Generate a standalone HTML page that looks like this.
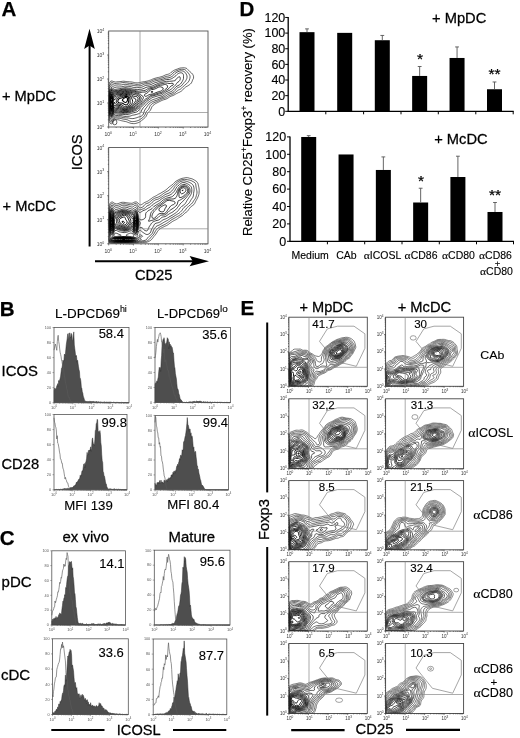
<!DOCTYPE html>
<html><head><meta charset="utf-8"><style>
html,body{margin:0;padding:0;background:#fff;}
svg{display:block;font-family:"Liberation Sans", sans-serif;filter:blur(0.3px);}
</style></head><body>
<svg width="520" height="738" viewBox="0 0 520 738">
<rect width="520" height="738" fill="#fff"/>
<clipPath id="c0"><rect x="108.70" y="31.00" width="99.30" height="96.00"/></clipPath>
<g clip-path="url(#c0)" fill="none" stroke="#000" stroke-linejoin="round"><path d="M185.9 68.1 184.4 67.8 182.9 67.8 181.4 67.9 179.9 68.1 179.0 68.4 178.0 68.8 177.0 69.2 175.6 69.6 174.5 70.1 173.5 70.6 172.8 71.1 172.0 71.7 171.0 72.5 170.5 73.0 169.5 73.7 168.5 74.1 167.5 74.4 166.0 74.8 165.1 75.1 164.1 75.6 163.1 76.1 162.1 76.5 161.0 76.8 159.6 77.2 158.6 77.4 157.1 77.7 156.1 78.0 154.9 78.3 153.6 78.7 152.6 79.1 151.6 79.6 150.7 80.0 149.7 80.3 148.6 80.7 147.2 81.1 146.2 81.3 144.7 81.6 143.7 81.7 142.2 82.0 141.2 82.2 139.7 82.5 138.7 82.7 137.2 82.9 135.8 82.8 134.5 82.6 133.3 82.3 132.3 82.1 130.8 81.9 129.3 81.8 127.8 81.7 126.8 81.6 125.3 81.4 123.8 81.2 122.4 81.3 120.9 81.5 119.4 81.6 118.4 81.7 116.9 81.9 115.4 82.0 113.9 81.7 112.9 81.3 111.9 80.9 110.8 81.2 109.9 81.9 109.4 82.6 108.9 83.6 108.7 85.0 108.6 86.4 108.6 87.9 108.5 89.3 108.5 90.8 108.5 92.2 108.5 93.6 108.5 95.1 108.5 96.5 108.5 98.0 108.5 99.4 108.5 100.8 108.5 102.3 108.5 103.7 108.5 105.2 108.5 106.6 108.5 108.0 108.5 109.5 108.5 110.9 108.5 112.4 108.5 113.8 108.5 115.2 108.6 116.7 108.7 118.1 108.8 119.6 108.9 121.0 109.3 122.0 109.9 122.9 110.4 123.5 111.4 123.9 112.3 123.4 112.9 122.5 113.4 121.6 113.9 120.8 114.5 120.0 115.4 119.5 116.7 119.6 117.9 119.8 119.2 120.0 120.4 120.4 121.4 120.7 122.8 121.0 123.8 121.2 125.3 121.5 126.3 121.7 127.3 122.1 128.3 122.5 129.5 122.9 130.8 123.3 131.8 123.5 133.3 123.6 134.8 123.6 135.8 123.4 137.2 123.0 138.2 122.7 139.2 122.3 140.2 121.7 141.2 121.0 141.7 120.5 142.7 119.6 143.4 119.1 144.2 118.4 145.1 117.6 145.7 117.0 146.2 116.2 146.7 115.2 147.2 113.8 147.7 113.0 148.3 112.4 149.2 111.6 149.9 110.9 150.5 110.0 151.0 109.0 151.4 108.0 151.8 107.1 152.4 106.1 153.1 105.4 154.0 104.7 154.7 104.2 155.6 103.6 156.6 103.1 157.6 102.6 158.6 102.1 159.6 101.6 160.6 101.1 161.6 100.6 162.6 100.2 163.6 99.8 165.1 99.4 166.0 99.1 167.0 98.6 168.0 98.0 168.8 97.5 169.5 97.0 170.5 96.5 171.6 96.0 172.8 95.6 173.9 95.1 174.8 94.6 175.6 94.1 176.5 93.6 177.5 93.1 178.5 92.6 179.5 92.2 180.4 91.7 181.4 91.1 182.4 90.3 182.9 89.7 183.6 88.8 184.4 88.0 185.2 87.4 185.9 86.9 186.9 86.3 187.9 85.8 188.9 85.1 189.8 84.5 190.4 84.0 191.3 83.1 191.8 82.1 192.2 81.2 192.5 80.2 193.0 79.2 193.5 78.3 193.6 76.8 193.4 75.8 192.9 74.7 192.4 73.9 191.5 73.0 190.9 72.5 189.9 71.7 189.3 71.1 188.4 70.1 187.9 69.6 187.0 68.7 186.2 68.2 185.9 68.1" stroke-width="0.6"/><path d="M184.4 69.5 182.9 69.3 181.4 69.3 179.9 69.5 179.0 69.8 178.0 70.2 176.8 70.6 175.7 71.1 174.8 71.6 174.0 72.1 173.0 73.0 172.5 73.6 171.6 74.4 171.0 74.9 170.0 75.5 169.0 75.9 167.5 76.2 166.4 76.4 165.1 76.8 164.1 77.2 163.1 77.6 162.1 77.9 160.7 78.3 159.6 78.5 158.6 78.8 157.1 79.1 156.1 79.3 154.6 79.6 153.6 80.0 152.6 80.4 151.6 80.9 150.7 81.4 149.7 81.8 148.4 82.1 147.2 82.3 145.7 82.6 144.7 82.7 143.2 83.1 142.2 83.4 141.2 83.7 140.2 84.0 138.7 84.3 137.2 84.4 135.8 84.3 134.5 84.0 133.3 83.8 132.1 83.6 130.8 83.4 129.3 83.4 127.8 83.1 126.8 82.9 125.3 82.7 124.3 82.5 122.9 82.6 121.9 82.7 120.4 83.0 119.4 83.1 117.9 83.2 116.4 83.4 114.9 83.5 113.5 83.1 112.6 82.6 111.4 82.4 110.4 83.0 109.9 83.6 109.1 84.5 108.9 85.5 108.7 86.9 108.6 88.4 108.6 89.8 108.6 91.2 108.5 92.7 108.5 94.1 108.5 95.6 108.5 97.0 108.5 98.4 108.5 99.9 108.5 101.3 108.5 102.8 108.5 104.2 108.5 105.6 108.5 107.1 108.5 108.5 108.5 110.0 108.5 111.4 108.5 112.8 108.6 114.3 108.6 115.7 108.7 117.2 108.8 118.6 109.0 119.6 109.5 120.5 110.1 121.5 110.9 122.1 111.9 121.9 112.7 121.0 113.3 120.0 113.9 119.1 114.4 118.5 115.4 118.1 116.7 118.1 117.9 118.2 119.4 118.3 120.9 118.5 121.9 118.8 123.2 119.1 124.3 119.3 125.8 119.5 126.8 119.7 127.9 120.0 128.8 120.5 129.8 121.0 131.2 121.5 132.3 121.6 133.8 121.5 134.8 121.4 136.3 121.1 137.2 120.8 138.2 120.5 139.2 120.0 140.2 119.4 141.2 118.7 142.0 118.1 142.7 117.5 143.7 116.7 144.2 116.2 144.8 115.2 145.2 114.3 145.7 112.8 146.2 111.9 146.7 111.3 147.5 110.4 148.2 109.7 148.7 109.0 149.2 108.0 149.7 106.7 150.2 105.7 150.7 105.1 151.6 104.2 152.3 103.7 153.1 103.2 154.1 102.7 155.1 102.3 156.3 101.8 157.4 101.3 158.5 100.8 159.4 100.4 160.3 99.9 161.2 99.4 162.3 98.9 163.6 98.5 164.6 98.2 165.5 97.8 166.5 97.2 167.5 96.6 168.4 96.0 169.4 95.6 170.5 95.1 171.5 94.7 172.5 94.3 173.5 93.8 174.5 93.2 175.2 92.7 176.0 92.0 176.8 91.2 177.5 90.7 178.5 90.0 179.5 89.6 180.4 89.2 181.4 88.4 181.9 87.8 182.8 86.9 183.4 86.3 184.4 85.5 185.0 85.0 185.9 84.2 186.7 83.6 187.4 82.9 188.1 82.1 188.8 81.2 189.3 80.2 189.6 79.2 189.9 78.3 190.1 76.8 189.9 75.6 189.4 74.6 188.9 73.8 188.2 73.0 187.4 72.0 186.9 71.5 186.1 70.6 185.4 70.0 184.4 69.5" stroke-width="0.63"/><path d="M182.9 71.0 181.4 70.8 179.9 71.0 179.0 71.3 178.0 71.7 177.0 72.1 176.0 72.7 175.1 73.5 174.5 74.1 173.8 74.9 173.0 75.6 172.1 76.4 171.3 76.8 170.3 77.3 169.0 77.7 168.0 77.9 166.5 78.0 165.1 78.3 164.1 78.7 163.1 79.1 162.1 79.4 160.6 79.7 159.6 79.9 158.4 80.2 157.1 80.5 156.1 80.7 154.6 81.1 153.6 81.5 152.6 81.9 151.6 82.4 150.7 82.9 149.7 83.3 148.4 83.6 147.2 83.7 145.7 83.8 144.7 84.0 143.4 84.5 142.4 85.0 141.3 85.5 140.2 85.7 138.7 85.9 137.2 85.9 135.8 85.8 134.3 85.6 133.3 85.4 131.8 85.1 130.3 85.0 129.3 85.0 127.8 84.7 126.7 84.5 125.3 84.3 123.8 84.3 122.9 84.6 121.4 84.9 119.9 85.0 118.4 84.9 116.9 85.0 115.9 85.1 114.4 85.2 113.4 84.8 112.4 84.2 111.4 84.0 110.5 84.5 109.9 85.1 109.3 86.0 108.9 86.9 108.8 88.4 108.7 89.8 108.6 91.2 108.6 92.7 108.5 94.1 108.5 95.6 108.5 97.0 108.5 98.4 108.5 99.9 108.5 101.3 108.5 102.8 108.5 104.2 108.5 105.6 108.5 107.1 108.5 108.5 108.5 110.0 108.5 111.4 108.6 112.8 108.6 114.3 108.7 115.7 108.9 117.2 109.1 118.1 109.6 119.1 110.3 120.0 110.9 120.5 111.9 120.3 112.5 119.6 113.2 118.6 113.9 117.6 114.4 117.2 115.9 116.8 117.4 116.9 118.9 116.9 120.4 117.0 121.5 117.2 122.9 117.5 123.8 117.7 125.3 117.9 126.8 117.9 128.3 118.0 129.3 118.2 130.8 118.5 131.8 118.6 132.8 118.6 134.3 118.4 135.3 118.1 136.8 117.7 137.7 117.3 138.7 117.0 140.0 116.7 141.2 116.2 142.0 115.7 142.7 115.1 143.2 114.3 143.7 113.0 144.0 111.9 144.4 110.9 144.8 110.0 145.4 109.0 146.1 108.0 146.7 107.3 147.2 106.6 147.8 105.6 148.5 104.7 149.2 103.9 150.0 103.2 150.7 102.8 151.6 102.2 152.6 101.7 153.6 101.3 154.9 100.8 156.1 100.4 157.1 100.0 158.1 99.6 159.1 99.1 160.1 98.6 161.1 98.2 162.1 97.8 163.1 97.4 164.1 97.0 165.1 96.4 166.0 95.7 166.9 95.1 167.7 94.6 168.9 94.1 170.0 93.7 171.0 93.4 172.0 93.0 173.0 92.5 174.0 91.7 174.5 91.2 175.3 90.3 176.0 89.3 176.5 88.7 177.4 87.9 178.4 87.4 179.5 87.0 180.4 86.5 181.2 86.0 181.9 85.2 182.6 84.5 183.3 83.6 183.9 82.8 184.6 82.1 185.4 81.2 185.9 80.4 186.4 79.4 186.9 78.3 187.0 77.3 187.0 75.9 186.6 74.9 186.2 74.0 185.6 73.0 184.9 72.2 184.2 71.6 183.2 71.1 182.9 71.0" stroke-width="0.66"/><path d="M181.9 72.9 180.4 72.8 179.5 73.0 178.4 73.5 177.5 74.1 176.6 74.9 176.0 75.6 175.1 76.4 174.5 76.8 173.5 77.5 172.5 78.2 171.5 78.7 170.5 79.1 169.5 79.4 168.0 79.5 166.5 79.5 165.4 79.7 164.1 80.2 163.1 80.5 162.1 80.8 160.6 81.1 159.6 81.3 158.4 81.6 157.2 82.1 156.1 82.5 155.1 82.7 154.1 83.1 152.9 83.6 152.1 84.0 151.1 84.5 149.7 84.9 148.7 85.1 147.2 85.2 145.7 85.4 144.7 85.8 143.7 86.3 142.7 86.8 141.7 87.2 140.7 87.4 139.2 87.6 137.7 87.6 136.3 87.7 134.8 87.6 133.4 87.4 132.3 87.1 131.3 86.8 129.8 86.6 128.5 86.4 127.3 86.3 125.8 86.1 124.3 86.2 123.3 86.5 121.9 86.8 120.9 86.9 119.4 87.0 117.9 87.0 116.4 87.1 114.9 87.4 113.5 86.9 112.9 86.4 111.9 85.8 110.8 86.0 109.9 86.7 109.4 87.5 108.9 88.5 108.8 89.8 108.7 91.2 108.7 92.7 108.6 94.1 108.6 95.6 108.5 97.0 108.5 98.4 108.5 99.9 108.5 101.3 108.5 102.8 108.5 104.2 108.5 105.6 108.5 107.1 108.5 108.5 108.6 110.0 108.6 111.4 108.7 112.8 108.8 114.3 108.9 115.7 109.3 116.7 109.7 117.6 110.4 118.6 111.4 119.0 112.4 118.2 112.9 117.5 113.6 116.7 114.4 115.8 115.4 115.4 116.9 115.5 118.4 115.6 119.9 115.6 121.0 115.7 122.4 115.9 123.6 116.2 124.8 116.4 126.3 116.4 127.8 116.3 129.3 116.2 130.3 116.0 131.3 115.7 132.6 115.2 133.8 115.0 135.0 114.8 136.3 114.5 137.2 114.2 138.4 113.8 139.5 113.3 140.2 112.8 141.0 111.9 141.4 110.9 141.8 110.0 142.4 109.0 143.1 108.0 143.7 107.3 144.4 106.6 145.2 105.8 145.7 105.2 146.5 104.2 147.2 103.4 147.9 102.8 148.7 102.1 149.7 101.5 150.6 100.8 151.4 100.4 152.4 99.9 153.6 99.4 154.6 99.1 155.6 98.8 156.6 98.4 157.7 98.0 159.0 97.5 160.1 97.2 161.1 96.9 162.1 96.5 163.1 96.0 164.1 95.3 164.9 94.6 165.5 94.1 166.5 93.4 167.5 93.0 168.5 92.6 169.6 92.2 170.9 91.7 171.8 91.2 172.5 90.7 173.5 89.8 174.0 89.2 174.7 88.4 175.5 87.4 176.0 86.9 177.0 86.1 178.0 85.6 179.0 85.1 179.9 84.5 180.5 84.0 181.2 83.1 181.8 82.1 182.4 81.2 182.9 80.2 183.3 79.2 183.5 78.3 183.5 76.8 183.5 75.4 183.3 74.4 182.8 73.5 181.9 72.9" stroke-width="0.69"/><path d="M179.5 76.7 178.5 77.1 177.5 77.8 176.9 78.3 176.1 79.2 175.6 80.2 175.0 80.7 173.5 80.9 172.0 81.1 171.0 81.2 169.5 81.3 168.0 81.3 166.5 81.3 165.1 81.5 164.1 81.8 163.0 82.1 161.6 82.4 160.4 82.6 159.1 83.0 158.1 83.4 157.1 83.9 156.1 84.3 155.1 84.7 154.1 85.1 153.1 85.6 152.1 86.0 150.7 86.4 149.7 86.6 148.2 86.8 147.2 87.1 146.1 87.4 145.0 87.9 144.1 88.4 142.9 88.8 141.7 89.2 140.7 89.4 139.2 89.5 137.7 89.6 136.3 89.5 134.8 89.3 133.8 89.2 132.3 88.9 131.3 88.6 130.3 88.3 128.8 88.1 127.5 87.9 126.3 87.7 124.8 87.7 123.8 87.9 122.4 88.2 121.4 88.4 119.9 88.7 118.7 88.8 117.4 89.0 115.9 89.3 114.9 89.4 113.9 89.2 112.9 88.5 112.3 87.9 110.9 87.6 110.1 88.4 109.6 89.3 109.2 90.3 108.9 91.2 108.8 92.7 108.7 94.1 108.6 95.6 108.6 97.0 108.6 98.4 108.6 99.9 108.6 101.3 108.6 102.8 108.6 104.2 108.6 105.6 108.6 107.1 108.6 108.5 108.7 110.0 108.7 111.4 108.8 112.8 108.9 114.2 109.4 115.2 109.8 116.2 110.4 117.1 111.4 117.5 112.4 116.8 112.9 116.1 113.5 115.2 114.3 114.3 115.4 113.9 116.9 114.0 118.4 114.2 119.9 114.3 120.9 114.3 122.4 114.4 123.8 114.5 125.3 114.6 126.8 114.5 128.3 114.3 129.3 114.1 130.3 113.8 131.6 113.3 132.8 112.9 133.8 112.7 135.1 112.4 136.3 112.1 137.2 111.7 138.2 111.0 138.7 110.4 139.3 109.5 140.0 108.5 140.7 107.7 141.4 107.1 142.2 106.3 142.9 105.6 143.7 104.8 144.2 104.2 145.0 103.2 145.7 102.5 146.4 101.8 147.2 101.1 148.2 100.4 149.0 99.9 149.7 99.4 150.7 98.7 151.6 98.0 152.6 97.5 153.6 97.2 154.6 96.9 155.8 96.5 157.1 96.1 158.1 95.8 159.4 95.6 160.6 95.4 161.6 95.1 162.6 94.5 163.6 93.7 164.2 93.2 165.1 92.5 166.0 91.9 167.0 91.4 168.0 91.0 169.0 90.5 170.0 90.0 170.9 89.3 171.6 88.8 172.5 88.0 173.2 87.4 174.0 86.6 174.6 86.0 175.5 85.0 176.0 84.3 176.5 83.6 177.2 82.6 178.0 82.1 179.0 81.4 179.6 80.7 180.1 79.7 180.3 78.3 179.9 76.9 179.5 76.7" stroke-width="0.72"/><path d="M167.0 83.1 165.5 83.0 164.6 83.1 163.1 83.5 162.1 83.7 160.6 83.9 159.6 84.2 158.6 84.6 157.6 85.0 156.6 85.5 155.6 86.0 154.6 86.4 153.6 86.9 152.1 87.4 151.2 87.5 149.7 87.9 148.7 88.2 147.7 88.8 146.9 89.3 146.2 89.8 145.2 90.3 143.7 90.6 142.2 90.7 141.2 90.9 139.7 91.2 138.2 91.2 136.8 90.9 135.8 90.7 134.3 90.4 133.3 90.2 131.8 89.9 130.8 89.7 129.3 89.3 128.3 89.1 126.8 88.9 125.8 88.8 124.4 88.8 123.3 89.0 122.0 89.3 120.9 89.6 119.7 89.8 118.4 90.0 117.0 90.3 115.9 90.5 114.4 90.6 113.4 90.1 112.5 89.3 111.8 88.8 110.9 88.8 110.1 89.8 109.6 90.8 109.2 91.7 108.9 92.7 108.8 94.1 108.7 95.6 108.7 97.0 108.6 98.4 108.6 99.9 108.6 101.3 108.6 102.8 108.6 104.2 108.6 105.6 108.6 107.1 108.7 108.5 108.7 110.0 108.8 111.4 108.9 112.8 109.2 113.8 109.6 114.8 110.2 115.7 110.9 116.5 112.0 116.2 112.8 115.2 113.4 114.3 113.9 113.5 114.5 112.8 115.9 112.6 117.4 112.8 118.4 113.0 119.9 113.1 121.4 113.2 122.9 113.3 124.3 113.3 125.8 113.2 127.3 113.1 128.8 112.9 129.8 112.6 130.8 112.3 131.8 111.9 133.0 111.4 134.3 111.0 135.3 110.7 136.3 110.3 137.2 109.6 137.8 109.0 138.6 108.0 139.2 107.4 140.0 106.6 140.7 105.9 141.5 105.2 142.2 104.4 142.8 103.7 143.6 102.8 144.2 102.0 144.8 101.3 145.7 100.5 146.5 99.9 147.3 99.4 148.2 98.8 149.2 98.0 149.8 97.5 150.7 96.8 151.6 96.3 152.6 96.0 154.1 95.6 155.1 95.3 156.1 94.9 157.1 94.6 158.6 94.2 159.6 94.0 161.1 93.7 162.1 93.2 162.9 92.7 163.6 92.1 164.6 91.3 165.4 90.8 166.2 90.3 167.1 89.8 168.0 89.2 169.0 88.4 169.5 87.7 170.1 86.9 171.0 86.0 172.0 85.6 173.0 85.1 173.5 84.2 173.2 83.6 172.0 83.2 170.5 83.5 169.0 83.5 167.5 83.2 167.0 83.1" stroke-width="0.75"/><path d="M165.5 84.5 164.5 84.5 163.1 84.9 162.1 85.1 160.6 85.2 159.1 85.5 158.1 85.9 157.1 86.4 156.1 86.9 155.1 87.4 154.1 87.8 153.1 88.2 152.0 88.4 150.7 88.6 149.7 89.0 148.7 89.7 148.0 90.3 147.2 91.1 146.2 91.7 145.2 92.0 143.7 92.1 142.4 92.2 141.2 92.4 139.7 92.5 138.2 92.3 137.2 92.0 136.3 91.7 134.8 91.3 133.8 91.1 132.3 90.8 131.3 90.6 129.9 90.3 128.8 90.0 127.3 89.8 126.3 89.7 124.8 89.6 123.3 89.7 122.4 89.9 120.9 90.3 119.9 90.5 118.5 90.8 117.4 91.0 115.9 91.2 114.9 91.4 113.9 91.2 112.9 90.5 112.1 89.8 110.9 89.6 110.3 90.3 109.8 91.2 109.4 92.2 108.9 93.5 108.8 94.6 108.8 96.0 108.7 97.5 108.6 98.9 108.6 100.4 108.6 101.8 108.6 103.2 108.7 104.7 108.7 106.1 108.7 107.6 108.8 109.0 108.8 110.4 108.9 111.9 109.2 112.8 109.5 113.8 110.0 114.8 110.8 115.7 111.8 115.7 112.4 115.2 113.0 114.3 113.5 113.3 114.1 112.4 114.9 111.7 116.4 111.7 117.6 111.9 118.9 112.1 120.4 112.3 121.4 112.4 122.9 112.5 124.3 112.5 125.8 112.4 127.3 112.4 128.3 112.2 129.6 111.9 130.7 111.4 131.7 110.9 132.8 110.4 133.8 110.0 134.8 109.7 135.8 109.2 136.8 108.6 137.3 108.0 138.2 107.1 138.7 106.6 139.7 105.6 140.2 105.1 141.0 104.2 141.7 103.3 142.2 102.6 142.8 101.8 143.6 100.8 144.2 100.2 145.0 99.4 145.7 98.9 146.7 98.3 147.7 97.7 148.5 97.0 149.2 96.5 150.2 95.8 151.2 95.4 152.4 95.1 153.6 94.8 154.6 94.5 155.6 94.1 156.7 93.6 158.1 93.2 159.1 92.9 160.1 92.7 161.6 92.3 162.5 91.7 163.1 91.2 164.1 90.4 164.7 89.8 165.5 89.2 166.5 88.5 167.1 87.9 167.6 86.9 167.5 85.8 166.8 85.0 165.8 84.5 165.5 84.5" stroke-width="0.78"/><path d="M127.8 90.7 126.3 90.5 124.8 90.4 123.3 90.6 122.2 90.8 120.9 91.0 119.8 91.2 118.4 91.5 117.4 91.7 115.9 92.0 114.9 92.2 113.9 92.1 112.9 91.3 112.3 90.8 110.9 90.5 110.3 91.2 109.8 92.2 109.4 93.2 108.9 94.6 108.9 95.6 108.8 97.0 108.7 98.4 108.7 99.9 108.7 101.3 108.7 102.8 108.7 104.2 108.7 105.6 108.7 107.1 108.8 108.5 108.9 110.0 109.0 110.9 109.3 112.4 109.7 113.3 110.1 114.3 110.9 115.2 111.5 115.2 112.4 114.5 112.9 113.6 113.4 112.6 113.9 111.7 114.6 110.9 115.9 110.6 117.4 110.8 118.5 110.9 119.9 111.3 120.9 111.5 122.4 111.8 123.8 111.8 125.3 111.7 126.8 111.7 128.3 111.5 129.3 111.2 130.3 110.7 131.3 110.1 132.3 109.7 133.3 109.2 134.3 108.8 135.3 108.3 136.3 107.7 136.9 107.1 137.7 106.1 138.2 105.5 139.0 104.7 139.7 103.9 140.3 103.2 140.9 102.3 141.5 101.3 142.1 100.4 142.7 99.4 143.2 98.4 143.4 97.5 143.1 96.5 142.2 95.9 141.2 95.1 140.5 94.6 139.7 94.1 138.7 93.6 137.5 93.2 136.3 92.7 135.3 92.3 134.3 92.1 132.8 91.8 131.8 91.6 130.3 91.3 129.3 91.0 128.0 90.8 127.8 90.7 M160.6 86.8 159.1 86.9 158.1 87.3 157.1 87.9 156.2 88.4 155.2 88.8 154.1 89.2 153.1 89.4 151.6 89.6 150.7 89.9 149.7 90.6 149.0 91.2 148.2 92.2 147.7 92.7 146.7 93.3 145.7 93.7 144.7 94.4 144.4 95.6 145.2 96.3 146.7 96.1 147.6 95.6 148.3 95.1 149.2 94.6 150.7 94.3 152.1 94.1 153.1 93.9 154.1 93.5 155.1 93.0 156.1 92.6 157.2 92.2 158.6 91.7 159.6 91.4 160.6 91.2 161.7 90.8 162.6 89.9 163.1 89.0 163.1 87.9 162.4 87.4 161.1 87.0 160.6 86.8" stroke-width="0.81"/><path d="M111.4 91.1 110.5 91.7 110.0 92.7 109.6 93.6 109.2 94.6 108.9 95.7 108.8 97.0 108.8 98.4 108.7 99.9 108.7 101.3 108.8 102.8 108.8 104.2 108.8 105.6 108.8 107.1 108.9 108.5 109.0 109.5 109.2 110.9 109.5 111.9 109.9 113.2 110.4 114.1 111.4 114.6 112.4 113.8 112.9 112.8 113.3 111.9 113.8 110.9 114.4 110.0 115.4 109.6 116.9 109.6 118.4 109.8 119.4 110.0 120.5 110.4 121.9 110.9 122.9 111.0 124.3 111.1 125.8 111.1 127.3 111.0 128.3 110.7 129.3 110.3 130.3 109.7 131.3 109.2 132.3 108.7 133.3 108.2 134.3 107.8 135.3 107.2 135.9 106.6 136.7 105.6 137.2 104.9 137.8 104.2 138.7 103.2 139.2 102.6 139.8 101.8 140.2 100.8 140.7 99.8 141.2 98.4 140.9 97.0 140.2 96.1 139.7 95.6 138.7 94.9 137.7 94.3 136.8 93.9 135.8 93.6 134.3 93.2 133.3 93.0 132.0 92.7 130.8 92.3 129.8 92.0 128.8 91.7 127.3 91.5 125.8 91.4 124.3 91.4 122.9 91.5 121.5 91.7 120.4 91.9 118.9 92.2 117.9 92.4 116.7 92.7 115.4 93.1 114.4 93.2 113.4 92.7 112.9 92.2 111.9 91.3 111.4 91.1 M152.6 91.4 151.2 91.7 151.2 92.2 152.6 92.3 152.6 91.4" stroke-width="0.84"/><path d="M111.9 92.0 110.8 92.2 110.1 93.2 109.7 94.1 109.4 95.1 109.0 96.5 108.9 97.5 108.8 98.9 108.8 100.4 108.8 101.8 108.8 103.2 108.9 104.7 108.9 106.1 108.9 107.6 109.0 108.5 109.3 110.0 109.5 110.9 109.9 112.4 110.4 113.3 110.9 113.9 111.9 113.7 112.5 112.8 112.9 111.9 113.4 110.7 113.9 109.6 114.4 108.9 115.4 108.4 116.9 108.4 117.9 108.5 119.4 108.9 120.4 109.4 121.4 109.8 122.4 110.2 123.8 110.4 125.3 110.4 126.8 110.3 128.2 110.0 129.1 109.5 129.9 109.0 130.8 108.5 131.8 108.0 132.8 107.5 133.8 107.0 134.8 106.2 135.3 105.6 136.0 104.7 136.7 103.7 137.2 103.1 138.0 102.3 138.6 101.3 139.1 100.4 139.5 99.4 139.7 98.0 139.2 96.9 138.5 96.0 137.7 95.6 136.5 95.1 135.3 94.8 133.8 94.6 132.8 94.2 131.8 93.7 130.8 93.2 129.8 92.8 128.8 92.5 127.3 92.3 125.8 92.2 124.3 92.3 122.9 92.5 121.4 92.6 120.4 92.8 118.9 93.0 117.9 93.2 116.5 93.6 115.4 94.1 114.4 94.2 113.4 93.6 112.9 93.0 112.1 92.2 111.9 92.0" stroke-width="0.86"/><path d="M111.4 92.7 110.7 93.2 110.1 94.1 109.7 95.1 109.4 96.1 109.1 97.5 108.9 98.4 108.9 99.9 108.9 101.3 108.9 102.8 108.9 104.0 109.0 105.2 109.0 106.6 109.2 108.0 109.4 109.3 109.7 110.4 109.9 111.4 110.4 112.6 111.4 113.3 112.3 112.4 112.8 111.4 113.1 110.4 113.5 109.5 113.9 108.3 114.4 107.4 115.4 107.0 116.5 107.1 117.9 107.3 118.9 107.6 119.9 108.0 120.9 108.5 121.9 109.1 123.0 109.5 124.3 109.7 125.8 109.7 127.2 109.5 128.3 109.0 129.1 108.5 130.0 108.0 130.9 107.6 131.8 107.1 132.8 106.5 133.8 105.6 134.3 105.0 134.9 104.2 135.6 103.2 136.3 102.5 136.8 101.8 137.5 100.8 137.9 99.9 138.1 98.4 137.7 97.4 136.8 96.7 135.3 96.5 134.3 96.4 133.3 96.0 132.3 95.3 131.3 94.6 130.5 94.1 129.6 93.6 128.3 93.2 127.3 93.0 125.8 93.0 124.6 93.2 123.3 93.4 121.9 93.6 120.9 93.6 119.4 93.8 117.9 94.1 116.9 94.4 115.9 95.0 114.9 95.5 113.8 95.1 113.0 94.1 112.4 93.3 111.4 92.7 111.4 92.7" stroke-width="0.89"/><path d="M111.4 93.4 110.6 94.1 110.1 95.1 109.8 96.0 109.4 97.2 109.1 98.4 109.0 99.9 109.0 101.3 109.1 102.8 109.2 104.2 109.2 105.6 109.3 107.1 109.5 108.0 109.7 109.5 110.0 110.4 110.4 111.8 110.9 112.4 111.9 112.1 112.4 111.3 112.9 110.0 113.2 109.0 113.5 108.0 113.8 106.6 114.3 105.6 115.4 105.5 116.4 105.8 117.7 106.1 118.9 106.5 119.9 106.9 120.9 107.4 121.9 108.0 122.9 108.5 123.8 108.8 125.3 109.0 126.8 108.7 127.8 108.3 128.8 107.7 129.8 107.2 130.8 106.7 131.7 106.1 132.3 105.6 133.0 104.7 133.7 103.7 134.3 102.9 134.8 102.2 135.4 101.3 135.9 100.4 135.8 99.2 134.8 98.4 133.8 98.0 133.1 97.5 132.3 96.8 131.5 96.0 130.8 95.4 129.8 94.7 128.8 94.1 127.8 93.8 126.3 93.7 124.8 93.9 123.8 94.2 122.4 94.5 121.0 94.6 119.9 94.6 118.4 94.9 117.4 95.3 116.4 96.0 115.9 96.6 114.9 97.2 113.9 96.7 113.4 95.9 112.9 95.0 112.4 94.1 111.4 93.4" stroke-width="0.92"/><path d="M127.3 94.5 125.8 94.5 124.8 94.8 123.8 95.1 122.4 95.5 121.4 95.6 119.9 95.7 118.4 96.0 117.7 96.5 116.9 97.4 116.4 98.0 115.6 98.9 114.9 99.7 114.3 99.9 113.9 98.9 113.4 97.5 113.1 96.5 112.7 95.6 112.0 94.6 110.9 94.5 110.4 95.2 109.9 96.5 109.6 97.5 109.4 98.5 109.3 99.9 109.3 101.3 109.4 102.8 109.4 104.2 109.5 105.2 109.5 106.6 109.7 108.0 109.9 109.1 110.3 110.4 110.8 111.4 111.8 111.4 112.4 110.4 112.7 109.5 113.0 108.5 113.3 107.1 113.4 105.7 113.6 104.7 113.9 103.3 114.4 102.3 114.9 103.3 115.7 104.2 116.6 104.7 117.9 105.1 118.9 105.3 120.0 105.6 121.1 106.1 121.9 106.6 122.9 107.3 123.8 107.8 124.8 108.1 125.8 108.0 127.2 107.6 128.0 107.1 129.0 106.6 129.9 106.1 130.8 105.5 131.5 104.7 132.0 103.7 132.3 102.6 132.7 101.3 132.4 99.9 131.9 98.9 131.5 98.0 130.9 97.0 130.3 96.3 129.5 95.6 128.8 95.1 127.6 94.6 127.3 94.5" stroke-width="0.95"/><path d="M111.9 95.4 110.8 95.6 110.3 96.5 109.9 97.5 109.6 98.9 109.5 100.4 109.6 101.8 109.6 103.2 109.7 104.7 109.7 106.1 109.9 107.6 110.1 108.5 110.4 109.8 110.9 110.7 111.9 110.4 112.4 109.2 112.7 108.0 112.9 106.6 113.0 105.6 113.2 104.2 113.2 102.8 113.3 101.3 113.3 99.9 113.1 98.4 112.9 97.5 112.4 96.2 111.9 95.4 M127.3 95.4 125.8 95.4 124.8 95.6 123.8 96.0 122.5 96.5 121.4 96.7 119.9 96.9 118.9 97.3 118.1 98.0 117.4 98.8 116.9 99.5 116.4 100.5 116.2 101.8 116.4 102.8 117.4 103.7 118.4 104.0 119.4 104.2 120.9 104.5 121.9 104.9 122.9 105.6 123.5 106.1 124.3 106.7 125.8 106.8 126.8 106.5 127.8 106.0 128.8 105.5 129.8 104.7 130.2 103.7 130.1 102.3 130.0 100.8 130.1 99.4 129.9 98.0 129.5 97.0 128.8 96.2 127.8 95.6 127.3 95.4" stroke-width="0.98"/><path d="M111.4 96.0 110.7 96.5 110.3 97.5 109.9 98.8 109.8 99.9 109.8 101.3 109.9 102.8 109.9 104.2 110.0 105.2 110.1 106.6 110.3 108.0 110.6 109.0 111.4 109.9 112.1 109.0 112.4 107.7 112.6 106.6 112.7 105.2 112.8 103.7 112.8 102.3 112.8 100.8 112.8 99.4 112.6 98.0 112.2 97.0 111.5 96.0 111.4 96.0 M127.3 96.5 125.8 96.3 124.8 96.6 123.8 97.1 122.9 97.5 121.4 98.0 120.4 98.2 119.4 98.6 118.5 99.4 118.0 100.4 117.7 101.3 118.2 102.3 119.1 102.8 120.4 103.0 121.9 103.1 122.9 103.4 123.8 104.0 124.8 104.6 125.8 104.9 126.8 104.7 127.8 104.0 128.3 103.0 128.5 101.8 128.7 100.4 128.8 98.9 128.4 97.5 127.8 96.8 127.3 96.5" stroke-width="1.01"/><path d="M111.4 96.9 110.7 97.5 110.3 98.4 110.1 99.9 110.1 101.3 110.1 102.8 110.2 104.2 110.3 105.6 110.4 107.0 110.7 108.0 111.4 108.8 111.9 108.0 112.2 106.6 112.3 105.2 112.4 103.7 112.4 102.8 112.4 101.3 112.4 99.9 112.3 98.9 111.9 97.5 111.4 96.9 M126.3 97.5 125.3 97.5 124.3 98.0 123.3 98.8 122.7 99.4 122.3 100.4 122.9 100.9 123.8 101.7 124.8 102.2 125.8 102.4 126.8 101.8 127.3 100.8 127.5 99.9 127.4 98.4 126.8 97.7 126.3 97.5" stroke-width="1.04"/><path d="M111.4 98.1 110.7 98.9 110.4 100.1 110.4 101.3 110.4 102.4 110.5 103.7 110.6 105.2 110.8 106.6 111.4 107.3 111.8 106.1 111.9 105.2 112.0 103.7 112.1 102.3 112.1 100.8 112.0 99.4 111.7 98.4 111.4 98.1" stroke-width="1.07"/><path d="M111.4 100.3 110.9 100.8 110.9 102.1 111.3 103.2 111.5 102.8 111.5 101.3 111.4 100.3" stroke-width="1.1"/></g>
<ellipse cx="114.7" cy="122.2" rx="2.2" ry="2.6" fill="none" stroke="#000" stroke-width="0.6"/>
<clipPath id="c1"><rect x="108.70" y="147.50" width="99.30" height="96.30"/></clipPath>
<g clip-path="url(#c1)" fill="none" stroke="#000" stroke-linejoin="round"><path d="M188.9 178.0 187.4 177.7 185.9 177.7 184.4 177.9 183.4 178.1 181.9 178.4 180.9 178.8 179.9 179.1 179.0 179.6 178.0 180.1 177.0 180.6 176.0 181.3 175.1 181.9 174.5 182.6 173.7 183.4 173.0 184.1 172.2 184.8 171.5 185.3 170.5 186.0 169.5 186.7 168.9 187.2 168.0 188.0 167.4 188.7 166.5 189.4 165.6 190.1 164.9 190.6 164.1 191.1 163.1 191.7 162.1 192.3 161.1 192.9 160.1 193.5 159.1 194.0 158.3 194.4 157.5 194.9 156.6 195.5 155.6 196.0 154.6 196.5 153.6 197.0 152.6 197.6 151.7 198.3 151.0 198.8 150.2 199.4 149.2 200.1 148.4 200.7 147.6 201.2 146.5 201.7 145.4 202.2 144.4 202.6 143.7 203.1 142.7 203.9 141.7 204.5 140.7 204.9 139.4 204.6 138.7 204.0 138.0 203.1 137.2 202.4 136.3 201.9 134.8 202.0 133.8 202.5 132.8 203.0 131.8 203.3 130.3 203.2 129.0 203.1 127.8 202.9 126.3 202.7 125.3 202.5 123.8 202.3 122.4 202.3 120.9 202.5 119.9 202.9 118.9 203.3 117.9 203.7 116.4 203.9 115.0 203.6 114.2 203.1 113.4 202.5 112.4 202.0 111.4 202.2 110.4 202.8 109.9 203.6 109.4 204.6 108.9 205.5 108.8 207.0 108.7 208.4 108.6 209.9 108.6 211.3 108.5 212.7 108.5 214.2 108.5 215.6 108.5 217.1 108.5 218.5 108.5 220.0 108.5 221.4 108.5 222.9 108.5 224.3 108.5 225.7 108.5 227.2 108.5 228.6 108.5 230.1 108.6 231.5 108.6 233.0 108.6 234.4 108.6 235.9 108.6 237.3 108.5 238.7 108.5 240.2 108.6 241.6 109.0 242.6 110.1 243.1 111.1 243.6 112.4 243.6 113.9 243.6 114.9 243.5 116.4 243.4 117.9 243.4 119.4 243.5 120.9 243.4 122.4 243.4 123.8 243.3 125.3 243.3 126.8 243.3 128.3 243.4 129.8 243.3 131.3 243.2 132.8 243.1 134.3 243.2 135.8 243.3 137.2 243.3 138.4 243.1 139.7 242.9 141.2 242.7 142.7 242.7 144.2 242.7 145.5 242.6 146.7 242.3 147.7 241.9 148.7 241.5 149.7 240.9 150.7 240.3 151.4 239.7 152.1 238.9 152.6 238.2 153.3 237.3 154.0 236.3 154.6 235.7 155.3 234.9 156.0 233.9 156.6 233.0 157.1 232.1 157.6 231.4 158.2 230.6 159.1 229.6 159.7 229.1 160.6 228.5 161.6 227.9 162.6 227.3 163.6 226.9 164.6 226.4 165.5 226.0 166.5 225.6 167.5 225.0 168.5 224.3 169.1 223.8 170.0 223.2 171.0 222.5 171.9 221.9 172.6 221.4 173.5 220.9 174.5 220.4 175.5 219.9 176.5 219.4 177.5 218.7 178.4 218.0 179.1 217.6 179.9 217.0 180.9 216.4 181.9 215.8 182.8 215.2 183.4 214.6 184.3 213.7 184.9 213.1 185.9 212.4 186.8 211.8 187.4 211.3 188.2 210.3 188.8 209.4 189.4 208.5 189.9 207.9 190.7 207.0 191.4 206.3 192.4 205.7 193.3 205.0 193.9 204.6 194.6 203.6 195.1 202.6 195.5 201.7 196.0 200.7 196.6 199.7 197.1 198.8 197.6 197.8 198.0 196.9 198.4 195.9 198.8 194.6 199.0 193.5 199.1 192.0 199.2 190.6 199.1 189.1 198.9 187.7 198.7 186.7 198.4 185.3 198.2 184.3 197.8 183.2 197.3 182.4 196.5 181.4 195.8 180.9 194.8 180.3 193.8 179.7 192.9 179.2 191.9 178.8 190.9 178.5 189.4 178.2 188.9 178.0" stroke-width="0.6"/><path d="M185.9 179.5 184.4 179.3 182.9 179.5 181.9 179.7 180.9 180.0 179.9 180.5 179.0 181.0 178.0 181.6 177.0 182.3 176.3 182.9 175.5 183.6 174.8 184.3 174.0 185.2 173.4 185.8 172.5 186.7 172.0 187.2 171.1 188.2 170.5 188.8 169.8 189.6 169.0 190.3 168.0 190.9 167.0 191.4 166.0 191.9 165.1 192.5 164.2 193.0 163.5 193.5 162.6 194.2 161.7 194.9 161.0 195.4 160.1 196.0 159.1 196.6 158.1 197.1 157.1 197.5 155.9 197.8 154.6 198.3 153.7 198.8 153.0 199.3 152.1 199.9 151.2 200.7 150.7 201.2 149.7 202.1 149.0 202.6 148.0 203.1 146.7 203.5 145.7 203.9 144.8 204.6 144.2 205.3 143.7 206.1 142.8 207.0 142.0 207.4 140.7 207.8 139.2 207.6 138.6 207.0 138.1 206.0 137.6 205.0 136.9 204.1 136.3 203.6 134.8 203.6 133.9 204.1 133.1 204.6 131.8 204.9 130.3 204.8 128.9 204.6 127.8 204.3 126.6 204.1 125.3 203.8 123.8 203.7 122.4 203.7 121.0 204.1 120.0 204.6 118.9 205.0 117.9 205.3 116.4 205.5 114.9 205.1 114.0 204.6 113.3 204.1 112.2 203.6 111.4 203.7 110.5 204.6 109.9 205.4 109.4 206.3 108.9 207.3 108.8 208.4 108.7 209.9 108.6 211.3 108.6 212.7 108.6 214.2 108.6 215.6 108.5 217.1 108.5 218.5 108.5 220.0 108.5 221.4 108.5 222.9 108.5 224.3 108.5 225.7 108.5 227.2 108.6 228.6 108.6 230.1 108.6 231.5 108.7 233.0 108.7 234.4 108.8 235.9 108.7 237.3 108.6 238.7 108.6 240.2 108.8 241.6 109.4 242.2 110.4 242.6 111.9 243.0 113.4 243.0 114.9 243.0 116.4 243.0 117.9 243.0 119.4 243.0 120.9 243.0 122.4 243.0 123.8 242.9 125.3 242.9 126.8 242.9 128.3 242.9 129.8 242.9 131.3 242.8 132.8 242.6 133.8 242.6 134.8 242.6 136.3 242.6 137.2 242.5 138.7 242.3 139.7 242.1 141.2 241.9 142.7 241.7 144.2 241.7 145.2 241.5 146.6 241.2 147.6 240.7 148.3 240.2 149.2 239.4 149.8 238.7 150.5 237.8 151.2 237.0 151.8 236.3 152.6 235.5 153.2 234.9 153.9 233.9 154.5 233.0 154.9 232.0 155.5 231.0 156.1 230.1 156.6 229.5 157.4 228.6 158.1 228.0 159.1 227.4 160.1 226.9 161.1 226.3 162.1 225.7 163.0 225.3 164.1 224.8 165.1 224.3 165.9 223.8 166.7 223.3 167.5 222.8 168.5 222.1 169.5 221.4 170.1 220.9 171.0 220.2 172.0 219.5 173.0 219.0 173.9 218.5 174.8 218.0 175.5 217.6 176.5 217.0 177.5 216.4 178.5 215.9 179.5 215.3 180.4 214.7 181.1 214.2 181.9 213.5 182.7 212.7 183.4 212.1 184.3 211.3 184.9 210.6 185.5 209.9 186.1 208.9 186.8 207.9 187.4 207.4 188.4 206.5 188.9 206.0 189.9 205.2 190.6 204.6 191.4 204.0 192.2 203.1 192.9 202.2 193.4 201.3 193.8 200.6 194.5 199.7 195.1 198.8 195.7 197.8 196.0 196.9 196.3 195.7 196.7 194.4 196.9 193.5 197.0 192.0 196.8 190.6 196.6 189.6 196.3 188.4 196.1 187.2 195.9 185.8 195.8 184.8 195.4 183.4 194.8 182.7 193.8 182.0 192.9 181.5 191.9 181.0 190.9 180.5 189.9 180.2 188.9 180.0 187.4 179.7 186.1 179.5 185.9 179.5" stroke-width="0.63"/><path d="M184.9 180.9 183.4 180.8 182.3 181.0 181.0 181.4 180.1 181.9 179.4 182.4 178.5 183.2 177.7 183.9 177.0 184.4 176.0 185.3 175.5 185.8 174.8 186.7 174.2 187.7 173.6 188.7 173.0 189.5 172.5 190.1 171.7 191.1 171.0 191.7 170.0 192.5 169.0 193.0 168.0 193.5 167.0 193.8 166.0 194.2 165.1 194.6 164.1 195.3 163.3 195.9 162.6 196.4 161.6 197.1 160.6 197.7 159.6 198.3 158.8 198.8 157.6 199.3 156.6 199.5 155.6 199.8 154.6 200.3 153.6 201.0 152.9 201.7 152.1 202.3 151.4 203.1 150.7 203.9 149.9 204.6 149.0 205.0 147.9 205.5 146.9 206.0 146.2 206.7 145.5 207.4 144.7 208.1 143.7 208.7 142.7 209.0 141.7 209.4 140.2 209.8 139.6 209.9 138.7 209.4 137.9 208.4 137.4 207.4 136.9 206.5 136.3 205.6 135.3 205.2 134.3 205.7 133.4 206.5 132.5 207.0 131.4 207.0 130.3 206.6 129.3 206.3 128.1 206.0 126.8 205.7 125.8 205.4 124.3 205.2 122.9 205.2 121.7 205.5 120.8 206.0 119.8 206.5 118.6 207.0 117.4 207.2 115.9 207.3 114.9 206.9 113.9 206.2 113.1 205.5 111.9 205.2 110.9 205.7 110.2 206.5 109.7 207.4 109.2 208.4 108.9 209.4 108.8 210.8 108.7 212.3 108.7 213.7 108.6 215.2 108.6 216.6 108.6 218.0 108.5 219.5 108.5 220.9 108.5 222.4 108.5 223.8 108.5 225.3 108.6 226.7 108.6 228.2 108.7 229.6 108.7 231.0 108.8 232.5 108.9 233.9 109.0 234.9 108.9 236.3 108.8 237.3 108.6 238.7 108.6 240.2 108.9 241.6 109.9 241.9 110.9 242.2 112.4 242.5 113.9 242.5 115.4 242.5 116.9 242.6 118.4 242.6 119.4 242.6 120.9 242.6 121.9 242.6 123.3 242.6 124.8 242.5 126.3 242.5 127.8 242.5 129.3 242.5 130.8 242.4 132.3 242.3 133.8 242.1 134.8 242.1 136.3 242.0 137.7 241.8 138.7 241.6 140.2 241.2 141.2 241.0 142.7 240.7 143.7 240.6 145.2 240.3 146.2 239.8 146.8 239.2 147.4 238.3 148.1 237.3 148.7 236.7 149.7 235.9 150.3 235.4 151.2 234.7 151.8 233.9 152.5 233.0 152.9 232.0 153.2 231.0 153.6 230.0 154.1 229.1 154.8 228.2 155.5 227.2 156.1 226.5 157.1 225.9 158.1 225.5 159.1 225.1 160.1 224.5 161.1 224.0 162.1 223.4 162.9 222.9 163.7 222.4 164.6 221.9 165.5 221.4 166.5 220.9 167.5 220.4 168.5 219.7 169.5 219.0 170.2 218.5 171.0 218.0 172.0 217.5 173.0 216.9 174.0 216.3 175.0 215.6 175.7 215.2 176.6 214.7 177.5 214.1 178.5 213.5 179.5 212.8 180.1 212.3 180.9 211.5 181.6 210.8 182.3 209.9 182.9 208.9 183.4 208.2 184.0 207.4 184.9 206.7 185.8 206.0 186.4 205.5 187.4 204.7 188.1 204.1 188.9 203.2 189.4 202.6 190.0 201.7 190.5 200.7 191.1 199.7 191.7 198.8 192.4 198.0 192.9 197.2 193.3 195.9 193.5 194.9 193.6 193.5 193.8 192.0 194.0 191.1 194.1 189.6 194.0 188.2 193.8 187.2 193.4 185.8 192.9 184.9 192.4 184.3 191.4 183.5 190.4 182.9 189.4 182.4 188.4 182.0 187.4 181.6 186.4 181.3 185.1 181.0 184.9 180.9 M140.7 234.9 141.8 235.4 142.6 236.3 141.7 237.0 140.2 236.8 139.2 236.5 139.0 235.4 139.7 234.8 140.7 234.9" stroke-width="0.66"/><path d="M185.4 182.9 183.9 182.5 182.4 182.6 181.4 183.1 180.4 183.8 179.8 184.3 179.0 185.1 178.1 185.8 177.5 186.4 176.7 187.2 176.1 188.2 175.6 189.1 175.1 190.1 174.5 191.0 174.0 191.7 173.2 192.5 172.5 193.2 171.6 194.0 170.9 194.4 170.0 195.0 169.0 195.4 167.7 195.9 166.5 196.2 165.5 196.6 164.6 197.1 163.6 197.7 162.6 198.3 161.8 198.8 161.1 199.3 160.1 200.1 159.3 200.7 158.5 201.2 157.4 201.7 156.5 202.2 155.6 202.7 154.6 203.4 153.6 204.0 152.9 204.6 152.1 205.3 151.4 206.0 150.7 206.6 149.7 207.3 148.7 207.8 147.7 208.4 146.9 208.9 146.1 209.4 145.2 209.9 144.0 210.3 142.9 210.8 142.1 211.3 141.2 211.9 140.2 212.6 139.1 212.3 138.4 211.3 137.8 210.3 137.3 209.4 136.8 208.5 136.3 207.9 135.3 207.4 134.4 207.9 133.8 208.5 132.8 209.2 131.3 209.0 130.3 208.6 129.3 208.3 128.3 207.9 126.9 207.4 125.8 207.2 124.3 207.0 123.8 207.0 122.4 207.3 121.4 207.7 120.4 208.2 119.4 208.6 118.4 208.9 116.9 209.3 115.9 209.4 114.9 209.2 114.1 208.4 113.4 207.5 112.8 207.0 111.4 206.8 110.6 207.4 110.0 208.4 109.5 209.4 109.2 210.3 108.9 211.3 108.9 212.7 108.8 214.2 108.7 215.6 108.7 217.1 108.6 218.5 108.6 220.0 108.6 221.4 108.6 222.9 108.6 224.3 108.6 225.7 108.7 227.2 108.7 228.6 108.8 230.1 108.9 231.4 109.1 232.5 109.4 233.9 109.6 234.9 109.7 236.3 109.3 237.3 108.8 238.3 108.7 239.7 108.9 241.0 109.9 241.3 111.0 241.6 112.4 241.9 113.9 242.0 115.4 242.1 116.4 242.1 117.9 242.2 119.4 242.3 120.9 242.3 122.4 242.3 123.8 242.2 125.3 242.2 126.8 242.2 128.3 242.1 129.3 242.1 130.8 242.0 132.3 241.9 133.8 241.7 134.8 241.6 136.3 241.4 137.7 241.2 138.7 240.9 139.7 240.5 140.7 240.0 141.3 239.2 140.7 238.6 139.7 238.1 138.7 237.7 137.7 237.3 137.0 236.3 137.2 235.3 137.7 233.9 138.1 233.0 138.3 232.0 138.8 231.0 139.7 230.3 140.7 230.6 141.7 231.4 142.4 232.0 143.2 232.6 144.2 233.2 145.2 233.9 146.2 234.4 147.2 234.5 148.2 234.3 149.2 233.7 150.0 233.0 150.7 232.0 151.0 231.0 151.3 230.1 151.7 229.1 152.3 228.2 152.9 227.2 153.4 226.2 153.9 225.3 154.4 224.3 155.1 223.7 156.1 223.2 157.4 222.9 158.6 222.6 159.6 222.2 160.6 221.7 161.6 220.9 162.2 220.4 163.1 219.9 164.1 219.4 165.3 219.0 166.5 218.5 167.4 218.0 168.2 217.6 169.0 217.0 170.0 216.4 171.0 215.9 172.0 215.3 173.0 214.7 173.7 214.2 174.5 213.7 175.5 213.0 176.5 212.3 177.0 211.8 178.0 210.8 178.5 210.2 179.1 209.4 179.8 208.4 180.4 207.7 181.2 207.0 181.9 206.3 182.9 205.6 183.7 205.0 184.4 204.5 185.2 203.6 185.8 202.6 186.4 201.7 186.9 200.7 187.4 199.9 187.9 199.1 188.5 198.3 189.1 197.3 189.8 196.4 190.4 195.4 190.9 194.5 191.3 193.5 191.6 192.5 191.8 191.1 191.8 189.6 191.6 188.2 191.4 187.2 190.8 186.3 189.9 185.3 189.1 184.8 188.4 184.3 187.4 183.8 186.4 183.3 185.4 182.9 M115.9 233.0 117.0 233.4 118.0 233.9 119.2 234.4 120.4 234.8 121.2 235.4 120.3 235.9 118.9 236.1 117.7 236.3 116.4 236.5 114.9 236.6 113.9 236.2 113.9 235.3 114.4 234.1 114.9 233.3 115.9 233.0 115.9 233.0 M132.4 233.4 133.2 234.4 133.7 235.4 133.8 236.3 132.8 236.8 131.3 236.7 129.8 236.5 128.5 236.3 127.3 236.0 126.3 235.5 126.3 234.9 127.3 234.3 128.3 233.9 129.4 233.4 130.8 233.0 132.3 233.4 132.4 233.4" stroke-width="0.69"/><path d="M185.4 184.7 183.9 184.4 182.4 184.7 181.4 185.2 180.6 185.8 179.9 186.3 179.0 187.2 178.5 187.9 178.0 188.7 177.5 189.7 177.0 190.7 176.5 191.8 176.0 192.7 175.4 193.5 174.6 194.4 174.0 195.1 173.1 195.9 172.5 196.4 171.5 196.9 170.0 197.3 169.0 197.6 168.0 197.8 166.5 198.2 165.5 198.6 164.6 199.1 163.6 199.7 162.9 200.2 162.1 200.9 161.3 201.7 160.6 202.3 159.6 203.0 158.6 203.6 157.8 204.1 156.9 204.6 156.1 205.1 155.1 205.7 154.1 206.4 153.5 207.0 152.6 207.9 152.1 208.4 151.2 209.2 150.2 209.7 149.2 210.2 148.2 210.8 147.6 211.3 146.7 212.1 146.1 212.7 145.7 213.7 145.6 215.2 145.6 216.6 145.2 217.9 144.7 218.5 143.7 219.2 142.7 219.6 141.2 219.9 139.7 219.5 139.2 218.9 138.7 217.6 138.6 216.6 138.3 215.2 138.1 214.2 137.7 213.0 137.4 211.8 136.9 210.8 136.3 209.9 135.3 209.4 134.3 210.0 133.3 210.8 132.3 211.1 131.3 210.8 129.8 210.3 128.8 210.0 127.8 209.6 126.8 209.3 125.3 208.9 124.3 208.9 123.3 208.9 121.9 209.3 120.9 209.6 119.9 210.0 118.9 210.4 117.4 210.8 116.4 211.1 114.9 211.2 113.9 210.3 113.4 209.5 112.9 208.8 111.9 208.2 110.9 208.6 110.4 209.4 109.9 210.4 109.5 211.8 109.3 212.7 109.1 214.2 108.9 215.2 108.8 216.6 108.8 218.0 108.7 219.5 108.7 220.9 108.7 222.4 108.7 223.8 108.7 225.3 108.8 226.7 108.9 228.2 109.0 229.1 109.3 230.6 109.5 231.5 109.8 233.0 110.1 233.9 110.4 235.2 110.9 236.3 110.4 237.4 109.4 238.2 108.9 238.7 108.9 240.2 109.9 240.7 110.9 241.0 111.9 241.3 113.4 241.5 114.9 241.6 115.9 241.7 117.4 241.8 118.9 241.9 120.4 241.9 121.9 241.9 123.3 241.9 124.8 241.9 126.3 241.9 127.8 241.8 129.3 241.8 130.6 241.6 131.8 241.5 133.3 241.3 134.3 241.1 135.8 240.9 136.8 240.6 138.0 240.2 138.7 239.3 138.3 238.7 137.5 238.3 136.4 237.8 135.3 237.4 133.8 237.4 132.3 237.4 131.1 237.3 129.8 237.1 128.3 236.9 127.3 236.8 125.8 236.6 124.3 236.5 122.9 236.5 121.4 236.6 119.9 236.8 118.9 236.9 117.4 237.0 115.9 237.2 114.7 237.3 113.9 237.3 112.7 236.8 112.8 235.4 113.3 234.4 113.7 233.4 114.0 232.5 114.4 231.4 114.9 230.4 116.4 230.4 117.4 230.9 118.4 231.4 119.4 231.8 120.4 232.0 121.9 232.3 122.9 232.5 124.3 232.6 125.3 232.5 126.8 232.2 127.8 231.9 128.8 231.5 129.9 231.0 131.3 230.7 132.3 231.1 132.9 232.0 133.5 233.0 134.1 233.9 134.8 234.8 135.8 235.1 136.4 234.4 136.9 233.4 137.2 232.4 137.7 231.0 138.0 230.1 138.5 229.1 139.1 228.2 139.7 227.6 141.2 227.5 142.2 227.9 143.0 228.6 143.7 229.5 144.3 230.1 145.2 230.6 146.7 230.9 147.7 230.2 148.2 229.1 148.5 228.2 149.0 227.2 149.5 226.2 150.2 225.3 150.7 224.5 151.2 223.7 151.8 222.9 152.6 222.2 153.6 221.6 154.6 221.2 155.6 220.8 157.0 220.4 158.1 220.2 159.1 219.8 160.1 219.0 160.6 218.5 161.6 217.6 162.6 217.1 163.6 216.9 164.9 216.6 166.0 216.1 166.9 215.6 167.5 215.1 168.5 214.4 169.5 213.7 170.4 213.2 171.4 212.7 172.2 212.3 173.0 211.7 174.0 210.9 174.8 210.3 175.5 209.8 176.4 208.9 177.0 208.2 177.6 207.4 178.3 206.5 179.0 205.6 179.5 204.8 180.0 204.1 180.9 203.1 181.4 202.6 182.4 201.8 183.0 201.2 183.9 200.2 184.4 199.6 185.2 198.8 185.9 198.0 186.5 197.3 187.2 196.4 187.9 195.5 188.4 194.9 189.1 194.0 189.7 193.0 190.0 192.0 190.1 190.6 189.9 189.1 189.6 188.2 189.0 187.2 188.4 186.5 187.4 185.8 186.6 185.3 185.6 184.8 185.4 184.7" stroke-width="0.72"/><path d="M128.3 237.3 126.8 237.1 125.3 236.9 123.8 236.9 122.4 236.9 120.9 237.0 119.4 237.1 117.9 237.3 116.9 237.4 115.4 237.6 113.9 237.7 112.4 237.6 111.3 237.8 110.4 238.3 109.5 239.2 110.2 240.2 111.3 240.7 112.4 241.0 113.8 241.2 114.9 241.3 116.4 241.5 117.9 241.6 119.4 241.6 120.4 241.6 121.9 241.6 123.2 241.6 124.3 241.6 125.8 241.6 127.3 241.6 128.8 241.5 130.3 241.4 131.8 241.2 132.8 241.1 134.3 240.8 135.3 240.5 136.3 240.2 137.2 239.2 136.3 238.5 135.3 238.1 133.8 237.9 132.4 237.8 131.3 237.6 129.8 237.4 128.4 237.3 128.3 237.3 M111.9 209.2 110.9 209.7 110.4 210.5 110.0 211.8 109.7 212.7 109.5 214.2 109.3 215.2 109.0 216.6 108.9 217.6 108.8 219.0 108.8 220.4 108.8 221.9 108.8 223.3 108.8 224.8 108.9 226.2 108.9 227.4 109.2 228.6 109.4 229.7 109.7 231.0 110.0 232.0 110.4 233.4 110.9 234.4 111.4 235.0 112.4 234.5 112.9 233.7 113.4 232.5 113.7 231.5 114.0 230.6 114.4 229.5 115.3 228.6 115.9 228.7 116.9 229.2 117.9 229.6 119.2 230.1 120.4 230.4 121.4 230.7 122.9 231.0 123.8 231.2 125.3 231.2 126.3 231.0 127.8 230.6 128.8 230.2 129.8 229.7 130.8 229.2 131.8 228.9 132.6 229.6 133.1 230.6 133.5 231.5 134.0 232.5 134.7 233.4 135.8 233.7 136.4 233.0 136.8 232.0 137.2 230.7 137.6 229.6 138.0 228.6 138.4 227.7 138.8 226.7 139.2 225.7 139.7 224.8 140.3 223.8 140.2 222.5 139.7 221.8 139.2 220.9 138.7 220.0 138.3 218.5 138.1 217.6 137.8 216.1 137.6 215.2 137.3 213.7 137.0 212.7 136.6 211.8 135.9 210.8 134.8 210.8 134.2 211.3 133.3 212.2 132.3 212.4 131.3 212.0 130.3 211.7 129.1 211.3 127.8 210.9 126.8 210.6 125.8 210.3 124.3 210.0 122.9 210.1 121.6 210.3 120.4 210.8 119.4 211.2 118.4 211.5 117.4 211.9 116.4 212.3 114.9 212.7 114.0 211.8 113.4 210.9 112.9 210.1 112.2 209.4 111.9 209.2 M184.4 185.8 183.2 185.8 181.9 186.2 181.1 186.7 180.4 187.2 179.5 188.2 179.0 189.1 178.5 190.1 178.1 191.1 177.9 192.0 177.6 193.5 177.4 194.4 177.0 195.6 176.5 196.7 176.0 197.6 175.2 198.3 174.0 198.8 173.0 199.0 171.5 199.0 170.0 199.0 168.5 199.2 167.5 199.4 166.3 199.7 165.4 200.2 164.6 200.8 163.6 201.7 163.0 202.2 162.1 203.0 161.3 203.6 160.6 204.1 159.6 204.8 158.6 205.3 157.6 205.9 156.8 206.5 156.1 207.1 155.3 207.9 154.6 208.8 154.1 209.4 153.1 210.3 152.6 210.8 151.6 211.7 151.2 212.3 150.7 213.5 150.4 214.7 150.2 216.1 150.0 217.1 149.7 218.5 149.2 219.5 148.7 220.1 148.7 221.3 150.1 220.9 151.2 220.5 152.1 220.3 153.3 220.0 154.6 219.5 155.6 219.1 156.6 218.6 157.4 218.0 158.1 217.5 159.0 216.6 159.6 216.0 160.6 215.3 161.6 215.1 163.1 215.0 164.6 214.9 165.5 214.4 166.5 213.7 167.1 213.2 168.0 212.3 168.5 211.8 169.5 210.8 170.1 210.3 171.0 209.6 172.0 209.0 173.0 208.4 173.7 207.9 174.5 207.3 175.4 206.5 176.0 206.0 176.8 205.0 177.3 204.1 177.6 203.1 177.9 201.7 178.4 200.7 179.5 200.3 180.4 199.9 181.4 199.3 182.2 198.8 183.0 198.3 183.9 197.7 184.9 196.9 185.4 196.3 186.1 195.4 186.9 194.5 187.4 194.0 188.2 193.0 188.7 192.0 188.9 191.1 188.8 190.1 188.4 188.7 187.9 187.8 187.4 187.2 186.4 186.5 185.4 186.0 184.4 185.8" stroke-width="0.75"/><path d="M126.8 237.3 125.3 237.1 123.8 237.1 122.4 237.1 120.9 237.3 119.9 237.3 118.4 237.4 116.9 237.6 115.6 237.8 114.4 237.9 112.9 238.1 111.5 238.3 110.6 238.7 110.4 239.7 111.0 240.2 112.4 240.6 113.4 240.8 114.9 241.1 115.9 241.2 117.4 241.4 118.9 241.5 120.4 241.5 121.9 241.5 123.3 241.5 124.8 241.5 126.3 241.5 127.8 241.4 129.3 241.3 130.8 241.2 131.8 241.0 133.3 240.7 134.3 240.4 135.3 240.1 136.1 239.2 135.3 238.6 133.9 238.3 132.8 238.1 131.3 237.9 130.3 237.7 128.8 237.5 127.3 237.3 126.8 237.3 M112.4 210.3 111.1 210.3 110.5 211.3 110.1 212.3 109.9 213.2 109.6 214.7 109.4 215.8 109.2 217.1 109.0 218.5 108.9 219.5 108.9 220.9 108.9 222.4 108.9 223.8 108.9 225.3 109.0 226.2 109.2 227.7 109.4 228.8 109.7 230.1 110.0 231.0 110.4 232.4 110.9 233.4 111.4 234.1 112.4 233.6 112.9 232.7 113.4 231.5 113.7 230.6 114.0 229.6 114.4 228.4 115.3 227.7 115.9 227.8 116.9 228.3 117.9 228.8 119.0 229.1 120.4 229.5 121.4 229.8 122.4 230.1 123.8 230.4 125.3 230.4 126.8 230.2 127.8 229.8 128.8 229.3 129.8 228.7 130.7 228.2 131.6 227.7 132.4 227.7 133.0 228.6 133.3 229.6 133.8 231.0 134.2 232.0 134.8 232.7 135.4 233.0 136.3 232.2 136.8 231.1 137.1 230.1 137.5 229.1 137.8 228.2 138.2 226.7 138.6 225.7 138.8 224.8 139.0 223.3 138.8 221.9 138.6 220.9 138.2 219.8 138.0 218.5 137.7 217.6 137.5 216.1 137.2 215.2 136.9 213.7 136.5 212.7 136.0 211.8 134.8 211.7 134.2 212.3 133.4 213.2 132.3 213.5 131.3 213.0 130.3 212.5 129.3 212.2 128.1 211.8 126.8 211.4 125.8 211.1 124.7 210.8 123.3 210.7 122.3 210.8 120.9 211.2 119.9 211.7 118.9 212.1 117.9 212.5 116.9 213.0 115.9 213.7 114.9 214.1 114.2 213.2 113.7 212.3 113.1 211.3 112.4 210.3 112.4 210.3 M171.0 200.7 169.5 200.4 168.0 200.4 167.0 200.7 166.0 201.3 165.1 202.2 164.5 202.6 163.6 203.3 162.6 204.0 161.9 204.6 161.1 205.1 160.1 205.8 159.1 206.4 158.3 207.0 157.6 207.6 157.0 208.4 156.2 209.4 155.6 210.0 154.7 210.8 154.1 211.4 153.5 212.3 152.9 213.2 152.4 214.2 152.1 215.2 151.9 216.6 152.1 217.7 153.1 218.4 154.6 218.1 155.4 217.6 156.1 216.6 156.6 215.9 157.4 215.2 158.1 214.5 159.1 213.8 160.1 213.5 161.6 213.6 163.1 213.7 164.6 213.4 165.5 212.8 166.2 212.3 166.9 211.3 167.5 210.3 168.0 209.5 168.5 208.8 169.2 207.9 169.9 207.0 170.5 206.2 171.4 205.5 172.3 205.0 173.5 204.6 174.3 204.1 175.0 203.2 175.0 202.2 174.5 201.6 173.4 201.2 172.0 200.9 171.0 200.7 M184.4 186.7 182.9 186.7 181.9 187.1 181.0 187.7 180.4 188.3 179.8 189.1 179.3 190.1 179.0 191.4 178.8 192.5 178.9 194.0 179.0 194.9 179.0 196.4 179.5 197.5 180.9 197.5 181.9 197.1 182.9 196.6 183.9 195.9 184.4 195.4 185.2 194.4 185.9 193.7 186.7 193.0 187.4 192.2 187.8 191.1 187.6 189.6 187.2 188.7 186.5 187.7 185.8 187.2 184.7 186.7 184.4 186.7" stroke-width="0.78"/><path d="M124.3 237.3 123.3 237.3 121.9 237.4 120.4 237.5 118.9 237.6 117.4 237.8 116.4 237.9 114.9 238.1 113.9 238.3 112.4 238.5 111.4 239.0 111.4 239.8 112.4 240.3 113.9 240.6 114.9 240.8 116.4 241.1 117.4 241.2 118.9 241.3 120.4 241.3 121.9 241.4 123.3 241.4 124.8 241.3 126.3 241.3 127.8 241.2 128.8 241.1 130.3 241.0 131.8 240.8 132.8 240.6 134.0 240.2 134.8 239.7 134.3 238.8 133.3 238.5 132.3 238.3 130.8 238.0 129.3 237.8 128.3 237.7 126.8 237.5 125.3 237.3 124.3 237.3 M112.4 211.2 111.0 211.3 110.5 212.3 110.2 213.2 109.9 214.4 109.7 215.6 109.4 217.0 109.2 218.0 109.1 219.5 109.0 220.9 109.0 222.4 109.0 223.8 109.0 225.3 109.2 226.7 109.4 227.8 109.7 229.1 110.0 230.1 110.4 231.5 110.9 232.5 111.4 233.1 112.4 232.7 112.9 231.7 113.3 230.6 113.6 229.6 113.9 228.6 114.4 227.4 115.2 226.7 115.9 226.9 116.9 227.5 117.9 228.0 118.9 228.3 120.2 228.6 121.4 229.0 122.4 229.3 123.7 229.6 124.8 229.7 126.2 229.6 127.3 229.3 128.3 228.8 129.3 228.2 129.9 227.7 130.8 227.0 131.8 226.3 132.4 226.2 133.1 227.2 133.4 228.2 133.7 229.6 134.0 230.6 134.5 231.5 135.3 232.2 136.1 231.5 136.6 230.6 137.0 229.6 137.3 228.6 137.7 227.2 138.0 226.2 138.2 224.9 138.4 223.8 138.4 222.4 138.2 221.4 138.0 220.0 137.7 219.0 137.5 217.6 137.2 216.6 136.9 215.2 136.6 214.2 136.2 213.2 135.3 212.4 134.3 213.2 133.8 214.1 133.3 214.8 131.9 214.7 131.3 214.2 130.3 213.5 129.3 213.0 128.3 212.6 127.2 212.3 125.8 211.9 124.8 211.6 123.3 211.5 121.9 211.6 120.9 212.0 119.9 212.5 118.9 212.9 117.9 213.5 116.9 214.2 116.4 214.7 115.4 215.5 114.4 215.2 113.9 214.1 113.4 212.9 112.9 211.9 112.4 211.2 M165.5 204.9 164.4 205.0 163.3 205.5 162.4 206.0 161.6 206.5 160.6 207.2 159.7 207.9 159.1 208.9 158.9 209.9 159.3 210.8 160.1 211.3 161.5 211.8 162.6 211.8 163.6 211.5 164.2 210.8 164.6 209.7 165.1 208.5 165.5 207.9 166.2 207.0 166.4 205.5 165.5 204.9 M184.9 188.2 183.4 187.7 181.9 188.2 181.3 188.7 180.5 189.6 180.1 190.6 180.1 192.0 180.5 193.0 181.4 193.8 182.9 193.5 183.7 193.0 184.4 192.5 185.4 191.6 185.9 190.6 185.9 189.7 185.4 188.7 184.9 188.2" stroke-width="0.81"/><path d="M127.3 237.8 125.8 237.6 124.3 237.5 122.9 237.5 121.4 237.6 119.9 237.7 118.9 237.8 117.4 238.0 115.9 238.2 114.9 238.4 113.6 238.7 112.5 239.2 113.4 240.1 114.4 240.4 115.5 240.7 116.9 240.9 118.4 241.1 119.9 241.1 121.4 241.1 122.4 241.2 123.8 241.2 124.8 241.1 126.3 241.1 127.8 241.0 129.3 240.9 130.8 240.7 131.8 240.5 132.9 240.2 133.8 239.3 133.3 238.9 132.3 238.6 130.8 238.3 129.8 238.1 128.3 237.9 127.3 237.8 M111.9 211.7 111.0 212.3 110.5 213.2 110.3 214.2 110.0 215.6 109.7 216.6 109.5 218.0 109.3 219.0 109.2 220.4 109.2 221.9 109.2 223.3 109.2 224.8 109.4 226.2 109.5 227.2 109.8 228.6 110.1 229.6 110.4 230.6 110.9 231.7 111.9 232.3 112.6 231.5 113.0 230.6 113.4 229.3 113.8 228.2 114.1 227.2 114.5 226.2 115.4 225.5 116.4 226.2 117.2 226.7 118.2 227.2 119.4 227.6 120.4 227.9 121.4 228.2 122.7 228.6 123.8 228.9 125.3 229.0 126.8 228.7 127.8 228.2 128.6 227.7 129.3 227.2 130.3 226.3 130.9 225.7 131.8 224.9 132.7 224.8 133.2 225.7 133.4 226.7 133.8 228.0 134.0 229.1 134.3 230.1 134.9 231.0 135.8 231.0 136.4 230.1 136.8 229.1 137.2 227.8 137.6 226.7 137.7 225.7 138.0 224.3 138.1 222.9 137.9 221.4 137.7 220.4 137.5 219.0 137.2 217.9 137.0 216.6 136.7 215.6 136.3 214.6 135.6 213.7 134.8 213.9 134.2 214.7 133.6 215.6 132.8 216.6 132.3 216.6 131.3 215.8 130.7 215.2 129.8 214.3 128.8 213.7 127.8 213.3 126.8 213.0 125.8 212.7 124.3 212.4 122.9 212.3 121.4 212.7 120.4 213.2 119.4 213.7 118.6 214.2 117.8 214.7 116.9 215.5 116.2 216.1 115.4 216.8 114.4 216.5 113.9 215.5 113.5 214.2 113.1 213.2 112.6 212.3 111.9 211.7 M182.9 189.8 182.1 190.6 183.0 190.6 182.9 189.8" stroke-width="0.84"/><path d="M125.8 237.8 124.3 237.7 122.9 237.7 121.9 237.8 120.4 237.9 118.9 238.0 117.4 238.2 116.4 238.4 115.0 238.7 114.0 239.2 114.9 240.2 115.9 240.5 117.0 240.7 118.4 240.8 119.9 240.9 121.4 241.0 122.9 241.0 124.3 241.0 125.8 241.0 127.3 240.9 128.8 240.7 129.8 240.6 131.3 240.3 132.3 240.0 132.3 239.0 131.3 238.7 129.8 238.4 128.8 238.2 127.3 237.9 125.8 237.8 125.8 237.8 M111.9 212.5 111.0 213.2 110.6 214.2 110.3 215.2 110.0 216.6 109.8 217.6 109.5 219.0 109.5 220.4 109.4 221.4 109.4 222.9 109.4 224.3 109.5 225.3 109.6 226.7 109.9 228.1 110.2 229.1 110.6 230.1 111.1 231.0 112.3 231.0 112.8 230.1 113.2 229.1 113.5 228.2 113.9 226.7 114.2 225.7 114.5 224.8 114.9 223.8 115.9 224.3 116.4 224.9 117.3 225.7 118.2 226.2 119.4 226.6 120.4 227.0 121.4 227.3 122.4 227.7 123.8 228.1 124.8 228.2 125.9 228.2 127.2 227.7 127.9 227.2 128.8 226.5 129.6 225.7 130.3 225.1 130.9 224.3 131.6 223.3 132.3 222.4 133.0 223.3 133.3 224.3 133.6 225.7 133.8 226.7 134.2 228.2 134.4 229.1 134.9 230.1 135.9 230.1 136.4 229.1 136.8 228.2 137.2 226.7 137.5 225.7 137.7 224.3 137.7 222.9 137.6 221.4 137.4 220.0 137.2 219.0 136.9 217.6 136.6 216.6 136.2 215.6 135.3 214.7 134.3 215.6 133.8 216.6 133.3 217.6 132.8 218.3 132.2 218.5 131.3 217.8 130.7 217.1 130.0 216.1 129.3 215.3 128.5 214.7 127.7 214.2 126.5 213.7 125.3 213.4 124.3 213.2 122.9 213.2 121.9 213.5 120.9 214.0 119.9 214.6 118.9 215.2 118.2 215.6 117.4 216.3 116.5 217.1 115.9 217.8 114.9 218.4 114.3 217.6 113.9 216.6 113.4 215.3 113.0 214.2 112.6 213.2 111.9 212.5" stroke-width="0.86"/><path d="M127.8 238.3 126.3 238.0 124.8 237.9 123.3 237.9 121.9 238.0 120.4 238.1 118.9 238.3 117.9 238.4 116.4 238.7 115.4 239.2 115.4 239.8 116.4 240.2 117.9 240.5 119.1 240.7 120.4 240.8 121.9 240.8 123.3 240.8 124.8 240.8 126.3 240.7 127.3 240.6 128.8 240.5 130.3 240.2 131.3 239.9 131.3 239.1 130.3 238.7 128.8 238.4 127.8 238.3 M111.9 213.5 111.0 214.2 110.6 215.2 110.3 216.1 110.0 217.6 109.8 218.5 109.7 220.0 109.6 221.4 109.6 222.9 109.6 224.3 109.7 225.7 109.9 227.1 110.2 228.2 110.5 229.1 111.0 230.1 111.9 230.6 112.4 230.0 112.9 228.9 113.3 227.7 113.6 226.7 113.9 225.3 114.1 224.3 114.3 222.9 114.3 221.4 114.3 220.0 114.1 218.5 113.8 217.6 113.4 216.5 113.0 215.2 112.6 214.2 111.9 213.5 M135.8 215.9 134.7 216.1 134.1 217.1 133.7 218.0 133.3 219.5 133.2 220.4 133.3 221.4 133.5 222.9 133.7 224.3 133.9 225.3 134.2 226.7 134.4 227.7 134.8 228.7 135.8 229.3 136.3 228.5 136.8 227.3 137.0 226.2 137.2 225.2 137.4 223.8 137.4 222.4 137.3 220.9 137.1 220.0 136.9 218.5 136.6 217.6 136.2 216.6 135.8 215.9 M124.3 214.1 123.3 214.2 121.9 214.7 121.1 215.2 120.3 215.6 119.4 216.1 118.4 216.7 117.4 217.6 116.9 218.2 116.4 219.4 116.3 220.4 116.4 221.4 116.7 222.9 117.1 223.8 117.9 224.7 118.8 225.3 119.9 225.7 120.9 226.2 121.9 226.6 122.9 227.0 123.8 227.3 125.3 227.3 126.3 227.0 127.3 226.5 128.2 225.7 128.8 225.2 129.6 224.3 130.2 223.3 130.7 222.4 130.9 221.4 130.8 220.0 130.3 219.0 129.8 218.1 129.3 217.4 128.8 216.6 128.0 215.6 127.3 215.1 126.3 214.6 124.8 214.2 124.3 214.1" stroke-width="0.89"/><path d="M126.3 238.3 124.8 238.1 123.3 238.1 121.9 238.2 120.9 238.3 119.4 238.5 117.9 238.7 116.9 239.0 116.9 239.9 117.9 240.2 119.4 240.5 120.9 240.5 122.4 240.6 123.8 240.6 125.3 240.6 126.8 240.5 128.3 240.3 129.3 240.1 130.2 239.2 128.8 238.7 127.8 238.5 126.3 238.3 126.3 238.3 M111.9 214.4 111.0 215.2 110.6 216.1 110.4 217.1 110.0 218.5 109.9 219.5 109.8 220.9 109.8 222.4 109.8 223.8 109.9 225.3 110.0 226.2 110.3 227.7 110.6 228.6 111.2 229.6 112.1 229.6 112.7 228.6 113.0 227.7 113.4 226.2 113.6 225.3 113.8 223.8 113.9 222.4 113.9 220.9 113.8 219.5 113.5 218.0 113.3 217.1 112.9 216.1 112.4 214.9 111.9 214.4 M135.3 216.6 134.7 217.1 134.2 218.0 133.8 219.5 133.7 220.4 133.8 221.7 133.9 222.9 134.0 224.3 134.3 225.5 134.6 226.7 134.9 227.7 135.8 228.2 136.3 227.5 136.7 226.2 137.0 225.3 137.1 223.8 137.2 222.4 137.0 220.9 136.8 219.5 136.6 218.5 136.2 217.6 135.3 216.6 135.3 216.6 M125.8 215.5 124.3 215.2 122.9 215.5 121.9 216.0 120.9 216.6 120.0 217.1 119.1 217.6 118.4 218.2 117.9 219.1 117.7 220.4 117.9 221.5 118.3 222.9 118.9 223.6 119.8 224.3 120.5 224.8 121.4 225.3 122.4 225.8 123.7 226.2 124.8 226.3 125.8 226.0 126.8 225.4 127.5 224.8 128.3 223.9 128.8 223.2 129.3 221.9 129.3 221.2 128.9 220.0 128.4 219.0 127.9 218.0 127.5 217.1 126.8 216.2 126.0 215.6 125.8 215.5" stroke-width="0.92"/><path d="M127.3 238.7 125.8 238.4 124.3 238.3 122.9 238.4 121.4 238.5 119.9 238.7 118.9 238.9 117.8 239.2 118.4 239.9 119.7 240.2 120.9 240.3 122.4 240.4 123.8 240.4 125.3 240.4 126.8 240.2 127.8 240.0 128.8 239.2 127.5 238.7 127.3 238.7 M111.9 215.4 111.0 216.1 110.7 217.1 110.4 218.0 110.1 219.5 110.0 220.9 110.0 222.4 110.0 223.8 110.1 225.3 110.3 226.7 110.6 227.7 111.1 228.6 112.3 228.6 112.7 227.7 113.0 226.7 113.3 225.3 113.4 224.3 113.6 222.9 113.6 221.4 113.5 220.0 113.4 219.0 113.0 217.6 112.7 216.6 112.2 215.6 111.9 215.4 M135.3 217.4 134.7 218.0 134.3 219.3 134.1 220.4 134.1 221.9 134.3 223.3 134.4 224.3 134.7 225.7 135.1 226.7 136.1 226.7 136.5 225.7 136.8 224.6 136.9 223.3 136.9 221.9 136.7 220.9 136.5 219.5 136.2 218.5 135.6 217.6 135.3 217.4 M124.3 217.0 123.2 217.1 122.1 217.6 121.0 218.0 120.2 218.5 119.4 219.5 119.3 220.4 119.5 221.4 119.9 222.4 120.7 223.3 121.4 224.0 122.4 224.7 123.3 225.0 124.8 225.0 125.8 224.5 126.5 223.8 127.1 222.9 127.0 221.4 126.4 220.4 125.8 219.6 125.4 218.5 125.2 217.6 124.3 217.0" stroke-width="0.95"/><path d="M125.8 238.7 124.3 238.6 122.9 238.7 121.9 238.8 120.4 239.1 119.7 239.7 120.9 239.9 122.4 240.1 123.8 240.1 125.3 240.1 126.8 239.8 127.4 239.2 126.3 238.9 125.8 238.7 M111.9 216.3 111.0 217.1 110.7 218.0 110.4 219.2 110.3 220.4 110.2 221.9 110.2 223.3 110.3 224.8 110.4 226.0 110.7 227.2 111.3 228.2 112.0 228.2 112.6 227.2 112.9 226.0 113.1 224.8 113.3 223.3 113.3 221.9 113.2 220.4 113.1 219.0 112.8 218.0 112.4 216.9 111.9 216.3 M135.3 218.4 134.8 219.1 134.5 220.4 134.5 221.9 134.6 223.3 134.8 224.5 135.2 225.7 135.9 225.7 136.4 224.8 136.6 223.3 136.6 221.9 136.4 220.4 136.1 219.5 135.5 218.5 135.3 218.4 M123.3 221.3 122.1 221.4 122.4 222.5 123.3 223.3 124.0 223.3 124.5 222.4 123.8 221.6 123.3 221.3" stroke-width="0.98"/><path d="M125.3 239.2 123.8 239.0 122.4 239.2 122.9 239.7 123.8 239.8 125.0 239.7 125.3 239.2 M111.9 217.3 111.1 218.0 110.7 219.0 110.5 220.4 110.5 221.9 110.4 223.3 110.5 224.8 110.8 226.2 111.2 227.2 112.1 227.2 112.5 226.2 112.8 224.8 112.9 223.8 113.0 222.4 113.0 220.9 112.9 220.0 112.6 218.5 112.1 217.6 111.9 217.3 M135.8 219.9 135.0 220.4 134.9 221.9 135.0 223.3 135.3 224.4 136.1 223.8 136.2 222.4 136.0 220.9 135.8 219.9" stroke-width="1.01"/><path d="M111.9 218.3 111.1 219.0 110.9 220.0 110.7 221.4 110.7 222.9 110.8 224.3 110.9 225.5 111.4 226.6 112.3 225.7 112.5 224.8 112.7 223.3 112.7 221.9 112.6 220.4 112.4 219.3 111.9 218.3" stroke-width="1.04"/><path d="M111.9 219.6 111.3 220.4 111.1 221.9 111.1 223.3 111.3 224.8 111.9 225.3 112.2 224.3 112.4 222.9 112.3 221.4 112.0 220.0 111.9 219.6" stroke-width="1.07"/></g>
<path d="M54.0 402.7 L54.0 390.6 L54.5 388.4 L54.9 387.9 L55.4 389.4 L55.9 388.5 L56.4 388.2 L56.8 385.7 L57.3 385.7 L57.8 383.6 L58.2 386.5 L58.7 380.4 L59.2 382.0 L59.7 379.9 L60.1 378.5 L60.6 376.2 L61.1 371.8 L61.5 368.2 L62.0 367.5 L62.5 364.6 L63.0 360.0 L63.4 361.4 L63.9 360.8 L64.4 354.1 L64.8 354.5 L65.3 355.5 L65.8 349.8 L66.3 344.4 L66.7 342.0 L67.2 338.4 L67.7 334.0 L68.2 333.5 L68.6 338.7 L69.1 338.2 L69.6 333.1 L70.0 332.8 L70.5 337.9 L71.0 336.8 L71.5 333.5 L71.9 335.2 L72.4 340.9 L72.9 340.3 L73.3 335.4 L73.8 331.9 L74.3 345.0 L74.8 348.8 L75.2 352.0 L75.7 357.0 L76.2 355.3 L76.6 357.1 L77.1 362.4 L77.6 360.2 L78.1 363.9 L78.5 366.8 L79.0 369.7 L79.5 371.6 L79.9 378.8 L80.4 378.4 L80.9 381.6 L81.4 388.1 L81.8 388.1 L82.3 391.9 L82.8 393.1 L83.2 396.1 L83.7 397.4 L84.2 398.9 L84.7 401.3 L85.1 401.0 L85.6 401.5 L86.1 401.3 L86.5 401.8 L87.0 401.4 L87.5 401.7 L88.0 402.0 L88.4 401.7 L88.9 401.4 L89.4 401.2 L89.8 402.3 L90.3 401.4 L90.8 401.5 L91.3 401.6 L91.7 402.0 L92.2 401.2 L92.7 402.1 L93.2 401.5 L93.6 401.4 L94.1 402.3 L94.6 402.0 L95.0 402.3 L95.5 401.9 L96.0 401.6 L96.5 401.5 L96.9 402.6 L97.4 402.3 L97.9 402.0 L98.3 401.9 L98.8 402.2 L99.3 402.5 L99.8 402.3 L100.2 402.3 L100.7 402.4 L101.2 402.5 L101.6 402.3 L102.1 402.3 L102.6 402.4 L103.1 402.4 L103.5 402.6 L104.0 402.5 L104.5 402.2 L104.9 402.4 L105.4 402.7 L105.9 402.2 L106.4 402.3 L106.8 402.0 L107.3 402.4 L107.8 402.5 L108.2 402.7 L108.7 402.2 L109.2 402.0 L109.7 402.6 L110.1 402.6 L110.6 402.4 L111.1 402.6 L111.5 402.5 L112.0 402.5 L112.5 402.5 L113.0 402.3 L113.4 402.5 L113.9 402.4 L114.4 402.6 L114.8 402.5 L115.3 402.7 L115.8 402.7 L116.3 402.4 L116.7 402.6 L117.2 402.5 L117.7 402.5 L118.2 402.4 L118.6 402.5 L119.1 402.5 L119.6 402.6 L120.0 402.7 L120.5 402.7 L121.0 402.7 L121.5 402.7 L121.9 402.7 L122.4 402.6 L122.9 402.6 L123.3 402.7 L123.8 402.7 L124.3 402.6 L124.8 402.6 L125.2 402.6 L125.7 402.6 L126.2 402.7 L126.6 402.7 L127.1 402.6 L127.6 402.6 L128.1 402.6 L128.5 402.6 L129.0 402.7 L129.0 402.7 Z" fill="#4e4e4e" stroke="#2a2a2a" stroke-width="0.5"/>
<path d="M54.0 350.1 L54.5 348.0 L54.9 345.9 L55.4 344.1 L55.9 346.2 L56.4 348.5 L56.8 350.3 L57.3 341.7 L57.8 336.9 L58.2 335.3 L58.7 341.5 L59.2 344.2 L59.7 348.9 L60.1 352.2 L60.6 354.3 L61.1 356.8 L61.5 359.9 L62.0 361.7 L62.5 365.0 L63.0 366.3 L63.4 369.6 L63.9 371.5 L64.4 376.9 L64.8 376.7 L65.3 381.4 L65.8 383.8 L66.3 385.7 L66.7 388.5 L67.2 390.2 L67.7 393.4 L68.2 396.2 L68.6 397.2 L69.1 396.9 L69.6 398.5 L70.0 400.1 L70.5 400.5 L71.0 401.9 L71.5 401.6 L71.9 402.3 L72.4 401.9 L72.9 401.9 L73.3 402.4 L73.8 402.0 L74.3 401.9 L74.8 402.1 L75.2 402.1 L75.7 402.0 L76.2 402.2 L76.6 402.2 L77.1 402.3 L77.6 402.2 L78.1 402.5 L78.5 402.3 L79.0 402.5 L79.5 402.6 L79.9 402.4 L80.4 402.3 L80.9 402.4 L81.4 402.6 L81.8 402.5 L82.3 402.6 L82.8 402.6 L83.2 402.7 L83.7 402.7 L84.2 402.4 L84.7 402.0 L85.1 401.2 L85.6 401.1 L86.1 401.4 L86.5 401.5 L87.0 401.2 L87.5 401.4 L88.0 402.0 L88.4 401.7 L88.9 402.0 L89.4 402.4 L89.8 401.9 L90.3 401.8 L90.8 402.0 L91.3 401.9 L91.7 401.8 L92.2 402.2 L92.7 402.3 L93.2 402.0 L93.6 402.0 L94.1 402.1 L94.6 401.8 L95.0 401.6 L95.5 402.1 L96.0 401.9 L96.5 401.8 L96.9 401.9 L97.4 401.8 L97.9 402.2 L98.3 401.9 L98.8 401.7 L99.3 401.9 L99.8 402.2 L100.2 402.0 L100.7 401.9 L101.2 402.1 L101.6 402.3 L102.1 401.9 L102.6 402.4 L103.1 402.1 L103.5 402.2 L104.0 402.4 L104.5 402.0 L104.9 402.2 L105.4 402.4 L105.9 402.1 L106.4 402.3 L106.8 402.6 L107.3 402.4 L107.8 402.2 L108.2 402.2 L108.7 402.3 L109.2 402.3 L109.7 402.2 L110.1 402.4 L110.6 402.1 L111.1 402.3 L111.5 402.3 L112.0 402.3 L112.5 402.5 L113.0 402.5 L113.4 402.2 L113.9 402.3 L114.4 402.4 L114.8 402.4 L115.3 402.5 L115.8 402.4 L116.3 402.5 L116.7 402.4 L117.2 402.7 L117.7 402.3 L118.2 402.5 L118.6 402.7 L119.1 402.5 L119.6 402.6 L120.0 402.5 L120.5 402.7 L121.0 402.5 L121.5 402.2 L121.9 402.7 L122.4 402.5 L122.9 402.6 L123.3 402.6 L123.8 402.7 L124.3 402.7 L124.8 402.6 L125.2 402.6 L125.7 402.5 L126.2 402.7 L126.6 402.6 L127.1 402.5 L127.6 402.7 L128.1 402.7 L128.5 402.7 L129.0 402.7" fill="none" stroke="#5a5a5a" stroke-width="0.65"/>
<path d="M155.0 402.5 L155.0 384.5 L155.5 382.8 L155.9 383.0 L156.4 382.8 L156.9 380.8 L157.4 382.6 L157.8 379.0 L158.3 377.1 L158.8 371.3 L159.3 367.3 L159.7 368.9 L160.2 367.4 L160.7 371.4 L161.2 360.2 L161.6 355.8 L162.1 343.7 L162.6 341.5 L163.1 339.4 L163.5 340.3 L164.0 337.7 L164.5 340.4 L165.0 344.8 L165.4 344.7 L165.9 343.2 L166.4 343.7 L166.9 341.1 L167.3 337.7 L167.8 338.5 L168.3 339.5 L168.8 348.7 L169.2 341.8 L169.7 345.0 L170.2 344.2 L170.7 347.1 L171.1 345.6 L171.6 347.7 L172.1 347.2 L172.6 349.8 L173.0 352.6 L173.5 353.0 L174.0 360.9 L174.5 367.1 L174.9 367.8 L175.4 373.8 L175.9 376.3 L176.4 379.1 L176.8 383.5 L177.3 388.4 L177.8 388.8 L178.3 390.2 L178.7 393.3 L179.2 394.6 L179.7 396.4 L180.2 399.6 L180.6 399.3 L181.1 399.7 L181.6 400.6 L182.1 401.1 L182.5 401.8 L183.0 402.4 L183.5 402.4 L184.0 402.4 L184.4 402.3 L184.9 402.5 L185.4 402.5 L185.9 402.4 L186.3 402.2 L186.8 402.1 L187.3 402.5 L187.8 402.5 L188.2 402.2 L188.7 402.1 L189.2 402.0 L189.7 401.8 L190.1 401.6 L190.6 401.9 L191.1 401.7 L191.6 402.1 L192.0 402.1 L192.5 401.7 L193.0 401.5 L193.5 401.5 L193.9 401.5 L194.4 401.4 L194.9 401.4 L195.4 402.2 L195.8 401.8 L196.3 401.4 L196.8 401.3 L197.3 402.0 L197.7 401.1 L198.2 401.6 L198.7 401.5 L199.2 401.3 L199.6 401.1 L200.1 401.9 L200.6 401.0 L201.1 401.4 L201.5 401.8 L202.0 401.6 L202.5 402.3 L203.0 401.8 L203.4 401.6 L203.9 401.9 L204.4 401.9 L204.9 401.9 L205.3 401.9 L205.8 401.7 L206.3 402.0 L206.8 402.1 L207.2 401.9 L207.7 401.7 L208.2 402.2 L208.7 402.0 L209.1 402.5 L209.6 401.9 L210.1 402.0 L210.6 401.9 L211.0 402.2 L211.5 402.4 L212.0 402.0 L212.5 402.1 L212.9 402.4 L213.4 402.5 L213.9 402.1 L214.4 402.3 L214.8 401.8 L215.3 402.4 L215.8 402.3 L216.3 402.3 L216.7 402.5 L217.2 402.4 L217.7 402.0 L218.2 402.3 L218.6 402.4 L219.1 402.5 L219.6 402.2 L220.1 402.2 L220.5 402.3 L221.0 402.4 L221.5 402.3 L222.0 402.3 L222.4 402.5 L222.9 402.3 L223.4 402.5 L223.9 402.5 L224.3 402.4 L224.8 402.4 L225.3 402.5 L225.8 402.4 L226.2 402.3 L226.7 402.4 L227.2 402.4 L227.7 402.4 L228.1 402.4 L228.6 402.5 L229.1 402.5 L229.6 402.4 L230.0 402.5 L230.5 402.5 L230.5 402.5 Z" fill="#4e4e4e" stroke="#2a2a2a" stroke-width="0.5"/>
<path d="M155.0 358.2 L155.5 355.5 L155.9 352.2 L156.4 346.5 L156.9 342.4 L157.4 339.4 L157.8 342.1 L158.3 338.7 L158.8 336.5 L159.3 334.1 L159.7 333.7 L160.2 332.8 L160.7 334.3 L161.2 336.8 L161.6 342.1 L162.1 342.2 L162.6 345.7 L163.1 351.7 L163.5 353.1 L164.0 348.9 L164.5 357.6 L165.0 362.0 L165.4 361.2 L165.9 359.7 L166.4 364.3 L166.9 365.6 L167.3 368.7 L167.8 370.4 L168.3 370.5 L168.8 373.2 L169.2 376.5 L169.7 377.2 L170.2 379.0 L170.7 382.1 L171.1 383.2 L171.6 384.8 L172.1 387.3 L172.6 387.0 L173.0 389.9 L173.5 391.9 L174.0 394.2 L174.5 395.4 L174.9 394.8 L175.4 397.7 L175.9 397.9 L176.4 399.5 L176.8 400.3 L177.3 401.5 L177.8 402.5 L178.3 402.5 L178.7 402.5 L179.2 402.5 L179.7 402.5 L180.2 402.5 L180.6 402.5 L181.1 402.5 L181.6 402.5 L182.1 402.5 L182.5 402.5 L183.0 402.5 L183.5 402.5 L184.0 402.5 L184.4 402.5 L184.9 402.5 L185.4 402.5 L185.9 402.5 L186.3 402.5 L186.8 402.5 L187.3 402.5 L187.8 402.5 L188.2 402.5 L188.7 402.5 L189.2 402.5 L189.7 402.5 L190.1 402.5 L190.6 402.5 L191.1 402.5 L191.6 402.5 L192.0 402.5 L192.5 402.5 L193.0 402.5 L193.5 402.3 L193.9 402.2 L194.4 402.3 L194.9 401.9 L195.4 401.9 L195.8 401.4 L196.3 401.1 L196.8 401.4 L197.3 402.1 L197.7 401.8 L198.2 402.1 L198.7 401.9 L199.2 401.9 L199.6 402.3 L200.1 402.3 L200.6 402.5 L201.1 402.5 L201.5 402.5 L202.0 402.5 L202.5 402.5 L203.0 402.5 L203.4 402.5 L203.9 402.5 L204.4 402.5 L204.9 402.5 L205.3 402.5 L205.8 402.5 L206.3 402.5 L206.8 402.5 L207.2 402.5 L207.7 402.5 L208.2 402.5 L208.7 402.5 L209.1 402.5 L209.6 402.5 L210.1 402.5 L210.6 402.5 L211.0 402.5 L211.5 402.5 L212.0 402.5 L212.5 402.5 L212.9 402.5 L213.4 402.5 L213.9 402.5 L214.4 402.5 L214.8 402.5 L215.3 402.5 L215.8 402.5 L216.3 402.5 L216.7 402.5 L217.2 402.5 L217.7 402.5 L218.2 402.5 L218.6 402.5 L219.1 402.5 L219.6 402.5 L220.1 402.5 L220.5 402.5 L221.0 402.5 L221.5 402.5 L222.0 402.5 L222.4 402.5 L222.9 402.5 L223.4 402.5 L223.9 402.5 L224.3 402.5 L224.8 402.5 L225.3 402.5 L225.8 402.5 L226.2 402.5 L226.7 402.5 L227.2 402.5 L227.7 402.5 L228.1 402.5 L228.6 402.5 L229.1 402.5 L229.6 402.5 L230.0 402.5 L230.5 402.5" fill="none" stroke="#5a5a5a" stroke-width="0.65"/>
<path d="M54.0 489.8 L54.0 489.8 L54.5 489.8 L54.9 489.7 L55.4 489.7 L55.8 489.5 L56.3 489.6 L56.8 489.3 L57.2 489.6 L57.7 489.6 L58.1 489.4 L58.6 489.4 L59.1 489.5 L59.5 489.5 L60.0 489.2 L60.4 489.2 L60.9 489.4 L61.3 489.4 L61.8 489.7 L62.3 488.8 L62.7 489.3 L63.2 488.8 L63.6 489.0 L64.1 488.5 L64.6 488.6 L65.0 488.9 L65.5 488.5 L65.9 489.2 L66.4 488.4 L66.9 489.3 L67.3 488.6 L67.8 488.2 L68.2 488.5 L68.7 488.6 L69.2 488.8 L69.6 488.5 L70.1 487.8 L70.5 487.6 L71.0 487.9 L71.4 488.2 L71.9 487.0 L72.4 487.9 L72.8 487.2 L73.3 487.1 L73.7 485.9 L74.2 486.0 L74.7 485.4 L75.1 484.9 L75.6 485.1 L76.0 483.5 L76.5 482.1 L77.0 482.7 L77.4 481.5 L77.9 481.6 L78.3 479.8 L78.8 479.5 L79.3 478.7 L79.7 478.4 L80.2 475.3 L80.6 476.4 L81.1 475.0 L81.5 473.9 L82.0 470.8 L82.5 471.2 L82.9 469.8 L83.4 466.2 L83.8 464.0 L84.3 463.6 L84.8 467.9 L85.2 463.5 L85.7 462.3 L86.1 461.2 L86.6 458.3 L87.1 452.4 L87.5 455.2 L88.0 454.7 L88.4 450.4 L88.9 450.9 L89.4 450.0 L89.8 451.0 L90.3 448.6 L90.7 446.8 L91.2 451.3 L91.6 448.5 L92.1 439.8 L92.6 437.9 L93.0 441.8 L93.5 444.7 L93.9 444.3 L94.4 445.3 L94.9 439.4 L95.3 430.4 L95.8 430.4 L96.2 423.6 L96.7 423.6 L97.2 419.3 L97.6 419.8 L98.1 430.7 L98.5 431.3 L99.0 432.2 L99.5 432.4 L99.9 430.6 L100.4 434.3 L100.8 442.4 L101.3 446.1 L101.7 454.2 L102.2 460.9 L102.7 462.4 L103.1 472.1 L103.6 472.4 L104.0 476.0 L104.5 476.2 L105.0 479.1 L105.4 481.6 L105.9 484.0 L106.3 484.1 L106.8 486.7 L107.3 487.6 L107.7 488.8 L108.2 488.7 L108.6 489.2 L109.1 489.4 L109.6 489.2 L110.0 488.4 L110.5 489.2 L110.9 488.9 L111.4 489.1 L111.8 489.2 L112.3 489.4 L112.8 489.3 L113.2 489.3 L113.7 489.8 L114.1 488.6 L114.6 489.1 L115.1 489.3 L115.5 489.4 L116.0 489.5 L116.4 489.2 L116.9 489.4 L117.4 489.3 L117.8 489.7 L118.3 489.4 L118.7 489.1 L119.2 489.5 L119.7 489.4 L120.1 489.5 L120.6 489.4 L121.0 489.4 L121.5 489.6 L121.9 489.7 L122.4 489.6 L122.9 489.6 L123.3 489.7 L123.8 489.6 L124.2 489.6 L124.7 489.8 L125.2 489.7 L125.6 489.5 L126.1 489.7 L126.5 489.8 L127.0 489.8 L127.0 489.8 Z" fill="#4e4e4e" stroke="#2a2a2a" stroke-width="0.5"/>
<path d="M54.0 417.8 L54.5 422.3 L54.9 422.8 L55.4 426.3 L55.8 427.1 L56.3 429.8 L56.8 439.0 L57.2 435.7 L57.7 443.1 L58.1 443.4 L58.6 446.1 L59.1 448.9 L59.5 452.1 L60.0 454.3 L60.4 458.8 L60.9 459.1 L61.3 460.7 L61.8 463.3 L62.3 463.3 L62.7 467.0 L63.2 469.1 L63.6 469.8 L64.1 473.1 L64.6 476.4 L65.0 478.9 L65.5 477.4 L65.9 479.4 L66.4 480.3 L66.9 482.2 L67.3 482.8 L67.8 482.9 L68.2 485.0 L68.7 486.8 L69.2 487.6 L69.6 488.3 L70.1 489.8 L70.5 489.8 L71.0 489.8 L71.4 489.8 L71.9 489.8 L72.4 489.8 L72.8 489.8 L73.3 489.8 L73.7 489.8 L74.2 489.8 L74.7 489.8 L75.1 489.8 L75.6 489.8 L76.0 489.8 L76.5 489.8 L77.0 489.8 L77.4 489.8 L77.9 489.8 L78.3 489.8 L78.8 489.8 L79.3 489.8 L79.7 489.8 L80.2 489.8 L80.6 489.8 L81.1 489.8 L81.5 489.8 L82.0 489.8 L82.5 489.8 L82.9 489.8 L83.4 489.8 L83.8 489.8 L84.3 489.8 L84.8 489.8 L85.2 489.8 L85.7 489.8 L86.1 489.8 L86.6 489.8 L87.1 489.8 L87.5 489.8 L88.0 489.8 L88.4 489.8 L88.9 489.8 L89.4 489.8 L89.8 489.8 L90.3 489.8 L90.7 489.8 L91.2 489.8 L91.6 489.8 L92.1 489.8 L92.6 489.8 L93.0 489.8 L93.5 489.8 L93.9 489.8 L94.4 489.8 L94.9 489.8 L95.3 489.8 L95.8 489.8 L96.2 489.8 L96.7 489.8 L97.2 489.8 L97.6 489.8 L98.1 489.8 L98.5 489.8 L99.0 489.8 L99.5 489.8 L99.9 489.8 L100.4 489.8 L100.8 489.8 L101.3 489.8 L101.7 489.8 L102.2 489.8 L102.7 489.8 L103.1 489.8 L103.6 489.8 L104.0 489.8 L104.5 489.8 L105.0 489.8 L105.4 489.8 L105.9 489.8 L106.3 489.8 L106.8 489.8 L107.3 489.8 L107.7 489.8 L108.2 489.8 L108.6 489.8 L109.1 489.8 L109.6 489.8 L110.0 489.8 L110.5 489.8 L110.9 489.8 L111.4 489.8 L111.8 489.8 L112.3 489.8 L112.8 489.8 L113.2 489.8 L113.7 489.8 L114.1 489.8 L114.6 489.8 L115.1 489.8 L115.5 489.8 L116.0 489.8 L116.4 489.8 L116.9 489.8 L117.4 489.8 L117.8 489.8 L118.3 489.8 L118.7 489.8 L119.2 489.8 L119.7 489.8 L120.1 489.8 L120.6 489.8 L121.0 489.8 L121.5 489.8 L121.9 489.8 L122.4 489.8 L122.9 489.8 L123.3 489.8 L123.8 489.8 L124.2 489.8 L124.7 489.8 L125.2 489.8 L125.6 489.8 L126.1 489.8 L126.5 489.8 L127.0 489.8" fill="none" stroke="#5a5a5a" stroke-width="0.65"/>
<path d="M155.0 489.8 L155.0 483.3 L155.5 484.6 L155.9 485.0 L156.4 486.1 L156.8 483.8 L157.3 482.3 L157.8 483.3 L158.2 482.7 L158.7 482.2 L159.2 483.8 L159.6 480.5 L160.1 483.6 L160.5 482.4 L161.0 480.1 L161.5 482.6 L161.9 482.3 L162.4 482.8 L162.8 481.8 L163.3 484.0 L163.8 482.4 L164.2 479.9 L164.7 481.2 L165.2 481.5 L165.6 480.7 L166.1 480.4 L166.5 480.3 L167.0 479.5 L167.5 481.6 L167.9 478.8 L168.4 479.8 L168.8 477.8 L169.3 478.3 L169.8 479.0 L170.2 477.4 L170.7 478.1 L171.2 475.1 L171.6 476.0 L172.1 474.3 L172.5 476.5 L173.0 472.2 L173.5 474.1 L173.9 471.1 L174.4 471.2 L174.9 473.4 L175.3 470.6 L175.8 471.3 L176.2 469.2 L176.7 466.3 L177.2 466.2 L177.6 464.2 L178.1 466.7 L178.5 463.1 L179.0 461.5 L179.5 458.6 L179.9 460.2 L180.4 456.3 L180.9 454.9 L181.3 457.3 L181.8 454.7 L182.2 449.8 L182.7 451.1 L183.2 449.1 L183.6 442.0 L184.1 441.2 L184.5 440.2 L185.0 437.1 L185.5 435.4 L185.9 432.5 L186.4 429.0 L186.9 423.4 L187.3 417.6 L187.8 424.4 L188.2 424.9 L188.7 426.9 L189.2 431.4 L189.6 428.9 L190.1 429.0 L190.5 435.2 L191.0 432.8 L191.5 438.2 L191.9 435.8 L192.4 437.6 L192.9 443.3 L193.3 448.9 L193.8 446.9 L194.2 451.1 L194.7 452.8 L195.2 452.3 L195.6 451.3 L196.1 457.0 L196.5 459.9 L197.0 465.5 L197.5 465.9 L197.9 469.8 L198.4 469.3 L198.9 473.1 L199.3 474.6 L199.8 476.8 L200.2 479.2 L200.7 480.3 L201.2 483.0 L201.6 484.7 L202.1 485.0 L202.5 485.5 L203.0 485.7 L203.5 487.2 L203.9 487.3 L204.4 488.7 L204.9 488.9 L205.3 489.5 L205.8 489.2 L206.2 489.8 L206.7 489.8 L207.2 489.8 L207.6 489.8 L208.1 489.8 L208.5 489.8 L209.0 489.8 L209.5 489.8 L209.9 489.8 L210.4 489.8 L210.9 489.8 L211.3 489.8 L211.8 489.8 L212.2 489.8 L212.7 489.8 L213.2 489.8 L213.6 489.8 L214.1 489.8 L214.6 489.8 L215.0 489.8 L215.5 489.8 L215.9 489.8 L216.4 489.8 L216.9 489.8 L217.3 489.8 L217.8 489.8 L218.2 489.8 L218.7 489.8 L219.2 489.8 L219.6 489.8 L220.1 489.8 L220.6 489.8 L221.0 489.8 L221.5 489.8 L221.9 489.8 L222.4 489.8 L222.9 489.8 L223.3 489.8 L223.8 489.8 L224.2 489.8 L224.7 489.8 L225.2 489.8 L225.6 489.8 L226.1 489.8 L226.6 489.8 L227.0 489.8 L227.5 489.8 L227.9 489.8 L228.4 489.8 L228.4 489.8 Z" fill="#4e4e4e" stroke="#2a2a2a" stroke-width="0.5"/>
<path d="M155.0 422.4 L155.5 416.4 L155.9 418.1 L156.4 426.1 L156.8 426.9 L157.3 431.2 L157.8 433.0 L158.2 437.7 L158.7 437.8 L159.2 444.2 L159.6 442.6 L160.1 447.2 L160.5 446.6 L161.0 456.0 L161.5 456.3 L161.9 460.8 L162.4 462.0 L162.8 464.3 L163.3 469.1 L163.8 472.7 L164.2 475.9 L164.7 477.0 L165.2 479.3 L165.6 482.7 L166.1 486.2 L166.5 487.8 L167.0 488.7 L167.5 489.8 L167.9 489.8 L168.4 489.8 L168.8 489.8 L169.3 489.8 L169.8 489.8 L170.2 489.8 L170.7 489.8 L171.2 489.8 L171.6 489.8 L172.1 489.8 L172.5 489.8 L173.0 489.8 L173.5 489.8 L173.9 489.8 L174.4 489.8 L174.9 489.8 L175.3 489.8 L175.8 489.8 L176.2 489.8 L176.7 489.8 L177.2 489.8 L177.6 489.8 L178.1 489.8 L178.5 489.8 L179.0 489.8 L179.5 489.8 L179.9 489.8 L180.4 489.8 L180.9 489.8 L181.3 489.8 L181.8 489.8 L182.2 489.8 L182.7 489.8 L183.2 489.8 L183.6 489.8 L184.1 489.8 L184.5 489.8 L185.0 489.8 L185.5 489.8 L185.9 489.8 L186.4 489.8 L186.9 489.8 L187.3 489.8 L187.8 489.8 L188.2 489.8 L188.7 489.8 L189.2 489.8 L189.6 489.8 L190.1 489.8 L190.5 489.8 L191.0 489.8 L191.5 489.8 L191.9 489.8 L192.4 489.8 L192.9 489.8 L193.3 489.8 L193.8 489.8 L194.2 489.8 L194.7 489.8 L195.2 489.8 L195.6 489.8 L196.1 489.8 L196.5 489.8 L197.0 489.8 L197.5 489.8 L197.9 489.8 L198.4 489.8 L198.9 489.8 L199.3 489.8 L199.8 489.8 L200.2 489.8 L200.7 489.8 L201.2 489.8 L201.6 489.8 L202.1 489.8 L202.5 489.8 L203.0 489.8 L203.5 489.8 L203.9 489.8 L204.4 489.8 L204.9 489.8 L205.3 489.8 L205.8 489.8 L206.2 489.8 L206.7 489.8 L207.2 489.8 L207.6 489.8 L208.1 489.8 L208.5 489.8 L209.0 489.8 L209.5 489.8 L209.9 489.8 L210.4 489.8 L210.9 489.8 L211.3 489.8 L211.8 489.8 L212.2 489.8 L212.7 489.8 L213.2 489.8 L213.6 489.8 L214.1 489.8 L214.6 489.8 L215.0 489.8 L215.5 489.8 L215.9 489.8 L216.4 489.8 L216.9 489.8 L217.3 489.8 L217.8 489.8 L218.2 489.8 L218.7 489.8 L219.2 489.8 L219.6 489.8 L220.1 489.8 L220.6 489.8 L221.0 489.8 L221.5 489.8 L221.9 489.8 L222.4 489.8 L222.9 489.8 L223.3 489.8 L223.8 489.8 L224.2 489.8 L224.7 489.8 L225.2 489.8 L225.6 489.8 L226.1 489.8 L226.6 489.8 L227.0 489.8 L227.5 489.8 L227.9 489.8 L228.4 489.8" fill="none" stroke="#5a5a5a" stroke-width="0.65"/>
<path d="M51.8 625.0 L51.8 620.9 L52.3 620.4 L52.7 619.1 L53.2 619.7 L53.7 618.7 L54.1 618.2 L54.6 620.0 L55.0 617.7 L55.5 618.9 L56.0 616.4 L56.4 617.4 L56.9 618.4 L57.4 617.5 L57.8 617.2 L58.3 616.4 L58.8 614.7 L59.2 614.9 L59.7 613.0 L60.1 613.4 L60.6 613.7 L61.1 614.7 L61.5 613.5 L62.0 608.6 L62.5 605.2 L62.9 601.3 L63.4 602.0 L63.9 598.3 L64.3 597.6 L64.8 594.6 L65.2 596.0 L65.7 587.6 L66.2 588.3 L66.6 584.4 L67.1 579.6 L67.6 576.3 L68.0 576.7 L68.5 566.0 L69.0 564.5 L69.4 561.8 L69.9 561.8 L70.3 562.1 L70.8 562.7 L71.3 561.3 L71.7 564.0 L72.2 570.0 L72.7 567.8 L73.1 576.3 L73.6 579.4 L74.0 584.4 L74.5 593.1 L75.0 593.8 L75.4 599.5 L75.9 606.8 L76.4 608.3 L76.8 612.6 L77.3 617.5 L77.8 620.9 L78.2 623.0 L78.7 623.1 L79.1 623.8 L79.6 623.5 L80.1 623.6 L80.5 623.2 L81.0 623.4 L81.5 624.0 L81.9 623.4 L82.4 623.2 L82.9 623.7 L83.3 624.4 L83.8 624.1 L84.2 624.0 L84.7 624.5 L85.2 624.0 L85.6 624.5 L86.1 623.8 L86.6 623.9 L87.0 624.2 L87.5 624.6 L88.0 624.1 L88.4 624.4 L88.9 624.5 L89.3 623.9 L89.8 624.5 L90.3 624.7 L90.7 624.0 L91.2 623.7 L91.7 623.8 L92.1 624.0 L92.6 623.6 L93.1 624.4 L93.5 623.6 L94.0 623.6 L94.4 624.4 L94.9 624.1 L95.4 624.6 L95.8 624.6 L96.3 624.1 L96.8 624.6 L97.2 624.2 L97.7 624.1 L98.2 624.2 L98.6 624.0 L99.1 623.7 L99.5 624.2 L100.0 624.0 L100.5 623.8 L100.9 624.4 L101.4 624.5 L101.9 625.0 L102.3 624.1 L102.8 623.9 L103.3 624.1 L103.7 623.5 L104.2 623.5 L104.6 623.5 L105.1 623.7 L105.6 623.9 L106.0 623.3 L106.5 623.0 L107.0 623.1 L107.4 623.0 L107.9 622.9 L108.3 622.1 L108.8 623.2 L109.3 622.2 L109.7 622.4 L110.2 622.6 L110.7 623.1 L111.1 623.7 L111.6 623.9 L112.1 624.2 L112.5 623.3 L113.0 623.6 L113.4 623.8 L113.9 624.2 L114.4 624.4 L114.8 623.7 L115.3 624.2 L115.8 624.1 L116.2 623.8 L116.7 624.8 L117.2 624.7 L117.6 624.5 L118.1 624.5 L118.5 624.9 L119.0 624.7 L119.5 624.8 L119.9 624.8 L120.4 624.7 L120.9 624.7 L121.3 624.6 L121.8 624.7 L122.3 624.6 L122.7 625.0 L123.2 624.8 L123.6 625.0 L124.1 625.0 L124.6 625.0 L125.0 624.9 L125.5 625.0 L125.5 625.0 Z" fill="#4e4e4e" stroke="#2a2a2a" stroke-width="0.5"/>
<path d="M51.8 615.3 L52.3 611.8 L52.7 610.8 L53.2 610.3 L53.7 608.8 L54.1 607.0 L54.6 606.8 L55.0 601.0 L55.5 602.8 L56.0 600.9 L56.4 599.2 L56.9 597.6 L57.4 595.8 L57.8 591.9 L58.3 592.1 L58.8 589.7 L59.2 587.2 L59.7 582.4 L60.1 583.5 L60.6 581.6 L61.1 577.5 L61.5 578.2 L62.0 574.9 L62.5 570.8 L62.9 569.8 L63.4 568.6 L63.9 564.0 L64.3 566.4 L64.8 565.3 L65.2 566.2 L65.7 561.0 L66.2 558.3 L66.6 559.5 L67.1 552.6 L67.6 554.7 L68.0 556.5 L68.5 570.1 L69.0 576.6 L69.4 585.8 L69.9 593.2 L70.3 592.7 L70.8 595.5 L71.3 600.1 L71.7 599.7 L72.2 600.4 L72.7 604.6 L73.1 608.9 L73.6 610.9 L74.0 612.2 L74.5 616.5 L75.0 618.2 L75.4 621.1 L75.9 623.7 L76.4 625.0 L76.8 625.0 L77.3 625.0 L77.8 625.0 L78.2 625.0 L78.7 625.0 L79.1 625.0 L79.6 625.0 L80.1 625.0 L80.5 625.0 L81.0 625.0 L81.5 625.0 L81.9 625.0 L82.4 625.0 L82.9 625.0 L83.3 625.0 L83.8 625.0 L84.2 625.0 L84.7 625.0 L85.2 625.0 L85.6 625.0 L86.1 625.0 L86.6 625.0 L87.0 625.0 L87.5 625.0 L88.0 625.0 L88.4 625.0 L88.9 625.0 L89.3 625.0 L89.8 625.0 L90.3 625.0 L90.7 625.0 L91.2 625.0 L91.7 625.0 L92.1 625.0 L92.6 625.0 L93.1 625.0 L93.5 625.0 L94.0 625.0 L94.4 625.0 L94.9 625.0 L95.4 625.0 L95.8 625.0 L96.3 625.0 L96.8 625.0 L97.2 625.0 L97.7 625.0 L98.2 625.0 L98.6 625.0 L99.1 625.0 L99.5 625.0 L100.0 625.0 L100.5 625.0 L100.9 625.0 L101.4 625.0 L101.9 625.0 L102.3 625.0 L102.8 625.0 L103.3 625.0 L103.7 625.0 L104.2 625.0 L104.6 625.0 L105.1 625.0 L105.6 625.0 L106.0 625.0 L106.5 625.0 L107.0 625.0 L107.4 625.0 L107.9 625.0 L108.3 625.0 L108.8 625.0 L109.3 625.0 L109.7 625.0 L110.2 625.0 L110.7 625.0 L111.1 625.0 L111.6 625.0 L112.1 625.0 L112.5 625.0 L113.0 625.0 L113.4 625.0 L113.9 625.0 L114.4 625.0 L114.8 625.0 L115.3 625.0 L115.8 625.0 L116.2 625.0 L116.7 625.0 L117.2 625.0 L117.6 625.0 L118.1 625.0 L118.5 625.0 L119.0 625.0 L119.5 625.0 L119.9 625.0 L120.4 625.0 L120.9 625.0 L121.3 625.0 L121.8 625.0 L122.3 625.0 L122.7 625.0 L123.2 625.0 L123.6 625.0 L124.1 625.0 L124.6 625.0 L125.0 625.0 L125.5 625.0" fill="none" stroke="#5a5a5a" stroke-width="0.65"/>
<path d="M154.3 625.0 L154.3 625.0 L154.8 625.0 L155.3 624.9 L155.7 624.9 L156.2 624.8 L156.7 625.0 L157.2 624.9 L157.6 625.0 L158.1 625.0 L158.6 625.0 L159.1 624.9 L159.5 625.0 L160.0 624.9 L160.5 624.7 L161.0 624.8 L161.4 624.7 L161.9 624.8 L162.4 624.8 L162.9 625.0 L163.3 624.6 L163.8 625.0 L164.3 624.7 L164.8 624.8 L165.3 624.7 L165.7 624.7 L166.2 624.8 L166.7 624.5 L167.2 624.9 L167.6 624.5 L168.1 625.0 L168.6 624.4 L169.1 624.7 L169.5 624.5 L170.0 624.1 L170.5 625.0 L171.0 624.3 L171.4 623.9 L171.9 623.7 L172.4 623.4 L172.9 623.5 L173.3 623.5 L173.8 623.5 L174.3 622.9 L174.8 622.2 L175.2 620.8 L175.7 620.5 L176.2 619.3 L176.7 616.0 L177.2 613.7 L177.6 612.9 L178.1 610.1 L178.6 606.4 L179.1 605.6 L179.5 604.9 L180.0 600.8 L180.5 595.2 L181.0 593.8 L181.4 591.2 L181.9 583.6 L182.4 581.5 L182.9 567.3 L183.3 568.5 L183.8 566.3 L184.3 556.7 L184.8 562.2 L185.2 557.5 L185.7 559.5 L186.2 566.5 L186.7 569.5 L187.2 572.2 L187.6 578.4 L188.1 584.1 L188.6 587.1 L189.1 590.7 L189.5 595.9 L190.0 606.4 L190.5 605.2 L191.0 610.4 L191.4 614.9 L191.9 617.3 L192.4 617.7 L192.9 618.4 L193.3 620.3 L193.8 619.1 L194.3 620.4 L194.8 622.0 L195.2 623.3 L195.7 622.5 L196.2 623.1 L196.7 623.3 L197.1 624.2 L197.6 623.6 L198.1 624.3 L198.6 623.8 L199.1 624.9 L199.5 624.3 L200.0 624.4 L200.5 625.0 L201.0 624.7 L201.4 624.8 L201.9 624.9 L202.4 624.8 L202.9 624.9 L203.3 624.6 L203.8 624.7 L204.3 624.7 L204.8 624.9 L205.2 624.9 L205.7 624.7 L206.2 625.0 L206.7 625.0 L207.1 625.0 L207.6 625.0 L208.1 625.0 L208.6 625.0 L209.1 625.0 L209.5 625.0 L210.0 625.0 L210.5 625.0 L211.0 625.0 L211.4 625.0 L211.9 625.0 L212.4 625.0 L212.9 625.0 L213.3 625.0 L213.8 625.0 L214.3 625.0 L214.8 625.0 L215.2 625.0 L215.7 625.0 L216.2 625.0 L216.7 625.0 L217.1 625.0 L217.6 625.0 L218.1 625.0 L218.6 625.0 L219.0 625.0 L219.5 625.0 L220.0 625.0 L220.5 625.0 L221.0 625.0 L221.4 625.0 L221.9 625.0 L222.4 625.0 L222.9 625.0 L223.3 625.0 L223.8 625.0 L224.3 625.0 L224.8 625.0 L225.2 625.0 L225.7 625.0 L226.2 625.0 L226.7 625.0 L227.1 625.0 L227.6 625.0 L228.1 625.0 L228.6 625.0 L229.0 625.0 L229.5 625.0 L230.0 625.0 L230.0 625.0 Z" fill="#4e4e4e" stroke="#2a2a2a" stroke-width="0.5"/>
<path d="M154.3 611.0 L154.8 610.7 L155.3 608.3 L155.7 609.2 L156.2 610.0 L156.7 608.2 L157.2 606.9 L157.6 606.3 L158.1 604.2 L158.6 602.3 L159.1 600.2 L159.5 598.7 L160.0 593.6 L160.5 592.3 L161.0 592.8 L161.4 586.5 L161.9 585.8 L162.4 583.1 L162.9 580.8 L163.3 576.5 L163.8 580.1 L164.3 573.6 L164.8 570.0 L165.3 569.0 L165.7 569.8 L166.2 566.9 L166.7 561.7 L167.2 557.0 L167.6 562.4 L168.1 557.9 L168.6 554.3 L169.1 556.8 L169.5 559.3 L170.0 560.9 L170.5 564.6 L171.0 571.8 L171.4 573.4 L171.9 578.7 L172.4 580.7 L172.9 582.1 L173.3 587.7 L173.8 593.2 L174.3 601.8 L174.8 609.2 L175.2 614.2 L175.7 620.1 L176.2 624.5 L176.7 625.0 L177.2 625.0 L177.6 625.0 L178.1 625.0 L178.6 625.0 L179.1 625.0 L179.5 625.0 L180.0 625.0 L180.5 625.0 L181.0 625.0 L181.4 625.0 L181.9 625.0 L182.4 625.0 L182.9 625.0 L183.3 625.0 L183.8 625.0 L184.3 625.0 L184.8 625.0 L185.2 625.0 L185.7 625.0 L186.2 625.0 L186.7 625.0 L187.2 625.0 L187.6 625.0 L188.1 625.0 L188.6 625.0 L189.1 625.0 L189.5 625.0 L190.0 625.0 L190.5 625.0 L191.0 625.0 L191.4 625.0 L191.9 625.0 L192.4 625.0 L192.9 625.0 L193.3 625.0 L193.8 625.0 L194.3 625.0 L194.8 625.0 L195.2 625.0 L195.7 625.0 L196.2 625.0 L196.7 625.0 L197.1 625.0 L197.6 625.0 L198.1 625.0 L198.6 625.0 L199.1 625.0 L199.5 625.0 L200.0 625.0 L200.5 625.0 L201.0 625.0 L201.4 625.0 L201.9 625.0 L202.4 625.0 L202.9 625.0 L203.3 625.0 L203.8 625.0 L204.3 625.0 L204.8 625.0 L205.2 625.0 L205.7 625.0 L206.2 625.0 L206.7 625.0 L207.1 625.0 L207.6 625.0 L208.1 625.0 L208.6 625.0 L209.1 625.0 L209.5 625.0 L210.0 625.0 L210.5 625.0 L211.0 625.0 L211.4 625.0 L211.9 625.0 L212.4 625.0 L212.9 625.0 L213.3 625.0 L213.8 625.0 L214.3 625.0 L214.8 625.0 L215.2 625.0 L215.7 625.0 L216.2 625.0 L216.7 625.0 L217.1 625.0 L217.6 625.0 L218.1 625.0 L218.6 625.0 L219.0 625.0 L219.5 625.0 L220.0 625.0 L220.5 625.0 L221.0 625.0 L221.4 625.0 L221.9 625.0 L222.4 625.0 L222.9 625.0 L223.3 625.0 L223.8 625.0 L224.3 625.0 L224.8 625.0 L225.2 625.0 L225.7 625.0 L226.2 625.0 L226.7 625.0 L227.1 625.0 L227.6 625.0 L228.1 625.0 L228.6 625.0 L229.0 625.0 L229.5 625.0 L230.0 625.0" fill="none" stroke="#5a5a5a" stroke-width="0.65"/>
<path d="M52.5 714.5 L52.5 712.5 L53.0 712.6 L53.5 712.8 L53.9 712.9 L54.4 712.9 L54.9 711.2 L55.4 711.2 L55.8 710.7 L56.3 709.6 L56.8 708.9 L57.3 710.3 L57.7 706.9 L58.2 708.8 L58.7 704.0 L59.2 704.3 L59.7 704.5 L60.1 701.5 L60.6 702.1 L61.1 700.3 L61.6 700.1 L62.0 696.1 L62.5 693.3 L63.0 693.7 L63.5 690.6 L63.9 686.2 L64.4 684.7 L64.9 686.3 L65.4 675.1 L65.8 681.4 L66.3 678.1 L66.8 672.2 L67.3 663.6 L67.8 656.1 L68.2 657.0 L68.7 654.9 L69.2 651.9 L69.7 652.0 L70.1 649.3 L70.6 651.3 L71.1 650.5 L71.6 655.2 L72.0 666.9 L72.5 664.9 L73.0 667.9 L73.5 670.7 L74.0 677.4 L74.4 682.0 L74.9 683.4 L75.4 682.4 L75.9 687.1 L76.3 688.9 L76.8 687.6 L77.3 692.9 L77.8 694.4 L78.2 693.9 L78.7 694.2 L79.2 693.8 L79.7 697.5 L80.2 698.5 L80.6 696.1 L81.1 694.7 L81.6 697.7 L82.1 695.9 L82.5 694.5 L83.0 694.8 L83.5 696.0 L84.0 697.5 L84.4 699.2 L84.9 700.3 L85.4 698.3 L85.9 702.1 L86.3 699.9 L86.8 703.8 L87.3 699.6 L87.8 705.4 L88.3 701.8 L88.7 705.0 L89.2 704.4 L89.7 704.6 L90.2 705.5 L90.6 702.7 L91.1 705.3 L91.6 707.0 L92.1 705.1 L92.5 705.2 L93.0 707.3 L93.5 705.8 L94.0 706.5 L94.5 705.9 L94.9 706.2 L95.4 706.7 L95.9 706.9 L96.4 705.4 L96.8 705.8 L97.3 707.4 L97.8 706.3 L98.3 706.0 L98.7 705.6 L99.2 702.7 L99.7 705.3 L100.2 704.2 L100.6 703.4 L101.1 705.3 L101.6 706.0 L102.1 705.9 L102.6 707.5 L103.0 707.9 L103.5 707.9 L104.0 708.5 L104.5 709.8 L104.9 710.5 L105.4 710.1 L105.9 709.4 L106.4 710.9 L106.8 710.3 L107.3 711.1 L107.8 711.8 L108.3 713.4 L108.8 712.1 L109.2 712.6 L109.7 713.5 L110.2 712.8 L110.7 713.1 L111.1 713.0 L111.6 713.5 L112.1 713.2 L112.6 713.5 L113.0 713.0 L113.5 713.5 L114.0 714.0 L114.5 713.6 L115.0 713.7 L115.4 713.8 L115.9 714.2 L116.4 713.6 L116.9 714.2 L117.3 713.7 L117.8 714.3 L118.3 714.1 L118.8 714.2 L119.2 714.1 L119.7 713.7 L120.2 714.3 L120.7 713.9 L121.1 714.1 L121.6 714.4 L122.1 714.1 L122.6 714.2 L123.1 714.2 L123.5 714.5 L124.0 714.3 L124.5 714.4 L125.0 714.4 L125.4 714.4 L125.9 714.4 L126.4 714.3 L126.9 714.4 L127.3 714.5 L127.8 714.4 L128.3 714.5 L128.3 714.5 Z" fill="#4e4e4e" stroke="#2a2a2a" stroke-width="0.5"/>
<path d="M52.5 694.7 L53.0 696.9 L53.5 691.4 L53.9 689.2 L54.4 683.9 L54.9 681.4 L55.4 678.1 L55.8 677.2 L56.3 676.9 L56.8 669.5 L57.3 667.6 L57.7 666.3 L58.2 664.4 L58.7 662.8 L59.2 662.3 L59.7 659.0 L60.1 654.6 L60.6 648.9 L61.1 649.1 L61.6 644.4 L62.0 647.8 L62.5 642.0 L63.0 647.7 L63.5 645.8 L63.9 648.4 L64.4 653.0 L64.9 657.0 L65.4 660.9 L65.8 670.6 L66.3 678.0 L66.8 677.3 L67.3 679.5 L67.8 689.4 L68.2 690.7 L68.7 695.4 L69.2 696.7 L69.7 699.8 L70.1 700.3 L70.6 704.0 L71.1 706.0 L71.6 708.8 L72.0 709.0 L72.5 711.2 L73.0 712.5 L73.5 713.8 L74.0 714.5 L74.4 714.5 L74.9 714.5 L75.4 714.5 L75.9 714.5 L76.3 714.5 L76.8 714.5 L77.3 714.5 L77.8 714.5 L78.2 714.5 L78.7 714.5 L79.2 714.5 L79.7 714.5 L80.2 714.5 L80.6 714.5 L81.1 714.5 L81.6 714.5 L82.1 714.5 L82.5 714.5 L83.0 714.5 L83.5 714.5 L84.0 714.5 L84.4 714.5 L84.9 714.5 L85.4 714.5 L85.9 714.5 L86.3 714.5 L86.8 714.5 L87.3 714.5 L87.8 714.5 L88.3 714.5 L88.7 714.5 L89.2 714.5 L89.7 714.5 L90.2 714.5 L90.6 714.5 L91.1 714.5 L91.6 714.5 L92.1 714.5 L92.5 714.5 L93.0 714.5 L93.5 714.5 L94.0 714.5 L94.5 714.5 L94.9 714.5 L95.4 714.5 L95.9 714.5 L96.4 714.5 L96.8 714.5 L97.3 714.5 L97.8 714.5 L98.3 714.5 L98.7 714.5 L99.2 714.5 L99.7 714.5 L100.2 714.5 L100.6 714.5 L101.1 714.5 L101.6 714.5 L102.1 714.5 L102.6 714.5 L103.0 714.5 L103.5 714.5 L104.0 714.5 L104.5 714.5 L104.9 714.5 L105.4 714.5 L105.9 714.5 L106.4 714.5 L106.8 714.5 L107.3 714.5 L107.8 714.5 L108.3 714.5 L108.8 714.5 L109.2 714.5 L109.7 714.5 L110.2 714.5 L110.7 714.5 L111.1 714.5 L111.6 714.5 L112.1 714.5 L112.6 714.5 L113.0 714.5 L113.5 714.5 L114.0 714.5 L114.5 714.5 L115.0 714.5 L115.4 714.5 L115.9 714.5 L116.4 714.5 L116.9 714.5 L117.3 714.5 L117.8 714.5 L118.3 714.5 L118.8 714.5 L119.2 714.5 L119.7 714.5 L120.2 714.5 L120.7 714.5 L121.1 714.5 L121.6 714.5 L122.1 714.5 L122.6 714.5 L123.1 714.5 L123.5 714.5 L124.0 714.5 L124.5 714.5 L125.0 714.5 L125.4 714.5 L125.9 714.5 L126.4 714.5 L126.9 714.5 L127.3 714.5 L127.8 714.5 L128.3 714.5" fill="none" stroke="#5a5a5a" stroke-width="0.65"/>
<path d="M153.2 714.5 L153.2 714.5 L153.7 714.5 L154.1 714.4 L154.6 714.5 L155.1 714.1 L155.5 714.2 L156.0 714.4 L156.4 714.2 L156.9 714.0 L157.4 713.7 L157.8 714.4 L158.3 713.9 L158.8 714.0 L159.2 714.2 L159.7 713.8 L160.1 713.9 L160.6 713.7 L161.1 714.1 L161.5 713.9 L162.0 713.8 L162.5 713.9 L162.9 713.8 L163.4 714.0 L163.8 713.7 L164.3 713.7 L164.8 713.5 L165.2 713.3 L165.7 712.9 L166.2 713.2 L166.6 712.4 L167.1 712.7 L167.5 712.4 L168.0 712.2 L168.5 711.1 L168.9 710.7 L169.4 710.7 L169.9 710.6 L170.3 708.4 L170.8 708.9 L171.3 709.0 L171.7 706.6 L172.2 705.3 L172.6 702.9 L173.1 702.6 L173.6 701.8 L174.0 697.1 L174.5 699.4 L175.0 696.2 L175.4 692.4 L175.9 689.9 L176.3 686.7 L176.8 684.2 L177.3 680.7 L177.7 684.3 L178.2 673.8 L178.7 677.2 L179.1 678.7 L179.6 676.8 L180.0 672.9 L180.5 672.6 L181.0 661.7 L181.4 661.0 L181.9 656.8 L182.4 656.0 L182.8 652.4 L183.3 648.3 L183.8 649.8 L184.2 640.9 L184.7 653.4 L185.1 655.8 L185.6 659.1 L186.1 662.1 L186.5 668.6 L187.0 675.5 L187.5 681.1 L187.9 687.9 L188.4 696.6 L188.8 697.5 L189.3 700.9 L189.8 703.2 L190.2 703.6 L190.7 705.7 L191.2 706.6 L191.6 708.3 L192.1 710.7 L192.5 710.7 L193.0 711.3 L193.5 712.5 L193.9 710.9 L194.4 712.0 L194.9 712.4 L195.3 712.2 L195.8 713.5 L196.2 713.4 L196.7 713.0 L197.2 714.3 L197.6 714.0 L198.1 713.3 L198.6 713.6 L199.0 714.1 L199.5 713.8 L200.0 713.6 L200.4 714.1 L200.9 713.8 L201.3 713.8 L201.8 713.9 L202.3 713.5 L202.7 713.9 L203.2 713.9 L203.7 713.9 L204.1 714.0 L204.6 714.2 L205.0 714.0 L205.5 714.1 L206.0 713.5 L206.4 713.4 L206.9 714.1 L207.4 714.5 L207.8 714.1 L208.3 713.9 L208.7 714.2 L209.2 713.9 L209.7 713.9 L210.1 714.2 L210.6 714.1 L211.1 714.3 L211.5 714.2 L212.0 714.4 L212.5 714.2 L212.9 713.8 L213.4 714.2 L213.8 713.9 L214.3 714.1 L214.8 714.5 L215.2 714.2 L215.7 714.3 L216.2 714.5 L216.6 714.3 L217.1 714.0 L217.5 714.1 L218.0 714.3 L218.5 714.4 L218.9 714.3 L219.4 714.3 L219.9 714.1 L220.3 714.4 L220.8 714.5 L221.2 714.4 L221.7 714.5 L222.2 714.4 L222.6 714.3 L223.1 714.5 L223.6 714.3 L224.0 714.5 L224.5 714.5 L224.9 714.5 L225.4 714.5 L225.9 714.5 L226.3 714.5 L226.8 714.5 L226.8 714.5 Z" fill="#4e4e4e" stroke="#2a2a2a" stroke-width="0.5"/>
<path d="M153.2 704.8 L153.7 705.3 L154.1 704.6 L154.6 704.5 L155.1 702.9 L155.5 703.0 L156.0 702.5 L156.4 698.5 L156.9 698.6 L157.4 698.3 L157.8 697.0 L158.3 695.8 L158.8 697.4 L159.2 693.1 L159.7 689.8 L160.1 686.7 L160.6 685.9 L161.1 682.3 L161.5 681.6 L162.0 677.9 L162.5 678.2 L162.9 673.2 L163.4 667.1 L163.8 669.6 L164.3 663.7 L164.8 665.1 L165.2 663.0 L165.7 654.9 L166.2 659.5 L166.6 656.3 L167.1 655.4 L167.5 657.0 L168.0 648.2 L168.5 642.8 L168.9 647.9 L169.4 651.5 L169.9 654.1 L170.3 655.1 L170.8 661.4 L171.3 663.5 L171.7 669.5 L172.2 679.3 L172.6 684.1 L173.1 687.8 L173.6 692.7 L174.0 694.6 L174.5 698.3 L175.0 704.0 L175.4 706.0 L175.9 708.0 L176.3 710.2 L176.8 711.5 L177.3 713.8 L177.7 714.5 L178.2 714.5 L178.7 714.5 L179.1 714.5 L179.6 714.5 L180.0 714.5 L180.5 714.5 L181.0 714.5 L181.4 714.5 L181.9 714.5 L182.4 714.5 L182.8 714.5 L183.3 714.5 L183.8 714.5 L184.2 714.5 L184.7 714.5 L185.1 714.5 L185.6 714.5 L186.1 714.5 L186.5 714.5 L187.0 714.5 L187.5 714.5 L187.9 714.5 L188.4 714.5 L188.8 714.5 L189.3 714.5 L189.8 714.5 L190.2 714.5 L190.7 714.5 L191.2 714.5 L191.6 714.5 L192.1 714.5 L192.5 714.5 L193.0 714.5 L193.5 714.5 L193.9 714.5 L194.4 714.5 L194.9 714.5 L195.3 714.5 L195.8 714.5 L196.2 714.5 L196.7 714.5 L197.2 714.5 L197.6 714.5 L198.1 714.5 L198.6 714.5 L199.0 714.5 L199.5 714.5 L200.0 714.5 L200.4 714.5 L200.9 714.5 L201.3 714.5 L201.8 714.5 L202.3 714.5 L202.7 714.5 L203.2 714.5 L203.7 714.5 L204.1 714.5 L204.6 714.5 L205.0 714.5 L205.5 714.5 L206.0 714.5 L206.4 714.5 L206.9 714.5 L207.4 714.5 L207.8 714.5 L208.3 714.5 L208.7 714.5 L209.2 714.5 L209.7 714.5 L210.1 714.5 L210.6 714.5 L211.1 714.5 L211.5 714.5 L212.0 714.5 L212.5 714.5 L212.9 714.5 L213.4 714.5 L213.8 714.5 L214.3 714.5 L214.8 714.5 L215.2 714.5 L215.7 714.5 L216.2 714.5 L216.6 714.5 L217.1 714.5 L217.5 714.5 L218.0 714.5 L218.5 714.5 L218.9 714.5 L219.4 714.5 L219.9 714.5 L220.3 714.5 L220.8 714.5 L221.2 714.5 L221.7 714.5 L222.2 714.5 L222.6 714.5 L223.1 714.5 L223.6 714.5 L224.0 714.5 L224.5 714.5 L224.9 714.5 L225.4 714.5 L225.9 714.5 L226.3 714.5 L226.8 714.5" fill="none" stroke="#5a5a5a" stroke-width="0.65"/>
<clipPath id="c2"><rect x="288.90" y="317.20" width="78.40" height="69.10"/></clipPath>
<g clip-path="url(#c2)" fill="none" stroke="#111" stroke-linejoin="round"><path d="M348.7 337.6 347.2 337.3 345.6 337.3 344.0 337.6 343.0 337.7 341.4 338.0 340.4 338.3 339.3 338.7 338.2 339.1 336.8 339.5 335.8 340.0 335.1 340.5 334.1 341.0 333.1 341.5 332.0 342.1 331.1 342.8 330.5 343.3 329.4 344.1 328.8 344.6 327.8 345.4 326.9 346.0 326.2 346.5 325.2 347.3 324.7 348.0 324.2 349.0 323.7 349.8 323.1 350.6 322.6 352.0 322.3 352.9 321.8 353.8 321.1 354.7 320.5 355.4 319.8 356.1 318.4 356.5 316.9 356.2 315.8 356.0 314.8 355.6 313.7 354.9 312.9 354.3 312.2 353.8 311.1 353.3 310.1 352.7 309.1 352.0 308.5 351.4 307.5 350.6 306.4 350.3 304.8 350.2 303.3 350.3 302.2 350.0 301.2 349.4 300.1 349.0 298.6 349.1 297.0 349.1 295.4 349.1 294.3 349.2 293.1 349.7 292.3 350.5 291.8 351.1 290.7 351.8 289.7 352.3 289.1 352.9 288.9 354.3 288.8 355.7 288.8 357.0 288.8 358.4 288.7 359.8 288.7 361.2 288.7 362.6 288.7 364.0 288.7 365.3 288.7 366.7 288.7 368.1 288.7 369.5 288.7 370.9 288.7 372.2 288.7 373.6 288.7 375.0 288.7 376.4 288.7 377.8 288.7 379.2 288.7 380.5 288.7 381.9 288.7 383.3 288.7 384.7 288.7 386.1 290.2 386.5 291.8 386.5 293.3 386.5 294.9 386.5 296.5 386.5 298.0 386.5 299.6 386.5 301.2 386.5 302.8 386.5 304.3 386.5 305.9 386.4 307.5 386.4 309.0 386.4 310.6 386.3 312.2 386.2 313.2 385.7 313.7 385.0 314.2 383.8 314.3 382.8 314.7 381.5 315.1 380.5 315.8 379.7 316.3 379.1 317.0 378.2 317.4 377.0 317.9 376.1 319.0 375.5 320.0 375.0 320.9 374.6 321.8 374.1 322.9 373.6 324.1 373.2 325.2 372.7 326.0 372.2 326.8 371.5 327.5 370.9 328.4 370.4 329.9 370.0 331.0 369.6 332.0 369.0 332.7 368.6 333.6 368.0 334.6 367.5 335.7 367.1 336.7 366.6 337.8 366.0 338.8 365.3 339.5 364.9 340.4 364.4 341.4 363.8 342.5 363.3 343.5 362.8 344.4 362.1 345.1 361.4 345.6 360.7 346.4 359.8 347.2 359.3 348.2 358.8 349.3 358.2 350.0 357.5 350.5 356.6 351.1 355.7 351.9 354.7 352.4 354.1 352.9 353.4 353.4 352.4 354.0 351.2 354.5 350.1 355.0 349.2 355.5 348.3 355.8 347.4 355.7 346.0 355.4 345.1 355.1 343.7 354.8 342.8 354.4 341.8 353.8 340.9 353.0 340.0 352.4 339.5 351.4 338.8 350.3 338.2 349.3 337.8 348.7 337.6" stroke-width="0.55"/><path d="M347.7 338.5 346.1 338.3 344.6 338.4 343.4 338.6 342.0 338.9 340.9 339.3 339.9 339.6 338.3 340.0 337.2 340.3 336.2 340.7 335.2 341.3 334.1 341.8 333.1 342.3 332.3 342.8 331.5 343.3 330.5 344.1 329.9 344.7 328.9 345.5 328.2 346.0 327.3 346.7 326.3 347.4 325.7 348.0 325.2 348.9 324.7 349.7 324.1 350.6 323.7 352.0 323.5 352.9 323.1 353.9 322.6 354.9 322.1 355.9 321.6 356.9 321.4 358.0 321.4 359.4 321.4 360.7 320.9 361.7 319.5 362.0 318.4 361.6 317.4 361.0 316.5 360.3 316.1 359.4 315.8 358.2 315.3 357.5 314.2 356.7 313.5 356.1 312.7 355.4 311.8 354.7 311.0 354.3 310.0 353.8 309.0 353.2 308.1 352.4 307.5 351.8 306.4 351.3 304.8 351.2 303.3 351.3 301.9 351.1 300.7 350.6 299.6 350.3 298.0 350.5 297.0 350.9 296.0 351.3 294.9 351.5 293.4 352.0 292.3 352.4 291.3 352.7 290.2 353.0 289.2 353.5 289.0 354.7 288.9 356.1 288.8 357.5 288.8 358.9 288.8 360.3 288.7 361.7 288.7 363.0 288.7 364.4 288.7 365.8 288.7 367.2 288.7 368.6 288.7 369.9 288.7 371.3 288.7 372.7 288.7 374.1 288.7 375.5 288.7 376.9 288.7 378.2 288.7 379.6 288.7 381.0 288.7 382.4 288.7 383.8 288.7 385.1 289.2 386.4 290.7 386.5 292.3 386.5 293.9 386.5 295.4 386.5 297.0 386.5 298.6 386.5 300.1 386.5 301.7 386.5 303.3 386.5 304.8 386.4 306.4 386.4 308.0 386.4 309.5 386.3 311.1 386.1 311.8 385.6 312.4 384.7 312.8 383.8 313.2 382.7 313.5 381.5 313.9 380.5 314.6 379.6 315.3 378.7 315.8 377.8 315.9 376.9 316.1 375.5 316.9 374.7 317.9 374.4 319.2 374.1 320.4 373.6 321.4 373.2 322.5 372.7 323.7 372.3 324.7 371.9 325.5 371.3 326.3 370.5 327.1 369.9 328.2 369.5 329.4 369.2 330.5 368.9 331.5 368.3 332.4 367.6 333.2 367.2 334.2 366.7 335.3 366.3 336.3 365.8 337.2 365.3 338.3 364.7 339.3 364.1 340.3 363.5 341.1 363.0 342.1 362.6 343.0 362.1 344.0 361.3 344.6 360.7 345.2 359.8 346.1 358.9 346.9 358.4 347.9 358.0 348.7 357.4 349.4 356.6 349.9 355.7 350.7 354.7 351.4 354.0 352.0 353.4 352.5 352.4 352.9 351.4 353.4 350.1 353.8 349.2 354.2 348.3 354.5 347.4 354.5 346.3 354.1 345.1 353.7 344.1 353.1 343.2 352.5 342.3 351.9 341.4 351.4 340.7 350.6 340.0 349.8 339.4 348.7 338.9 347.7 338.5" stroke-width="0.58"/><path d="M346.7 339.5 345.1 339.4 343.8 339.5 342.5 339.8 341.4 340.1 340.0 340.5 338.8 340.7 337.8 341.0 336.7 341.4 335.7 341.9 334.6 342.4 333.6 342.8 332.5 343.4 331.6 344.1 331.0 344.7 330.0 345.5 329.4 346.1 328.4 346.9 327.8 347.4 326.8 348.2 326.3 348.9 325.7 349.7 325.2 350.6 324.8 352.0 324.7 352.9 324.3 354.3 324.0 355.2 323.7 356.4 323.6 357.5 323.9 358.4 324.2 359.7 324.1 360.3 323.7 361.4 323.2 362.6 322.6 363.5 321.6 364.0 320.6 364.4 320.0 364.9 319.1 365.8 318.4 366.3 316.9 366.6 315.8 365.8 315.6 364.9 315.4 363.5 315.4 362.1 315.1 361.2 314.7 360.3 314.2 359.2 313.7 358.2 313.2 357.5 312.3 356.6 311.6 355.8 310.8 355.2 310.0 354.7 309.0 354.3 308.0 353.7 307.0 352.9 306.1 352.4 304.8 352.3 303.3 352.4 301.7 352.1 300.7 351.9 299.1 351.8 298.0 352.1 297.0 352.5 295.6 352.9 294.4 353.1 292.8 353.3 291.8 353.5 290.7 353.8 289.6 354.3 289.1 355.2 289.0 356.6 288.9 358.0 288.9 359.4 288.8 360.7 288.8 362.1 288.7 363.5 288.7 364.9 288.7 366.3 288.7 367.6 288.7 369.0 288.7 370.4 288.7 371.8 288.7 373.2 288.7 374.6 288.7 375.9 288.7 377.3 288.7 378.7 288.7 380.1 288.7 381.5 288.7 382.8 288.7 384.2 288.8 385.6 289.7 386.4 291.3 386.5 292.8 386.5 294.4 386.5 296.0 386.4 297.5 386.4 299.1 386.4 300.7 386.4 302.2 386.4 303.8 386.4 305.4 386.3 306.9 386.3 308.5 386.3 310.1 386.1 310.7 385.6 311.1 384.7 311.6 383.6 312.2 382.4 312.4 381.5 312.7 380.5 313.3 379.6 314.1 378.7 314.6 377.8 314.7 376.4 314.8 375.1 315.2 374.1 315.8 373.5 316.9 373.0 318.4 373.1 320.0 372.7 321.0 372.3 322.1 371.8 323.1 371.4 324.2 371.0 324.9 370.4 325.7 369.6 326.7 369.0 327.8 368.6 328.9 368.3 329.9 367.9 331.0 367.2 331.6 366.7 332.5 366.2 333.9 365.8 335.2 365.4 336.2 364.9 337.1 364.4 338.0 364.0 338.8 363.4 339.9 362.7 340.9 362.1 342.0 361.7 342.9 361.2 343.5 360.6 344.2 359.8 344.9 358.9 345.6 358.2 346.7 357.5 347.6 357.0 348.2 356.5 348.8 355.7 349.5 354.7 350.3 353.9 350.9 353.4 351.6 352.4 352.0 351.5 352.4 350.2 352.8 349.2 353.1 348.3 353.3 346.9 352.9 345.8 352.4 344.7 351.9 343.7 351.4 342.8 350.8 342.0 350.3 341.4 349.3 340.5 348.5 340.0 347.2 339.5 346.7 339.5" stroke-width="0.6"/><path d="M347.2 340.8 345.6 340.7 344.0 340.6 342.5 340.7 341.4 340.9 339.9 341.3 338.8 341.5 337.6 341.8 336.5 342.3 335.6 342.8 334.5 343.2 333.6 343.7 332.5 344.4 331.7 345.1 331.0 345.8 330.2 346.5 329.4 347.1 328.6 347.8 327.8 348.5 327.2 349.2 326.6 350.1 326.1 351.1 325.8 352.4 325.7 353.4 325.5 354.7 325.3 356.1 325.4 357.5 325.7 358.9 325.9 359.8 326.1 361.2 326.2 362.6 326.4 363.5 326.8 364.9 326.3 366.3 325.2 366.3 324.2 366.1 322.6 366.0 321.1 366.3 320.4 366.7 319.5 367.5 318.6 368.1 317.4 368.6 316.3 368.6 315.3 368.2 314.6 367.6 314.1 366.7 313.8 365.3 313.7 364.4 313.8 363.5 314.0 362.1 313.7 360.9 313.2 359.8 312.7 358.9 312.2 358.2 311.6 357.5 310.9 356.6 310.1 355.9 309.0 355.3 308.0 354.8 306.9 354.3 305.9 353.8 304.8 353.6 303.3 353.4 302.2 353.3 300.7 353.1 299.1 353.2 298.0 353.5 297.0 353.9 295.8 354.3 294.4 354.6 292.8 354.5 291.4 354.7 290.2 355.2 289.5 355.7 289.1 356.6 289.1 358.0 289.0 359.4 288.9 360.7 288.9 362.1 288.8 363.5 288.8 364.9 288.7 366.3 288.7 367.6 288.7 369.0 288.7 370.4 288.7 371.8 288.7 373.2 288.7 374.6 288.7 375.9 288.7 377.3 288.7 378.7 288.7 380.1 288.7 381.5 288.7 382.8 288.8 384.2 288.9 385.6 289.7 386.3 291.3 386.4 292.8 386.4 294.4 386.4 296.0 386.4 297.5 386.4 299.1 386.4 300.7 386.4 302.2 386.4 303.8 386.3 305.4 386.2 306.9 386.2 308.5 386.2 309.5 385.8 310.0 384.7 310.3 383.8 310.6 382.8 311.1 381.7 311.5 380.5 311.9 379.6 312.6 378.7 313.2 377.9 313.5 376.9 313.4 375.5 313.7 374.1 314.2 373.2 314.8 372.3 315.3 371.8 316.3 371.2 317.5 371.3 319.0 371.7 320.4 371.3 321.5 370.9 322.6 370.5 323.7 370.0 324.2 369.5 325.2 368.6 325.7 367.9 326.5 367.2 327.8 366.7 328.5 366.3 329.1 365.3 329.9 364.7 331.5 364.6 333.1 364.7 334.6 364.4 335.7 364.0 336.7 363.5 337.7 363.0 338.4 362.6 339.3 361.9 340.4 361.3 341.4 360.9 342.5 360.3 343.0 359.8 343.9 358.9 344.6 358.1 345.1 357.5 346.1 356.7 347.1 356.1 347.7 355.6 348.4 354.7 349.2 353.8 349.8 353.2 350.5 352.4 351.1 351.5 351.4 350.6 351.8 349.2 352.1 348.3 352.1 346.9 351.7 346.0 351.3 345.1 350.8 344.1 350.3 343.2 349.6 342.3 348.7 341.5 347.7 341.0 347.2 340.8" stroke-width="0.62"/><path d="M301.7 354.2 300.1 354.3 299.1 354.5 298.0 354.9 297.0 355.3 296.0 355.9 294.9 356.3 293.9 356.6 292.8 356.5 291.3 356.6 290.5 357.0 289.9 358.0 289.6 358.9 289.2 359.8 289.0 361.2 288.9 362.6 288.9 364.0 288.8 365.3 288.8 366.7 288.8 368.1 288.8 369.5 288.8 370.9 288.7 372.2 288.8 373.6 288.7 375.0 288.7 376.4 288.8 377.8 288.8 379.2 288.8 380.5 288.8 381.9 288.8 383.3 288.9 384.7 289.0 386.1 290.2 386.3 291.8 386.4 293.3 386.4 294.9 386.4 296.5 386.3 298.0 386.3 299.6 386.3 301.2 386.3 302.8 386.3 304.3 386.2 305.9 386.1 307.0 386.1 308.1 385.6 308.6 384.7 309.0 383.5 309.5 382.4 310.0 381.5 310.3 380.5 310.6 379.5 311.1 378.4 311.6 377.7 312.0 376.4 312.1 375.0 312.2 374.1 312.7 372.9 313.2 371.9 313.7 371.0 314.0 369.9 313.4 369.0 312.7 368.3 312.1 367.6 311.3 366.7 310.7 365.8 311.0 364.4 311.6 363.6 312.2 363.0 312.6 361.7 312.2 360.3 311.6 359.4 311.1 358.6 310.6 357.9 309.8 357.0 309.0 356.5 308.0 356.0 306.8 355.7 305.6 355.2 304.3 354.7 303.3 354.5 302.1 354.3 301.7 354.2 M344.0 341.8 342.5 341.7 340.9 341.8 339.9 342.0 338.7 342.3 337.5 342.8 336.5 343.2 335.5 343.7 334.5 344.1 333.6 344.7 332.5 345.4 331.9 346.0 331.0 346.8 330.4 347.4 329.4 348.3 328.9 348.8 328.1 349.7 327.5 350.6 327.1 351.5 326.8 352.9 326.7 353.8 326.8 355.2 326.8 356.1 326.9 357.5 327.2 358.9 327.4 359.8 327.8 361.2 328.2 362.1 328.9 362.7 330.5 363.0 332.0 363.0 333.6 362.8 334.6 362.6 336.2 362.2 337.2 361.8 338.3 361.2 339.2 360.7 340.2 360.3 341.3 359.8 342.1 359.4 343.0 358.6 343.5 358.0 344.4 357.0 345.1 356.3 345.8 355.7 346.7 355.0 347.5 354.3 348.2 353.5 348.8 352.9 349.7 352.0 350.2 351.1 350.5 350.1 350.8 349.1 351.0 347.8 350.8 346.9 350.3 345.9 349.8 344.7 349.3 343.9 348.6 343.2 347.7 342.6 346.7 342.2 345.1 341.9 344.0 341.8" stroke-width="0.65"/><path d="M302.2 355.5 300.7 355.4 299.5 355.7 298.3 356.1 297.2 356.6 296.2 357.0 295.2 357.5 293.9 357.9 292.8 358.0 291.6 358.4 290.7 359.4 290.2 360.2 289.7 361.0 289.2 361.7 289.0 363.0 288.9 364.4 288.9 365.8 288.9 367.2 288.9 368.6 288.8 369.9 288.8 371.3 288.8 372.7 288.8 374.1 288.8 375.5 288.8 376.9 288.8 378.2 288.8 379.6 288.8 381.0 288.9 382.4 288.9 383.8 289.1 385.1 289.5 386.1 290.7 386.2 292.3 386.3 293.9 386.3 295.4 386.3 297.0 386.2 298.6 386.1 300.1 386.2 301.7 386.2 303.3 386.1 304.2 385.6 304.8 384.7 305.4 384.2 306.4 383.8 307.5 383.2 308.1 382.4 308.7 381.5 309.1 380.5 309.5 379.2 309.7 378.2 310.1 377.2 310.5 375.9 310.7 375.0 310.9 373.6 311.1 372.6 311.6 371.5 312.0 370.4 311.6 369.4 311.0 368.6 310.1 367.6 309.5 366.8 309.1 365.8 309.0 364.9 309.3 364.0 310.1 363.1 310.6 362.5 311.0 361.2 310.6 359.9 310.1 359.0 309.5 358.3 308.5 357.5 307.5 357.1 306.4 356.9 304.8 356.6 303.8 356.3 302.8 355.7 302.2 355.5 M344.0 342.7 342.5 342.5 340.9 342.6 339.9 342.8 338.7 343.2 337.8 343.7 336.7 344.1 335.6 344.6 334.6 345.1 333.6 345.8 332.7 346.5 332.0 347.0 331.1 347.8 330.5 348.4 329.7 349.2 328.9 350.1 328.4 351.1 328.1 352.0 327.9 353.4 328.1 354.7 328.4 356.1 328.6 357.0 328.8 358.4 328.9 359.4 329.4 360.6 330.2 361.2 331.5 361.4 333.1 361.2 334.1 360.9 335.2 360.7 336.7 360.4 337.8 360.2 338.8 359.8 340.0 359.4 340.9 358.9 342.0 358.2 342.7 357.5 343.5 356.6 344.0 356.0 344.8 355.2 345.6 354.5 346.3 353.8 347.2 353.1 347.9 352.4 348.7 351.5 349.2 350.6 349.5 349.7 349.6 348.3 349.3 346.9 348.9 346.0 348.4 345.1 347.7 344.3 346.8 343.7 345.8 343.2 344.6 342.8 344.0 342.7" stroke-width="0.68"/><path d="M300.7 356.9 299.4 357.0 298.2 357.5 297.1 358.0 296.0 358.3 294.9 358.7 293.9 359.0 292.6 359.4 291.8 359.8 291.0 360.7 290.4 361.7 289.8 362.6 289.2 363.5 289.1 364.4 289.0 365.8 289.0 367.2 289.0 368.6 288.9 369.9 288.9 371.3 288.9 372.7 288.9 374.1 288.9 375.5 288.9 376.9 288.9 378.2 288.9 379.6 288.9 381.0 289.0 382.4 289.1 383.8 289.4 384.7 290.2 385.6 290.7 386.1 292.3 386.2 293.9 386.2 295.4 386.1 296.5 385.7 297.5 385.3 298.6 385.0 299.8 385.1 301.2 385.5 302.5 385.1 303.1 384.2 303.7 383.3 304.3 382.8 305.5 382.4 306.5 381.9 307.5 381.0 307.9 380.1 308.2 379.2 308.5 377.9 308.8 376.9 309.1 375.9 309.4 374.6 309.4 373.2 309.5 372.0 310.0 370.9 309.8 369.5 309.2 368.6 308.7 367.6 308.3 366.7 307.9 365.8 307.5 364.4 308.0 363.2 308.5 362.6 309.2 361.7 309.3 360.3 308.8 359.4 308.0 358.6 306.9 358.3 305.4 358.4 304.3 358.7 302.8 358.6 301.9 358.0 301.2 357.2 300.7 356.9 M343.5 343.6 342.0 343.5 340.4 343.7 339.3 344.0 338.3 344.5 337.2 345.0 336.2 345.5 335.3 346.0 334.6 346.5 333.6 347.2 332.6 347.8 332.0 348.3 331.0 349.2 330.4 349.7 329.7 350.6 329.3 351.5 329.1 352.9 329.2 354.3 329.4 355.2 329.9 356.6 330.2 357.5 330.5 358.7 331.0 359.4 332.5 359.7 334.1 359.5 335.2 359.3 336.7 359.2 338.3 359.0 339.3 358.6 340.4 358.1 341.2 357.5 342.0 356.9 342.8 356.1 343.5 355.3 344.0 354.7 344.9 353.8 345.6 353.2 346.4 352.4 347.2 351.7 347.7 351.1 348.2 350.1 348.4 348.8 348.1 347.8 347.7 346.9 347.2 346.0 346.5 345.1 345.6 344.3 344.6 343.9 343.5 343.6" stroke-width="0.7"/><path d="M299.6 358.0 298.6 358.3 297.5 358.6 296.5 358.9 294.9 359.3 293.9 359.6 292.8 359.9 291.8 360.7 291.3 361.3 290.7 362.1 290.2 363.0 289.7 364.0 289.2 365.1 289.1 366.3 289.1 367.6 289.0 369.0 289.0 370.4 289.0 371.8 289.0 373.2 288.9 374.6 288.9 375.9 288.9 377.3 289.0 378.7 289.0 380.1 289.0 381.5 289.1 382.8 289.2 383.8 289.9 384.7 290.7 385.5 291.3 386.1 292.8 386.2 294.4 386.1 295.4 385.6 296.1 385.1 297.0 384.6 298.0 384.2 299.6 384.1 300.7 384.3 301.7 384.1 302.5 383.3 303.3 382.6 304.3 382.0 305.4 381.6 306.4 381.0 306.9 380.4 307.5 379.3 307.8 378.2 308.0 377.3 308.4 375.9 308.5 375.0 308.6 373.6 308.5 372.2 308.7 370.9 308.6 369.5 308.3 368.6 308.0 367.6 307.5 366.4 306.9 365.3 306.6 364.4 306.7 363.0 307.5 362.2 308.0 361.7 308.3 360.3 307.5 359.4 306.4 359.3 305.4 359.6 304.3 359.8 303.3 359.7 302.2 359.4 301.2 358.6 300.1 358.0 299.6 358.0 M344.6 344.6 343.0 344.2 341.4 344.2 339.9 344.5 338.8 344.9 337.8 345.4 336.7 345.9 335.9 346.5 335.2 347.0 334.1 347.8 333.3 348.3 332.5 348.8 331.5 349.5 330.7 350.1 330.0 351.1 329.7 352.0 329.7 353.4 329.9 354.7 330.2 355.7 330.7 356.6 331.2 357.5 331.9 358.4 333.1 358.7 334.6 358.6 336.2 358.6 337.8 358.5 338.8 358.3 339.9 357.8 340.9 357.1 341.6 356.6 342.5 355.8 343.0 355.2 343.8 354.3 344.6 353.5 345.2 352.9 346.1 352.0 346.7 351.5 347.3 350.6 347.7 349.2 347.2 347.8 346.7 346.9 346.1 346.0 345.6 345.3 344.7 344.6 344.6 344.6" stroke-width="0.72"/><path d="M300.1 359.3 298.7 359.4 297.5 359.7 296.0 359.8 294.9 359.9 293.6 360.3 292.6 360.7 291.8 361.5 291.3 362.2 290.7 363.1 290.2 364.1 289.7 365.3 289.4 366.3 289.3 367.6 289.1 368.6 289.1 369.9 289.0 371.3 289.0 372.7 289.0 374.1 289.0 375.5 289.0 376.9 289.1 378.2 289.1 379.6 289.1 381.0 289.1 382.4 289.4 383.3 290.0 384.2 290.7 385.0 291.5 385.6 292.3 386.1 293.6 386.1 294.4 385.5 295.4 384.8 296.2 384.2 297.0 383.7 298.6 383.3 300.1 383.4 301.2 383.2 302.2 382.6 303.0 381.9 303.8 381.4 304.9 381.0 305.9 380.5 306.6 379.6 307.0 378.7 307.5 377.3 307.7 376.4 307.9 375.0 307.9 373.6 307.7 372.2 307.7 370.9 307.7 369.5 307.5 368.3 307.1 367.2 306.7 366.3 306.2 365.3 305.8 364.4 305.6 363.0 305.4 361.9 304.5 361.2 303.4 360.7 302.2 360.3 301.2 359.8 300.3 359.4 300.1 359.3 M343.5 345.1 342.0 344.8 340.4 344.9 339.3 345.2 338.3 345.7 337.2 346.2 336.3 346.9 335.7 347.5 334.6 348.3 333.9 348.8 333.1 349.3 332.0 349.9 331.0 350.6 330.5 351.4 330.2 352.4 330.2 353.8 330.5 354.7 331.0 355.9 331.5 356.6 332.4 357.5 333.6 357.9 335.2 357.9 336.2 358.0 337.8 358.0 338.8 357.7 339.9 357.2 340.8 356.6 341.4 356.1 342.4 355.2 343.0 354.6 343.7 353.8 344.6 352.9 345.1 352.4 345.9 351.5 346.6 350.6 346.9 349.7 346.7 348.5 346.1 347.7 345.6 346.9 345.1 346.0 344.0 345.2 343.5 345.1" stroke-width="0.75"/><path d="M301.7 361.1 300.1 361.0 298.6 361.0 297.0 360.9 295.4 360.7 293.9 361.0 292.8 361.5 292.1 362.1 291.4 363.0 290.9 364.0 290.5 364.9 290.2 365.8 289.9 367.2 289.7 368.2 289.2 369.5 289.1 370.4 289.1 371.8 289.1 373.2 289.1 374.6 289.1 375.9 289.1 377.3 289.2 378.5 289.3 379.6 289.2 381.0 289.4 382.4 289.8 383.3 290.5 384.2 291.3 384.8 292.3 385.3 293.6 385.1 294.4 384.7 295.4 383.9 296.2 383.3 297.2 382.8 298.6 382.7 300.1 382.7 301.3 382.4 302.2 381.7 303.2 381.0 304.1 380.5 305.2 380.1 305.9 379.5 306.4 378.6 306.9 377.3 307.1 376.4 307.3 375.0 307.2 373.6 307.0 372.2 306.9 371.3 306.8 369.9 306.7 368.6 306.4 367.4 305.9 366.3 305.4 365.3 304.9 364.4 304.7 363.5 304.3 362.6 303.3 361.7 302.2 361.2 301.7 361.1 M341.4 345.5 340.2 345.5 338.8 346.0 338.0 346.5 337.2 347.0 336.2 347.8 335.7 348.3 334.6 349.1 333.8 349.7 333.0 350.1 332.0 350.6 331.1 351.5 330.8 352.4 330.8 353.8 331.0 354.7 331.5 355.7 332.5 356.6 333.6 357.0 334.6 357.2 336.2 357.4 337.8 357.4 338.9 357.0 339.9 356.6 340.9 355.9 341.8 355.2 342.5 354.6 343.1 353.8 344.0 352.9 344.6 352.2 345.2 351.5 345.8 350.6 346.1 349.2 345.5 348.3 344.8 347.4 344.0 346.5 343.3 346.0 342.0 345.6 341.4 345.5" stroke-width="0.78"/><path d="M301.2 362.1 300.1 362.2 298.6 362.3 297.0 362.3 295.4 362.4 293.9 362.3 292.8 362.7 292.0 363.5 291.5 364.4 291.1 365.3 290.7 366.4 290.4 367.6 290.1 368.6 289.7 369.6 289.4 370.9 289.3 372.2 289.3 373.6 289.2 375.0 289.2 376.4 289.4 377.8 289.6 379.2 289.6 380.5 289.7 381.9 290.0 382.8 290.7 383.8 291.3 384.2 292.8 384.6 293.9 384.2 294.9 383.4 295.5 382.8 296.5 382.3 298.0 382.1 299.6 382.0 300.7 381.9 301.7 381.2 302.5 380.5 303.3 380.1 304.3 379.6 305.4 378.9 305.9 378.1 306.4 376.9 306.6 375.9 306.6 374.6 306.4 373.2 306.2 372.2 306.0 370.9 305.9 369.5 305.9 368.6 305.5 367.2 305.0 366.3 304.3 365.3 303.9 364.4 303.6 363.5 302.8 362.6 301.7 362.1 301.2 362.1 M342.0 346.3 340.4 346.1 339.2 346.5 338.3 346.9 337.2 347.7 336.6 348.3 335.7 349.1 334.9 349.7 334.1 350.2 333.1 350.8 332.0 351.5 331.5 352.3 331.3 353.4 331.5 354.3 332.0 355.3 333.1 356.0 334.1 356.4 335.2 356.6 336.7 356.9 338.3 356.7 339.3 356.3 340.4 355.7 341.1 355.2 342.0 354.5 342.6 353.8 343.4 352.9 344.0 352.1 344.6 351.4 345.1 350.4 345.1 349.3 344.6 348.4 344.0 347.8 343.1 346.9 342.3 346.5 342.0 346.3" stroke-width="0.8"/><path d="M301.7 363.5 300.1 363.2 298.6 363.2 297.2 363.5 296.0 363.8 294.9 364.0 293.3 364.1 292.6 364.9 292.2 365.8 291.6 366.7 291.1 367.6 290.6 368.6 290.2 369.5 289.8 370.9 289.7 372.2 289.7 373.6 289.6 374.6 289.5 375.9 289.7 377.3 289.8 378.2 290.0 379.6 289.9 381.0 290.2 382.3 290.7 383.2 291.5 383.8 292.8 383.9 293.9 383.4 294.6 382.8 295.4 382.0 296.5 381.6 298.0 381.5 299.1 381.4 300.6 381.0 301.2 380.5 302.0 379.6 302.8 379.2 303.8 378.7 304.8 378.0 305.4 377.3 305.9 376.0 306.0 375.0 305.9 374.1 305.6 372.7 305.4 371.3 305.3 370.4 305.1 369.0 304.8 367.7 304.3 366.7 303.8 366.2 302.9 365.3 302.5 364.4 301.8 363.5 301.7 363.5 M340.9 346.8 339.9 346.9 338.8 347.4 337.8 348.1 336.9 348.8 336.2 349.3 335.3 350.1 334.6 350.7 333.6 351.3 332.6 352.0 332.1 352.9 332.3 354.3 333.1 355.2 334.1 355.7 335.2 356.0 336.2 356.3 337.8 356.3 338.8 355.9 339.9 355.4 340.9 354.7 341.5 354.3 342.4 353.4 343.0 352.7 343.5 352.0 344.0 351.1 344.3 349.7 343.8 348.8 343.0 347.8 342.4 347.4 341.4 346.9 340.9 346.8" stroke-width="0.82"/><path d="M300.1 364.4 298.6 364.2 297.3 364.4 296.3 364.9 295.4 365.6 294.9 366.3 293.9 367.0 292.8 367.3 291.8 368.0 291.3 368.6 290.7 369.5 290.3 370.9 290.2 371.8 290.1 373.2 290.0 374.6 289.9 375.9 290.0 377.3 290.2 378.2 290.3 379.6 290.3 381.0 290.7 382.4 291.3 383.0 292.3 383.3 293.3 383.0 294.2 382.4 294.9 381.6 296.0 381.1 297.0 381.0 298.6 380.7 299.6 380.3 300.3 379.6 301.0 378.7 301.7 378.2 303.0 377.8 303.9 377.3 304.8 376.4 305.2 375.5 305.2 374.1 304.9 372.7 304.8 371.8 304.6 370.4 304.3 369.0 304.1 368.1 303.6 367.2 302.8 366.5 301.7 365.9 301.2 365.3 300.2 364.4 300.1 364.4 M341.4 347.8 339.9 347.8 338.8 348.2 337.9 348.8 337.2 349.2 336.2 350.1 335.7 350.6 334.6 351.5 333.8 352.0 333.1 352.9 333.1 353.6 333.6 354.4 334.6 355.1 335.7 355.6 336.7 355.8 338.0 355.7 339.1 355.2 339.9 354.7 340.9 354.1 341.8 353.4 342.5 352.6 343.0 351.8 343.4 350.6 343.2 349.2 342.5 348.4 341.6 347.8 341.4 347.8" stroke-width="0.85"/><path d="M298.6 365.3 297.5 365.5 296.5 366.3 296.0 367.0 295.4 367.6 294.4 368.2 292.8 368.4 291.8 369.0 291.3 369.7 290.8 370.9 290.6 371.8 290.5 373.2 290.4 374.6 290.3 375.9 290.5 377.3 290.6 378.7 290.6 380.1 290.7 381.2 291.3 382.3 292.3 382.7 293.3 382.3 294.2 381.5 294.9 380.7 296.0 380.2 297.3 380.1 298.5 379.6 299.1 379.0 299.6 378.2 300.7 377.5 301.7 377.2 302.8 376.9 303.8 376.2 304.3 375.3 304.4 374.1 304.2 373.2 304.1 371.8 304.0 370.4 303.7 369.5 303.3 368.2 302.8 367.6 301.7 367.0 300.7 366.5 299.6 365.8 298.6 365.3 298.6 365.3 M341.4 348.7 339.9 348.7 338.8 349.1 337.8 349.6 337.1 350.1 336.3 351.1 335.7 351.7 334.8 352.4 334.4 353.4 334.9 354.3 335.7 354.8 337.2 355.2 338.6 354.7 339.5 354.3 340.4 353.7 341.4 353.0 342.0 352.4 342.5 351.4 342.6 350.1 342.1 349.2 341.4 348.7" stroke-width="0.88"/><path d="M299.1 367.2 298.0 367.2 297.4 368.1 297.5 369.5 296.9 370.4 295.4 370.8 294.4 370.1 293.3 369.6 292.0 369.9 291.4 370.9 291.2 371.8 291.0 373.2 290.8 374.6 290.8 375.9 290.9 377.3 291.1 378.7 291.1 380.1 291.3 381.3 291.8 381.9 292.8 381.9 293.8 381.0 294.3 380.1 294.2 378.7 294.2 377.3 294.5 376.4 294.9 375.2 296.0 375.5 296.8 376.4 297.5 377.2 298.3 377.3 299.3 376.9 300.7 376.4 301.7 376.2 302.8 375.8 303.3 375.0 303.4 373.6 303.4 372.2 303.4 370.9 303.2 369.9 302.8 368.9 302.0 368.1 300.8 367.6 299.6 367.3 299.1 367.2 M340.9 349.8 339.3 349.9 338.3 350.3 337.5 351.1 336.9 352.0 336.4 352.9 336.7 354.1 338.3 353.9 339.3 353.4 340.4 352.9 341.0 352.4 341.6 351.5 341.4 350.2 340.9 349.8" stroke-width="0.9"/><path d="M292.8 371.9 291.8 372.7 291.5 373.6 291.3 375.0 291.4 376.4 291.7 377.8 291.7 379.2 291.7 380.5 292.3 381.1 293.1 380.5 293.4 379.6 293.2 378.7 293.2 377.3 293.4 376.4 293.5 375.0 293.5 373.6 293.3 372.7 292.8 371.9 M301.2 368.9 299.9 369.0 299.3 369.9 298.7 370.9 298.0 371.4 297.2 372.2 296.7 373.2 297.0 374.3 297.6 375.0 299.1 375.5 300.7 375.2 301.7 374.7 302.2 373.6 302.4 372.7 302.7 371.3 302.3 369.9 301.7 369.2 301.2 368.9" stroke-width="0.93"/><path d="M300.7 371.2 299.6 371.8 298.9 372.2 298.3 373.2 299.1 373.9 300.1 373.6 300.8 372.7 300.9 371.3 300.7 371.2" stroke-width="0.95"/></g>
<path d="M319.5 341.4 L327.3 328.9 L337.5 326.2 L354.0 326.2 L364.9 333.8 L364.9 348.3 L356.3 366.3 L335.9 361.4 Z" fill="none" stroke="#808080" stroke-width="0.7"/>
<clipPath id="c3"><rect x="385.60" y="317.20" width="78.00" height="69.10"/></clipPath>
<g clip-path="url(#c3)" fill="none" stroke="#222" stroke-linejoin="round"><path d="M444.6 339.4 443.1 339.3 441.5 339.4 439.9 339.4 438.4 339.5 437.3 339.7 436.3 340.2 435.3 340.7 434.2 341.3 433.2 341.7 432.1 342.1 431.1 342.7 430.5 343.2 429.5 343.9 428.5 344.3 427.5 344.9 426.6 345.5 425.9 346.1 424.9 346.7 423.8 347.2 422.8 347.7 422.1 348.3 421.6 349.2 421.0 350.1 420.3 351.1 419.7 351.7 418.8 352.4 418.1 353.1 417.4 353.8 416.5 354.5 415.5 355.1 414.5 355.7 413.8 356.1 412.9 356.7 411.9 357.3 410.3 357.4 409.3 356.9 408.2 356.6 406.7 356.2 405.6 356.0 404.1 355.7 403.0 355.5 401.5 355.6 400.4 355.8 398.9 356.0 397.8 356.2 396.3 356.6 395.2 356.9 394.2 357.5 393.7 358.1 393.1 358.9 392.4 359.8 391.6 360.3 390.0 360.6 389.0 361.0 388.2 361.7 387.4 362.4 386.4 363.0 385.8 363.5 385.6 364.9 385.6 366.3 385.5 367.6 385.4 369.0 385.4 370.4 385.4 371.8 385.4 373.2 385.4 374.6 385.4 375.9 385.4 377.3 385.4 378.7 385.4 380.1 385.4 381.5 385.4 382.8 385.4 384.2 385.4 385.6 386.4 386.5 387.9 386.5 389.5 386.5 391.1 386.5 392.6 386.4 394.2 386.5 395.7 386.5 397.3 386.5 398.9 386.4 400.4 386.4 402.0 386.5 403.5 386.4 405.1 386.4 406.7 386.4 408.2 386.4 409.8 386.4 411.3 386.4 412.9 386.4 414.5 386.4 416.0 386.4 417.6 386.4 419.1 386.4 420.7 386.3 422.3 386.2 423.8 386.1 425.4 386.1 426.9 386.1 427.9 385.6 428.5 385.1 429.5 384.2 430.2 383.8 431.4 383.3 432.6 382.8 433.7 382.4 434.6 381.9 435.3 381.4 436.3 380.5 436.9 380.1 437.8 379.2 438.2 378.2 438.4 377.3 438.9 376.0 439.4 375.0 439.9 374.1 440.5 373.3 440.8 372.2 440.7 370.9 440.5 369.9 440.5 369.0 441.3 368.1 442.0 367.6 443.1 366.9 443.9 366.3 444.6 365.8 445.7 365.2 446.7 364.4 447.3 364.0 448.3 363.2 449.1 362.6 449.9 362.1 450.9 361.5 451.8 360.7 452.4 360.1 453.1 359.4 453.9 358.4 454.5 357.8 455.2 357.0 456.1 356.3 456.7 355.7 457.2 354.7 457.4 353.4 457.5 352.0 457.5 350.6 457.1 349.2 457.0 348.3 456.9 346.9 456.6 345.9 456.1 345.1 455.2 344.1 454.5 343.3 454.0 342.7 452.9 341.9 452.1 341.4 451.0 340.9 449.8 340.6 448.4 340.5 447.2 340.2 446.2 339.9 445.1 339.5 444.6 339.4" stroke-width="0.55"/><path d="M444.6 340.4 443.1 340.3 441.5 340.3 439.9 340.2 438.4 340.3 437.3 340.5 436.3 341.0 435.3 341.6 434.2 342.2 433.2 342.6 432.2 343.2 431.6 343.7 430.6 344.5 429.5 345.0 428.5 345.4 427.5 346.0 426.8 346.5 425.9 347.1 424.9 347.8 424.2 348.3 423.3 349.0 422.6 349.7 421.8 350.6 421.2 351.2 420.5 352.0 419.7 352.9 419.1 353.5 418.5 354.3 417.6 355.2 417.1 355.7 416.0 356.6 415.5 357.0 414.5 357.7 413.4 358.3 412.4 358.8 411.3 359.1 410.2 358.9 409.3 358.4 408.2 357.8 407.2 357.4 405.9 357.0 404.6 356.8 403.0 356.7 401.5 356.7 399.9 356.8 398.3 357.0 397.3 357.2 395.9 357.5 395.0 358.0 394.2 358.9 393.7 359.8 393.1 360.7 392.5 361.2 391.1 361.6 390.0 362.0 389.1 362.6 388.5 363.1 387.4 363.7 386.4 364.2 385.8 364.9 385.7 366.3 385.6 367.6 385.5 369.0 385.4 370.4 385.4 371.8 385.4 373.2 385.4 374.6 385.4 375.9 385.4 377.3 385.4 378.7 385.4 380.1 385.4 381.5 385.4 382.8 385.4 384.2 385.4 385.6 386.4 386.5 387.9 386.5 389.5 386.5 391.1 386.4 392.6 386.4 394.2 386.4 395.7 386.4 397.3 386.4 398.9 386.4 400.4 386.4 402.0 386.4 403.5 386.4 405.1 386.4 406.7 386.4 408.2 386.4 409.8 386.4 411.3 386.4 412.9 386.3 414.5 386.3 416.0 386.3 417.6 386.3 419.1 386.3 420.7 386.2 422.2 386.1 422.9 385.6 424.3 385.2 425.4 385.1 426.9 384.7 427.7 384.2 428.5 383.5 429.3 382.8 430.1 382.4 431.1 381.9 432.1 381.5 433.2 381.0 434.2 380.4 435.1 379.6 435.8 378.9 436.3 378.2 436.6 376.9 436.8 375.9 437.4 375.0 438.1 374.1 438.5 373.2 438.7 371.8 438.4 370.9 438.2 369.5 438.6 368.6 439.4 367.7 440.5 367.2 441.3 366.7 442.0 366.3 443.1 365.5 443.9 364.9 444.6 364.4 445.7 363.8 446.7 363.0 447.2 362.6 448.3 361.9 449.3 361.3 450.2 360.7 450.9 360.2 451.8 359.4 452.4 358.7 453.1 358.0 453.9 357.0 454.5 356.4 455.3 355.7 456.1 354.8 456.4 353.8 456.4 352.4 456.2 351.1 455.9 350.1 455.6 348.8 455.7 347.4 455.5 346.5 455.0 345.5 454.2 344.6 453.5 343.9 452.7 343.2 451.9 342.7 450.9 342.2 449.8 341.8 448.3 341.5 447.2 341.2 446.2 340.9 444.7 340.5 444.6 340.4" stroke-width="0.58"/><path d="M443.6 341.4 442.0 341.3 440.5 341.2 438.9 341.0 437.3 341.4 436.5 341.8 435.7 342.3 434.7 342.8 433.7 343.4 432.7 344.1 432.0 344.6 431.1 345.2 430.1 345.7 429.0 346.1 428.0 346.6 427.0 347.4 426.4 347.9 425.5 348.8 424.9 349.4 423.8 350.1 423.2 350.6 422.3 351.4 421.7 352.0 421.1 352.9 420.5 353.8 420.0 354.7 419.4 355.7 418.7 356.6 418.1 357.2 417.3 358.0 416.5 358.8 415.8 359.4 415.0 359.8 413.6 360.3 412.4 360.6 411.3 360.8 410.3 360.6 409.3 360.0 408.4 359.4 407.7 358.9 406.7 358.3 405.1 358.0 403.5 358.0 402.5 357.9 400.9 357.8 399.4 357.9 398.3 358.0 396.8 358.2 395.7 358.7 395.1 359.4 394.7 360.3 394.2 361.4 393.3 362.1 392.1 362.5 391.1 362.9 390.2 363.5 389.5 364.1 388.5 364.5 387.4 365.0 386.4 365.6 385.8 366.3 385.7 367.6 385.5 369.0 385.5 370.4 385.4 371.8 385.4 373.2 385.4 374.6 385.4 375.9 385.4 377.3 385.4 378.7 385.4 380.1 385.4 381.5 385.4 382.8 385.4 384.2 385.5 385.6 386.4 386.4 387.9 386.4 389.5 386.4 391.1 386.4 392.6 386.3 394.2 386.4 395.7 386.4 397.3 386.4 398.9 386.3 400.4 386.3 402.0 386.4 403.5 386.3 405.1 386.3 406.7 386.3 408.2 386.3 409.8 386.3 411.3 386.3 412.9 386.2 414.5 386.2 416.0 386.2 417.6 386.2 419.1 386.2 420.5 386.1 421.2 385.6 422.3 384.7 423.2 384.2 424.3 384.0 425.9 383.8 426.7 383.3 427.5 382.6 428.1 381.9 429.0 381.1 429.9 380.5 430.7 380.1 431.6 379.6 432.7 379.0 433.7 378.3 434.0 377.3 433.2 376.4 432.7 375.8 433.1 375.0 434.2 374.8 435.3 374.3 436.1 373.6 436.5 372.7 436.3 371.5 435.9 370.4 435.8 369.9 436.3 368.7 436.8 368.0 437.5 367.2 438.4 366.7 439.9 366.3 440.9 365.8 441.6 365.3 442.5 364.5 443.2 364.0 444.1 363.3 445.1 362.7 446.0 362.1 446.7 361.7 447.7 361.0 448.8 360.5 449.8 359.8 450.4 359.4 451.3 358.4 451.9 357.8 452.6 357.0 453.3 356.1 454.0 355.4 454.6 354.7 455.2 353.8 455.4 352.4 455.0 351.2 454.6 350.1 454.4 349.2 454.5 347.8 454.2 346.5 453.5 345.5 452.8 345.1 451.9 344.5 450.9 343.8 449.8 343.3 448.8 343.0 447.7 342.7 446.7 342.3 445.6 341.8 444.1 341.4 443.6 341.4" stroke-width="0.6"/><path d="M440.5 342.2 438.9 342.1 437.7 342.3 436.7 342.8 435.8 343.3 434.7 343.8 433.7 344.5 432.8 345.1 432.1 345.5 431.1 346.0 430.0 346.5 429.0 346.9 428.0 347.7 427.3 348.3 426.4 349.2 425.9 349.8 425.1 350.6 424.3 351.2 423.5 352.0 422.8 352.9 422.3 353.8 421.7 354.7 421.2 355.6 420.7 356.5 420.2 357.3 419.6 358.0 418.7 358.9 418.1 359.4 417.1 360.3 416.3 360.7 415.2 361.2 413.9 361.6 412.9 361.9 411.9 362.2 410.3 362.3 409.3 362.0 408.2 361.4 407.5 360.7 406.7 359.9 405.6 359.4 404.6 359.2 403.0 359.1 401.5 358.9 400.4 358.9 399.4 358.9 397.8 359.2 396.8 359.7 396.3 360.3 395.7 361.2 395.1 362.1 394.2 362.9 393.1 363.4 392.1 363.8 391.3 364.4 390.5 364.9 389.5 365.4 388.5 365.9 387.4 366.4 386.4 367.1 385.8 367.6 385.6 369.0 385.5 370.4 385.5 371.8 385.4 373.2 385.4 374.6 385.4 375.9 385.4 377.3 385.4 378.7 385.4 380.1 385.4 381.5 385.4 382.8 385.5 384.2 385.5 385.6 386.4 386.4 387.9 386.4 389.5 386.4 391.1 386.3 392.6 386.2 394.2 386.3 395.7 386.3 397.3 386.3 398.9 386.2 400.4 386.2 402.0 386.3 403.5 386.2 405.1 386.2 406.7 386.1 408.2 386.2 409.8 386.2 411.3 386.1 412.9 386.1 413.9 385.7 415.0 385.4 416.5 385.6 417.6 385.9 419.0 385.6 419.9 385.1 420.7 384.6 421.7 383.8 422.6 383.3 423.8 383.0 424.9 382.7 425.9 382.2 426.6 381.5 427.4 380.5 428.0 380.0 428.8 379.2 429.5 378.2 429.9 377.3 430.1 376.4 430.4 375.0 430.9 374.1 431.6 373.5 432.7 373.2 433.7 372.7 434.1 371.3 433.7 370.1 433.5 369.0 433.8 368.1 434.7 367.2 435.3 366.7 436.3 366.0 437.3 365.6 438.9 365.4 439.9 365.1 441.0 364.5 441.6 364.0 442.5 363.0 443.2 362.6 444.1 362.0 445.1 361.5 446.2 360.8 447.1 360.3 447.9 359.8 448.8 359.4 449.8 358.5 450.3 358.0 451.1 357.0 451.7 356.1 452.1 355.2 452.5 354.3 453.5 353.6 454.0 352.8 454.0 351.9 453.7 350.6 453.5 349.5 453.3 348.3 452.9 347.0 452.4 346.5 451.2 346.0 450.1 345.5 449.3 345.0 448.3 344.4 447.2 343.9 446.2 343.4 445.1 342.9 444.1 342.6 442.5 342.4 441.0 342.3 440.5 342.2" stroke-width="0.62"/><path d="M443.6 343.6 442.0 343.5 440.5 343.4 438.9 343.4 437.7 343.7 436.7 344.1 435.7 344.6 434.6 345.1 433.7 345.5 432.7 346.1 431.6 346.6 430.6 347.0 429.5 347.5 428.5 348.3 428.0 348.8 427.2 349.7 426.4 350.6 425.9 351.4 425.4 352.1 424.7 352.9 423.9 353.8 423.3 354.6 422.8 355.3 422.3 356.2 421.7 357.2 421.2 358.3 420.7 359.2 420.1 359.8 419.2 360.7 418.5 361.2 417.6 361.7 416.3 362.1 415.0 362.6 413.9 362.8 412.9 363.1 411.3 363.4 409.8 363.3 408.5 363.0 407.2 362.6 406.3 362.1 405.6 361.6 404.6 360.9 403.5 360.4 402.5 360.1 400.9 360.0 399.4 360.2 398.3 360.6 397.6 361.2 396.8 362.1 396.3 362.6 395.2 363.5 394.6 364.0 393.7 364.9 393.2 365.8 392.3 366.3 391.1 366.4 389.8 366.7 388.6 367.2 387.6 367.6 386.7 368.1 385.9 368.6 385.7 369.9 385.6 371.3 385.5 372.7 385.5 374.1 385.5 375.5 385.5 376.9 385.5 378.2 385.4 379.6 385.4 381.0 385.5 382.4 385.5 383.8 385.6 385.1 385.9 386.2 387.4 386.3 389.0 386.3 390.5 386.2 392.1 386.1 393.7 386.1 395.2 386.2 396.8 386.2 398.3 386.1 399.4 386.0 400.4 386.1 402.0 386.2 403.5 386.1 404.6 385.7 405.6 385.3 407.2 385.5 408.2 385.9 409.8 385.9 410.9 385.6 412.4 385.2 413.4 384.8 414.5 384.5 416.0 384.3 417.6 384.6 419.1 384.3 420.0 383.8 420.7 383.2 421.7 382.6 422.8 382.1 423.8 381.8 424.9 381.1 425.4 380.5 426.2 379.6 426.8 378.7 427.3 377.8 427.8 376.9 428.4 375.9 428.8 375.0 429.0 373.6 428.4 372.7 427.6 371.8 427.4 370.9 428.0 370.0 429.0 369.7 430.6 369.6 430.8 368.6 431.3 367.6 432.1 366.7 432.7 366.2 433.7 365.4 434.6 364.9 435.8 364.5 436.8 364.3 438.4 364.1 439.4 364.0 440.5 363.4 441.4 362.6 442.0 362.1 443.1 361.5 444.1 360.9 445.1 360.3 445.9 359.8 446.7 359.3 447.7 358.8 448.8 358.1 449.4 357.5 450.0 356.6 450.3 355.6 450.4 354.3 450.9 353.0 451.5 352.4 452.4 351.5 452.6 350.6 452.4 349.5 451.9 348.3 451.4 347.8 450.3 347.3 449.3 346.7 448.4 346.0 447.7 345.5 446.7 344.9 445.7 344.4 444.6 343.9 443.6 343.6" stroke-width="0.65"/><path d="M443.1 344.6 441.5 344.5 440.0 344.6 438.9 344.8 437.9 345.2 436.7 345.5 435.3 345.8 434.2 346.2 433.2 346.7 432.1 347.2 431.1 347.6 430.1 348.0 429.2 348.8 428.5 349.4 427.9 350.1 427.2 351.1 426.7 352.0 426.2 352.9 425.5 353.8 424.9 354.5 424.2 355.2 423.6 356.1 423.2 357.0 423.0 358.4 423.1 359.8 422.8 361.0 421.7 361.4 420.7 361.7 419.7 362.2 418.6 362.7 417.6 363.1 416.5 363.5 415.0 363.9 413.9 364.0 412.4 364.3 411.3 364.4 409.8 364.4 408.7 364.4 407.2 364.4 406.7 364.4 405.5 364.0 404.6 363.1 404.0 362.6 403.0 361.8 402.0 361.3 400.4 361.5 399.4 362.1 398.9 362.7 398.3 363.5 397.3 364.2 396.3 364.8 395.7 365.5 395.2 366.6 394.7 367.2 393.7 367.8 392.1 368.0 390.5 368.1 389.5 368.2 388.3 368.6 387.2 369.0 386.4 369.5 385.8 370.4 385.7 371.8 385.6 373.2 385.6 374.6 385.6 375.9 385.5 377.3 385.5 378.7 385.5 380.1 385.5 381.5 385.6 382.8 385.7 384.2 385.8 385.6 386.4 386.2 387.9 386.2 389.5 386.2 390.9 386.1 391.6 385.2 392.6 384.8 393.9 385.1 395.2 385.6 396.3 385.7 397.3 385.4 398.3 385.1 399.9 384.9 400.9 385.2 402.5 385.5 403.5 385.1 404.6 384.6 406.1 384.3 407.7 384.5 408.7 384.7 409.9 384.7 411.3 384.4 412.4 384.1 413.4 383.7 415.0 383.3 416.0 383.3 417.1 383.4 418.2 383.3 419.1 382.8 420.2 382.0 421.1 381.5 422.1 381.0 422.8 380.5 423.7 379.6 424.1 378.7 424.3 377.6 424.9 376.9 425.9 376.2 426.6 375.5 426.4 374.1 425.9 373.6 425.3 372.7 425.4 371.3 425.6 370.4 425.9 369.4 426.4 368.5 427.3 367.6 428.0 367.1 428.6 366.3 429.5 365.4 430.6 365.1 431.6 364.6 432.7 364.0 433.7 363.5 434.7 363.3 436.3 363.1 437.3 363.0 438.9 362.7 439.9 362.3 440.8 361.7 441.6 361.2 442.5 360.7 443.6 360.1 444.6 359.5 445.4 358.9 446.2 358.4 447.2 357.8 448.3 357.1 448.8 356.4 449.2 355.2 449.3 353.8 449.6 352.9 450.2 352.0 450.9 351.2 451.2 350.1 450.7 349.2 449.8 348.6 448.8 347.9 448.1 347.4 447.2 346.6 446.4 346.0 445.7 345.5 444.6 345.0 443.2 344.6 443.1 344.6" stroke-width="0.68"/><path d="M443.6 345.9 442.0 345.6 440.5 345.8 439.4 346.1 437.9 346.5 436.8 346.5 435.3 346.7 434.2 347.1 433.2 347.6 432.1 348.1 431.1 348.5 430.1 349.1 429.5 349.7 428.6 350.6 428.0 351.5 427.6 352.4 427.2 353.4 426.6 354.3 425.9 355.1 425.4 356.0 425.1 357.0 425.3 358.4 425.8 359.4 426.3 360.3 426.5 361.2 426.3 362.1 425.3 362.6 424.2 363.0 422.8 363.5 421.2 363.3 420.2 363.5 419.1 364.0 418.1 364.7 417.1 365.2 416.0 365.5 415.0 365.8 413.4 366.0 411.9 365.9 410.3 366.0 408.7 366.2 407.7 366.4 406.1 366.7 405.1 366.9 403.7 366.7 403.0 366.0 402.5 365.1 401.8 364.9 400.9 365.4 399.9 366.0 398.9 366.6 397.8 367.2 397.3 367.6 396.3 368.5 395.4 369.0 394.4 369.5 393.4 369.9 392.1 370.1 390.8 369.9 389.5 369.8 388.2 369.9 387.2 370.4 386.4 371.0 385.8 371.8 385.7 373.2 385.7 374.6 385.7 375.9 385.7 377.3 385.6 378.7 385.6 380.1 385.6 381.5 385.7 382.8 385.8 384.2 386.2 385.1 386.9 385.9 387.9 386.1 389.0 386.1 390.0 385.1 390.5 384.2 391.1 383.6 392.1 383.1 393.5 383.3 394.6 383.8 395.7 384.1 397.3 384.0 398.6 383.8 399.4 383.8 400.9 384.1 402.0 384.3 403.0 384.1 404.1 383.8 405.6 383.5 407.2 383.4 408.2 383.3 409.8 383.2 411.3 383.1 412.5 382.8 413.9 382.4 415.0 382.1 416.0 381.9 417.3 381.5 418.1 380.8 419.1 380.2 420.1 379.6 420.6 378.7 420.8 377.8 421.2 376.5 421.7 375.5 422.3 374.6 422.6 373.6 422.9 372.7 423.3 371.7 423.8 370.8 424.3 369.5 424.6 368.6 425.0 367.6 425.5 366.7 425.9 365.8 426.1 364.4 426.2 363.0 426.9 362.5 428.0 362.7 429.5 362.6 430.6 362.2 432.1 362.2 433.5 362.1 434.7 362.0 436.3 362.1 437.9 362.0 439.0 361.7 439.9 361.1 441.0 360.4 442.0 359.9 443.0 359.4 443.8 358.9 444.6 358.3 445.6 357.5 446.2 357.0 447.2 356.2 447.7 355.4 448.0 354.3 448.3 353.2 448.8 352.1 449.2 351.1 448.8 349.7 448.3 349.1 447.3 348.3 446.7 347.8 445.7 347.0 444.7 346.5 443.8 346.0 443.6 345.9" stroke-width="0.7"/><path d="M423.3 365.3 421.7 365.0 420.2 365.0 419.1 365.7 418.1 366.2 417.1 366.5 416.0 366.8 415.0 367.2 413.4 367.3 412.4 367.1 410.8 366.9 409.5 367.2 408.2 367.5 407.2 367.7 405.6 367.8 404.1 368.0 402.7 367.6 401.7 367.2 400.4 367.0 399.4 367.3 398.3 367.9 397.6 368.6 396.8 369.3 395.7 369.8 394.7 370.3 393.8 370.9 393.1 371.3 391.6 371.5 390.5 371.3 389.2 370.9 388.2 370.9 387.1 371.3 386.4 371.8 385.8 372.7 385.7 374.1 385.8 375.5 385.8 376.9 385.7 378.2 385.6 379.6 385.6 381.0 385.7 382.4 385.9 383.7 386.4 384.5 387.2 385.1 388.5 385.3 389.3 384.7 390.0 383.8 390.5 383.1 391.5 382.4 392.6 382.2 393.8 382.4 395.2 382.8 396.3 383.1 397.8 383.1 399.4 383.1 400.4 383.3 402.0 383.6 403.5 383.4 404.6 383.2 406.1 383.0 407.2 382.8 408.7 382.5 409.8 382.3 411.3 382.3 412.9 382.0 413.9 381.6 415.0 381.0 415.8 380.5 416.5 380.1 417.6 379.5 418.6 378.9 419.2 378.2 419.7 377.3 420.2 376.2 420.7 375.1 421.1 374.1 421.3 373.2 421.4 371.8 421.8 370.9 422.6 369.9 423.0 369.0 423.4 368.1 423.8 366.9 423.9 365.8 423.3 365.3 M442.0 346.4 440.6 346.5 439.4 346.8 438.4 347.0 436.8 347.0 435.3 347.2 434.2 347.6 433.2 348.2 432.1 348.6 431.1 349.1 430.3 349.7 429.5 350.4 429.0 351.1 428.4 352.0 428.0 353.4 427.5 354.3 426.9 355.0 426.4 356.1 426.4 356.6 426.9 357.7 427.5 358.4 428.4 359.4 429.0 359.8 430.1 360.4 431.1 360.9 432.1 361.3 433.7 361.4 435.3 361.4 436.8 361.6 438.4 361.4 439.4 360.9 440.3 360.3 441.0 359.8 442.0 359.3 443.1 358.7 444.1 358.1 444.7 357.5 445.7 356.6 446.2 356.1 446.9 355.2 447.3 354.3 447.7 352.9 448.1 352.0 448.3 351.1 448.1 350.1 447.3 349.2 446.7 348.7 445.7 348.0 444.6 347.4 443.7 346.9 442.5 346.5 442.0 346.4" stroke-width="0.72"/><path d="M418.6 367.8 417.1 367.7 415.5 368.0 414.5 368.2 413.0 368.1 411.9 367.8 410.3 367.8 409.3 368.2 407.7 368.6 406.1 368.5 405.1 368.6 403.5 368.6 402.5 368.4 401.5 368.0 399.9 367.9 398.9 368.4 398.2 369.0 397.3 369.8 396.3 370.2 395.2 370.7 394.3 371.3 393.7 371.9 392.6 372.6 391.1 372.6 390.0 372.2 388.8 371.8 387.8 371.8 386.8 372.2 386.0 373.2 385.8 374.1 385.8 375.5 385.8 376.9 385.8 378.2 385.7 379.6 385.7 381.0 385.8 382.4 386.1 383.3 386.9 384.2 387.9 384.5 389.0 384.1 389.7 383.3 390.4 382.4 391.1 381.8 392.1 381.4 393.4 381.5 394.7 381.6 396.0 381.9 397.3 382.2 398.6 382.4 399.9 382.6 401.2 382.8 402.5 383.0 403.7 382.8 405.1 382.7 406.7 382.5 407.7 382.2 408.7 381.9 410.3 381.6 411.9 381.6 412.9 381.3 413.9 380.7 414.9 380.1 415.6 379.6 416.5 378.9 417.6 378.2 418.1 377.8 418.8 376.9 419.2 375.9 419.7 374.6 419.7 373.6 419.4 372.7 419.3 371.3 419.2 369.9 419.1 369.0 418.6 367.8 M442.5 347.2 441.0 347.0 439.4 347.4 438.4 347.5 436.8 347.5 435.3 347.7 434.2 348.2 433.2 348.7 432.1 349.1 431.2 349.7 430.6 350.2 429.7 351.1 429.1 352.0 428.9 352.9 428.5 354.1 428.0 354.9 427.5 356.1 427.5 356.6 428.0 357.5 428.7 358.4 429.5 359.2 430.5 359.8 431.5 360.3 432.7 360.6 434.2 360.6 435.3 360.8 436.8 361.1 438.4 361.0 439.4 360.4 440.2 359.8 441.0 359.2 442.0 358.7 443.1 358.2 444.0 357.5 444.6 356.9 445.3 356.1 446.1 355.2 446.6 354.3 446.8 353.4 447.2 352.1 447.5 351.1 447.1 350.1 446.2 349.2 445.5 348.8 444.6 348.2 443.6 347.7 442.5 347.2" stroke-width="0.75"/><path d="M411.3 368.5 410.3 368.7 409.3 369.1 407.7 369.3 406.1 369.2 404.6 369.2 403.0 369.2 401.8 369.0 400.4 368.7 399.4 369.0 398.3 369.8 397.4 370.4 396.3 370.8 395.3 371.3 394.7 371.8 393.8 372.7 393.1 373.3 392.1 373.7 391.0 373.6 390.0 373.2 389.0 372.7 387.4 372.7 386.8 373.2 386.3 374.1 386.3 375.5 386.2 376.9 385.9 378.1 385.8 379.2 385.8 380.5 385.8 381.9 386.3 382.8 386.9 383.5 387.9 383.8 388.9 383.3 389.5 382.7 390.1 381.9 390.9 381.0 391.7 380.5 392.8 380.5 394.2 380.7 395.7 380.8 396.9 381.0 398.2 381.5 399.4 381.8 400.4 382.0 402.0 382.3 403.0 382.4 404.1 382.3 405.6 382.2 407.1 381.9 408.2 381.5 409.3 381.1 410.3 380.9 411.9 380.8 412.9 380.4 413.9 379.8 414.9 379.2 415.5 378.7 416.5 377.8 417.1 377.0 417.2 375.9 416.5 375.2 416.0 374.5 416.0 373.2 416.4 372.2 417.1 371.4 417.5 370.4 417.0 369.5 415.5 369.1 414.5 369.0 412.9 368.8 411.7 368.6 411.3 368.5 M442.0 347.8 440.5 347.7 439.4 347.9 437.9 348.1 436.3 348.0 435.1 348.3 434.2 348.8 433.2 349.3 432.1 349.8 431.1 350.6 430.6 351.2 430.1 352.0 429.7 353.4 429.5 354.4 429.0 355.4 428.7 356.6 429.0 357.5 429.8 358.4 430.6 359.0 431.6 359.5 433.2 359.8 434.3 359.8 435.6 360.3 436.8 360.6 438.4 360.5 439.4 359.8 439.9 359.3 441.0 358.6 442.0 358.1 443.1 357.6 443.8 357.0 444.5 356.1 445.1 355.4 445.7 354.6 446.1 353.4 446.3 352.4 446.4 351.1 445.9 350.1 445.1 349.4 444.2 348.8 443.3 348.3 442.2 347.8 442.0 347.8" stroke-width="0.78"/><path d="M412.4 369.4 410.8 369.3 409.8 369.6 408.7 370.0 407.2 370.0 406.1 369.9 404.6 369.9 403.1 369.9 402.0 370.0 400.4 370.0 398.9 370.4 397.8 370.9 396.8 371.2 395.7 371.7 395.0 372.2 394.3 373.2 393.7 373.9 392.8 374.6 391.6 375.0 390.5 374.6 389.5 373.9 388.5 373.4 387.4 373.6 386.9 374.6 386.8 375.9 386.6 377.3 386.3 378.2 385.9 379.6 385.9 380.5 386.1 381.5 386.6 382.4 387.4 383.0 388.6 382.8 389.5 381.9 390.0 381.0 390.5 380.1 391.0 379.2 392.1 379.0 393.1 379.6 394.2 379.8 395.7 379.7 396.8 379.5 397.8 379.7 398.8 380.5 399.5 381.0 400.9 381.5 402.0 381.7 403.5 381.8 405.1 381.7 406.7 381.6 407.7 381.2 408.7 380.6 409.8 380.1 410.8 380.0 412.4 379.7 413.4 379.2 414.2 378.7 415.0 377.8 415.1 376.9 414.5 376.0 414.0 375.0 414.4 373.6 414.9 372.7 415.3 371.8 415.1 370.4 414.4 369.9 412.9 369.5 412.4 369.4 M442.5 348.7 441.0 348.3 439.4 348.5 437.9 348.6 436.3 348.6 435.3 348.9 434.2 349.3 433.2 349.9 432.1 350.6 431.6 351.2 431.1 352.1 430.8 353.4 430.8 354.7 430.6 356.0 430.3 357.0 431.0 358.0 432.1 358.2 433.7 358.3 434.7 358.8 435.5 359.4 436.3 359.9 437.9 360.0 438.9 359.4 439.4 358.9 440.5 358.1 441.5 357.7 442.5 357.3 443.4 356.6 444.0 355.7 444.6 354.8 445.1 353.8 445.4 352.9 445.4 351.5 445.0 350.6 444.2 349.7 443.6 349.2 442.5 348.7" stroke-width="0.8"/><path d="M388.5 374.4 387.6 375.0 387.4 375.9 387.1 377.3 386.8 378.2 386.4 379.6 386.4 380.5 386.7 381.5 387.4 382.3 388.7 381.9 389.3 381.0 389.6 380.1 389.9 378.7 390.1 377.8 390.3 376.4 389.9 375.5 389.0 374.6 388.5 374.4 M412.9 370.4 411.3 370.1 409.9 370.4 408.7 370.8 407.7 370.9 406.7 370.8 405.1 370.6 403.5 370.7 402.5 370.9 400.9 371.1 399.4 371.1 398.3 371.3 396.8 371.8 395.9 372.2 395.2 372.9 394.7 373.7 394.2 374.6 393.5 375.5 393.3 376.9 393.7 377.8 394.7 378.3 395.7 378.0 396.8 377.7 397.9 377.8 398.9 378.3 399.5 379.2 400.1 380.1 400.9 380.7 402.1 381.0 403.5 381.2 405.1 381.2 406.7 381.0 407.7 380.6 408.4 380.1 409.3 379.3 410.3 378.9 411.9 378.7 412.7 378.2 413.1 377.3 412.8 376.4 412.4 375.2 412.4 374.3 412.9 373.6 413.7 372.7 414.1 371.8 413.7 370.9 412.9 370.4 M441.5 349.1 439.9 348.9 438.4 349.1 437.2 349.2 435.8 349.4 434.7 349.8 433.7 350.2 432.7 351.0 432.1 351.8 431.7 352.9 431.8 354.3 432.1 355.5 432.7 356.2 433.7 356.9 434.7 357.5 435.4 358.0 436.3 358.8 437.3 359.3 438.4 358.7 439.0 358.0 439.9 357.4 441.5 357.0 442.4 356.6 443.1 355.8 443.6 354.7 444.0 353.8 444.2 352.9 444.1 351.9 443.6 350.8 443.1 350.1 442.0 349.3 441.5 349.1" stroke-width="0.82"/><path d="M389.0 376.4 388.1 376.9 387.8 377.8 387.4 378.7 387.0 380.1 387.4 381.2 388.5 381.0 388.8 379.6 388.9 378.2 389.0 377.3 389.0 376.4 M411.9 371.3 410.7 371.3 409.8 371.9 408.7 372.5 407.2 372.3 406.1 372.2 404.8 371.8 403.5 371.7 402.5 371.8 400.9 372.0 399.4 371.9 397.8 372.1 396.8 372.5 395.9 373.2 395.3 374.1 395.0 375.0 395.2 375.9 396.6 376.4 397.8 376.6 398.9 377.0 399.9 377.5 400.7 378.2 401.2 379.2 402.0 379.9 403.0 380.2 404.6 380.5 405.6 380.6 406.7 380.5 407.7 379.8 408.2 379.2 409.1 378.2 409.9 377.8 410.9 377.3 410.8 375.9 410.3 375.3 409.6 374.6 409.4 373.2 410.8 372.9 411.9 372.6 412.4 371.8 411.9 371.3 M440.5 349.7 438.9 349.6 437.9 349.7 436.3 350.0 435.3 350.2 434.2 350.6 433.2 351.4 432.7 352.3 432.5 353.4 432.7 354.4 433.2 355.4 434.1 356.1 434.9 356.6 435.9 357.0 437.3 357.4 438.4 357.0 439.9 356.7 441.0 356.4 442.0 355.8 442.5 354.7 442.7 353.8 442.5 352.6 442.2 351.5 441.8 350.6 441.0 349.8 440.5 349.7" stroke-width="0.85"/><path d="M404.1 373.2 402.5 373.0 400.9 372.9 399.4 372.7 397.8 373.0 396.8 373.6 396.4 374.6 397.3 375.3 398.3 375.6 399.5 375.9 400.9 376.3 401.8 376.9 402.5 377.8 403.0 378.3 404.1 379.2 404.8 379.6 406.1 379.8 407.2 379.2 407.7 378.3 408.1 377.3 408.3 376.4 408.0 375.5 407.3 374.6 406.6 374.1 405.4 373.6 404.1 373.2 404.1 373.2 M439.9 350.4 438.4 350.3 437.0 350.6 435.8 350.9 434.7 351.2 433.7 351.9 433.3 352.9 433.4 354.3 434.1 355.2 434.8 355.7 435.8 356.1 437.3 356.4 438.8 356.1 439.9 355.9 441.0 355.5 441.5 354.7 441.5 353.4 441.2 352.4 440.8 351.5 440.2 350.6 439.9 350.4" stroke-width="0.88"/><path d="M438.9 351.4 437.5 351.5 436.3 351.8 435.3 352.0 434.2 352.9 434.2 353.8 434.7 354.6 435.6 355.2 436.8 355.6 438.4 355.4 439.4 355.2 440.4 354.3 439.9 353.0 439.5 352.0 438.9 351.4" stroke-width="0.9"/><path d="M436.8 353.8 436.9 353.8 436.8 353.8" stroke-width="0.93"/></g>
<path d="M416.0 341.4 L423.8 328.9 L434.0 326.2 L450.3 326.2 L461.3 333.8 L461.3 348.3 L452.7 366.3 L432.4 361.4 Z" fill="none" stroke="#808080" stroke-width="0.7"/>
<ellipse cx="413.2" cy="337.9" rx="3" ry="2.2" fill="none" stroke="#444" stroke-width="0.5"/>
<clipPath id="c4"><rect x="288.90" y="398.80" width="78.40" height="69.90"/></clipPath>
<g clip-path="url(#c4)" fill="none" stroke="#111" stroke-linejoin="round"><path d="M342.0 417.2 340.9 417.3 339.6 417.7 338.7 418.1 337.7 418.6 336.4 419.1 335.3 419.5 334.5 420.0 333.6 420.6 332.5 421.2 331.5 421.7 330.5 422.1 329.4 422.6 328.4 423.2 327.6 423.7 326.8 424.2 325.8 425.1 325.2 426.1 324.7 426.8 324.2 427.5 323.4 428.4 322.6 429.3 322.1 429.9 321.4 430.7 320.6 431.7 320.0 432.5 319.5 433.4 319.0 434.2 318.4 434.9 317.8 435.8 317.2 436.8 316.7 437.7 315.8 438.6 314.9 438.6 314.1 438.2 313.2 437.3 312.4 436.8 311.5 436.3 310.5 435.8 309.5 435.2 308.9 434.4 308.2 433.5 307.5 432.7 306.5 432.1 305.7 431.7 304.8 431.1 303.8 430.5 302.8 430.1 301.2 429.9 299.6 430.2 298.6 430.3 297.5 430.2 296.0 430.2 294.9 430.5 293.9 430.9 292.8 431.3 291.6 431.7 290.7 432.1 289.7 432.8 289.1 433.5 289.0 434.9 288.9 436.3 288.9 437.7 288.8 439.1 288.7 440.5 288.7 441.9 288.7 443.3 288.7 444.7 288.7 446.1 288.7 447.5 288.7 448.9 288.7 450.3 288.7 451.7 288.7 453.1 288.7 454.5 288.7 455.9 288.7 457.3 288.7 458.7 288.7 460.1 288.7 461.5 288.7 462.9 288.7 464.3 288.7 465.7 288.7 467.1 288.7 468.5 290.2 468.9 291.8 468.9 293.3 468.9 294.9 468.9 296.5 468.9 298.0 468.9 299.6 468.9 301.2 468.9 302.8 468.9 304.3 468.8 305.9 468.8 307.5 468.8 309.0 468.8 310.6 468.7 312.2 468.6 313.2 468.0 313.7 467.1 314.2 466.2 314.9 465.7 315.8 465.1 316.9 464.4 317.4 463.8 318.4 463.0 319.5 462.5 320.5 462.2 321.6 461.6 322.2 461.0 323.1 460.3 324.2 459.7 325.1 459.1 325.7 458.6 326.8 457.9 327.8 457.3 328.9 456.8 329.6 456.4 330.4 455.4 331.0 454.5 331.5 453.6 332.0 452.6 332.5 451.7 333.1 451.1 334.1 450.3 335.2 449.9 336.2 449.6 337.4 449.4 338.7 448.9 339.4 448.4 340.4 447.7 341.4 447.1 342.5 446.7 343.5 446.5 344.6 446.0 345.6 445.3 346.4 444.7 347.2 444.1 348.0 443.3 348.7 442.6 349.5 441.9 350.3 441.1 351.0 440.5 351.9 439.6 352.4 438.9 352.9 438.0 353.4 437.0 354.0 436.2 354.6 435.4 355.3 434.4 355.8 433.5 356.3 432.6 356.7 431.7 357.1 430.3 357.2 429.3 357.1 428.0 356.9 427.0 356.6 425.9 356.1 424.7 355.9 423.7 355.5 422.5 355.0 421.6 354.4 420.9 353.4 420.2 352.5 419.5 351.7 419.1 350.6 418.6 349.3 418.4 347.7 418.2 346.7 418.1 345.1 417.8 344.0 417.5 342.5 417.2 342.0 417.2" stroke-width="0.55"/><path d="M344.0 418.5 342.5 418.2 340.9 418.4 339.9 418.9 338.8 419.4 337.8 419.7 336.7 420.0 335.5 420.5 334.6 420.9 333.6 421.5 332.5 422.1 331.5 422.7 330.5 423.3 329.6 423.7 328.7 424.2 327.8 424.7 326.8 425.5 326.3 426.1 325.7 427.0 324.9 427.9 324.2 428.7 323.7 429.3 323.0 430.3 322.4 431.2 321.9 432.1 321.4 433.1 320.7 434.0 320.1 434.9 319.5 435.8 319.2 436.8 319.0 438.2 318.8 439.1 318.8 440.5 319.1 441.4 319.5 442.4 319.5 443.5 319.0 444.4 317.9 444.9 316.8 444.7 316.3 443.8 315.8 442.6 315.2 441.9 314.2 441.2 313.2 440.5 312.7 440.0 312.0 439.1 311.3 438.2 310.6 437.5 309.7 436.8 309.0 436.2 308.2 435.4 307.5 434.4 306.9 433.8 305.9 433.1 304.9 432.6 304.0 432.1 303.1 431.7 301.7 431.3 300.1 431.6 299.1 431.8 297.5 431.7 296.5 431.6 295.4 431.8 294.4 432.1 292.8 432.6 291.8 432.9 290.7 433.4 290.0 434.0 289.2 434.7 289.1 435.8 289.0 437.2 288.9 438.6 288.8 440.0 288.8 441.4 288.7 442.8 288.7 444.2 288.7 445.6 288.7 447.0 288.7 448.4 288.7 449.8 288.7 451.2 288.7 452.6 288.7 454.0 288.7 455.4 288.7 456.8 288.7 458.2 288.7 459.6 288.7 461.0 288.7 462.4 288.7 463.8 288.7 465.2 288.7 466.6 288.8 468.0 289.7 468.8 291.3 468.9 292.8 468.9 294.4 468.9 296.0 468.9 297.5 468.8 299.1 468.8 300.7 468.8 302.2 468.8 303.8 468.8 305.4 468.8 306.9 468.8 308.5 468.7 310.1 468.7 311.6 468.5 312.1 467.5 312.5 466.6 312.8 465.7 313.2 464.7 314.0 463.8 314.8 463.3 315.8 462.9 316.9 462.3 317.9 461.7 319.0 461.4 320.1 461.0 321.0 460.4 321.7 459.6 322.6 458.7 323.7 458.2 324.7 457.8 325.5 457.3 326.3 456.8 327.3 456.2 328.4 455.6 329.0 455.0 329.6 454.0 330.3 453.1 330.9 452.2 331.4 451.2 332.0 450.3 332.5 449.8 333.6 449.1 334.6 448.8 336.2 448.5 337.2 448.4 338.4 448.0 339.3 447.4 340.4 446.6 341.2 446.1 342.1 445.6 343.2 445.2 344.2 444.7 345.1 444.2 346.1 443.6 347.1 442.8 347.7 442.4 348.7 441.5 349.3 441.0 350.2 440.0 350.8 439.2 351.4 438.5 351.9 437.7 352.4 436.8 353.0 435.8 353.8 434.9 354.5 434.0 355.0 433.1 355.4 432.1 355.8 431.2 356.0 429.8 355.9 428.4 355.6 427.0 355.3 426.1 354.9 425.1 354.5 423.8 354.0 422.8 353.4 422.1 352.6 421.4 351.9 420.8 350.8 420.1 349.8 419.6 348.7 419.2 347.7 419.0 346.1 418.9 344.6 418.6 344.0 418.5" stroke-width="0.58"/><path d="M343.0 419.5 342.0 419.6 340.6 420.0 339.5 420.5 338.3 420.7 337.0 420.9 335.7 421.3 334.6 421.8 333.7 422.3 332.9 422.8 332.0 423.5 331.0 424.2 330.2 424.7 329.2 425.1 328.3 425.6 327.3 426.4 326.8 427.0 326.0 427.9 325.2 428.8 324.7 429.4 324.1 430.3 323.7 431.2 323.3 432.6 323.0 433.5 322.5 434.4 321.6 435.4 321.1 436.3 320.9 437.2 320.9 438.6 320.7 440.0 320.9 441.4 321.2 442.4 321.1 443.8 320.7 444.7 320.1 445.6 319.4 446.1 317.9 446.5 316.9 446.6 315.8 446.5 314.8 446.1 314.0 445.2 313.7 444.2 313.2 443.2 312.5 442.4 311.6 441.4 311.1 440.8 310.4 440.0 309.5 439.4 308.8 438.6 308.2 437.7 307.6 436.8 307.0 435.8 306.4 435.1 305.8 434.4 304.8 433.9 303.8 433.5 302.7 433.1 301.2 432.8 299.7 433.1 298.6 433.2 297.0 433.2 295.4 433.3 294.4 433.5 292.8 433.8 291.8 434.1 290.7 434.8 290.2 435.4 289.7 436.3 289.2 437.5 289.1 438.6 288.9 440.0 288.8 441.4 288.8 442.8 288.7 444.2 288.7 445.6 288.7 447.0 288.7 448.4 288.7 449.8 288.7 451.2 288.7 452.6 288.7 454.0 288.7 455.4 288.7 456.8 288.7 458.2 288.7 459.6 288.7 461.0 288.7 462.4 288.7 463.8 288.7 465.2 288.7 466.6 288.8 468.0 289.7 468.8 291.3 468.8 292.8 468.9 294.4 468.8 296.0 468.8 297.5 468.8 299.1 468.8 300.7 468.8 302.2 468.8 303.8 468.7 305.4 468.7 306.9 468.7 308.5 468.6 310.1 468.5 310.6 468.0 311.1 466.6 311.3 465.7 311.6 464.7 312.2 463.8 312.8 462.9 313.7 462.2 314.8 461.7 315.8 461.2 316.9 460.6 317.9 460.1 319.0 459.7 319.7 459.1 320.3 458.2 321.0 457.6 322.1 457.2 323.3 456.8 324.4 456.4 325.2 455.9 326.3 455.2 327.0 454.5 327.6 453.6 328.2 452.6 328.9 452.1 329.6 451.2 330.1 450.3 330.8 449.4 331.5 448.7 332.5 448.0 333.6 447.7 335.2 447.6 336.3 447.5 337.8 447.2 338.8 446.6 339.5 446.1 340.4 445.5 341.4 444.8 342.3 444.2 343.3 443.8 344.3 443.3 345.2 442.8 346.1 442.3 347.2 441.6 348.0 441.0 348.7 440.2 349.3 439.5 349.9 438.6 350.4 437.7 351.1 436.8 351.8 435.8 352.4 435.1 352.9 434.4 353.7 433.5 354.2 432.6 354.6 431.7 354.8 430.3 354.8 428.9 354.5 427.5 354.2 426.5 353.9 425.6 353.4 424.4 352.9 423.5 352.1 422.8 351.4 422.3 350.3 421.7 349.3 421.0 348.5 420.5 347.3 420.0 346.1 419.8 344.6 419.6 343.4 419.5 343.0 419.5" stroke-width="0.6"/><path d="M301.2 434.4 299.9 434.4 298.6 434.7 297.0 434.9 295.4 434.9 293.9 434.9 292.8 435.0 291.8 435.5 291.2 436.3 290.8 437.7 290.2 438.6 289.6 439.1 289.1 440.0 288.9 441.4 288.8 442.8 288.8 444.2 288.8 445.6 288.8 447.0 288.7 448.4 288.7 449.8 288.7 451.2 288.7 452.6 288.7 454.0 288.7 455.4 288.7 456.8 288.7 458.2 288.7 459.6 288.7 461.0 288.7 462.4 288.7 463.8 288.7 465.2 288.8 466.6 288.9 468.0 289.7 468.7 291.3 468.8 292.8 468.8 294.4 468.8 296.0 468.8 297.5 468.7 299.1 468.7 300.7 468.7 302.2 468.7 303.8 468.7 305.4 468.6 306.9 468.6 308.5 468.5 309.2 468.0 309.5 467.0 309.7 465.7 310.1 464.4 310.6 463.7 311.3 462.9 312.1 461.9 312.7 461.4 313.7 460.7 314.8 460.1 315.4 459.6 316.2 458.7 316.9 458.0 317.9 457.3 318.8 456.8 320.0 456.4 321.0 456.1 322.1 455.8 323.1 455.3 324.2 454.7 324.9 454.0 325.2 452.6 325.0 451.2 324.3 450.3 323.6 449.8 322.6 449.1 322.0 448.4 321.0 447.8 319.5 447.8 318.4 448.1 316.9 448.4 315.3 448.0 314.2 447.7 313.3 447.0 312.8 446.1 312.4 445.2 311.8 444.2 311.1 443.4 310.6 442.7 310.0 441.9 309.1 441.0 308.5 440.5 307.5 439.6 306.9 438.9 306.4 438.0 305.9 437.2 305.4 436.2 304.6 435.4 303.3 434.9 302.2 434.6 301.2 434.4 M344.6 420.9 343.0 420.9 342.0 421.1 340.9 421.4 339.3 421.7 337.8 421.8 336.7 421.9 335.5 422.3 334.6 422.8 333.6 423.4 332.7 424.2 332.0 424.7 331.0 425.4 329.9 425.8 328.9 426.4 328.2 427.0 327.3 427.9 326.8 428.5 326.0 429.3 325.4 430.3 324.9 431.2 324.7 432.1 324.3 433.5 323.9 434.4 323.3 435.4 322.6 436.3 322.4 437.2 322.6 438.6 322.8 439.6 323.1 441.0 323.4 441.9 323.7 442.8 323.6 443.8 323.7 445.0 324.0 446.1 324.7 446.9 325.4 447.0 326.8 446.9 328.4 446.9 329.9 446.7 331.0 446.5 332.5 446.4 334.1 446.5 335.7 446.5 337.2 446.2 338.3 445.7 339.1 445.2 339.9 444.7 340.9 444.0 342.0 443.3 343.0 442.8 344.0 442.4 344.8 441.9 345.6 441.4 346.7 440.7 347.5 440.0 348.2 439.1 348.7 438.2 349.2 437.2 349.8 436.6 350.4 435.8 351.2 434.9 351.9 434.1 352.4 433.4 353.0 432.6 353.4 431.2 353.5 430.3 353.5 428.9 353.4 427.9 353.0 426.5 352.6 425.6 352.1 424.7 351.4 423.9 350.3 423.3 349.3 422.9 348.2 422.5 347.2 421.9 346.4 421.4 345.1 420.9 344.6 420.9" stroke-width="0.62"/><path d="M300.7 435.7 299.2 435.8 298.0 436.1 296.8 436.3 295.4 436.4 293.9 436.6 292.9 437.2 292.5 438.2 291.8 439.1 291.0 439.6 290.0 440.0 289.2 440.6 289.0 441.9 288.9 443.3 288.9 444.7 288.8 446.1 288.8 447.5 288.8 448.9 288.8 450.3 288.7 451.7 288.7 453.1 288.7 454.5 288.7 455.9 288.7 457.3 288.7 458.7 288.7 460.1 288.7 461.5 288.7 462.9 288.8 464.3 288.8 465.7 288.9 467.1 289.1 468.5 290.2 468.7 291.8 468.7 293.3 468.7 294.9 468.7 296.5 468.6 298.0 468.6 299.6 468.6 301.2 468.6 302.8 468.5 304.3 468.5 305.4 468.5 306.4 467.9 307.5 467.1 307.8 466.1 308.0 464.7 308.5 463.8 309.0 463.3 310.0 462.4 310.6 461.8 311.2 461.0 311.9 460.1 312.7 459.2 313.2 458.6 314.1 457.7 314.8 457.0 315.8 456.4 316.9 456.0 317.9 455.6 319.0 455.2 320.0 454.6 320.8 454.0 321.6 453.4 321.9 452.2 321.0 451.3 320.0 450.8 319.0 450.7 317.9 450.8 316.3 450.8 315.3 450.3 314.7 449.8 313.7 449.3 312.7 448.9 311.7 448.0 311.3 447.0 311.0 446.1 310.6 445.2 310.0 444.2 309.3 443.3 308.5 442.5 307.9 441.9 306.9 441.2 306.2 440.5 305.4 439.6 304.8 439.0 304.1 438.2 303.4 437.2 302.8 436.6 301.7 436.0 300.7 435.7 M344.6 422.7 343.0 422.7 342.0 422.8 340.4 422.8 338.8 422.8 337.2 422.9 336.0 423.3 335.1 423.7 334.1 424.4 333.1 425.1 332.4 425.6 331.5 426.1 330.5 426.6 329.4 427.4 328.9 428.0 328.2 428.9 327.4 429.8 326.8 430.6 326.3 431.5 325.8 432.6 325.5 433.5 325.1 434.4 324.7 435.4 324.1 436.3 323.9 437.7 324.2 439.1 324.3 440.0 324.7 441.1 325.2 442.0 325.9 442.8 326.8 443.7 327.5 444.2 328.5 444.7 329.9 445.0 331.5 445.1 333.1 445.1 334.1 445.2 335.7 445.2 336.7 445.0 337.8 444.6 338.8 444.1 339.9 443.5 340.9 443.0 342.0 442.4 342.9 441.9 343.8 441.4 344.6 441.0 345.6 440.2 346.4 439.6 347.1 438.6 347.5 437.7 348.0 436.8 348.7 436.0 349.4 435.4 350.2 434.4 350.8 433.6 351.4 432.8 351.9 431.7 351.9 430.7 351.9 429.3 351.9 428.1 351.6 427.0 351.1 426.1 350.4 425.1 349.8 424.7 348.7 424.2 347.3 423.7 346.1 423.3 345.1 422.9 344.6 422.7" stroke-width="0.65"/><path d="M300.7 437.2 299.1 437.1 298.0 437.3 296.5 437.7 295.4 438.1 294.5 438.6 293.9 439.1 292.8 439.8 291.8 440.3 290.7 440.7 289.7 441.4 289.1 441.9 289.0 443.3 289.0 444.7 289.0 446.1 288.9 447.5 288.8 448.9 288.8 450.3 288.8 451.7 288.8 453.1 288.8 454.5 288.8 455.9 288.8 457.3 288.8 458.7 288.8 460.1 288.8 461.5 288.8 462.9 288.8 464.3 288.9 465.7 289.1 467.1 289.5 468.0 290.2 468.5 291.8 468.7 293.3 468.7 294.9 468.6 296.5 468.5 297.5 468.4 298.7 468.0 300.1 467.8 301.7 467.7 302.8 467.5 304.2 467.1 305.1 466.6 305.9 465.7 306.4 464.7 306.9 463.8 307.5 463.1 308.0 462.4 308.9 461.5 309.5 460.7 310.1 459.9 310.6 459.1 311.2 458.2 311.6 456.9 311.6 455.9 311.6 455.4 312.2 454.2 313.2 453.7 314.2 453.5 314.8 452.9 314.1 452.2 313.2 451.7 311.6 451.3 311.1 450.6 310.6 449.6 310.1 448.5 309.6 447.5 309.4 446.6 309.0 445.6 308.5 444.7 307.8 443.8 306.9 442.9 306.3 442.4 305.4 441.5 304.7 441.0 303.8 440.5 302.8 439.7 302.2 439.0 301.7 438.1 300.7 437.2 300.7 437.2 M343.5 424.2 342.3 424.2 340.9 424.2 339.9 424.2 338.3 424.2 337.2 424.3 336.2 424.8 335.2 425.3 334.1 425.8 333.1 426.3 332.0 426.8 331.0 427.4 330.4 427.9 329.7 428.9 329.2 429.8 328.5 430.7 327.8 431.5 327.3 432.2 326.8 433.1 326.4 434.4 326.0 435.4 325.6 436.3 325.4 437.7 325.5 439.1 325.7 440.4 326.3 441.4 326.8 442.0 327.8 442.8 328.6 443.3 329.8 443.8 331.0 444.0 332.5 444.0 334.1 443.9 335.5 443.8 336.7 443.5 337.8 443.2 338.8 442.8 340.1 442.4 341.1 441.9 342.0 441.4 343.0 440.9 344.0 440.3 344.9 439.6 345.6 438.8 346.1 437.9 346.6 436.8 347.2 436.0 347.7 435.4 348.6 434.4 349.3 433.6 349.8 432.8 350.3 431.7 350.2 430.3 349.8 428.9 349.5 427.9 349.1 427.0 348.5 426.1 347.7 425.5 346.7 425.0 345.6 424.7 344.0 424.2 343.5 424.2" stroke-width="0.68"/><path d="M299.1 438.6 298.0 438.7 296.9 439.1 296.0 439.7 294.9 440.2 293.9 440.6 292.7 441.0 291.5 441.4 290.7 441.9 289.8 442.8 289.4 443.8 289.2 445.2 289.1 446.1 289.0 447.5 288.9 448.9 288.9 450.3 288.9 451.7 288.9 453.1 288.9 454.5 288.9 455.9 288.8 457.3 288.8 458.7 288.8 460.1 288.8 461.5 288.9 462.9 288.9 464.3 289.0 465.7 289.3 466.6 290.2 467.5 290.7 468.1 291.8 468.5 293.3 468.5 294.4 468.3 295.4 467.7 296.5 467.2 297.5 466.7 298.6 466.4 300.1 466.5 301.7 466.3 302.8 465.9 303.8 465.4 304.6 464.7 305.4 463.8 305.9 463.2 306.5 462.4 307.3 461.5 307.9 460.5 308.5 459.8 309.0 459.1 309.6 458.2 309.9 456.8 309.5 455.9 309.0 454.5 308.8 453.6 308.5 452.2 308.9 450.8 309.0 449.8 308.8 448.9 308.5 447.9 308.1 446.6 307.6 445.6 306.9 444.8 306.4 444.2 305.4 443.3 304.8 442.8 303.8 442.3 302.8 441.9 301.7 441.0 301.2 440.3 300.6 439.6 299.6 438.8 299.1 438.6 M343.0 425.6 341.4 425.4 339.9 425.4 338.6 425.6 337.3 426.1 336.2 426.5 335.2 426.7 334.1 427.0 333.0 427.5 332.0 428.0 331.1 428.9 330.5 429.8 329.9 430.7 329.4 431.3 328.7 432.1 328.0 433.1 327.7 434.0 327.4 435.4 327.0 436.3 326.8 437.6 326.8 438.2 327.0 439.6 327.3 440.5 328.0 441.4 328.9 442.1 329.9 442.6 331.0 442.9 332.5 442.9 333.6 442.8 335.2 442.5 336.2 442.3 337.8 441.9 338.8 441.7 339.9 441.4 340.9 441.0 342.0 440.4 343.0 439.8 344.0 439.1 344.6 438.6 345.1 437.7 345.6 436.5 346.1 435.5 346.7 434.8 347.2 434.0 347.8 433.1 348.2 432.1 348.6 430.7 348.2 429.4 347.7 428.4 347.2 427.7 346.3 427.0 345.5 426.5 344.5 426.1 343.2 425.6 343.0 425.6" stroke-width="0.7"/><path d="M299.1 439.9 297.7 440.0 296.8 440.5 295.6 441.0 294.4 441.3 293.3 441.5 292.1 441.9 291.3 442.5 290.5 443.3 290.2 444.4 289.8 445.6 289.3 446.6 289.1 447.5 289.0 448.9 289.0 450.3 288.9 451.7 288.9 453.1 288.9 454.5 288.9 455.9 288.9 457.3 288.9 458.7 288.9 460.1 288.9 461.5 288.9 462.9 289.0 464.3 289.1 465.7 289.7 466.4 290.4 467.1 291.3 467.8 292.3 468.3 293.5 468.0 294.4 467.4 295.4 466.8 296.5 466.2 297.5 465.7 298.6 465.5 300.1 465.7 300.7 465.7 302.2 465.2 302.8 464.7 303.8 463.9 304.5 463.3 305.4 462.7 306.1 461.9 306.8 461.0 307.4 460.1 308.0 459.3 308.5 458.6 309.0 457.3 308.5 456.1 308.0 455.0 307.9 454.0 307.5 452.6 307.5 452.1 307.8 450.8 308.1 449.8 308.0 448.6 307.7 447.5 307.4 446.6 306.7 445.6 305.9 444.8 305.3 444.2 304.3 443.6 303.3 443.2 302.2 442.6 301.4 441.9 300.7 441.0 300.1 440.5 299.1 439.9 M341.4 426.0 339.9 426.0 338.8 426.2 337.8 426.6 336.7 427.0 335.2 427.4 334.1 427.7 333.1 428.1 332.0 428.8 331.5 429.3 330.8 430.3 330.2 431.2 329.4 432.1 328.9 432.8 328.4 433.9 328.2 434.9 327.9 436.3 327.7 437.2 327.7 438.6 328.0 439.6 328.4 440.5 329.4 441.4 330.5 441.9 331.5 442.1 333.1 442.1 334.1 441.9 335.7 441.6 336.7 441.4 338.3 441.1 339.3 440.9 340.4 440.5 341.4 440.0 342.5 439.5 343.5 438.9 344.2 438.2 344.8 437.2 345.1 436.3 345.6 435.2 346.1 434.2 346.6 433.1 347.0 432.1 347.3 431.2 347.4 429.8 346.9 428.9 346.1 428.2 345.1 427.6 344.0 427.1 343.0 426.5 342.0 426.1 341.4 426.0" stroke-width="0.72"/><path d="M299.6 441.2 298.0 441.1 296.9 441.4 295.4 441.9 294.4 442.2 293.3 442.7 292.3 443.2 291.7 443.8 291.2 444.7 290.6 445.6 289.9 446.6 289.3 447.5 289.1 448.4 289.0 449.8 289.0 451.2 289.0 452.6 289.0 454.0 289.0 455.4 288.9 456.8 288.9 458.2 288.9 459.6 288.9 461.0 289.0 462.4 289.0 463.8 289.2 465.2 289.7 465.9 290.5 466.6 291.3 467.1 292.8 467.5 293.9 466.9 294.9 466.2 295.9 465.7 296.8 465.2 298.0 464.8 299.1 464.7 300.1 464.8 301.2 464.6 302.2 463.8 302.8 463.3 303.8 462.6 304.8 462.1 305.6 461.5 306.4 460.5 306.9 459.6 307.5 458.8 307.9 457.7 307.5 456.5 307.1 455.4 307.0 454.0 306.8 453.1 306.6 451.7 306.9 450.5 307.3 449.4 307.1 448.0 306.9 447.0 306.3 446.1 305.4 445.2 304.7 444.7 303.8 444.2 302.7 443.8 301.7 443.2 300.9 442.4 300.1 441.6 299.6 441.2 M340.4 426.5 339.3 426.6 338.3 427.0 337.1 427.5 335.7 427.8 334.6 428.1 333.6 428.6 332.5 429.1 331.8 429.8 331.1 430.7 330.5 431.6 329.9 432.2 329.3 433.1 328.9 434.2 328.8 435.4 328.7 436.8 328.7 438.2 329.0 439.1 329.8 440.0 330.6 440.5 331.5 441.0 333.1 441.3 334.6 441.1 335.7 440.9 337.2 440.6 338.3 440.4 339.9 440.1 340.9 439.7 342.0 439.2 343.0 438.6 343.6 438.2 344.2 437.2 344.6 436.3 345.1 435.1 345.5 434.0 345.7 433.1 346.1 431.7 346.5 430.7 346.2 429.3 345.6 428.8 344.6 428.3 343.5 427.8 342.5 427.1 341.4 426.7 340.4 426.5" stroke-width="0.75"/><path d="M299.6 442.3 298.0 442.0 296.5 442.4 295.4 442.8 294.8 443.3 293.9 444.2 293.2 444.7 292.3 445.2 291.3 446.0 290.7 446.6 289.9 447.5 289.3 448.4 289.1 449.4 289.1 450.8 289.1 452.2 289.1 453.6 289.1 455.0 289.0 456.4 289.0 457.7 289.0 459.1 289.0 460.5 289.0 461.9 289.1 463.3 289.2 464.4 289.7 465.3 290.6 466.1 291.6 466.6 292.8 466.7 293.7 466.1 294.4 465.6 295.4 465.0 296.5 464.5 297.5 464.1 298.8 463.8 300.1 463.6 301.2 463.2 302.2 462.4 303.1 461.9 304.3 461.5 305.1 461.0 305.9 460.1 306.4 459.2 306.8 458.2 306.4 456.8 306.0 455.9 306.1 454.5 306.0 453.1 305.7 452.2 305.8 450.8 306.2 449.8 306.4 448.4 306.1 447.0 305.4 446.1 304.8 445.6 303.8 445.0 302.8 444.6 301.7 444.1 300.7 443.3 300.1 442.8 299.6 442.3 M341.4 427.4 339.9 427.1 338.6 427.5 337.3 427.9 336.2 428.2 335.2 428.6 334.1 429.0 333.1 429.5 332.2 430.3 331.5 431.0 331.0 431.7 330.3 432.6 329.7 433.5 329.5 434.9 329.5 436.3 329.8 437.7 330.5 438.6 331.2 439.1 332.0 439.7 333.1 440.3 334.6 440.4 336.2 440.1 337.2 439.9 338.8 439.6 339.9 439.4 340.9 439.1 342.0 438.6 343.0 438.0 343.7 437.2 344.1 436.3 344.6 435.0 344.8 434.0 345.1 432.7 345.4 431.7 345.6 430.3 344.9 429.3 344.0 428.9 343.0 428.4 342.0 427.7 341.4 427.4" stroke-width="0.78"/><path d="M299.1 443.3 297.5 442.9 296.2 443.3 295.4 443.9 294.6 444.7 293.9 445.3 292.8 445.9 291.8 446.5 291.0 447.0 290.2 447.9 289.7 448.9 289.5 449.8 289.3 451.2 289.3 452.6 289.3 454.0 289.2 455.2 289.1 456.4 289.1 457.7 289.0 459.1 289.0 460.5 289.1 461.9 289.2 463.1 289.5 464.3 290.1 465.2 290.7 465.7 292.3 466.0 293.3 465.5 294.4 464.7 295.2 464.3 296.3 463.8 297.5 463.4 298.6 463.1 299.6 462.8 300.7 462.3 301.7 461.7 302.8 461.3 303.8 460.9 304.8 460.3 305.4 459.6 305.9 458.4 305.9 457.7 305.4 456.5 305.2 455.4 305.3 454.0 305.0 452.6 304.8 451.7 305.0 450.8 305.4 449.4 305.4 448.4 305.3 447.5 304.6 446.6 303.8 445.9 302.8 445.4 301.7 445.1 300.5 444.7 299.6 443.9 299.1 443.3 M340.4 427.8 339.0 427.9 337.8 428.3 336.7 428.6 335.7 429.0 334.6 429.5 333.6 430.0 332.6 430.7 332.0 431.3 331.3 432.1 330.6 433.1 330.3 434.0 330.3 435.4 330.5 436.3 331.0 437.3 331.9 438.2 332.5 438.7 333.6 439.4 334.6 439.6 335.7 439.5 337.2 439.1 338.3 439.0 339.9 438.8 340.9 438.5 342.0 438.0 343.0 437.3 343.5 436.5 343.9 435.4 344.2 434.4 344.4 433.1 344.6 432.0 344.7 430.7 344.2 429.8 343.3 429.3 342.4 428.9 341.4 428.2 340.4 427.8" stroke-width="0.8"/><path d="M298.0 444.2 296.5 444.1 295.7 444.7 294.9 445.4 294.0 446.1 293.1 446.6 292.0 447.0 291.3 447.5 290.5 448.4 290.1 449.4 289.9 450.8 289.8 452.2 289.8 453.6 289.7 454.7 289.4 455.9 289.2 457.3 289.1 458.2 289.1 459.6 289.1 461.0 289.3 461.9 289.6 463.3 290.0 464.3 290.7 465.1 291.8 465.4 292.8 465.1 293.9 464.3 294.6 463.8 295.4 463.3 297.0 462.9 298.0 462.6 299.1 462.2 300.1 461.7 301.2 461.1 302.2 460.7 303.3 460.3 304.3 459.7 304.8 459.1 305.1 457.7 304.8 456.8 304.5 455.4 304.5 454.0 304.3 453.0 304.1 451.7 304.3 450.3 304.5 449.4 304.3 448.0 303.8 447.3 302.9 446.6 301.7 446.1 300.7 445.9 299.4 445.6 298.6 444.8 298.0 444.2 M340.9 428.8 339.3 428.5 337.9 428.9 336.7 429.2 335.7 429.7 334.7 430.3 334.0 430.7 333.1 431.4 332.2 432.1 331.5 433.0 331.1 434.0 331.5 435.4 332.0 436.0 332.8 436.8 333.4 437.7 334.1 438.4 335.7 438.6 337.2 438.4 338.8 438.3 339.9 438.1 341.2 437.7 342.1 437.2 343.0 436.3 343.3 435.4 343.5 434.4 343.7 433.1 343.9 431.7 343.5 430.4 342.6 429.8 341.8 429.3 340.9 428.8" stroke-width="0.82"/><path d="M297.5 445.6 296.2 445.6 295.4 446.2 294.4 446.9 293.3 447.3 292.3 447.6 291.3 448.3 290.7 449.2 290.5 450.3 290.3 451.7 290.3 453.1 290.2 454.3 290.0 455.4 289.7 456.8 289.5 457.7 289.4 459.1 289.4 460.5 289.7 461.9 290.0 462.9 290.3 463.8 291.3 464.7 292.0 464.7 293.0 464.3 293.9 463.5 294.6 462.9 295.4 462.3 297.0 462.1 298.0 461.8 299.1 461.4 300.1 460.8 301.2 460.3 302.2 460.0 303.3 459.5 304.1 458.7 304.2 457.3 303.9 455.9 303.8 454.9 303.7 453.6 303.5 452.2 303.5 450.8 303.6 449.4 303.3 448.4 302.2 447.6 301.2 447.2 300.1 446.8 299.1 446.5 298.0 445.9 297.5 445.6 M339.9 429.3 338.7 429.3 337.2 429.8 336.2 430.3 335.5 430.7 334.6 431.4 333.7 432.1 333.1 432.6 332.4 433.5 332.5 434.6 333.2 435.4 334.1 436.3 334.6 436.8 335.7 437.4 337.2 437.5 338.8 437.5 340.4 437.3 341.4 436.8 342.1 436.3 342.6 435.4 342.9 434.0 343.0 433.1 343.0 431.7 342.5 430.8 341.8 430.3 340.9 429.7 339.9 429.3" stroke-width="0.85"/><path d="M297.5 447.0 296.5 447.2 295.5 448.0 294.6 448.4 293.3 448.5 291.8 448.9 291.3 449.8 291.1 450.8 290.9 452.2 290.9 453.6 290.7 454.5 290.3 455.9 290.1 456.8 289.9 458.2 289.8 459.6 289.9 461.0 290.2 462.0 290.7 463.3 291.3 463.9 292.5 463.8 293.3 463.1 293.9 462.4 294.4 461.5 295.4 460.5 296.0 460.6 297.5 460.9 298.6 460.5 299.6 460.0 300.7 459.6 302.0 459.1 302.9 458.7 303.4 457.7 303.3 456.4 303.2 455.4 303.1 454.0 303.0 452.6 302.8 451.4 302.6 450.3 302.2 449.3 301.2 448.6 300.1 448.0 299.2 447.5 298.0 447.1 297.5 447.0 M339.9 430.2 338.3 430.2 337.2 430.6 336.3 431.2 335.7 431.7 334.6 432.6 334.1 433.1 333.8 434.4 334.6 435.4 335.3 435.8 336.7 436.3 337.8 436.4 339.3 436.3 340.4 435.9 341.0 435.4 341.5 434.4 342.0 433.2 342.0 432.1 341.4 431.2 340.9 430.7 339.9 430.2" stroke-width="0.88"/><path d="M298.6 448.3 297.0 448.4 296.1 448.9 295.4 449.4 294.2 449.8 292.8 450.0 292.2 450.8 291.9 452.2 291.8 453.2 291.4 454.5 291.0 455.4 290.6 456.4 290.4 457.7 290.3 459.1 290.4 460.5 290.7 461.6 291.3 462.6 292.3 462.9 292.8 462.4 293.3 461.3 293.8 460.1 294.1 459.1 294.9 458.2 295.7 458.2 297.0 458.5 298.6 458.4 299.6 458.1 301.2 457.8 302.1 457.3 302.4 456.4 302.5 455.0 302.5 453.6 302.2 452.2 301.9 451.2 301.2 450.3 300.6 449.8 299.6 449.0 298.7 448.4 298.6 448.3 M338.8 431.1 337.8 431.4 336.7 432.1 336.1 432.6 335.3 433.5 335.2 434.0 336.2 434.8 337.8 434.7 338.8 434.3 339.8 433.5 340.3 432.6 339.9 431.5 338.8 431.1" stroke-width="0.9"/><path d="M298.6 449.8 297.0 449.6 296.0 450.2 295.1 450.8 294.7 451.7 295.0 452.6 295.1 454.0 294.5 455.0 293.3 455.0 292.6 455.0 291.8 455.4 291.2 456.4 290.9 457.7 290.9 459.1 291.3 460.4 292.3 460.7 292.8 459.9 293.2 458.7 293.6 457.7 294.2 456.8 295.3 456.8 296.5 457.2 298.0 457.1 299.1 456.8 300.4 456.4 301.2 455.8 301.7 454.6 301.8 453.6 301.7 452.6 301.2 451.7 300.1 450.8 299.4 450.3 298.6 449.8" stroke-width="0.93"/><path d="M298.6 451.2 297.0 451.2 296.4 451.7 296.3 453.1 296.2 454.5 296.5 455.9 297.5 456.1 298.6 455.8 299.6 455.4 300.7 454.5 300.9 453.6 300.7 452.4 299.8 451.7 298.7 451.2 298.6 451.2" stroke-width="0.95"/><path d="M299.1 452.9 298.0 453.1 298.0 454.1 299.1 454.0 299.1 452.9" stroke-width="0.98"/></g>
<path d="M319.5 423.3 L327.3 410.7 L337.5 407.9 L354.0 407.9 L364.9 415.6 L364.9 430.3 L356.3 448.4 L335.9 443.5 Z" fill="none" stroke="#808080" stroke-width="0.7"/>
<clipPath id="c5"><rect x="385.60" y="398.80" width="78.00" height="69.90"/></clipPath>
<g clip-path="url(#c5)" fill="none" stroke="#222" stroke-linejoin="round"><path d="M437.9 423.3 436.3 423.1 434.7 423.0 433.2 423.0 431.7 423.3 430.6 423.7 429.5 424.1 428.5 424.4 427.2 424.7 425.9 424.9 424.9 425.2 423.8 425.7 422.8 426.4 421.9 427.0 421.2 427.5 420.2 428.0 419.1 428.4 418.1 428.9 417.1 429.6 416.3 430.3 415.5 431.0 414.9 431.7 414.1 432.6 413.4 433.1 411.9 433.4 410.8 433.7 409.8 434.3 408.9 434.9 408.1 435.4 407.1 435.8 405.8 436.3 404.7 436.8 403.9 437.2 403.0 437.8 402.0 438.5 401.0 439.1 400.4 439.6 399.4 440.3 398.6 441.0 397.8 441.9 397.3 442.4 396.3 443.3 395.7 443.8 394.8 444.7 394.1 445.2 393.1 445.7 391.6 446.0 390.5 446.1 389.4 446.6 388.5 447.4 387.9 448.1 387.3 448.9 386.4 449.8 385.9 450.3 385.6 451.7 385.5 453.1 385.5 454.5 385.5 455.9 385.5 457.3 385.4 458.7 385.4 460.1 385.4 461.5 385.4 462.9 385.4 464.3 385.4 465.7 385.4 467.1 385.4 468.5 386.9 468.9 388.5 468.9 390.0 468.9 391.6 468.9 393.1 468.9 394.7 468.9 396.3 468.9 397.8 468.9 399.4 468.9 400.9 468.9 402.5 468.9 404.1 468.9 405.6 468.8 407.2 468.8 408.7 468.7 410.3 468.6 411.8 468.5 412.4 468.0 413.4 467.2 414.2 466.6 415.0 466.0 416.0 465.3 416.9 464.7 417.6 464.1 418.1 463.3 418.8 462.4 419.5 461.5 420.1 460.5 420.5 459.6 420.8 458.7 421.2 457.5 421.7 456.7 422.6 455.9 423.3 455.3 424.3 454.5 424.9 453.9 425.5 453.1 426.0 452.2 426.4 451.0 426.8 449.8 427.5 449.0 428.5 448.6 430.0 448.4 431.1 448.1 432.1 447.7 433.2 447.3 434.2 447.0 435.8 446.6 436.8 446.3 437.9 446.0 439.4 445.7 440.5 445.5 441.6 445.2 442.9 444.7 444.0 444.2 444.8 443.8 445.7 443.3 446.7 442.7 447.7 442.1 448.5 441.4 449.3 440.8 450.2 440.0 450.9 439.5 451.9 438.7 452.4 438.2 453.0 437.2 453.4 435.8 453.6 434.9 453.5 434.0 452.9 432.9 452.4 431.9 452.1 430.7 451.8 429.8 451.1 428.9 450.3 428.1 449.7 427.5 448.8 426.6 448.3 426.1 447.2 425.2 446.2 424.7 445.1 424.4 443.8 424.2 442.5 423.8 441.5 423.5 439.9 423.3 438.4 423.3 437.9 423.3" stroke-width="0.55"/><path d="M440.5 424.1 438.9 424.0 437.3 424.0 435.8 423.9 434.2 423.8 432.7 423.9 431.6 424.2 430.5 424.7 429.0 425.0 428.0 425.3 426.5 425.6 425.4 425.9 424.3 426.4 423.4 427.0 422.7 427.5 421.7 428.1 420.7 428.7 419.7 429.2 418.6 429.7 418.0 430.3 417.1 431.2 416.5 432.0 416.0 432.7 415.3 433.5 414.5 434.1 413.4 434.5 412.2 434.9 411.1 435.4 410.3 435.9 409.3 436.3 408.0 436.8 406.9 437.2 406.0 437.7 405.0 438.2 404.0 438.6 403.0 439.1 402.0 439.9 401.3 440.5 400.4 441.4 399.9 441.9 398.9 442.8 398.2 443.3 397.3 443.9 396.4 444.7 395.7 445.3 394.7 446.1 393.9 446.6 392.7 447.0 391.6 447.1 390.0 447.4 389.2 448.0 388.5 448.8 387.9 449.4 386.9 450.3 386.3 450.8 385.8 451.7 385.6 453.1 385.6 454.5 385.6 455.9 385.5 457.3 385.5 458.7 385.4 460.1 385.4 461.5 385.4 462.9 385.4 464.3 385.4 465.7 385.4 467.1 385.5 468.5 386.9 468.9 388.5 468.9 390.0 468.9 391.6 468.9 393.1 468.9 394.7 468.9 396.3 468.9 397.8 468.9 399.4 468.9 400.9 468.9 402.5 468.8 404.1 468.8 405.6 468.8 407.2 468.7 408.7 468.6 410.0 468.5 410.8 467.9 411.9 467.1 412.5 466.6 413.4 465.9 414.4 465.2 415.1 464.7 416.0 464.2 416.9 463.3 417.6 462.5 418.1 461.8 418.7 461.0 419.3 460.1 419.7 458.9 420.1 457.7 420.6 456.8 421.2 455.9 421.7 455.2 422.5 454.5 423.3 453.8 424.0 453.1 424.6 452.2 424.9 451.2 425.1 449.8 425.5 448.9 426.3 448.0 427.0 447.5 428.5 447.3 430.1 447.4 431.6 447.0 432.7 446.6 433.7 446.3 434.7 446.0 436.3 445.7 437.3 445.4 438.4 445.1 439.9 444.7 441.0 444.5 442.0 444.1 443.1 443.7 444.1 443.2 445.1 442.6 446.2 442.0 447.0 441.4 447.8 441.0 448.8 440.2 449.6 439.6 450.3 438.9 451.1 438.2 451.8 437.2 452.2 436.3 452.4 434.9 451.9 433.5 451.4 432.7 450.9 431.8 450.4 430.7 450.1 429.8 449.5 428.9 448.8 427.9 448.3 427.4 447.3 426.5 446.7 426.1 445.7 425.5 444.1 425.2 443.1 425.0 442.0 424.5 440.9 424.2 440.5 424.1" stroke-width="0.58"/><path d="M440.5 425.0 438.9 424.9 437.3 425.1 436.7 425.1 435.3 425.0 433.7 424.8 432.1 425.0 431.1 425.3 430.0 425.6 428.5 425.9 427.5 426.1 426.4 426.5 425.3 427.0 424.3 427.5 423.3 428.1 422.3 428.9 421.6 429.3 420.7 429.9 419.7 430.5 419.0 431.2 418.5 432.1 418.0 433.1 417.1 434.0 416.4 434.4 415.5 435.0 414.5 435.5 413.4 436.0 412.4 436.6 411.3 437.2 410.3 437.5 409.3 437.9 408.2 438.3 407.2 439.0 406.1 439.5 405.1 439.8 404.1 440.2 403.0 440.8 402.3 441.4 401.5 442.2 400.7 442.8 399.9 443.4 398.9 444.0 397.9 444.7 397.3 445.2 396.3 446.1 395.7 446.6 394.7 447.4 394.0 448.0 392.6 448.3 391.1 448.3 390.0 448.6 389.1 449.4 388.5 450.0 387.4 450.8 386.8 451.2 385.9 452.2 385.8 453.1 385.7 454.5 385.7 455.9 385.6 457.3 385.5 458.7 385.5 460.1 385.5 461.5 385.5 462.9 385.4 464.3 385.5 465.7 385.5 467.1 385.5 468.5 386.9 468.8 388.5 468.9 390.0 468.9 391.6 468.9 393.1 468.9 394.7 468.9 396.3 468.9 397.8 468.8 399.4 468.8 400.9 468.8 402.5 468.8 404.1 468.8 405.6 468.7 407.2 468.6 408.7 468.5 409.3 468.0 410.3 467.1 410.9 466.6 411.9 465.9 412.7 465.2 413.4 464.7 414.5 464.0 415.4 463.3 416.0 462.7 416.6 461.9 417.4 461.0 418.1 460.1 418.5 459.1 418.9 458.2 419.3 457.3 419.9 456.4 420.5 455.4 421.1 454.5 421.7 453.6 422.3 453.0 422.9 452.2 423.3 451.0 423.5 449.8 423.9 448.9 424.6 448.0 425.4 447.0 425.9 446.6 426.9 446.1 428.5 446.0 429.5 446.2 431.1 446.2 432.1 445.9 433.2 445.6 434.7 445.2 435.8 445.0 437.0 444.7 438.4 444.3 439.4 444.1 440.5 443.8 442.0 443.3 443.1 442.8 443.9 442.4 444.7 441.9 445.7 441.2 446.7 440.5 447.4 440.0 448.3 439.5 449.3 438.6 449.8 438.1 450.5 437.2 450.9 436.3 451.1 434.9 450.8 434.0 450.3 433.1 449.7 432.1 449.2 431.2 448.8 430.1 448.3 429.0 447.7 428.3 447.0 427.5 446.2 426.8 445.1 426.3 443.9 426.1 442.5 425.7 441.5 425.3 440.5 425.0" stroke-width="0.6"/><path d="M440.5 426.0 438.9 426.0 437.9 426.1 436.3 426.2 435.1 426.1 433.7 425.9 432.1 426.0 431.1 426.2 429.5 426.4 428.5 426.6 427.4 427.0 426.4 427.5 425.4 428.1 424.3 428.7 423.4 429.3 422.8 429.8 421.7 430.5 420.9 431.2 420.2 432.1 419.8 433.1 419.4 434.0 418.6 434.9 417.6 435.4 416.6 435.8 415.7 436.3 414.8 436.8 413.9 437.4 412.9 438.1 411.9 438.5 410.8 438.7 409.8 439.1 408.7 439.8 407.8 440.5 406.7 441.0 405.6 441.3 404.6 441.7 403.5 442.2 402.6 442.8 401.9 443.3 400.9 443.9 399.9 444.4 398.9 445.1 398.3 445.6 397.3 446.6 396.7 447.0 395.7 447.9 395.2 448.4 394.2 449.2 393.1 449.5 391.6 449.6 390.4 449.8 389.5 450.3 388.5 450.9 387.4 451.6 386.9 452.2 386.4 453.1 386.1 454.5 385.9 455.5 385.8 456.8 385.7 458.2 385.6 459.6 385.5 461.0 385.5 462.4 385.5 463.8 385.5 465.2 385.5 466.6 385.6 468.0 386.4 468.7 387.9 468.8 389.5 468.9 391.1 468.9 392.6 468.8 394.2 468.8 395.7 468.8 397.3 468.8 398.9 468.8 400.4 468.8 402.0 468.7 403.5 468.7 405.1 468.6 406.7 468.5 407.6 468.0 408.4 467.5 409.3 466.8 410.1 466.1 410.8 465.5 411.7 464.7 412.4 464.2 413.4 463.3 414.1 462.9 415.0 461.9 415.5 461.1 416.0 460.4 416.7 459.6 417.4 458.7 417.8 457.7 418.3 456.8 419.0 455.9 419.6 455.0 420.0 454.0 420.7 453.1 421.2 452.3 421.7 451.2 422.0 450.3 422.3 449.3 422.8 448.3 423.3 447.5 423.9 446.6 424.4 445.6 425.4 445.0 426.9 444.9 428.5 445.0 429.9 445.2 431.1 445.2 432.1 445.0 433.2 444.7 434.7 444.4 435.8 444.2 437.3 443.8 438.4 443.5 439.4 443.2 440.9 442.8 442.0 442.4 443.1 441.9 443.9 441.4 444.6 440.9 445.7 440.1 446.4 439.6 447.2 438.9 448.0 438.2 448.8 437.3 449.3 436.3 449.5 435.4 449.4 434.0 448.9 433.1 448.4 432.1 447.9 431.2 447.5 430.3 447.1 429.3 446.5 428.4 445.7 427.5 444.6 427.0 443.6 426.8 442.3 426.5 441.0 426.1 440.5 426.0" stroke-width="0.62"/><path d="M440.5 427.0 438.9 426.9 437.9 427.0 436.3 427.1 434.7 427.0 433.7 427.0 432.2 427.0 431.1 427.1 429.5 427.2 428.5 427.5 427.4 427.9 426.4 428.5 425.4 429.2 424.5 429.8 423.8 430.3 422.8 431.2 422.3 431.7 421.5 432.6 421.0 433.5 420.7 434.5 420.2 435.7 419.6 436.3 418.1 436.7 417.1 437.1 416.0 437.6 415.3 438.2 414.5 439.0 413.4 439.6 412.4 439.8 410.9 440.0 410.0 440.5 409.3 441.2 408.4 441.9 407.7 442.4 406.6 442.8 405.4 443.3 404.1 443.7 403.0 444.1 402.0 444.5 400.9 445.0 400.0 445.6 399.4 446.2 398.4 447.0 397.8 447.5 396.8 448.3 396.1 448.9 395.2 449.6 394.2 450.3 393.1 450.7 392.1 450.8 390.5 451.0 389.5 451.3 388.5 451.9 387.6 452.6 387.2 453.6 386.9 454.5 386.5 455.9 386.2 456.8 385.9 457.8 385.7 459.1 385.7 460.5 385.6 461.9 385.6 463.3 385.6 464.7 385.6 466.1 385.7 467.5 385.9 468.6 387.4 468.7 389.0 468.8 390.5 468.8 392.1 468.8 393.7 468.8 395.2 468.8 396.8 468.7 398.3 468.7 399.9 468.7 401.5 468.6 403.0 468.6 404.6 468.5 405.5 468.0 406.1 467.5 407.2 467.0 408.2 466.4 409.1 465.7 409.8 465.0 410.6 464.3 411.3 463.4 411.9 462.8 412.8 461.9 413.4 461.4 414.2 460.5 414.8 459.6 415.4 458.7 416.0 457.8 416.5 457.1 417.1 456.4 417.8 455.4 418.3 454.5 418.7 453.6 419.3 452.6 420.0 451.7 420.4 450.8 420.7 449.8 421.2 448.8 421.7 447.7 422.1 446.6 422.3 445.6 422.8 444.3 423.3 443.4 424.3 442.8 424.9 443.0 425.9 443.4 427.3 443.8 428.5 444.0 430.1 444.2 431.6 444.2 433.2 443.9 434.2 443.7 435.8 443.3 436.8 443.0 437.9 442.8 439.4 442.4 440.5 442.1 441.5 441.8 442.5 441.2 443.6 440.6 444.5 440.0 445.1 439.5 446.0 438.6 446.6 437.7 447.1 436.8 447.5 435.8 447.8 434.9 447.7 433.8 447.4 432.6 447.0 431.7 446.5 430.7 446.0 429.8 445.5 428.9 444.6 428.0 443.6 427.7 442.3 427.5 441.0 427.1 440.5 427.0" stroke-width="0.65"/><path d="M439.9 427.9 438.4 427.8 436.8 427.9 435.8 428.0 434.2 428.0 432.7 428.0 431.1 428.1 429.5 428.2 428.5 428.4 427.5 428.9 426.4 429.5 425.4 430.3 424.9 430.8 424.0 431.7 423.3 432.3 422.7 433.1 422.1 434.0 421.7 435.3 421.6 436.3 421.3 437.7 420.9 438.6 420.2 439.4 418.7 439.1 417.6 439.0 416.5 439.5 415.9 440.0 415.0 440.7 413.4 441.0 412.4 441.0 411.0 441.4 410.3 442.0 409.3 442.8 408.6 443.3 407.6 443.8 406.4 444.2 405.3 444.7 404.2 445.2 403.0 445.6 402.0 446.0 401.1 446.6 400.4 447.0 399.4 447.8 398.4 448.4 397.6 448.9 396.8 449.5 395.8 450.3 395.1 450.8 394.2 451.4 393.1 451.9 392.1 452.2 390.5 452.2 389.2 452.6 388.5 453.3 387.9 454.2 387.4 455.3 387.0 456.4 386.7 457.3 386.4 458.4 385.9 459.6 385.8 460.5 385.8 461.9 385.7 463.3 385.7 464.7 385.8 466.1 385.9 467.2 386.3 468.5 387.4 468.6 389.0 468.8 390.5 468.8 392.1 468.7 393.7 468.7 395.2 468.7 396.8 468.6 398.3 468.6 399.9 468.5 401.5 468.5 403.0 468.5 403.9 468.0 404.6 467.5 405.6 466.7 406.4 466.1 407.2 465.6 408.2 464.8 408.8 464.3 409.7 463.3 410.3 462.5 410.8 461.8 411.7 461.0 412.4 460.5 413.3 459.6 413.9 458.7 414.3 457.7 415.0 456.9 415.5 456.3 416.2 455.4 416.6 454.5 417.0 453.1 417.3 452.2 417.7 451.2 418.3 450.3 419.1 449.4 419.7 448.8 420.2 448.0 420.7 446.6 420.8 445.6 421.2 444.2 421.4 443.3 421.5 441.9 421.7 441.0 423.3 440.6 424.9 440.9 425.9 441.4 426.5 441.9 427.5 442.4 428.6 442.8 430.1 443.2 431.6 443.2 433.2 443.1 434.4 442.8 435.8 442.4 436.8 442.1 437.9 441.9 439.4 441.5 440.5 441.1 441.5 440.6 442.5 440.1 443.6 439.6 444.2 439.1 445.0 438.2 445.5 437.2 445.8 436.3 446.2 434.9 446.4 434.0 446.2 432.6 445.8 431.7 445.2 430.7 444.6 429.9 444.1 429.3 443.1 428.9 441.5 428.5 440.5 428.1 439.9 427.9" stroke-width="0.68"/><path d="M418.1 442.2 416.5 442.1 415.0 442.3 413.8 442.4 412.4 442.8 411.5 443.3 410.7 443.8 409.4 444.2 408.2 444.6 407.2 445.0 406.1 445.4 405.1 446.0 404.2 446.6 403.3 447.0 402.4 447.5 401.4 448.0 400.4 448.4 399.4 449.0 398.3 449.7 397.4 450.3 396.7 450.8 395.7 451.5 394.9 452.2 394.2 452.8 393.5 453.6 392.9 454.5 391.6 454.6 390.5 454.1 389.4 454.5 388.5 455.3 387.9 456.1 387.5 457.3 387.2 458.2 386.9 459.1 386.5 460.5 386.4 461.7 386.1 462.9 385.9 463.9 385.9 464.7 386.4 466.1 386.8 467.1 387.2 468.0 387.9 468.6 389.5 468.7 391.1 468.7 392.6 468.6 394.2 468.6 395.7 468.6 397.3 468.5 398.3 468.1 399.4 467.8 400.4 467.5 402.0 467.3 403.0 467.0 404.1 466.5 405.1 465.8 405.9 465.2 406.7 464.5 407.4 463.8 408.2 463.0 408.7 462.4 409.4 461.5 410.3 460.5 410.9 460.1 411.9 459.4 412.4 458.7 412.9 457.7 413.4 456.8 414.2 455.9 414.8 455.0 415.2 454.0 415.5 452.6 415.8 451.7 416.1 450.8 416.5 449.5 417.1 448.8 418.0 448.0 418.6 447.4 419.0 446.1 418.8 444.7 418.7 443.3 418.4 442.4 418.1 442.2 M438.4 428.8 436.8 428.7 435.3 428.7 433.7 428.8 432.7 428.9 431.1 429.3 430.1 429.4 428.5 429.5 427.5 429.9 426.4 430.6 425.9 431.2 425.2 432.1 424.4 433.1 423.8 433.7 423.3 434.6 422.9 435.8 422.8 436.8 422.8 437.9 423.3 438.9 424.3 439.4 425.4 439.7 426.7 440.0 427.6 440.5 428.5 441.1 429.5 441.6 430.6 442.0 432.1 442.2 433.7 442.0 434.7 441.8 435.8 441.4 437.3 441.0 438.4 440.7 439.4 440.2 440.4 439.6 441.5 439.2 442.5 438.8 443.5 438.2 444.1 437.4 444.5 436.3 444.7 435.4 445.1 434.0 445.0 432.6 444.3 431.7 443.1 431.2 442.0 431.0 441.0 430.4 440.4 429.8 439.4 429.1 438.4 428.8" stroke-width="0.7"/><path d="M416.0 443.6 414.5 443.4 413.4 443.9 412.6 444.7 411.3 444.9 409.8 444.9 408.3 445.2 407.2 445.5 406.1 446.1 405.3 446.6 404.6 447.1 403.5 447.9 402.5 448.4 401.5 448.7 400.4 449.0 399.4 449.6 398.5 450.3 397.8 450.8 396.8 451.5 395.9 452.2 395.2 452.7 394.6 453.6 394.2 454.5 393.7 455.6 393.0 456.4 392.0 456.4 391.1 455.7 390.0 455.3 389.0 455.7 388.4 456.4 387.9 457.3 387.5 458.7 387.2 459.6 386.9 461.0 386.8 461.9 386.5 463.3 386.3 464.3 386.5 465.2 386.9 466.1 387.4 467.3 387.9 468.5 389.0 468.6 390.5 468.6 392.1 468.6 393.7 468.6 395.2 468.5 396.3 468.2 397.0 467.5 397.8 467.0 399.4 466.9 400.9 466.7 402.0 466.5 403.3 466.1 404.2 465.7 405.1 465.1 406.0 464.3 406.7 463.4 407.2 462.9 408.1 461.9 408.7 461.1 409.3 460.5 410.3 459.7 411.1 459.1 411.9 458.2 412.3 457.3 412.9 456.4 413.4 455.6 413.9 454.6 414.3 453.6 414.5 452.6 415.0 451.3 415.3 450.3 415.6 449.4 416.0 448.0 416.5 447.3 417.2 446.6 417.1 445.2 416.6 444.2 416.0 443.6 M437.3 429.3 435.8 429.1 434.2 429.2 433.2 429.4 431.6 429.8 430.6 430.0 429.0 430.0 428.0 430.3 426.9 430.9 426.3 431.7 425.7 432.6 425.0 433.5 424.3 434.4 423.8 435.4 423.5 436.3 423.6 437.7 424.3 438.6 425.4 439.0 426.4 439.3 427.5 439.6 428.5 440.2 429.5 440.8 430.6 441.2 431.8 441.4 433.2 441.5 434.2 441.3 435.4 441.0 436.8 440.6 437.9 440.3 438.9 439.7 439.8 439.1 440.6 438.6 442.0 438.2 442.8 437.7 443.5 436.8 443.8 435.8 444.1 434.7 444.3 433.5 444.0 432.6 443.1 432.1 441.5 431.7 440.6 431.2 439.9 430.6 438.9 429.8 437.9 429.4 437.3 429.3" stroke-width="0.72"/><path d="M410.8 446.0 409.3 445.7 407.7 445.9 406.7 446.4 405.7 447.0 405.1 447.5 404.1 448.4 403.5 448.9 402.0 449.3 400.9 449.5 399.9 449.9 398.9 450.8 398.3 451.3 397.3 452.0 396.4 452.6 395.7 453.2 395.2 454.0 394.7 455.2 394.2 456.3 393.7 457.3 393.2 458.2 392.1 458.2 391.6 457.6 390.9 456.8 390.0 456.3 389.0 456.6 388.5 457.3 387.9 458.6 387.6 459.6 387.4 460.7 387.3 461.9 387.0 463.3 386.8 464.3 387.0 465.2 387.4 466.2 387.9 467.3 388.5 468.3 389.5 468.5 391.1 468.5 392.6 468.5 394.2 468.5 395.2 468.0 395.7 467.3 396.3 466.5 397.3 466.0 398.9 466.1 399.4 466.1 400.9 466.0 402.5 465.7 403.5 465.3 404.5 464.7 405.1 464.2 405.7 463.3 406.4 462.4 407.2 461.6 407.7 461.0 408.7 460.1 409.4 459.6 410.3 459.0 411.1 458.2 411.7 457.3 412.2 456.4 412.7 455.4 413.0 454.5 413.2 453.1 413.4 452.2 413.9 451.1 414.3 449.8 413.8 448.9 412.9 448.3 412.4 447.4 411.9 446.5 410.8 446.0 M436.8 429.7 435.3 429.5 433.7 429.7 432.7 430.0 431.6 430.3 430.1 430.5 428.5 430.7 427.5 431.2 426.9 431.8 426.4 432.7 425.9 433.6 425.3 434.4 424.7 435.4 424.3 436.3 424.3 437.5 425.0 438.2 426.4 438.6 427.5 439.0 428.5 439.5 429.5 440.0 430.6 440.5 431.6 440.8 433.2 440.9 434.7 440.7 435.8 440.4 437.0 440.0 438.1 439.6 438.9 439.0 439.9 438.3 441.0 437.7 442.0 437.2 442.5 436.7 443.0 435.4 443.3 434.4 443.1 433.2 442.0 432.6 441.0 432.2 440.1 431.7 439.4 431.2 438.4 430.4 437.3 429.9 436.8 429.7" stroke-width="0.75"/><path d="M409.3 446.5 407.7 446.6 406.8 447.0 406.1 447.5 405.3 448.4 404.6 449.1 403.5 449.7 402.5 449.9 400.9 450.1 399.9 450.7 399.4 451.2 398.4 452.2 397.8 452.6 396.8 453.4 396.2 454.0 395.6 455.0 395.1 455.9 394.7 456.8 394.3 458.2 393.9 459.1 393.4 460.1 392.4 460.1 391.6 459.2 391.1 458.5 390.5 457.7 389.0 457.7 388.5 458.6 388.1 459.6 387.9 460.5 387.8 461.9 387.5 463.3 387.4 464.3 387.6 465.2 388.0 466.1 388.5 467.1 389.1 468.0 390.0 468.5 391.1 468.3 392.1 467.7 393.1 467.2 394.0 466.6 394.7 465.9 395.7 465.3 396.8 465.1 397.9 465.2 399.4 465.5 400.9 465.4 402.0 465.1 403.0 464.7 404.1 464.1 404.8 463.3 405.3 462.4 405.9 461.5 406.7 460.7 407.4 460.1 408.2 459.5 409.3 458.9 410.2 458.2 410.8 457.5 411.3 456.6 411.9 455.4 412.1 454.5 412.1 453.1 412.1 451.7 412.2 450.3 411.8 449.4 411.3 448.4 410.7 447.5 409.8 446.7 409.3 446.5 M436.8 430.2 435.3 429.9 433.7 430.1 432.7 430.5 431.6 430.9 430.1 431.1 428.9 431.2 428.0 431.7 427.3 432.6 426.8 433.5 426.3 434.4 425.8 435.4 425.2 436.3 425.4 437.3 426.4 437.9 427.5 438.3 428.5 438.9 429.5 439.4 430.6 439.9 431.6 440.2 433.2 440.4 434.7 440.2 435.8 439.9 437.0 439.6 437.9 439.1 438.9 438.4 439.7 437.7 440.5 437.1 441.2 436.3 441.6 435.4 441.7 434.0 441.0 433.2 440.2 432.6 439.4 432.1 438.4 431.3 437.7 430.7 436.8 430.2" stroke-width="0.78"/><path d="M390.0 458.8 389.0 459.1 388.5 460.5 388.5 461.9 388.3 462.9 388.1 464.3 388.5 465.7 389.0 466.5 389.6 467.1 390.6 467.1 391.6 466.2 392.0 465.2 391.6 463.8 391.2 462.9 391.1 461.5 391.1 460.3 390.5 459.3 390.0 458.8 M408.7 447.8 407.4 448.0 406.7 448.7 405.9 449.4 405.1 449.9 404.1 450.3 402.5 450.7 401.5 450.8 400.4 451.2 399.4 452.2 398.9 452.8 398.0 453.6 397.3 454.1 396.5 455.0 395.8 455.9 395.3 456.8 395.1 457.7 394.9 459.1 394.7 460.2 394.6 461.5 394.7 462.5 395.2 463.6 396.3 464.2 397.3 464.4 398.9 464.7 399.9 464.8 400.9 464.7 402.2 464.3 403.1 463.8 404.1 462.9 404.6 462.0 405.1 461.1 405.6 460.5 406.7 459.7 407.5 459.1 408.2 458.7 409.3 458.0 410.1 457.3 410.7 456.4 411.0 455.4 411.2 454.0 411.1 452.6 411.0 451.2 410.8 450.3 410.3 449.4 409.4 448.4 408.7 447.8 M436.3 430.6 434.7 430.4 433.5 430.7 432.5 431.2 431.1 431.6 430.1 431.7 428.7 432.1 428.0 433.1 427.7 434.0 427.4 434.9 427.0 436.3 427.5 437.3 428.5 438.1 429.3 438.6 430.3 439.1 431.5 439.6 432.7 439.9 434.2 439.8 435.3 439.6 436.8 439.1 437.7 438.6 438.4 438.1 439.2 437.2 439.9 436.3 440.1 435.4 440.1 434.0 439.4 433.1 438.9 432.6 437.9 431.7 437.3 431.2 436.3 430.6" stroke-width="0.8"/><path d="M389.5 464.1 389.5 464.7 389.5 464.1 M408.7 450.3 407.4 450.3 406.1 450.5 405.1 450.8 404.1 451.2 402.5 451.6 401.4 451.7 400.4 452.2 399.6 453.1 398.9 453.8 398.1 454.5 397.3 455.1 396.5 455.9 396.0 456.8 395.7 458.2 395.6 459.1 395.5 460.5 395.6 461.9 396.1 462.9 396.8 463.3 398.3 463.7 399.4 463.9 400.9 463.9 402.0 463.5 402.9 462.9 403.5 462.2 404.1 461.3 404.6 460.5 405.6 459.6 406.3 459.1 407.2 458.5 408.2 457.8 408.9 457.3 409.7 456.4 410.1 455.4 410.2 454.0 410.1 452.6 409.8 451.3 409.3 450.5 408.7 450.3 M435.8 431.0 434.2 431.0 433.2 431.5 432.1 432.0 431.1 432.2 429.6 432.6 429.0 433.2 428.6 434.4 428.7 435.8 429.0 437.0 429.5 437.8 430.6 438.5 431.6 439.0 432.7 439.3 434.2 439.3 435.3 439.1 436.6 438.6 437.4 438.2 438.4 437.2 438.9 436.4 439.2 435.4 439.0 434.0 438.4 433.1 437.9 432.6 436.9 431.7 436.3 431.2 435.8 431.0" stroke-width="0.82"/><path d="M407.7 451.6 406.1 451.5 405.1 451.8 404.1 452.2 402.5 452.6 401.5 452.7 400.4 453.4 399.7 454.0 398.9 454.8 397.9 455.4 397.3 456.0 396.7 456.8 396.5 458.2 396.5 459.6 396.4 461.0 396.8 462.1 397.8 462.6 399.4 462.7 400.9 462.7 402.0 462.3 402.9 461.5 403.5 460.5 404.1 460.0 405.1 459.2 405.8 458.7 406.7 458.0 407.6 457.3 408.2 456.6 408.7 455.9 409.2 454.5 409.1 453.1 408.7 452.2 407.7 451.6 M435.8 431.6 434.2 431.6 433.3 432.1 432.5 432.6 431.1 433.0 430.1 433.5 429.6 434.4 429.8 435.8 430.2 436.8 430.9 437.7 431.6 438.2 432.8 438.6 434.2 438.7 435.3 438.5 436.3 438.1 437.3 437.4 437.9 436.7 438.3 435.4 438.1 434.0 437.4 433.1 436.8 432.4 435.9 431.7 435.8 431.6" stroke-width="0.85"/><path d="M407.2 452.6 405.6 452.5 404.6 452.9 403.5 453.3 402.2 453.6 400.9 454.0 400.3 454.5 399.4 455.2 398.5 455.9 397.8 456.6 397.5 457.7 397.8 459.1 397.9 460.1 398.9 460.8 399.9 460.4 401.1 460.1 402.5 459.6 403.5 459.2 404.4 458.7 405.1 458.2 406.1 457.3 406.7 456.8 407.4 455.9 408.0 455.0 408.1 453.6 407.3 452.6 407.2 452.6 M435.8 432.3 434.2 432.3 433.2 433.0 432.1 433.5 431.2 434.0 430.6 434.9 431.1 436.3 431.6 436.9 432.7 437.6 433.7 437.8 435.0 437.7 436.2 437.2 436.8 436.7 437.3 435.6 437.4 434.4 436.9 433.5 436.3 432.7 435.8 432.3" stroke-width="0.88"/><path d="M406.7 454.0 405.1 453.9 404.1 454.2 402.5 454.4 401.5 454.6 400.4 455.3 399.7 455.9 399.0 456.8 399.4 457.7 400.9 458.1 402.5 458.2 403.8 457.7 404.6 457.1 405.2 456.4 406.1 455.4 406.7 454.6 406.7 454.0 M435.3 433.0 434.2 433.2 433.2 434.0 432.6 434.4 432.5 435.8 433.3 436.3 434.7 436.5 435.8 436.0 436.3 435.2 436.3 434.3 435.8 433.4 435.3 433.0" stroke-width="0.9"/><path d="M403.0 455.8 401.5 455.8 401.4 456.8 402.2 456.8 403.0 456.1 403.0 455.8" stroke-width="0.93"/></g>
<path d="M416.0 423.3 L423.8 410.7 L434.0 407.9 L450.3 407.9 L461.3 415.6 L461.3 430.3 L452.7 448.4 L432.4 443.5 Z" fill="none" stroke="#808080" stroke-width="0.7"/>
<ellipse cx="414.9" cy="417.0" rx="3" ry="2.4" fill="none" stroke="#444" stroke-width="0.5"/>
<clipPath id="c6"><rect x="288.90" y="480.60" width="78.40" height="69.20"/></clipPath>
<g clip-path="url(#c6)" fill="none" stroke="#111" stroke-linejoin="round"><path d="M338.3 512.2 337.2 512.2 335.7 512.5 334.6 513.0 333.6 513.4 332.5 513.7 331.1 514.0 330.1 514.5 329.3 515.0 328.4 515.5 327.3 515.9 325.7 516.0 324.2 516.1 323.0 516.4 321.6 516.8 320.5 517.0 319.0 517.3 317.9 517.5 316.3 517.5 315.1 517.7 314.0 518.2 312.7 518.4 311.6 518.1 310.6 517.5 309.5 517.0 308.5 516.5 307.5 516.1 306.4 515.8 305.2 515.4 303.8 515.1 302.2 515.0 301.2 514.9 299.9 514.5 298.6 514.2 297.5 514.0 296.0 513.7 294.9 513.6 293.9 513.9 292.8 514.3 291.8 514.7 290.7 515.0 289.4 515.4 289.1 516.4 289.0 517.7 288.9 519.1 288.8 520.5 288.8 521.9 288.7 523.3 288.7 524.7 288.7 526.0 288.7 527.4 288.7 528.8 288.7 530.2 288.7 531.6 288.7 533.0 288.7 534.3 288.7 535.7 288.7 537.1 288.7 538.5 288.7 539.9 288.7 541.3 288.7 542.6 288.7 544.0 288.7 545.4 288.7 546.8 288.7 548.2 288.7 549.6 290.2 550.0 291.8 550.0 293.3 550.0 294.9 550.0 296.5 550.0 298.0 550.0 299.6 550.0 301.2 550.0 302.8 550.0 304.3 550.0 305.9 549.9 307.5 549.9 309.0 549.8 310.6 549.8 312.2 549.7 313.2 549.3 313.8 548.6 314.8 547.8 315.3 547.3 315.9 546.3 316.4 545.4 317.1 544.5 317.9 543.8 319.0 543.3 320.0 543.1 321.6 542.7 322.6 542.2 323.4 541.7 324.2 541.3 325.7 540.9 326.8 540.8 328.4 540.7 329.9 540.4 331.0 540.1 332.0 539.8 333.1 539.4 334.2 539.0 335.6 538.5 336.7 538.3 338.3 538.1 339.3 537.6 340.0 537.1 341.4 536.8 342.5 536.6 343.6 536.2 344.6 535.3 345.1 534.5 345.6 533.8 346.6 533.0 347.2 532.5 348.2 531.7 349.0 531.1 349.8 530.4 350.7 529.7 351.4 529.2 351.9 528.3 352.4 527.0 352.8 526.0 353.3 525.1 353.7 524.2 353.4 523.3 352.9 522.4 352.3 521.4 351.6 520.5 350.8 519.6 350.3 518.9 349.8 517.9 349.3 517.1 348.2 516.4 347.2 515.9 346.7 515.4 346.0 514.5 345.1 513.8 344.0 513.5 342.5 513.1 341.4 512.9 340.4 512.6 338.8 512.2 338.3 512.2" stroke-width="0.55"/><path d="M341.4 514.0 339.9 513.9 338.3 513.6 336.7 513.7 335.7 514.1 334.6 514.6 333.1 515.0 332.0 515.1 330.8 515.4 329.9 516.0 329.0 516.8 328.1 517.3 326.8 517.4 325.2 517.4 323.9 517.7 322.6 518.2 321.6 518.3 320.0 518.5 319.0 518.8 317.8 519.1 316.3 519.2 314.8 519.5 313.7 519.8 312.2 519.6 311.1 519.1 310.4 518.7 309.5 518.2 308.3 517.7 306.9 517.3 305.9 517.1 304.7 516.8 303.6 516.4 302.2 516.1 301.0 515.9 299.6 515.5 298.6 515.2 297.0 515.1 295.4 515.2 294.4 515.5 293.2 515.9 291.9 516.4 290.8 516.8 290.0 517.3 289.2 517.9 289.0 519.1 288.9 520.5 288.8 521.9 288.8 523.3 288.7 524.7 288.7 526.0 288.7 527.4 288.7 528.8 288.7 530.2 288.7 531.6 288.7 533.0 288.7 534.3 288.7 535.7 288.7 537.1 288.7 538.5 288.7 539.9 288.7 541.3 288.7 542.6 288.7 544.0 288.7 545.4 288.7 546.8 288.7 548.2 288.7 549.6 290.2 550.0 291.8 550.0 293.3 550.0 294.9 550.0 296.5 550.0 298.0 550.0 299.6 550.0 301.2 549.9 302.8 549.9 304.3 549.9 305.9 549.9 307.5 549.8 309.0 549.7 310.6 549.6 311.6 549.1 312.2 548.6 313.2 547.7 313.7 547.3 314.5 546.3 315.0 545.4 315.4 544.5 315.9 543.6 316.8 542.6 317.4 542.1 318.4 541.6 320.0 541.5 321.6 541.3 322.5 540.8 323.3 540.3 324.3 539.9 325.7 539.6 327.3 539.7 328.9 539.4 329.9 539.1 331.0 538.8 332.2 538.5 333.4 538.0 334.5 537.6 335.6 537.1 336.4 536.7 337.2 536.0 338.3 535.5 339.9 535.4 341.4 535.5 342.5 535.3 343.5 534.5 344.0 533.8 344.8 533.0 345.6 532.3 346.6 531.6 347.2 531.1 348.0 530.2 348.6 529.3 349.3 528.4 349.8 527.8 350.4 527.0 350.7 525.6 351.0 524.7 351.2 523.3 350.8 521.9 350.3 521.0 349.8 520.3 349.3 519.5 348.7 518.7 347.7 517.7 346.8 517.3 346.1 516.8 345.2 515.9 344.6 515.2 343.5 514.5 342.5 514.2 341.4 514.0" stroke-width="0.58"/><path d="M342.5 515.4 340.9 515.2 339.3 515.2 337.8 515.0 336.3 515.4 335.5 515.9 334.6 516.5 333.1 516.7 331.5 516.7 330.6 517.3 329.9 517.9 328.9 518.6 327.8 518.9 326.3 518.9 324.7 519.1 323.7 519.6 322.6 520.0 321.6 520.2 320.0 520.4 319.0 520.6 317.4 520.7 315.8 521.0 314.8 521.2 313.2 521.3 311.9 521.0 311.0 520.5 310.1 520.0 309.0 519.6 307.5 519.2 306.4 519.0 305.4 518.6 304.3 518.2 303.3 517.6 302.2 517.2 300.7 517.0 299.6 516.7 298.0 516.4 296.5 516.4 294.9 516.8 293.9 517.3 293.2 517.7 292.3 518.2 291.2 518.7 289.9 519.1 289.1 519.6 289.0 521.0 288.9 522.4 288.8 523.7 288.8 525.1 288.7 526.5 288.7 527.9 288.7 529.3 288.7 530.7 288.7 532.0 288.7 533.4 288.7 534.8 288.7 536.2 288.7 537.6 288.7 539.0 288.7 540.3 288.7 541.7 288.7 543.1 288.7 544.5 288.7 545.9 288.7 547.3 288.8 548.6 289.2 549.9 290.7 550.0 292.3 550.0 293.9 550.0 295.4 549.9 297.0 549.9 298.6 549.9 300.1 549.9 301.7 549.9 303.3 549.9 304.8 549.9 306.4 549.8 308.0 549.7 309.1 549.6 309.9 548.6 310.6 548.1 311.5 547.3 312.2 546.6 312.7 545.9 313.2 544.6 313.7 543.6 314.2 542.9 315.1 542.2 315.8 541.5 316.5 540.8 317.4 540.1 318.4 539.6 320.0 539.6 321.6 539.5 322.6 539.0 323.7 538.6 324.7 538.4 326.3 538.3 327.8 538.3 328.9 538.0 330.0 537.6 331.5 537.2 332.5 536.8 333.6 536.5 334.6 536.1 335.7 535.5 336.6 534.8 337.2 534.3 338.8 533.9 340.4 533.9 341.4 533.8 342.5 533.0 343.0 532.5 344.0 531.6 345.1 531.1 345.8 530.7 346.6 529.7 347.0 528.8 347.3 527.9 347.8 527.0 348.2 525.6 348.5 524.7 348.8 523.7 349.2 522.4 348.7 521.2 348.2 520.3 347.7 519.5 346.8 518.7 346.1 518.2 345.1 517.5 344.4 516.8 343.5 515.9 342.6 515.4 342.5 515.4" stroke-width="0.6"/><path d="M342.0 516.7 340.4 516.5 338.8 516.5 337.2 516.7 336.4 517.3 335.7 518.2 335.2 518.7 333.6 519.0 332.0 518.8 330.9 519.1 329.9 519.6 328.9 520.2 327.8 520.6 326.3 520.8 325.2 521.0 323.7 521.3 322.3 521.4 321.0 521.7 320.0 522.0 318.4 522.2 317.2 522.4 315.8 522.7 314.8 523.1 313.7 523.3 312.2 523.4 311.1 523.0 310.2 522.4 309.3 521.9 308.0 521.6 306.9 521.4 305.9 520.8 304.9 520.0 304.2 519.6 303.3 519.0 302.2 518.5 301.1 518.2 299.6 517.9 298.0 517.8 296.5 518.0 295.4 518.2 294.2 518.7 293.3 519.1 292.2 519.6 290.7 520.0 289.7 520.4 289.1 521.0 289.0 522.4 288.9 523.7 288.8 525.1 288.8 526.5 288.7 527.9 288.7 529.3 288.7 530.7 288.7 532.0 288.7 533.4 288.7 534.8 288.7 536.2 288.7 537.6 288.7 539.0 288.7 540.3 288.7 541.7 288.7 543.1 288.7 544.5 288.7 545.9 288.8 547.3 288.8 548.6 289.2 549.8 290.7 549.9 292.3 550.0 293.9 550.0 295.4 549.9 297.0 549.9 298.6 549.9 300.1 549.9 301.7 549.8 303.3 549.8 304.8 549.8 306.4 549.7 307.6 549.6 308.3 548.6 309.0 547.8 309.5 547.1 310.2 546.3 310.7 545.4 311.1 544.5 311.7 543.6 312.4 542.6 313.2 541.8 313.9 541.3 314.8 540.5 315.5 539.9 316.3 539.2 317.4 538.5 318.4 538.0 319.5 537.6 320.5 537.3 322.1 537.1 323.7 537.2 324.9 537.1 326.3 536.8 327.3 536.3 328.3 535.7 329.1 535.3 330.1 534.8 331.5 534.6 333.1 534.8 334.6 534.6 335.7 533.9 336.2 533.4 337.2 532.5 338.1 532.0 339.0 531.6 339.9 531.0 340.9 530.3 342.0 529.9 343.0 529.4 343.8 528.8 344.6 528.0 345.1 527.3 345.7 526.5 346.3 525.6 346.7 524.7 346.9 523.3 346.8 521.9 346.5 521.0 346.0 520.0 345.1 519.1 344.5 518.7 343.5 517.8 343.0 517.3 342.0 516.7" stroke-width="0.62"/><path d="M340.4 518.1 338.8 518.0 337.8 518.4 337.1 519.1 336.2 520.0 335.5 520.5 334.6 521.1 333.8 521.9 333.1 522.8 332.0 523.2 331.0 522.7 329.9 522.0 328.4 522.2 327.3 522.4 325.7 522.6 324.7 522.9 323.1 523.0 321.6 523.2 320.5 523.5 319.3 523.7 317.9 523.9 316.4 524.2 315.3 524.5 314.2 524.8 312.7 525.1 311.6 525.2 310.3 525.1 309.1 524.7 308.4 524.2 307.5 523.5 306.4 522.8 305.9 522.4 304.9 521.4 304.3 521.0 303.3 520.3 302.2 519.8 301.2 519.4 300.1 519.1 298.6 519.0 297.5 519.1 296.0 519.4 294.9 519.7 293.9 520.1 292.8 520.6 291.5 521.0 290.3 521.4 289.6 521.9 289.1 522.8 289.0 524.2 288.9 525.6 288.8 527.0 288.8 528.3 288.7 529.7 288.7 531.1 288.7 532.5 288.7 533.9 288.7 535.3 288.7 536.7 288.7 538.0 288.7 539.4 288.7 540.8 288.7 542.2 288.7 543.6 288.7 545.0 288.8 546.3 288.9 547.7 288.9 549.1 289.7 549.8 291.3 549.9 292.8 549.9 294.4 549.9 296.0 549.8 297.5 549.8 299.1 549.8 300.7 549.8 302.2 549.7 303.8 549.7 305.4 549.6 306.3 549.1 306.9 548.4 307.5 547.7 308.2 546.8 308.7 545.9 309.2 545.0 309.6 544.0 310.1 543.1 310.8 542.2 311.6 541.3 312.2 540.7 313.2 540.0 314.0 539.4 314.8 538.9 315.8 538.0 316.3 537.5 317.3 536.7 318.0 536.2 319.5 535.8 320.5 535.7 321.6 535.8 323.1 535.9 324.3 535.7 325.2 535.2 326.2 534.3 327.3 533.9 328.4 533.6 329.4 533.2 330.5 532.9 332.0 532.6 333.6 532.5 334.6 532.4 335.7 531.6 336.2 531.1 337.2 530.3 338.3 529.7 339.1 529.3 340.1 528.8 341.0 528.3 342.0 527.7 342.7 527.0 343.5 526.2 344.1 525.6 344.6 524.7 344.5 523.7 344.0 522.8 343.4 521.9 342.5 521.0 341.7 520.5 341.4 519.6 340.9 518.4 340.4 518.1" stroke-width="0.65"/><path d="M300.1 520.4 298.6 520.2 297.0 520.4 296.0 520.5 294.7 521.0 293.9 521.5 292.8 521.9 291.3 522.4 290.5 522.8 289.7 523.7 289.2 524.4 289.0 525.6 288.9 527.0 288.8 528.3 288.8 529.7 288.8 531.1 288.8 532.5 288.7 533.9 288.7 535.3 288.7 536.7 288.7 538.0 288.7 539.4 288.7 540.8 288.7 542.2 288.8 543.6 288.8 545.0 288.8 546.3 289.0 547.7 289.1 549.1 289.7 549.7 291.3 549.9 292.8 549.9 294.4 549.8 296.0 549.7 297.5 549.6 299.1 549.6 300.7 549.6 302.2 549.6 303.3 549.1 304.1 548.6 304.9 548.2 305.9 547.4 306.5 546.8 307.2 545.9 307.6 545.0 308.0 544.0 308.5 543.0 309.0 542.1 309.6 541.3 310.2 540.3 310.8 539.4 311.6 538.8 312.7 538.3 313.7 537.6 314.2 536.8 314.7 535.7 315.0 534.8 315.6 533.9 316.9 533.7 317.9 534.2 319.0 534.5 320.5 534.6 322.1 534.6 323.3 534.3 324.2 533.7 325.2 533.0 326.3 532.6 327.3 532.3 328.4 531.8 329.4 531.4 330.5 531.1 332.0 530.8 333.6 530.7 334.6 530.3 335.4 529.7 336.0 528.8 335.7 527.6 335.1 527.0 335.2 525.9 336.2 525.5 337.3 525.1 337.8 524.2 337.8 522.9 336.7 522.5 335.7 523.3 335.2 524.1 334.6 524.8 333.5 525.1 332.0 525.4 330.5 525.5 329.4 525.1 328.4 524.4 327.3 524.1 326.3 524.4 325.2 524.8 324.2 525.2 322.6 525.3 321.0 525.2 319.5 525.3 317.9 525.5 316.9 525.8 315.8 526.1 314.2 526.4 313.2 526.6 311.6 526.8 310.6 527.1 309.0 527.0 308.2 526.5 307.5 525.9 306.7 525.1 305.9 524.2 305.4 523.7 304.7 522.8 303.8 522.0 302.9 521.4 301.7 521.0 300.7 520.6 300.1 520.4" stroke-width="0.68"/><path d="M298.6 521.8 297.0 521.6 295.5 521.9 294.7 522.4 293.9 522.8 292.8 523.3 291.6 523.7 290.7 524.4 289.9 525.1 289.2 525.9 289.0 527.0 288.9 528.3 288.9 529.7 288.8 531.1 288.8 532.5 288.8 533.9 288.8 535.3 288.8 536.7 288.8 538.0 288.8 539.4 288.8 540.8 288.8 542.2 288.8 543.6 288.8 545.0 289.0 546.3 289.2 547.7 289.5 548.6 289.8 549.6 291.3 549.8 292.8 549.8 294.4 549.7 295.8 549.6 296.5 549.0 298.0 548.8 299.1 548.6 300.7 548.3 301.7 547.9 302.8 547.4 303.8 546.9 304.8 546.3 305.4 545.9 305.9 545.0 306.4 543.8 306.9 542.9 307.5 542.2 308.1 541.3 308.7 540.3 309.1 539.4 309.6 538.5 310.3 537.6 311.1 536.8 311.6 536.0 311.8 534.8 311.7 533.4 312.0 532.0 312.7 531.1 313.2 530.7 314.0 529.7 313.2 529.2 311.8 529.3 311.1 529.9 310.1 530.6 309.5 530.7 308.5 530.1 307.9 529.3 307.5 528.3 306.9 527.4 306.1 526.5 305.4 525.7 304.6 525.1 303.8 524.5 302.8 523.8 301.7 523.4 300.7 522.9 299.7 522.4 298.8 521.9 298.6 521.8 M326.3 527.4 325.2 527.9 324.2 527.9 323.1 527.6 322.1 527.3 320.5 527.2 319.5 527.7 318.8 528.3 317.9 529.3 317.0 529.7 316.1 530.2 316.9 530.8 317.9 531.5 318.5 532.0 319.5 532.7 320.9 533.0 321.6 533.0 323.0 532.5 323.7 532.0 324.7 531.3 325.4 530.7 326.0 529.7 326.8 529.0 327.2 527.9 326.3 527.4" stroke-width="0.7"/><path d="M297.0 522.3 296.0 522.4 294.9 522.9 293.9 523.5 292.8 524.0 291.8 524.4 290.8 525.1 290.2 525.6 289.3 526.5 289.1 527.4 289.0 528.8 288.9 530.2 288.9 531.6 288.9 533.0 288.8 534.3 288.8 535.7 288.8 537.1 288.8 538.5 288.8 539.9 288.8 541.3 288.9 542.6 288.9 544.0 288.9 545.4 289.1 546.8 289.6 547.7 289.9 548.6 290.2 549.6 291.8 549.8 293.3 549.8 294.9 549.6 295.4 549.1 296.5 548.4 297.5 548.2 299.1 547.9 300.1 547.5 301.2 547.1 302.2 546.8 303.3 546.3 304.3 545.7 304.9 545.0 305.4 544.0 305.9 543.0 306.4 542.2 307.3 541.3 308.0 540.3 308.4 539.4 308.7 538.5 309.2 537.6 309.9 536.7 310.4 535.7 310.3 534.3 309.9 533.4 309.2 532.5 308.5 531.7 307.9 531.1 307.3 530.2 306.8 529.3 306.4 528.3 305.9 527.4 305.0 526.5 304.3 526.0 303.3 525.4 302.2 525.0 301.2 524.7 300.1 524.2 299.1 523.4 298.3 522.8 297.2 522.4 297.0 522.3 M321.6 528.7 320.5 529.0 320.2 530.2 321.6 530.5 322.5 529.7 321.9 528.8 321.6 528.7" stroke-width="0.72"/><path d="M297.0 523.1 295.5 523.3 294.6 523.7 293.8 524.2 292.8 524.7 291.8 525.1 290.7 525.8 290.0 526.5 289.3 527.4 289.1 528.3 289.0 529.7 289.0 531.1 288.9 532.5 288.9 533.9 288.8 535.3 288.9 536.7 288.9 538.0 288.9 539.4 288.9 540.8 288.9 542.2 288.9 543.6 289.0 545.0 289.1 546.3 289.7 547.3 290.2 548.2 290.5 549.1 291.3 549.7 292.8 549.8 294.4 549.6 294.9 549.0 295.7 548.2 296.7 547.7 298.0 547.5 299.1 547.2 300.2 546.8 301.6 546.3 302.7 545.9 303.4 545.4 304.2 544.5 304.7 543.6 305.2 542.6 305.9 541.7 306.4 541.2 307.2 540.3 307.7 539.4 307.9 538.0 308.1 537.1 308.8 536.2 309.2 535.3 308.9 534.3 308.3 533.4 307.8 532.5 307.2 531.6 306.6 530.7 306.0 529.7 305.6 528.8 305.1 527.9 304.3 527.1 303.3 526.5 302.4 526.0 301.2 525.6 300.1 525.2 299.1 524.7 298.6 524.2 297.5 523.3 297.0 523.1" stroke-width="0.75"/><path d="M297.0 524.0 295.4 524.0 294.4 524.6 293.3 525.1 292.3 525.6 291.4 526.0 290.7 526.5 290.0 527.4 289.3 528.3 289.1 529.3 289.0 530.7 289.0 532.0 288.9 533.4 288.9 534.8 288.9 536.2 288.9 537.6 288.9 539.0 288.9 540.3 288.9 541.7 289.0 543.1 289.0 544.5 289.1 545.9 289.7 546.7 290.2 547.5 290.7 548.6 291.1 549.6 292.3 549.7 293.9 549.6 294.4 549.0 294.9 548.2 296.0 547.3 297.0 547.0 298.2 546.8 299.6 546.4 300.7 546.1 301.7 545.7 302.8 545.0 303.3 544.5 303.9 543.6 304.5 542.6 305.0 541.7 305.7 540.8 306.4 540.1 306.9 539.0 306.6 537.6 306.8 536.2 307.4 535.3 307.5 534.6 307.1 533.4 306.7 532.5 306.2 531.6 305.6 530.7 305.0 529.7 304.5 528.8 303.8 528.1 302.9 527.4 302.2 526.9 301.2 526.4 300.0 526.0 298.8 525.6 298.0 525.0 297.2 524.2 297.0 524.0" stroke-width="0.78"/><path d="M296.5 525.0 294.9 525.1 293.9 525.6 292.9 526.0 291.9 526.5 291.2 527.0 290.4 527.9 289.8 528.8 289.3 529.7 289.1 530.7 289.1 532.0 289.0 533.4 289.0 534.8 289.0 536.2 289.0 537.6 289.0 539.0 289.0 540.3 289.0 541.7 289.0 543.1 289.1 544.5 289.2 545.4 289.8 546.3 290.5 547.3 291.0 548.2 291.4 549.1 292.3 549.6 293.4 549.6 294.1 548.6 294.6 547.7 295.4 546.9 296.5 546.4 297.5 546.1 299.1 545.9 300.1 545.6 301.2 545.3 302.2 544.6 302.8 544.0 303.5 543.1 304.0 542.2 304.5 541.3 305.0 540.3 305.7 539.4 305.8 538.0 305.7 536.7 305.9 535.7 306.3 534.3 305.9 533.0 305.5 532.0 304.9 531.1 304.3 530.3 303.8 529.5 303.1 528.8 302.2 528.0 301.4 527.4 300.4 527.0 299.1 526.6 298.0 526.2 297.2 525.6 296.5 525.0" stroke-width="0.8"/><path d="M296.0 526.5 294.4 526.5 293.3 526.9 292.3 527.3 291.6 527.9 290.8 528.8 290.2 529.5 289.7 530.3 289.3 531.6 289.1 532.5 289.1 533.9 289.0 535.3 289.0 536.7 289.1 538.0 289.1 539.4 289.1 540.8 289.1 542.2 289.1 543.6 289.2 544.5 289.7 545.5 290.2 546.3 290.9 547.3 291.5 548.2 292.3 549.1 292.8 549.1 293.7 548.2 294.3 547.3 294.9 546.5 295.8 545.9 296.8 545.4 298.0 545.2 299.6 545.1 300.7 544.8 301.7 544.2 302.3 543.6 303.1 542.6 303.6 541.7 303.9 540.8 304.4 539.9 305.0 539.0 305.0 537.6 305.0 536.2 305.2 534.8 305.2 533.4 304.8 532.5 304.3 531.6 303.6 530.7 302.9 529.7 302.2 529.0 301.4 528.3 300.7 527.9 299.1 527.5 298.0 527.3 296.9 527.0 296.0 526.5" stroke-width="0.82"/><path d="M299.6 528.3 298.0 528.1 296.5 528.1 295.2 528.3 293.9 528.5 292.6 528.8 291.7 529.3 290.7 530.1 290.2 530.9 289.7 532.0 289.4 533.0 289.2 533.9 289.1 535.3 289.1 536.7 289.2 538.0 289.2 539.0 289.2 540.3 289.3 541.7 289.4 543.1 289.7 544.5 290.1 545.4 290.7 546.3 291.3 547.0 291.9 547.7 293.2 547.7 293.9 546.9 294.4 546.2 295.1 545.4 296.0 544.8 297.0 544.4 298.6 544.4 300.1 544.2 301.2 543.7 301.9 543.1 302.6 542.2 303.1 541.3 303.4 540.3 303.8 539.4 304.3 538.1 304.3 537.4 304.2 536.2 304.2 534.8 304.2 533.4 303.8 532.3 303.3 531.5 302.6 530.7 301.9 529.7 301.2 529.1 300.1 528.5 299.6 528.3" stroke-width="0.85"/><path d="M299.6 529.1 298.0 528.9 296.5 529.0 295.4 529.3 293.9 529.6 292.8 529.8 291.8 530.3 290.9 531.1 290.4 532.0 290.0 533.0 289.6 533.9 289.4 535.3 289.4 536.7 289.5 538.0 289.6 539.4 289.6 540.8 289.7 541.7 289.8 543.1 290.2 544.5 290.6 545.4 291.3 546.2 291.9 546.8 293.0 546.8 293.8 545.9 294.4 545.1 294.9 544.5 296.0 543.7 297.0 543.4 298.6 543.4 300.1 543.2 301.2 542.7 301.7 542.2 302.3 541.3 302.7 539.9 303.1 539.0 303.5 538.0 303.5 536.7 303.3 535.6 303.1 534.3 303.0 533.0 302.6 532.0 301.9 531.1 301.2 530.2 300.7 529.7 299.6 529.1" stroke-width="0.88"/><path d="M298.6 529.7 297.0 529.7 296.0 529.8 294.6 530.2 293.3 530.5 292.3 530.9 291.5 531.6 290.9 532.5 290.4 533.4 290.0 534.3 289.8 535.7 289.8 537.1 290.0 538.5 290.0 539.9 290.1 541.3 290.2 542.2 290.5 543.6 290.8 544.5 291.4 545.4 292.3 545.9 293.0 545.4 293.7 544.5 294.4 543.6 294.9 543.1 296.0 542.6 297.0 542.2 298.6 542.0 300.1 541.8 301.0 541.3 301.4 540.3 301.8 539.4 302.2 538.4 302.4 537.1 302.2 536.2 301.7 534.9 301.6 533.9 301.5 532.5 301.0 531.6 300.4 530.7 299.6 530.1 298.6 529.7" stroke-width="0.9"/><path d="M298.6 530.6 297.0 530.3 295.4 530.6 294.4 531.0 293.3 531.4 292.3 532.0 291.8 532.7 291.2 533.4 290.6 534.3 290.2 535.7 290.3 537.1 290.4 538.5 290.5 539.9 290.7 541.3 290.8 542.2 291.2 543.6 291.8 544.2 292.8 543.7 293.3 542.8 293.9 542.1 294.9 541.6 296.3 541.3 297.5 540.9 298.6 540.6 299.6 540.1 300.4 539.4 301.0 538.5 301.0 537.1 300.7 536.2 300.3 534.8 300.1 533.5 299.9 532.5 299.5 531.6 298.6 530.7 298.6 530.6" stroke-width="0.93"/><path d="M297.5 531.4 296.0 531.2 294.9 531.7 294.1 532.5 293.5 533.4 292.3 533.8 291.5 534.3 290.9 535.3 290.7 536.2 290.7 537.5 290.9 538.5 291.1 539.9 291.3 540.8 292.3 541.6 293.3 541.0 294.4 540.5 295.4 540.3 297.0 539.9 298.0 539.6 299.1 539.0 299.7 538.5 299.8 537.1 299.3 536.2 298.9 535.3 298.7 533.9 298.5 533.0 298.0 531.9 297.5 531.4" stroke-width="0.95"/><path d="M293.9 535.1 292.3 535.0 291.4 535.7 291.2 536.7 291.3 537.8 291.5 539.0 292.0 539.9 293.3 539.9 294.3 539.4 295.1 539.0 296.0 538.3 296.7 537.6 296.4 536.7 295.6 535.7 294.4 535.3 293.9 535.1" stroke-width="0.98"/><path d="M293.3 536.2 292.2 536.2 291.9 537.6 292.3 538.6 293.6 538.5 294.3 537.6 293.9 536.5 293.3 536.2" stroke-width="1.0"/></g>
<path d="M319.5 504.8 L327.3 492.4 L337.5 489.6 L354.0 489.6 L364.9 497.2 L364.9 511.7 L356.3 529.7 L335.9 524.9 Z" fill="none" stroke="#808080" stroke-width="0.7"/>
<clipPath id="c7"><rect x="385.60" y="480.60" width="78.00" height="69.20"/></clipPath>
<g clip-path="url(#c7)" fill="none" stroke="#222" stroke-linejoin="round"><path d="M435.8 500.5 434.2 500.4 432.7 500.6 431.6 500.8 430.1 501.1 429.0 501.6 428.2 502.1 427.5 502.7 426.6 503.4 425.9 504.3 425.4 505.1 424.9 506.0 424.3 506.8 423.8 507.6 423.3 508.7 422.9 509.9 422.7 510.8 422.7 512.2 422.7 513.6 422.5 515.0 422.3 516.0 421.7 516.8 420.8 517.7 420.0 518.2 418.6 518.6 417.1 518.7 416.0 518.8 414.5 518.9 412.9 518.7 411.9 518.5 410.3 518.3 409.3 518.2 407.9 517.7 406.7 517.4 405.6 517.2 404.1 517.1 402.5 517.2 401.5 517.5 399.9 517.7 398.9 517.8 397.6 518.2 396.8 518.7 395.8 519.6 395.2 520.1 394.4 521.0 393.8 521.9 393.4 522.8 393.0 523.7 392.6 524.7 392.1 525.7 391.6 526.8 391.1 527.9 390.6 528.8 390.0 529.7 389.4 530.2 388.5 530.8 387.4 531.4 386.4 532.0 385.8 532.5 385.6 533.9 385.6 535.3 385.5 536.7 385.4 538.0 385.4 539.4 385.4 540.8 385.4 542.2 385.4 543.6 385.4 545.0 385.4 546.3 385.4 547.7 385.4 549.1 386.4 550.0 387.9 550.0 389.5 550.0 391.1 550.0 392.6 550.0 394.2 550.0 395.7 550.0 397.3 550.0 398.9 550.0 400.4 550.0 402.0 550.0 403.5 550.0 405.1 549.9 406.7 549.8 408.2 549.6 409.3 549.2 409.9 548.6 410.8 548.0 411.9 547.3 412.7 546.8 413.7 546.3 414.7 545.9 415.5 545.2 416.1 544.5 416.9 543.6 417.6 542.9 418.4 542.2 419.1 541.7 420.2 540.9 420.8 540.3 421.5 539.4 422.3 538.6 422.8 538.0 423.8 537.2 424.5 536.7 425.4 535.8 426.0 535.3 426.9 534.5 427.6 533.9 428.3 533.0 428.9 532.0 429.5 531.5 430.6 530.9 431.2 530.2 431.8 529.3 432.3 528.3 432.7 527.4 433.2 526.3 433.8 525.6 434.7 524.9 435.8 524.2 436.4 523.7 437.3 523.1 438.3 522.4 438.9 521.8 439.8 521.0 440.5 520.4 441.3 519.6 442.0 518.8 442.5 518.2 443.2 517.3 443.8 516.4 444.5 515.4 445.1 514.5 445.2 513.6 445.2 512.2 445.1 511.3 445.1 509.9 444.8 508.5 444.4 507.6 444.0 506.7 443.5 505.7 442.9 504.8 442.0 503.9 441.4 503.4 440.5 502.8 439.4 502.2 438.4 501.7 437.3 501.2 436.3 500.7 435.8 500.5" stroke-width="0.55"/><path d="M435.3 501.6 434.2 501.6 432.7 501.7 431.1 501.9 430.1 502.3 429.0 503.0 428.3 503.4 427.5 504.0 426.6 504.8 426.1 505.7 425.6 506.7 425.0 507.6 424.4 508.5 424.0 509.4 423.7 510.4 423.6 511.7 423.7 513.1 423.8 514.5 423.8 515.9 423.4 517.3 422.8 518.2 422.3 518.7 421.2 519.4 420.2 519.8 419.1 520.1 417.6 520.0 416.5 519.9 415.0 519.9 413.4 519.8 412.3 519.6 410.8 519.4 409.3 519.2 408.2 518.9 407.2 518.5 405.6 518.2 404.6 518.2 403.5 518.2 402.0 518.4 400.9 518.7 399.4 519.1 398.3 519.4 397.3 519.9 396.3 520.5 395.7 521.0 395.1 521.9 394.6 522.8 394.2 523.8 393.7 524.9 393.1 525.9 392.7 527.0 392.3 527.9 392.0 528.8 391.6 529.7 390.6 530.7 389.8 531.1 388.9 531.6 387.9 532.1 386.9 532.6 385.9 533.4 385.7 534.3 385.6 535.7 385.5 537.1 385.5 538.5 385.4 539.9 385.4 541.3 385.4 542.6 385.4 544.0 385.4 545.4 385.4 546.8 385.4 548.2 385.4 549.6 386.9 550.0 388.5 550.0 390.0 550.0 391.6 550.0 393.1 550.0 394.7 550.0 396.3 550.0 397.8 550.0 399.4 550.0 400.9 550.0 402.5 549.9 404.1 549.9 405.6 549.8 407.2 549.6 408.1 549.1 408.7 548.6 409.8 547.7 410.4 547.3 411.3 546.7 412.4 545.9 413.3 545.4 414.0 545.0 415.0 544.1 415.5 543.5 416.4 542.6 417.1 542.0 417.8 541.3 418.6 540.4 419.3 539.9 420.2 539.2 421.0 538.5 421.7 537.7 422.5 537.1 423.3 536.5 424.1 535.7 424.9 535.0 425.7 534.3 426.4 533.7 427.1 533.0 427.5 532.0 428.0 530.8 428.7 530.2 429.5 529.6 430.2 528.8 430.6 527.9 431.1 526.7 431.6 525.6 432.1 524.9 432.9 524.2 433.7 523.7 434.7 523.3 435.8 522.8 436.8 522.2 437.9 521.4 438.5 521.0 439.4 520.2 440.2 519.6 441.0 518.8 441.5 518.1 442.1 517.3 442.7 516.4 443.3 515.4 443.9 514.5 444.3 513.6 444.3 512.2 444.1 510.8 444.0 509.9 443.7 508.5 443.4 507.6 443.0 506.7 442.4 505.7 441.6 504.8 441.0 504.4 439.9 503.7 438.9 503.1 437.9 502.5 436.9 502.1 435.8 501.6 435.3 501.6" stroke-width="0.58"/><path d="M436.3 502.9 434.7 502.7 433.2 502.9 431.6 503.0 430.6 503.3 429.5 503.8 428.7 504.4 428.0 504.9 427.3 505.7 426.8 506.7 426.3 507.6 425.7 508.5 425.2 509.4 424.8 510.4 424.6 511.7 424.7 513.1 424.9 514.1 425.0 515.4 425.1 516.8 425.1 518.2 424.9 519.3 424.2 520.0 423.0 520.5 421.7 520.8 420.7 521.0 419.2 521.4 418.1 521.5 417.1 521.2 415.5 521.0 414.5 520.9 412.9 520.8 411.4 520.5 410.3 520.4 408.7 520.3 407.7 519.9 406.7 519.4 405.1 519.2 404.1 519.1 403.0 519.1 401.5 519.4 400.4 519.8 399.4 520.2 398.3 520.7 397.3 521.2 396.4 521.9 395.8 522.8 395.4 523.7 395.0 524.7 394.5 525.6 394.0 526.5 393.7 527.5 393.2 528.8 392.9 529.7 392.2 530.7 391.6 531.2 390.5 531.7 389.5 532.3 388.5 532.8 387.5 533.4 386.9 533.9 386.1 534.8 385.8 535.7 385.6 537.1 385.5 538.5 385.4 539.9 385.4 541.3 385.4 542.6 385.4 544.0 385.4 545.4 385.4 546.8 385.4 548.2 385.4 549.6 386.9 550.0 388.5 550.0 390.0 550.0 391.6 550.0 393.1 550.0 394.7 550.0 396.3 550.0 397.8 549.9 399.4 549.9 400.9 549.9 402.5 549.9 404.1 549.8 405.6 549.7 406.7 549.2 407.3 548.6 408.2 547.9 409.1 547.3 409.8 546.7 410.8 546.0 411.6 545.4 412.4 544.8 413.3 544.0 413.9 543.5 414.9 542.6 415.5 542.1 416.3 541.3 417.1 540.4 417.6 539.8 418.5 539.0 419.2 538.5 420.2 537.7 420.8 537.1 421.7 536.2 422.4 535.7 423.3 535.0 424.1 534.3 424.9 533.8 425.9 533.0 426.3 532.0 426.4 530.8 426.7 529.7 427.3 528.8 428.0 527.9 428.5 527.1 429.0 526.2 429.5 525.1 429.7 524.2 429.2 523.3 430.5 522.8 431.5 522.4 432.7 522.1 434.2 522.0 435.3 521.8 436.3 521.4 437.3 520.7 438.2 520.0 438.9 519.5 439.9 518.7 440.5 518.1 441.1 517.3 441.6 516.4 442.1 515.4 442.7 514.5 443.2 513.6 443.4 512.2 443.2 510.8 443.0 509.9 442.7 508.5 442.4 507.6 441.9 506.7 441.1 505.7 440.5 505.2 439.4 504.6 438.4 504.1 437.3 503.5 436.4 503.0 436.3 502.9" stroke-width="0.6"/><path d="M404.1 520.0 402.5 520.0 401.5 520.3 400.4 520.8 399.4 521.3 398.4 521.9 397.7 522.4 396.9 523.3 396.6 524.2 396.2 525.1 395.6 526.0 395.1 527.0 394.7 528.0 394.2 529.3 393.8 530.2 393.1 531.0 392.5 531.6 391.6 532.2 390.5 532.8 389.5 533.3 388.6 533.9 387.9 534.5 387.2 535.3 386.4 536.1 385.9 536.7 385.7 538.0 385.5 539.4 385.5 540.8 385.4 542.2 385.4 543.6 385.4 545.0 385.4 546.3 385.4 547.7 385.4 549.1 386.4 550.0 387.9 550.0 389.5 550.0 391.1 550.0 392.6 550.0 394.2 550.0 395.7 549.9 397.3 549.9 398.9 549.9 400.4 549.9 402.0 549.9 403.5 549.8 405.1 549.6 405.7 549.1 406.7 548.2 407.2 547.7 408.2 546.9 408.9 546.3 409.8 545.7 410.7 545.0 411.3 544.3 412.2 543.6 412.9 543.0 413.9 542.2 414.5 541.7 415.5 540.8 416.0 540.1 416.6 539.4 417.3 538.5 418.1 537.6 418.7 537.1 419.7 536.3 420.3 535.7 421.2 535.0 422.2 534.3 423.0 533.9 423.8 533.4 424.9 532.5 425.2 531.6 425.4 530.2 425.6 529.3 426.0 528.3 426.4 527.3 426.6 526.0 426.2 525.1 425.4 524.2 424.9 523.7 423.8 522.8 422.9 522.4 421.7 522.2 420.5 522.4 419.1 522.6 417.6 522.5 416.5 522.3 415.0 522.1 413.4 522.1 411.9 521.9 410.8 521.8 409.3 521.8 408.0 521.4 407.2 521.0 406.1 520.4 404.6 520.0 404.1 520.0 M436.3 504.3 434.7 504.0 433.2 503.9 431.6 504.0 430.6 504.4 429.5 504.9 428.6 505.7 428.0 506.6 427.5 507.6 426.9 508.5 426.5 509.4 426.1 510.4 425.8 511.3 425.7 512.7 425.9 513.8 426.0 515.0 426.3 516.4 426.7 517.3 427.2 518.2 427.8 519.1 428.5 519.9 429.5 520.2 431.1 520.4 432.7 520.5 433.7 520.6 435.3 520.6 436.3 520.2 437.1 519.6 437.9 518.9 438.8 518.2 439.4 517.7 440.2 516.8 440.8 515.9 441.3 515.0 441.9 514.0 442.3 513.1 442.4 511.7 442.0 510.5 441.8 509.4 441.5 508.5 441.0 507.4 440.5 506.7 439.4 505.9 438.4 505.4 437.3 504.9 436.3 504.4 436.3 504.3" stroke-width="0.62"/><path d="M403.5 520.9 402.3 521.0 401.1 521.4 400.3 521.9 399.4 522.6 398.6 523.3 398.2 524.2 397.9 525.6 397.4 526.5 396.8 527.3 396.3 528.0 395.7 528.9 395.2 529.9 394.7 530.7 393.9 531.6 393.1 532.2 392.1 533.0 391.4 533.4 390.5 533.9 389.5 534.6 388.7 535.3 387.9 536.0 387.3 536.7 386.4 537.6 385.9 538.0 385.6 539.4 385.5 540.8 385.5 542.2 385.4 543.6 385.4 545.0 385.4 546.3 385.4 547.7 385.4 549.1 386.4 550.0 387.9 550.0 389.5 550.0 391.1 550.0 392.6 550.0 394.2 549.9 395.7 549.9 397.3 549.9 398.9 549.8 400.4 549.8 402.0 549.8 403.5 549.7 404.6 549.3 405.1 548.6 406.0 547.7 406.7 547.1 407.5 546.3 408.2 545.7 409.1 545.0 409.8 544.3 410.6 543.6 411.3 542.9 412.4 542.2 413.1 541.7 413.9 541.0 414.6 540.3 415.3 539.4 415.9 538.5 416.4 537.6 416.9 536.7 417.6 536.1 418.6 535.4 419.4 534.8 420.2 534.1 421.2 533.5 422.3 533.0 423.2 532.5 423.8 531.9 424.2 530.7 424.3 529.5 424.5 528.3 424.6 527.0 424.3 526.0 423.8 524.9 423.2 524.2 422.3 523.6 420.7 523.5 419.1 523.7 418.5 523.7 417.1 523.5 415.5 523.4 413.9 523.5 412.4 523.6 410.8 523.7 409.7 523.7 408.2 523.8 407.2 523.6 406.4 522.8 405.7 521.9 405.1 521.4 403.8 521.0 403.5 520.9 M434.7 505.2 433.2 505.0 431.6 505.0 430.6 505.4 429.5 506.2 429.0 506.8 428.5 507.6 427.9 508.5 427.5 509.4 427.0 510.8 426.8 511.7 426.8 513.1 427.0 514.0 427.3 515.4 427.7 516.4 428.5 517.3 429.0 517.9 429.7 518.7 430.6 519.1 432.1 519.4 433.7 519.4 435.3 519.2 436.3 518.7 437.0 518.2 437.9 517.5 438.7 516.8 439.4 516.1 439.9 515.4 440.5 514.5 441.1 513.6 441.3 512.2 441.0 511.2 440.6 509.9 440.2 509.0 439.9 508.0 439.2 507.1 438.4 506.5 437.3 506.0 436.3 505.6 435.1 505.3 434.7 505.2" stroke-width="0.65"/><path d="M403.0 522.3 401.8 522.4 400.9 522.8 400.1 523.7 399.8 524.7 399.5 526.0 399.3 527.0 399.1 528.3 398.3 529.2 397.4 529.7 396.8 530.3 396.0 531.1 395.2 531.8 394.4 532.5 393.7 533.1 392.6 533.8 391.8 534.3 391.0 534.8 390.0 535.4 389.0 536.2 388.5 536.7 387.6 537.6 386.9 538.3 386.0 539.0 385.7 539.9 385.6 541.3 385.5 542.6 385.5 544.0 385.4 545.4 385.4 546.8 385.4 548.2 385.4 549.6 386.9 550.0 388.5 550.0 390.0 550.0 391.6 549.9 393.1 549.9 394.7 549.9 396.3 549.8 397.8 549.8 399.4 549.7 400.9 549.7 402.5 549.6 403.5 549.2 404.1 548.6 404.7 547.7 405.5 546.8 406.1 546.3 407.1 545.4 407.7 544.8 408.4 544.0 409.3 543.2 409.9 542.6 410.8 542.0 411.9 541.4 412.7 540.8 413.4 540.1 413.9 539.4 414.6 538.5 415.0 537.5 415.4 536.2 416.0 535.4 417.0 534.8 417.8 534.3 418.6 533.6 419.2 533.0 420.2 532.4 421.2 531.9 422.3 531.3 422.8 530.3 422.9 529.3 422.8 528.1 422.6 527.0 422.3 526.0 421.5 525.1 420.2 525.0 419.1 525.1 417.6 525.2 416.5 525.0 415.0 524.8 413.4 525.1 412.4 525.5 411.3 525.7 409.8 525.8 408.7 526.1 407.7 526.7 406.7 527.2 405.5 527.0 405.1 526.0 404.7 524.7 404.3 523.7 403.6 522.8 403.0 522.3 M434.2 506.1 432.7 506.0 431.5 506.2 430.5 506.7 429.6 507.6 429.0 508.4 428.5 509.3 428.1 510.4 427.8 511.3 427.8 512.7 428.0 513.7 428.5 514.9 429.0 515.7 429.5 516.4 430.3 517.3 431.1 518.0 432.1 518.3 433.7 518.2 434.7 518.1 435.8 517.7 436.8 517.1 437.7 516.4 438.4 515.8 439.1 515.0 439.7 514.0 440.1 513.1 439.9 511.7 439.7 510.8 439.3 509.9 438.9 508.9 438.4 507.9 437.6 507.1 436.6 506.7 435.3 506.3 434.2 506.1" stroke-width="0.68"/><path d="M419.7 526.8 418.1 526.7 416.5 526.7 415.0 526.7 413.9 527.3 413.5 528.3 413.4 529.4 412.4 529.8 411.9 529.0 411.3 528.3 410.2 527.9 409.2 527.9 408.0 528.3 407.0 528.8 405.6 529.2 404.6 529.4 403.0 529.5 402.0 529.9 400.9 530.3 399.9 530.7 398.9 531.1 397.8 531.9 397.0 532.5 396.3 533.1 395.2 533.7 394.2 534.2 393.1 534.7 392.1 535.3 391.2 535.7 390.5 536.2 389.5 536.9 388.8 537.6 387.9 538.4 387.3 539.0 386.4 539.7 385.8 540.3 385.6 541.7 385.6 543.1 385.5 544.5 385.5 545.9 385.5 547.3 385.5 548.6 385.9 549.9 387.4 549.9 389.0 549.9 390.5 549.9 392.1 549.9 393.7 549.8 395.2 549.8 396.8 549.7 398.3 549.6 399.4 549.5 400.8 549.1 402.0 548.7 402.8 548.2 403.5 547.3 404.1 546.6 404.8 545.9 405.6 545.3 406.5 544.5 407.2 543.7 407.7 543.0 408.3 542.2 409.3 541.4 410.3 540.8 411.1 540.3 411.9 539.7 412.5 539.0 413.1 538.0 413.5 537.1 413.8 535.7 414.2 534.8 415.0 534.1 416.0 533.5 416.9 533.0 417.6 532.4 418.6 531.6 419.3 531.1 420.2 530.6 420.9 529.7 420.9 528.3 420.5 527.4 419.7 526.8 M434.2 507.1 432.9 507.1 431.6 507.4 430.7 508.0 430.1 508.8 429.5 509.5 429.0 510.7 428.8 511.7 428.9 513.1 429.5 514.0 430.1 514.7 430.7 515.4 431.3 516.4 432.1 517.0 433.7 517.2 435.2 516.8 436.1 516.4 436.8 515.9 437.7 515.0 438.4 514.1 438.9 513.1 438.9 512.2 438.7 511.3 438.4 510.2 437.9 509.0 437.3 508.2 436.5 507.6 435.3 507.2 434.2 507.1" stroke-width="0.7"/><path d="M409.3 529.2 408.2 529.3 407.0 529.7 405.6 530.2 404.6 530.4 403.0 530.6 402.0 530.8 400.6 531.1 399.6 531.6 398.9 532.1 397.9 533.0 397.3 533.5 396.3 534.2 395.2 534.6 394.2 535.0 393.1 535.3 392.1 535.8 391.1 536.4 390.1 537.1 389.5 537.6 388.6 538.5 387.9 539.1 386.9 539.9 386.2 540.3 385.8 541.3 385.6 542.6 385.6 544.0 385.5 545.4 385.5 546.8 385.5 548.2 385.5 549.6 386.9 549.9 388.5 549.9 390.0 549.9 391.6 549.9 393.1 549.8 394.7 549.7 396.3 549.6 397.3 549.4 398.3 549.1 399.8 548.6 400.9 548.3 402.0 547.7 402.5 547.2 403.3 546.3 404.1 545.6 404.9 545.0 405.6 544.4 406.4 543.6 407.1 542.6 407.7 541.9 408.3 541.3 409.3 540.4 410.0 539.9 410.8 539.3 411.5 538.5 412.0 537.6 412.4 536.2 412.4 535.3 412.6 533.9 412.3 533.0 411.6 532.0 411.1 531.1 410.5 530.2 409.8 529.4 409.3 529.2 M418.6 527.8 417.6 528.1 416.7 528.8 416.0 529.5 415.4 530.2 414.9 531.1 415.5 531.9 416.5 531.4 417.4 530.7 418.1 530.1 419.1 529.7 419.5 528.3 418.6 527.8 M435.8 507.9 434.2 507.7 432.7 507.9 431.6 508.3 430.9 509.0 430.2 509.9 429.7 510.8 429.5 511.7 429.6 512.7 430.1 513.6 431.0 514.5 431.6 515.3 432.1 516.0 433.2 516.5 434.7 516.4 435.8 515.9 436.4 515.4 437.3 514.5 437.9 513.8 438.3 512.7 438.2 511.3 437.9 510.3 437.3 509.2 436.8 508.5 435.8 507.9" stroke-width="0.72"/><path d="M409.3 530.6 407.7 530.4 406.7 530.7 405.1 531.1 404.1 531.3 402.5 531.3 401.0 531.6 400.0 532.0 399.4 532.5 398.5 533.4 397.8 534.1 396.8 534.8 395.7 535.2 394.7 535.4 393.6 535.7 392.5 536.2 391.6 536.7 390.5 537.5 389.8 538.0 389.0 538.8 388.3 539.4 387.4 540.1 386.4 540.8 385.9 541.3 385.7 542.6 385.6 544.0 385.6 545.4 385.5 546.8 385.5 548.2 385.6 549.6 386.9 549.8 388.5 549.9 390.0 549.9 391.6 549.8 393.1 549.8 394.7 549.7 395.7 549.6 396.8 549.0 397.8 548.6 399.1 548.2 400.3 547.7 401.2 547.3 402.0 546.7 402.9 545.9 403.5 545.3 404.6 544.5 405.1 544.0 406.0 543.1 406.7 542.4 407.2 541.7 408.0 540.8 408.7 539.9 409.3 539.4 410.1 538.5 410.5 537.6 410.6 536.2 410.4 534.8 410.6 533.4 410.3 532.1 409.8 531.1 409.3 530.6 M435.3 508.4 433.7 508.4 432.7 508.7 431.6 509.3 431.1 509.9 430.5 510.8 430.3 512.2 430.8 513.1 431.6 514.0 432.1 514.7 432.8 515.4 434.2 515.8 435.3 515.4 436.3 514.7 437.0 514.0 437.5 513.1 437.7 511.7 437.3 510.5 436.8 509.5 436.3 508.9 435.3 508.4" stroke-width="0.75"/><path d="M408.2 531.6 406.7 531.6 405.6 531.9 404.6 532.1 403.5 532.0 402.0 531.9 400.9 532.1 399.9 532.8 399.3 533.4 398.5 534.3 397.8 534.9 396.8 535.5 395.7 535.8 394.2 536.2 393.1 536.6 392.2 537.1 391.5 537.6 390.5 538.3 389.8 539.0 389.0 539.6 388.1 540.3 387.4 540.8 386.4 541.5 385.8 542.2 385.7 543.6 385.6 545.0 385.6 546.3 385.6 547.7 385.6 549.1 386.4 549.8 387.9 549.8 389.5 549.8 391.1 549.8 392.6 549.7 394.2 549.6 395.2 549.2 396.1 548.6 396.9 548.2 398.3 547.7 399.4 547.3 400.4 546.8 401.1 546.3 402.0 545.8 403.0 545.0 403.7 544.5 404.6 543.7 405.2 543.1 406.1 542.2 406.7 541.6 407.3 540.8 408.0 539.9 408.7 539.0 409.2 538.0 409.3 537.1 409.0 536.2 408.6 535.3 408.6 533.9 409.0 533.0 408.7 532.0 408.2 531.6 M435.3 509.2 433.7 509.2 432.7 509.6 431.7 510.4 431.3 511.3 431.5 512.7 432.1 513.4 432.7 514.0 433.7 514.8 435.3 514.6 436.0 514.0 436.8 513.1 437.0 512.2 436.8 510.8 436.3 509.9 435.8 509.4 435.3 509.2" stroke-width="0.78"/><path d="M402.5 532.5 401.5 532.5 400.4 533.1 399.6 533.9 398.9 534.8 398.3 535.3 397.3 535.8 396.3 536.2 395.1 536.7 394.0 537.1 393.1 537.7 392.1 538.4 391.2 539.0 390.5 539.4 389.5 540.2 388.8 540.8 387.9 541.4 386.9 542.0 386.1 542.6 385.8 543.6 385.7 545.0 385.6 546.3 385.6 547.7 385.7 549.1 386.4 549.7 387.9 549.8 389.5 549.8 391.1 549.7 392.6 549.7 393.9 549.6 394.7 548.9 395.5 548.2 396.3 547.7 397.4 547.3 398.9 546.8 399.7 546.3 400.4 545.9 401.5 545.2 402.5 544.6 403.3 544.0 404.1 543.4 404.8 542.6 405.6 542.0 406.4 541.3 407.1 540.3 407.7 539.4 408.1 538.5 408.1 537.1 407.6 536.2 407.0 535.3 406.1 534.4 405.5 533.9 404.6 533.4 403.5 532.8 402.5 532.5 M435.3 510.3 433.7 510.1 432.7 510.7 432.3 511.7 432.7 512.7 433.7 513.6 434.7 513.7 435.7 513.1 436.2 512.2 435.9 510.8 435.3 510.3" stroke-width="0.8"/><path d="M402.5 533.2 401.0 533.4 400.4 533.9 399.6 534.8 398.9 535.6 397.9 536.2 396.8 536.6 395.8 537.1 395.1 537.6 394.2 538.4 393.3 539.0 392.3 539.4 391.3 539.9 390.5 540.4 389.6 541.3 389.0 541.7 387.9 542.2 386.9 542.8 386.1 543.6 385.8 544.5 385.7 545.9 385.7 547.3 385.7 548.6 385.9 549.6 387.4 549.7 389.0 549.7 390.5 549.7 392.1 549.6 393.1 549.5 394.1 548.6 394.7 548.0 395.5 547.3 396.4 546.8 397.8 546.4 398.9 546.0 399.8 545.4 400.5 545.0 401.5 544.4 402.5 543.9 403.4 543.1 404.1 542.5 405.0 541.7 405.6 541.3 406.5 540.3 407.1 539.4 407.4 538.5 407.2 537.5 406.7 536.7 405.6 535.7 404.9 535.3 404.1 534.5 403.5 533.9 402.5 533.2" stroke-width="0.82"/><path d="M402.5 534.3 401.1 534.3 400.4 535.0 399.7 535.7 398.9 536.3 397.8 536.8 396.8 537.3 395.8 538.0 395.2 538.6 394.2 539.4 393.1 539.8 392.1 540.2 391.1 540.8 390.5 541.3 389.5 542.2 388.5 542.6 387.5 543.1 386.9 543.6 386.2 544.5 385.8 545.4 385.8 546.8 385.8 548.2 385.9 549.5 386.9 549.6 388.5 549.7 390.0 549.6 391.6 549.6 392.6 549.1 393.2 548.6 394.0 547.7 394.7 547.0 395.7 546.3 396.8 545.9 397.8 545.6 398.9 545.1 399.8 544.5 400.6 544.0 401.5 543.6 402.5 543.0 403.4 542.2 404.1 541.6 405.1 540.9 405.8 540.3 406.4 539.4 406.4 538.0 405.8 537.1 405.1 536.6 404.1 536.0 403.4 535.3 402.6 534.3 402.5 534.3" stroke-width="0.85"/><path d="M401.5 535.7 400.4 536.2 399.6 536.7 398.6 537.1 397.5 537.6 396.8 538.1 395.8 539.0 395.2 539.4 394.2 540.0 393.1 540.4 392.1 540.9 391.1 541.7 390.5 542.2 389.5 542.8 388.5 543.3 387.4 543.9 386.9 544.5 386.4 545.6 386.0 546.8 386.0 548.2 386.6 549.1 387.9 549.5 389.5 549.5 391.1 549.3 392.1 548.7 392.7 548.2 393.4 547.3 394.2 546.4 395.0 545.9 395.9 545.4 397.1 545.0 398.2 544.5 398.9 544.0 399.9 543.3 400.9 542.8 402.0 542.3 402.6 541.7 403.5 540.9 404.5 540.3 405.1 539.8 405.4 538.5 404.6 537.6 403.6 537.1 402.9 536.7 402.0 535.8 401.5 535.7" stroke-width="0.88"/><path d="M401.5 537.6 399.9 537.4 398.9 537.8 397.8 538.3 396.8 539.0 396.2 539.4 395.2 540.1 394.2 540.7 393.1 541.1 392.1 541.7 391.5 542.2 390.5 543.0 389.5 543.5 388.5 543.9 387.7 544.5 387.1 545.4 386.8 546.3 386.8 547.7 387.4 548.6 388.5 548.9 390.0 548.9 391.1 548.6 392.1 547.7 392.6 546.8 393.1 546.0 394.0 545.4 394.9 545.0 395.7 544.5 396.8 543.9 397.8 543.2 398.4 542.6 399.3 541.7 399.9 541.2 400.9 540.7 402.0 540.0 402.5 539.0 402.0 538.0 401.5 537.6" stroke-width="0.9"/><path d="M391.6 544.3 390.0 544.2 388.8 544.5 387.9 545.3 387.6 546.3 387.9 547.7 389.0 548.2 389.8 548.2 390.9 547.7 391.5 546.8 391.7 545.9 391.7 544.5 391.6 544.3 M398.3 539.5 397.1 539.9 396.2 540.3 395.2 541.0 394.2 541.7 393.3 542.2 392.7 543.1 393.7 543.7 394.7 543.3 395.7 542.8 396.8 542.3 397.6 541.7 398.3 540.8 398.7 539.9 398.3 539.5" stroke-width="0.93"/><path d="M389.5 545.8 389.5 546.6 389.5 545.8" stroke-width="0.95"/></g>
<path d="M416.0 504.8 L423.8 492.4 L434.0 489.6 L450.3 489.6 L461.3 497.2 L461.3 511.7 L452.7 529.7 L432.4 524.9 Z" fill="none" stroke="#808080" stroke-width="0.7"/>
<clipPath id="c8"><rect x="288.90" y="561.70" width="78.40" height="69.30"/></clipPath>
<g clip-path="url(#c8)" fill="none" stroke="#111" stroke-linejoin="round"><path d="M346.7 587.2 345.1 586.9 343.5 587.1 342.0 587.2 340.4 587.3 339.3 587.6 338.3 588.0 337.2 588.6 336.2 589.1 335.2 589.6 334.1 590.1 333.2 590.6 332.2 591.0 331.0 591.5 330.0 592.0 329.3 592.4 328.4 593.3 327.8 593.8 326.8 594.4 325.7 595.0 324.8 595.7 324.2 596.2 323.3 597.0 322.6 597.5 321.5 598.0 320.3 598.4 319.5 598.9 318.4 599.8 317.9 600.3 316.9 601.0 315.8 601.4 314.7 601.7 313.7 602.1 312.7 602.8 311.8 603.5 310.6 604.0 310.0 604.0 308.6 603.5 307.9 603.0 306.9 602.4 305.9 601.8 304.8 601.5 303.3 601.3 301.7 601.3 300.7 601.1 299.6 600.7 298.0 600.4 296.5 600.4 294.9 600.5 293.3 600.5 291.8 600.6 290.7 601.1 289.7 601.7 289.1 602.1 288.9 603.5 288.9 604.9 288.8 606.3 288.7 607.7 288.7 609.1 288.7 610.4 288.7 611.8 288.7 613.2 288.7 614.6 288.7 616.0 288.7 617.4 288.7 618.8 288.7 620.1 288.7 621.5 288.7 622.9 288.7 624.3 288.7 625.7 288.7 627.1 288.7 628.5 288.7 629.8 289.2 631.2 290.7 631.2 292.3 631.2 293.9 631.2 295.4 631.2 297.0 631.2 298.6 631.2 300.1 631.2 301.7 631.2 303.3 631.2 304.8 631.1 306.4 631.1 308.0 631.1 309.5 631.0 311.1 630.9 312.7 630.9 314.2 630.8 314.8 630.3 315.7 629.4 316.3 628.9 317.4 628.4 319.0 628.2 320.5 628.3 322.1 628.3 323.7 628.1 324.7 627.9 326.3 627.6 327.3 627.4 328.4 627.1 329.5 626.6 330.5 626.1 331.5 625.6 332.8 625.2 334.1 625.0 335.2 624.5 335.8 623.8 336.6 622.9 337.2 622.0 336.9 620.6 336.2 619.7 335.7 618.8 335.2 617.8 334.8 616.9 334.4 616.0 334.3 614.6 334.9 613.7 335.7 613.0 336.6 612.3 337.2 611.7 337.9 610.9 338.7 610.0 339.3 609.1 339.9 608.5 340.9 607.7 341.8 607.2 342.5 606.7 343.5 605.8 344.0 605.2 344.6 604.4 345.4 603.5 346.1 602.9 347.0 602.1 347.7 601.6 348.6 600.7 349.3 600.0 349.8 599.1 350.2 598.0 350.4 597.0 350.8 595.8 351.4 595.0 351.7 593.8 351.6 592.4 351.4 591.4 350.8 590.5 350.0 589.7 349.3 589.0 348.4 588.3 347.7 587.8 346.7 587.2" stroke-width="0.55"/><path d="M344.0 588.3 342.5 588.1 340.9 588.1 339.9 588.3 338.8 588.8 337.8 589.4 336.7 589.9 335.7 590.4 334.6 590.9 333.6 591.4 332.5 591.9 331.5 592.3 330.5 592.8 329.9 593.3 329.0 594.3 328.3 594.7 327.3 595.2 326.3 595.9 325.5 596.6 324.7 597.4 324.0 598.0 323.1 598.4 321.7 598.9 320.5 599.3 319.8 599.8 319.0 600.5 318.1 601.2 317.4 601.7 316.3 602.3 315.3 602.6 314.2 603.0 313.2 603.7 312.4 604.4 311.6 604.9 310.1 605.2 308.9 604.9 308.0 604.4 306.9 603.7 306.2 603.0 305.4 602.6 303.8 602.2 302.2 602.4 300.7 602.5 299.6 602.1 298.5 601.7 297.0 601.4 295.4 601.5 293.9 601.5 292.3 601.6 291.3 602.0 290.2 602.5 289.2 603.0 289.0 604.0 288.9 605.4 288.9 606.7 288.8 608.1 288.7 609.5 288.7 610.9 288.7 612.3 288.7 613.7 288.7 615.1 288.7 616.4 288.7 617.8 288.7 619.2 288.7 620.6 288.7 622.0 288.7 623.4 288.7 624.8 288.7 626.1 288.7 627.5 288.7 628.9 288.7 630.3 289.7 631.2 291.3 631.2 292.8 631.2 294.4 631.2 296.0 631.1 297.5 631.1 299.1 631.1 300.7 631.1 302.2 631.1 303.8 631.1 305.4 631.1 306.9 631.1 308.5 631.0 310.1 630.9 311.6 630.8 312.6 630.3 313.3 629.8 314.2 629.1 315.1 628.5 315.8 627.9 316.9 627.3 317.9 627.0 319.3 627.1 320.5 627.2 322.1 627.1 323.1 627.0 324.7 626.7 325.7 626.4 326.8 626.1 328.0 625.7 329.4 625.3 330.5 624.8 331.5 624.4 332.5 624.0 333.6 623.5 334.3 622.9 334.8 622.0 334.6 621.0 334.1 620.1 333.2 619.2 332.8 618.3 332.5 617.4 332.0 616.2 331.9 615.1 332.2 614.1 332.9 613.2 333.6 612.6 334.6 612.1 335.7 611.7 336.7 611.0 337.3 610.4 338.0 609.5 338.6 608.6 339.3 607.7 339.9 607.1 340.9 606.4 341.9 605.8 342.5 605.3 343.3 604.4 344.0 603.6 344.7 603.0 345.6 602.3 346.3 601.7 347.2 601.0 347.9 600.3 348.5 599.4 348.8 598.4 348.9 597.0 349.0 595.7 349.3 594.7 349.8 593.6 350.0 592.4 349.7 591.5 349.0 590.6 348.2 589.9 347.3 589.2 346.4 588.7 345.1 588.3 344.0 588.3" stroke-width="0.58"/><path d="M342.5 589.1 340.9 589.0 339.9 589.2 338.8 589.7 337.8 590.4 336.7 591.0 335.7 591.4 334.6 591.9 333.6 592.4 332.5 592.8 331.6 593.3 331.0 593.9 330.2 594.7 329.4 595.4 328.4 596.0 327.4 596.6 326.8 597.1 325.9 598.0 325.2 598.4 324.2 599.0 323.1 599.4 322.1 599.8 321.0 600.3 320.0 600.9 319.0 601.6 318.3 602.1 317.4 602.8 316.3 603.5 315.3 603.9 314.2 604.4 313.7 605.0 313.2 605.9 312.7 606.8 311.1 607.0 309.9 606.7 308.9 606.3 308.0 605.8 306.9 605.2 306.0 604.4 305.4 603.9 304.3 603.3 302.8 603.4 301.7 603.6 300.1 603.6 299.1 603.5 297.5 603.1 296.5 602.8 295.3 602.6 293.9 602.5 292.8 602.7 291.8 603.1 290.7 603.5 289.7 604.1 289.1 604.9 289.0 606.3 288.9 607.7 288.8 609.1 288.8 610.4 288.7 611.8 288.7 613.2 288.7 614.6 288.7 616.0 288.7 617.4 288.7 618.8 288.7 620.1 288.7 621.5 288.7 622.9 288.7 624.3 288.7 625.7 288.7 627.1 288.7 628.5 288.8 629.8 289.2 631.1 290.7 631.1 292.3 631.2 293.9 631.1 295.4 631.1 297.0 631.1 298.6 631.1 300.1 631.1 301.7 631.1 303.3 631.1 304.8 631.0 306.4 631.0 308.0 630.9 309.4 630.8 310.1 630.2 311.0 629.4 311.6 628.6 312.2 628.0 313.2 627.1 314.2 626.6 315.3 626.2 316.3 625.8 317.4 625.5 319.0 625.6 320.0 625.7 321.2 625.7 322.6 625.5 323.7 625.2 324.9 624.8 326.3 624.3 327.3 624.2 328.9 624.1 329.9 623.8 331.0 623.3 332.0 622.5 332.1 621.5 331.5 620.7 331.0 620.1 330.5 619.1 330.1 617.8 329.4 616.9 328.7 616.4 328.9 615.1 329.4 614.5 330.3 613.7 331.0 613.0 331.7 612.3 332.5 611.6 333.6 611.1 334.6 610.8 335.7 610.4 336.7 609.7 337.3 609.1 337.9 608.1 338.5 607.2 339.3 606.3 339.9 605.8 340.9 605.1 341.7 604.4 342.5 603.7 343.1 603.0 344.0 602.4 345.1 601.7 345.7 601.2 346.7 600.4 347.2 599.7 347.7 598.5 347.8 597.5 347.7 596.1 347.9 594.7 348.1 593.3 347.9 592.0 347.3 591.0 346.6 590.6 345.6 590.1 344.3 589.7 343.0 589.3 342.5 589.1" stroke-width="0.6"/><path d="M342.0 590.0 340.4 590.0 339.3 590.4 338.4 591.0 337.8 591.5 336.7 592.1 335.7 592.5 334.6 593.0 333.6 593.6 332.5 594.2 332.0 594.7 331.0 595.7 330.4 596.1 329.4 596.8 328.4 597.5 327.8 598.0 326.8 598.7 325.7 599.3 324.7 599.8 323.7 600.2 322.8 600.7 322.0 601.2 321.0 601.7 320.0 602.2 319.0 602.9 318.3 603.5 317.4 604.4 316.7 604.9 315.8 605.8 315.8 606.7 315.8 607.7 315.5 608.6 314.8 609.4 313.7 609.9 312.7 610.0 311.6 609.9 310.6 609.5 309.5 608.7 308.9 608.1 308.0 607.3 307.1 606.7 306.2 606.3 305.4 605.8 304.3 605.1 303.3 604.7 301.7 604.6 300.1 604.5 298.6 604.5 297.0 604.5 296.0 604.2 294.9 603.9 293.3 603.9 292.3 604.3 291.3 604.7 290.4 605.4 289.7 606.0 289.1 606.7 289.0 608.1 288.9 609.5 288.8 610.9 288.8 612.3 288.8 613.7 288.7 615.1 288.7 616.4 288.7 617.8 288.7 619.2 288.7 620.6 288.7 622.0 288.7 623.4 288.7 624.8 288.8 626.1 288.8 627.5 288.8 628.9 288.9 630.3 289.7 631.1 291.3 631.1 292.8 631.1 294.4 631.1 296.0 631.0 297.5 631.0 299.1 631.0 300.7 631.0 302.2 631.0 303.8 630.9 305.4 630.9 306.9 630.8 308.0 630.6 308.8 629.8 309.5 628.9 310.1 628.0 310.6 627.1 311.1 626.2 311.6 625.4 312.2 624.7 313.1 623.8 313.7 623.4 314.8 622.8 315.8 622.1 316.9 621.9 317.7 622.5 318.4 623.1 319.5 623.6 320.9 623.8 321.7 623.8 323.1 623.6 324.2 623.2 325.2 622.5 325.8 622.0 326.8 621.4 327.8 620.6 327.1 619.7 326.3 619.2 325.3 618.3 324.8 617.4 325.0 616.0 325.7 615.1 326.3 614.5 327.1 613.7 327.8 613.1 328.9 612.6 329.9 612.0 330.8 611.4 331.5 610.9 332.5 610.3 333.6 609.9 334.7 609.5 335.7 609.0 336.5 608.1 337.2 607.2 337.8 606.4 338.3 605.8 339.2 604.9 339.9 604.4 340.9 603.5 341.4 602.9 342.5 602.1 343.4 601.7 344.2 601.2 345.1 600.6 345.9 599.8 346.4 598.9 346.6 597.5 346.5 596.1 346.6 594.7 346.3 593.3 346.0 592.4 345.2 591.5 344.5 591.0 343.5 590.6 342.2 590.1 342.0 590.0" stroke-width="0.62"/><path d="M341.4 591.0 340.3 591.0 339.3 591.6 338.4 592.4 337.6 592.9 336.4 593.3 335.7 593.8 334.9 594.7 334.2 595.7 333.6 596.1 332.5 596.7 331.5 597.2 330.5 597.7 329.4 598.4 328.9 598.9 327.8 599.7 326.8 600.1 325.7 600.6 324.7 601.1 323.8 601.7 323.1 602.2 322.1 602.7 321.0 603.2 320.0 603.9 319.4 604.4 318.5 605.4 317.9 606.0 317.4 606.8 317.0 608.1 316.7 609.1 316.1 610.0 315.5 610.9 315.1 611.8 314.8 612.8 313.7 612.8 312.5 612.3 311.3 611.8 310.5 611.4 309.5 610.6 308.9 610.0 308.0 609.1 307.5 608.6 306.4 607.8 305.4 607.3 304.3 606.8 303.3 606.3 302.2 605.9 301.2 605.6 299.7 605.4 299.1 605.4 297.5 605.6 296.0 605.6 294.4 605.4 292.8 605.6 291.8 606.0 290.7 606.7 290.0 607.2 289.2 607.9 289.0 609.1 288.9 610.4 288.9 611.8 288.8 613.2 288.8 614.6 288.8 616.0 288.8 617.4 288.7 618.8 288.7 620.1 288.7 621.5 288.7 622.9 288.8 624.3 288.8 625.7 288.8 627.1 288.9 628.5 288.9 629.8 289.2 630.9 290.7 631.0 292.3 631.1 293.9 631.0 295.4 630.9 297.0 630.9 298.6 630.9 300.1 630.9 301.7 630.9 303.3 630.8 304.5 630.8 305.9 630.3 306.9 629.9 307.5 629.4 308.2 628.5 308.6 627.5 309.0 626.6 309.6 625.7 310.4 624.8 311.1 623.8 311.6 623.1 312.2 622.4 313.1 621.5 313.7 621.0 314.7 620.1 315.3 619.4 315.8 618.7 316.9 617.9 317.9 617.5 318.9 616.9 319.0 616.2 319.0 615.4 319.5 614.6 320.5 614.0 321.6 613.5 323.1 613.6 324.2 613.7 325.2 613.2 325.7 612.7 326.8 612.0 327.8 611.5 328.9 611.2 329.9 610.5 330.7 610.0 331.5 609.4 332.5 608.6 333.1 608.1 334.1 607.5 335.2 607.0 336.2 606.3 336.7 605.8 337.5 604.9 338.2 604.0 338.8 603.4 339.7 602.6 340.4 602.0 341.4 601.3 342.5 600.8 343.5 600.3 344.1 599.8 344.8 598.9 345.1 597.6 345.1 596.6 345.0 595.7 344.7 594.3 344.4 593.3 343.9 592.4 343.0 591.7 342.0 591.2 341.4 591.0" stroke-width="0.65"/><path d="M301.2 606.7 299.6 606.4 298.0 606.6 297.0 606.9 295.4 607.0 293.9 607.1 292.8 607.2 291.5 607.7 290.7 608.2 289.7 609.1 289.2 609.7 289.0 610.9 289.0 612.3 288.9 613.7 288.9 615.1 288.8 616.4 288.8 617.8 288.8 619.2 288.8 620.6 288.7 622.0 288.8 623.4 288.8 624.8 288.9 626.1 289.0 627.5 289.0 628.9 289.1 630.3 289.7 630.8 291.3 631.0 292.8 631.0 294.4 630.9 295.5 630.8 297.0 630.3 298.6 630.7 299.6 630.8 301.2 630.8 302.2 630.4 303.3 630.0 304.3 629.6 305.4 629.3 306.4 628.6 306.9 627.8 307.3 626.6 307.6 625.7 308.3 624.8 309.0 624.1 309.8 623.4 310.5 622.5 311.1 621.5 311.6 620.8 312.2 620.1 312.9 619.2 313.2 617.9 313.2 616.9 313.0 616.0 312.2 615.1 311.6 614.6 310.6 613.7 310.1 613.1 309.3 612.3 308.5 611.4 308.0 610.9 307.1 610.0 306.4 609.4 305.4 608.7 304.3 608.2 303.3 607.7 302.5 607.2 301.4 606.7 301.2 606.7 M340.9 592.8 339.9 593.2 338.8 593.8 337.8 594.3 337.1 594.7 336.4 595.7 336.0 596.6 335.4 597.5 334.6 598.0 333.6 598.5 332.5 598.9 331.4 599.4 330.5 599.8 329.4 600.4 328.4 601.0 327.3 601.6 326.3 602.1 325.6 602.6 324.7 603.1 323.7 603.6 322.5 604.0 321.6 604.5 320.7 605.4 320.0 606.3 319.5 606.9 318.9 607.7 318.4 608.9 318.2 610.0 318.4 611.1 320.0 611.1 321.0 610.8 322.5 610.9 323.7 611.0 324.7 610.9 325.9 610.4 327.3 610.2 328.5 610.0 329.4 609.4 330.4 608.6 331.0 607.9 331.6 607.2 332.5 606.3 333.6 605.9 334.6 605.6 335.7 604.9 336.2 604.1 336.7 603.1 337.2 602.5 338.3 601.7 338.9 601.2 339.9 600.6 340.9 600.1 342.0 599.5 342.6 598.9 343.0 597.6 343.1 596.6 342.9 595.7 342.5 594.4 342.0 593.4 341.4 592.9 340.9 592.8" stroke-width="0.68"/><path d="M301.2 608.0 299.6 608.1 298.6 608.3 297.0 608.5 295.4 608.6 294.4 608.7 292.8 608.7 291.7 609.1 290.7 609.7 290.0 610.4 289.3 611.4 289.1 612.3 289.0 613.7 289.0 615.1 288.9 616.4 288.9 617.8 288.9 619.2 288.8 620.6 288.8 622.0 288.8 623.4 288.9 624.8 289.1 626.1 289.1 627.5 289.2 628.9 289.7 629.8 290.2 630.4 291.3 630.8 292.8 630.8 293.9 630.7 294.9 629.9 295.7 629.4 297.0 629.0 298.6 629.3 299.6 629.6 301.2 629.5 302.2 629.2 303.3 628.8 304.3 628.4 305.4 627.7 305.9 626.6 306.1 625.7 306.5 624.8 307.2 623.8 308.0 623.0 308.5 622.4 309.2 621.5 309.7 620.6 310.2 619.7 310.4 618.3 310.5 616.9 310.1 615.6 309.5 614.9 308.9 614.1 308.0 613.2 307.5 612.7 306.5 611.8 305.9 611.1 305.3 610.4 304.3 609.7 303.3 609.2 302.3 608.6 301.4 608.1 301.2 608.0 M332.5 601.5 331.0 601.4 329.9 601.7 328.9 602.6 328.4 603.4 327.8 604.0 326.8 604.5 325.7 605.1 325.3 606.3 325.9 607.2 326.8 607.9 327.8 608.4 328.9 608.1 329.7 607.2 330.3 606.3 331.0 605.4 331.6 604.9 332.5 604.3 333.5 603.5 333.6 602.6 333.1 601.8 332.5 601.5" stroke-width="0.7"/><path d="M301.7 609.4 300.1 609.2 298.6 609.4 297.0 609.4 295.4 609.5 294.4 609.5 293.3 609.5 292.3 609.6 291.3 610.1 290.4 610.9 289.8 611.8 289.4 612.8 289.1 613.7 289.0 615.1 289.0 616.4 289.0 617.8 288.9 619.2 288.9 620.6 288.8 622.0 288.9 623.4 289.0 624.8 289.2 626.0 289.4 627.1 289.6 628.5 290.0 629.4 290.7 630.1 291.8 630.5 293.2 630.3 294.0 629.8 294.9 629.2 296.0 628.6 297.0 628.3 298.6 628.3 299.6 628.6 301.2 628.7 302.2 628.5 303.4 628.0 304.3 627.5 305.0 626.6 305.4 625.4 305.9 624.4 306.4 623.7 307.0 622.9 307.5 622.0 308.0 621.1 308.5 620.1 309.0 618.9 309.2 617.8 309.2 616.4 308.8 615.5 308.0 614.6 307.5 614.0 306.5 613.2 305.9 612.6 305.2 611.8 304.5 610.9 303.8 610.4 302.8 609.8 301.7 609.4 M331.0 603.0 331.0 603.0 331.0 603.0" stroke-width="0.72"/><path d="M301.7 610.3 300.1 610.1 298.6 610.1 297.0 610.1 295.4 610.2 293.9 610.2 292.3 610.3 291.3 610.8 290.7 611.4 290.1 612.3 289.7 613.5 289.2 614.6 289.1 615.5 289.1 616.9 289.0 618.3 289.0 619.7 288.9 621.1 288.9 622.5 289.0 623.8 289.2 625.2 289.7 626.1 289.9 627.1 290.2 628.4 290.7 629.3 291.7 629.8 292.7 629.8 293.8 629.4 294.5 628.9 295.4 628.3 296.5 627.8 297.7 627.5 299.1 627.4 300.1 627.6 301.7 627.8 302.8 627.5 303.8 626.8 304.3 626.0 304.8 624.9 305.4 624.1 305.9 623.3 306.4 622.5 306.9 621.1 307.1 620.1 307.5 619.2 308.0 618.1 308.1 616.9 307.8 616.0 307.1 615.1 306.4 614.3 305.8 613.7 304.9 612.8 304.3 611.9 303.8 611.3 302.8 610.6 301.7 610.3" stroke-width="0.75"/><path d="M301.2 610.8 299.6 610.6 298.0 610.7 296.5 610.8 295.4 611.0 294.4 610.9 292.8 610.8 291.8 611.1 291.0 611.8 290.5 612.8 290.1 613.7 289.7 614.6 289.2 616.0 289.1 616.9 289.1 618.3 289.0 619.7 288.9 621.1 288.9 622.5 289.1 623.8 289.3 624.8 289.9 625.7 290.4 626.6 290.7 627.7 291.3 628.7 292.3 629.2 293.4 628.9 294.4 628.3 295.4 627.6 296.5 627.2 297.5 626.9 298.6 626.5 300.1 626.4 301.3 626.6 302.2 626.6 303.3 625.9 303.8 625.2 304.4 624.3 305.1 623.4 305.7 622.5 306.0 621.5 306.1 620.1 306.4 618.9 306.8 617.8 306.7 616.4 306.2 615.5 305.5 614.6 304.8 613.8 304.3 613.1 303.8 612.3 302.8 611.4 301.7 611.0 301.2 610.8" stroke-width="0.78"/><path d="M300.7 611.3 299.1 611.2 297.5 611.3 296.5 611.5 294.9 611.6 293.3 611.4 291.8 611.8 291.3 612.5 290.7 613.5 290.2 614.6 289.8 615.5 289.6 616.4 289.4 617.8 289.2 619.2 289.1 620.1 289.0 621.5 289.0 622.9 289.2 623.9 289.7 624.8 290.4 625.7 291.0 626.6 291.6 627.5 292.3 628.2 293.6 628.0 294.4 627.5 295.4 626.9 296.5 626.6 297.7 626.1 298.9 625.7 300.1 625.5 301.7 625.5 302.8 625.1 303.5 624.3 304.3 623.4 304.8 622.6 305.2 621.5 305.2 620.1 305.4 619.2 305.8 617.8 305.6 616.4 305.0 615.5 304.5 614.6 303.9 613.7 303.3 612.8 302.8 612.1 301.7 611.5 300.7 611.3" stroke-width="0.8"/><path d="M300.1 611.8 298.6 611.8 297.5 611.9 296.0 612.2 294.4 612.2 292.8 612.1 291.8 612.8 291.3 613.7 290.8 614.6 290.3 615.5 290.1 616.4 289.9 617.8 289.7 618.9 289.2 620.1 289.1 621.1 289.1 622.5 289.3 623.4 289.9 624.3 290.6 625.2 291.3 626.0 292.0 626.6 293.3 627.0 294.4 626.6 295.8 626.1 297.0 625.8 298.0 625.4 299.1 625.0 300.1 624.7 301.7 624.5 302.8 623.9 303.3 623.4 304.0 622.5 304.4 621.5 304.5 620.1 304.7 618.8 304.9 617.8 304.7 616.9 304.3 616.0 303.8 615.1 303.3 614.0 302.8 613.1 301.9 612.3 300.7 611.8 300.1 611.8" stroke-width="0.82"/><path d="M301.2 612.7 299.6 612.4 298.0 612.5 296.7 612.8 295.4 613.0 293.9 612.8 292.3 613.2 291.8 613.9 291.3 614.8 290.7 615.9 290.5 616.9 290.3 618.3 290.1 619.2 289.7 620.1 289.2 621.5 289.5 622.9 290.0 623.8 290.7 624.7 291.3 625.2 292.3 625.9 293.9 626.0 295.0 625.7 296.5 625.4 297.5 625.0 298.6 624.6 299.6 624.2 300.8 623.8 301.8 623.4 302.8 622.7 303.3 622.0 303.6 620.6 303.8 619.6 304.0 618.3 303.8 616.9 303.3 616.0 302.9 615.1 302.4 614.1 301.9 613.2 301.2 612.7" stroke-width="0.85"/><path d="M300.7 613.6 299.1 613.3 297.5 613.3 296.0 613.7 294.9 613.8 293.9 613.7 292.8 613.9 292.1 614.6 291.5 615.5 291.1 616.4 290.9 617.8 290.7 618.8 290.2 620.1 289.8 621.1 289.8 622.5 290.2 623.4 291.0 624.3 291.8 624.9 292.8 625.3 294.0 625.2 295.4 625.0 296.5 624.7 297.8 624.3 298.9 623.8 299.9 623.4 300.7 622.9 301.7 622.2 302.4 621.5 302.8 620.6 303.1 619.2 303.2 617.8 302.8 616.7 302.2 615.8 301.7 614.8 301.2 614.0 300.7 613.6" stroke-width="0.88"/><path d="M299.6 614.5 298.0 614.2 296.5 614.4 295.4 614.6 294.4 614.6 293.3 614.6 292.3 615.4 291.8 616.3 291.5 617.4 291.4 618.8 291.1 619.7 290.7 620.6 290.3 622.0 290.7 623.1 291.4 623.8 292.3 624.4 293.9 624.4 294.9 624.2 296.5 624.0 297.5 623.7 298.6 623.2 299.6 622.6 300.4 622.0 301.2 621.3 301.7 620.6 302.2 619.2 302.2 618.3 302.0 617.4 301.6 616.4 300.9 615.5 300.1 614.8 299.6 614.5" stroke-width="0.9"/><path d="M292.3 620.9 291.4 621.5 291.8 622.8 292.7 622.9 292.9 622.0 292.5 621.1 292.3 620.9 M299.1 615.5 297.5 615.4 296.5 615.7 294.9 615.6 293.3 615.7 292.6 616.4 292.4 617.8 292.8 618.8 294.4 619.1 295.1 619.7 295.8 620.6 296.5 621.4 297.5 622.0 298.1 622.0 299.2 621.5 300.1 620.8 300.7 620.1 301.2 618.8 301.0 617.4 300.4 616.4 299.6 615.7 299.1 615.5" stroke-width="0.93"/><path d="M299.1 617.2 298.3 617.8 299.1 618.6 299.3 617.4 299.1 617.2" stroke-width="0.95"/></g>
<path d="M319.5 586.0 L327.3 573.5 L337.5 570.7 L354.0 570.7 L364.9 578.3 L364.9 592.9 L356.3 610.9 L335.9 606.1 Z" fill="none" stroke="#808080" stroke-width="0.7"/>
<clipPath id="c9"><rect x="385.60" y="561.70" width="78.00" height="69.30"/></clipPath>
<g clip-path="url(#c9)" fill="none" stroke="#222" stroke-linejoin="round"><path d="M441.0 585.0 439.4 584.8 437.9 584.7 436.3 584.7 434.7 585.0 433.7 585.2 432.1 585.4 431.1 585.5 429.5 585.5 428.0 585.7 426.9 586.0 425.5 586.4 424.3 586.9 423.3 587.3 422.4 587.8 421.3 588.3 420.2 588.7 419.2 589.2 418.3 589.7 417.4 590.1 416.3 590.6 415.5 591.0 414.5 592.0 413.9 592.6 413.4 593.4 412.9 594.3 412.4 595.2 412.1 596.6 411.9 598.0 411.4 598.9 410.8 599.7 410.3 600.4 409.5 601.2 408.7 601.9 408.2 602.6 407.3 603.5 406.5 604.0 405.1 604.4 404.1 604.6 403.0 604.9 401.9 605.4 400.4 605.8 399.4 606.2 398.3 606.6 397.3 606.9 396.0 607.2 394.7 607.7 393.7 608.1 392.6 608.5 391.6 608.8 390.5 609.1 389.0 609.5 388.1 610.0 387.3 610.4 386.4 611.1 385.8 611.8 385.6 613.2 385.5 614.6 385.5 616.0 385.4 617.4 385.4 618.8 385.4 620.1 385.4 621.5 385.4 622.9 385.4 624.3 385.4 625.7 385.4 627.1 385.4 628.5 385.4 629.8 385.9 631.2 387.4 631.2 389.0 631.2 390.5 631.2 392.1 631.2 393.7 631.2 395.2 631.2 396.8 631.2 398.3 631.2 399.9 631.2 401.5 631.1 403.0 631.1 404.6 631.1 406.1 631.1 407.7 631.1 409.3 631.1 410.8 631.0 412.4 631.0 413.9 630.9 415.0 630.8 416.0 629.8 416.6 629.4 417.6 628.7 418.6 628.0 419.3 627.5 420.2 626.9 421.1 626.1 421.7 625.3 422.3 624.7 423.2 623.8 423.8 623.2 424.5 622.5 425.2 621.5 425.8 620.6 426.0 619.7 426.1 618.3 426.4 617.3 426.9 616.2 427.0 615.1 426.8 614.1 426.9 612.8 427.4 611.8 427.9 610.9 428.4 610.0 429.0 609.3 430.1 608.7 431.1 608.1 432.1 607.7 433.2 607.3 434.2 607.2 435.8 607.0 437.3 606.9 438.4 606.6 439.4 606.2 440.5 605.7 441.5 605.3 442.7 604.9 443.9 604.4 444.8 604.0 445.7 603.5 446.7 603.0 447.7 602.4 448.7 601.7 449.3 601.1 450.1 600.3 450.8 599.4 451.3 598.4 451.9 597.5 452.4 596.6 452.8 595.7 453.1 594.7 453.1 593.3 452.5 592.4 451.9 591.5 451.4 590.6 450.9 589.9 450.2 589.2 449.3 588.6 448.3 588.2 447.2 587.6 446.2 587.0 445.1 586.4 444.4 586.0 443.3 585.5 442.0 585.1 441.0 585.0" stroke-width="0.55"/><path d="M442.0 585.9 440.5 585.7 438.9 585.6 437.3 585.5 435.8 585.7 434.7 586.0 433.2 586.1 431.6 586.3 430.1 586.3 429.0 586.4 427.5 586.8 426.4 587.1 425.4 587.5 424.3 587.9 423.3 588.4 422.3 588.8 421.1 589.2 420.1 589.7 419.1 590.3 418.1 590.9 417.1 591.4 416.2 592.0 415.5 592.6 414.9 593.3 414.3 594.3 413.8 595.2 413.4 596.3 413.2 597.5 412.9 598.6 412.4 599.7 411.9 600.5 411.3 601.3 410.7 602.1 409.8 602.8 408.9 603.5 408.2 604.0 407.2 604.6 406.1 605.1 405.1 605.4 403.8 605.8 402.6 606.3 401.5 606.6 400.4 606.9 399.4 607.3 398.1 607.7 396.8 608.1 395.7 608.5 394.7 608.9 393.7 609.3 392.6 609.6 391.1 610.0 390.0 610.3 389.0 610.7 387.9 611.2 386.9 611.8 386.2 612.3 385.7 613.2 385.6 614.6 385.5 616.0 385.5 617.4 385.4 618.8 385.4 620.1 385.4 621.5 385.4 622.9 385.4 624.3 385.4 625.7 385.4 627.1 385.4 628.5 385.4 629.8 385.9 631.1 387.4 631.2 389.0 631.2 390.5 631.2 392.1 631.2 393.7 631.2 395.2 631.2 396.8 631.2 398.3 631.1 399.9 631.1 401.5 631.1 403.0 631.1 404.6 631.1 406.1 631.0 407.7 631.0 409.3 631.0 410.8 630.9 412.4 630.9 413.5 630.8 414.5 630.0 415.0 629.4 416.0 628.5 416.9 628.0 417.6 627.5 418.6 626.9 419.6 626.1 420.2 625.5 420.7 624.8 421.4 623.8 422.2 622.9 422.8 622.2 423.3 621.4 423.8 620.4 424.2 619.2 424.5 618.3 425.0 617.4 425.4 616.4 425.5 615.1 425.2 614.1 425.3 612.8 425.7 611.8 426.1 610.9 426.4 609.9 426.9 609.0 428.0 608.3 429.0 607.9 430.1 607.6 431.1 607.1 432.1 606.6 433.7 606.4 434.7 606.3 436.3 606.1 437.6 605.8 438.9 605.4 439.9 605.0 441.0 604.6 442.0 604.2 443.1 603.8 444.1 603.3 445.1 602.7 446.2 602.1 446.9 601.7 447.7 600.9 448.4 600.3 449.3 599.4 449.8 598.7 450.3 597.9 450.9 596.8 451.2 595.7 451.5 594.7 451.4 593.4 451.0 592.4 450.5 591.5 449.8 590.6 449.2 590.1 448.3 589.5 447.2 588.9 446.3 588.3 445.6 587.8 444.6 587.2 443.6 586.5 442.5 586.1 442.0 585.9" stroke-width="0.58"/><path d="M441.5 586.8 439.9 586.6 438.4 586.6 436.8 586.6 435.3 586.8 434.2 587.0 432.7 587.0 431.1 587.1 429.5 587.3 428.5 587.5 427.5 587.8 426.0 588.3 424.9 588.7 423.9 589.2 422.8 589.5 421.7 589.9 420.7 590.4 420.0 591.0 419.1 591.7 418.1 592.3 417.4 592.9 416.6 593.8 416.0 594.6 415.5 595.3 415.0 596.1 414.5 597.0 414.0 598.4 413.9 599.4 413.5 600.7 413.0 601.7 412.6 602.6 411.9 603.4 410.9 604.0 409.9 604.4 409.0 604.9 408.1 605.4 407.2 605.8 406.1 606.3 405.0 606.7 403.9 607.2 402.5 607.6 401.5 607.8 400.1 608.1 398.9 608.5 397.8 608.9 396.8 609.3 395.7 609.7 394.7 610.1 393.1 610.4 392.1 610.6 391.1 611.0 390.0 611.4 388.9 611.8 387.9 612.3 386.9 612.9 385.9 613.7 385.8 614.6 385.6 616.0 385.5 617.4 385.5 618.8 385.5 620.1 385.4 621.5 385.4 622.9 385.4 624.3 385.4 625.7 385.5 627.1 385.5 628.5 385.5 629.8 385.9 631.1 387.4 631.1 389.0 631.1 390.5 631.1 392.1 631.1 393.7 631.1 395.2 631.1 396.8 631.1 398.3 631.1 399.9 631.1 401.5 631.0 403.0 631.0 404.6 631.0 406.1 630.9 407.7 630.9 409.3 630.9 410.8 630.8 411.9 630.3 412.8 629.8 413.5 629.4 414.5 628.5 415.0 628.0 416.0 627.4 417.1 626.8 418.1 626.1 418.6 625.7 419.4 624.8 420.0 623.8 420.6 622.9 421.2 622.1 421.7 621.3 422.3 620.3 422.7 619.2 423.0 618.3 423.3 617.4 423.8 616.4 423.9 615.1 423.5 614.1 423.3 612.8 423.5 611.4 423.7 610.0 424.0 609.1 424.8 608.1 425.7 607.7 426.9 607.2 428.0 607.0 429.0 606.7 430.4 606.3 431.6 605.8 432.7 605.7 434.2 605.6 435.5 605.4 436.8 605.1 437.9 604.8 438.9 604.4 440.4 604.0 441.5 603.6 442.5 603.0 443.2 602.6 444.1 602.0 445.1 601.3 445.8 600.7 446.7 600.1 447.7 599.4 448.3 598.9 449.1 598.0 449.6 597.0 449.9 596.1 450.1 594.7 449.9 593.3 449.6 592.4 448.9 591.5 448.3 591.0 447.2 590.2 446.5 589.7 445.7 589.0 444.6 588.4 443.7 587.8 442.9 587.3 441.8 586.9 441.5 586.8" stroke-width="0.6"/><path d="M439.9 587.8 438.4 587.6 436.8 587.6 435.3 587.8 434.2 587.9 432.7 587.9 431.1 588.0 429.5 588.2 428.5 588.4 427.5 588.7 426.1 589.2 425.2 589.7 424.1 590.1 422.8 590.5 421.7 591.0 421.1 591.5 420.2 592.4 419.7 592.9 418.6 593.8 418.1 594.4 417.5 595.2 416.7 596.1 416.0 597.0 415.5 597.8 415.3 598.9 415.8 599.8 416.5 600.6 416.8 601.7 416.0 602.4 415.0 603.0 414.4 603.5 413.4 604.2 412.4 604.8 411.3 605.3 410.3 605.7 409.3 606.1 408.2 606.6 407.2 607.1 406.1 607.6 405.1 608.0 404.1 608.3 403.0 608.7 401.5 609.0 400.4 609.2 399.3 609.5 398.1 610.0 396.8 610.4 395.7 610.7 394.7 611.0 393.1 611.3 392.1 611.6 391.1 612.0 390.0 612.4 389.0 612.8 387.9 613.3 386.9 614.1 386.4 614.7 385.8 615.5 385.7 616.9 385.6 618.3 385.5 619.7 385.5 621.1 385.5 622.5 385.5 623.8 385.5 625.2 385.5 626.6 385.5 628.0 385.6 629.4 385.6 630.8 386.9 631.0 388.5 631.1 390.0 631.1 391.6 631.1 393.1 631.1 394.7 631.1 396.3 631.1 397.8 631.1 399.4 631.0 400.9 630.9 402.5 630.9 404.1 630.9 405.6 630.8 406.8 630.8 408.2 630.5 409.3 630.1 410.3 629.6 411.3 629.1 412.4 628.5 413.2 628.0 413.9 627.4 415.0 626.7 416.0 626.2 416.9 625.7 417.6 625.1 418.2 624.3 418.8 623.4 419.4 622.5 420.2 621.5 420.7 620.8 421.2 619.8 421.5 618.8 421.7 617.4 421.6 616.0 421.4 614.6 421.2 613.6 421.0 612.3 420.8 610.9 420.8 609.5 421.3 608.6 422.0 607.7 422.8 606.9 423.8 606.4 424.9 606.2 426.4 606.0 427.5 605.8 429.0 605.5 430.1 605.2 431.6 604.9 432.7 604.9 434.2 604.8 435.8 604.5 436.8 604.2 437.9 603.9 439.2 603.5 440.5 603.2 441.5 602.7 442.2 602.1 443.1 601.3 443.8 600.7 444.6 600.2 445.7 599.6 446.7 598.9 447.4 598.4 448.2 597.5 448.6 596.6 448.8 595.2 448.6 593.8 448.0 592.9 447.2 592.2 446.4 591.5 445.7 590.7 444.7 590.1 443.6 589.7 442.5 589.3 441.8 588.7 441.0 588.2 439.9 587.8" stroke-width="0.62"/><path d="M418.6 604.9 417.1 604.6 415.8 604.9 414.6 605.4 413.4 605.7 412.4 606.1 411.3 606.6 410.3 606.9 409.3 607.4 408.2 608.0 407.2 608.4 406.1 608.7 404.9 609.1 403.6 609.5 402.5 609.8 401.5 610.1 400.0 610.4 398.9 610.9 397.8 611.2 396.8 611.5 395.3 611.8 394.2 612.0 392.9 612.3 391.7 612.8 390.8 613.2 389.7 613.7 388.7 614.1 387.9 614.6 387.0 615.5 386.4 616.2 385.8 616.9 385.7 618.3 385.6 619.7 385.6 621.1 385.6 622.5 385.6 623.8 385.6 625.2 385.6 626.6 385.6 628.0 385.7 629.4 385.7 630.8 386.9 630.9 388.5 631.0 390.0 631.0 391.6 631.0 393.1 631.0 394.7 631.0 396.3 631.0 397.8 631.0 399.4 630.9 400.7 630.8 402.0 630.5 403.5 630.4 404.6 630.2 406.1 629.8 407.2 629.6 408.2 629.3 409.3 628.7 410.3 628.1 411.3 627.5 412.3 627.1 413.0 626.6 413.9 626.0 415.0 625.4 415.9 624.8 416.5 624.0 417.1 623.2 417.6 622.5 418.4 621.5 419.1 620.7 419.7 619.7 419.8 618.8 419.5 617.8 418.6 616.9 418.5 616.0 418.9 615.1 419.2 614.1 419.4 612.8 419.3 611.4 419.1 610.4 418.9 609.1 419.0 607.7 419.3 606.7 419.1 605.5 418.6 604.9 M438.9 588.6 437.3 588.4 435.8 588.6 434.7 588.7 433.2 588.8 431.6 588.8 430.1 589.0 429.0 589.2 427.5 589.6 426.4 590.1 425.4 590.6 424.4 591.0 423.3 591.4 422.4 592.0 421.7 592.5 421.0 593.3 420.2 594.1 419.6 594.7 418.8 595.7 418.1 596.6 417.6 597.5 417.6 598.0 418.1 598.9 418.7 599.8 419.1 601.0 419.7 602.0 420.2 602.6 421.2 603.3 422.3 603.8 423.6 604.0 424.9 604.3 425.9 604.5 427.2 604.4 428.5 604.2 430.1 604.1 431.6 604.1 433.2 604.2 434.7 604.0 435.8 603.7 436.8 603.3 437.9 603.0 439.4 602.7 440.5 602.4 441.4 601.7 442.0 600.8 442.6 600.3 443.6 599.6 444.6 599.0 445.5 598.4 446.2 598.0 447.0 597.0 447.3 596.1 447.1 595.2 446.4 594.3 445.7 593.4 445.1 592.8 444.1 592.0 443.1 591.5 442.0 591.1 441.4 590.6 440.6 589.7 439.9 589.1 438.9 588.6" stroke-width="0.65"/><path d="M416.0 607.5 414.5 607.3 412.9 607.7 411.9 608.1 411.2 608.6 410.3 609.3 409.3 609.7 407.7 610.0 406.1 610.0 405.1 610.1 403.9 610.4 402.5 610.9 401.5 611.1 400.4 611.5 399.4 611.9 398.3 612.3 396.8 612.6 395.7 612.8 394.2 613.1 393.1 613.3 392.1 613.8 391.1 614.4 390.0 614.8 389.0 615.2 387.9 615.9 387.4 616.4 386.5 617.4 385.9 618.3 385.8 619.2 385.8 620.6 385.7 622.0 385.7 623.4 385.7 624.8 385.7 626.1 385.7 627.5 385.8 628.9 386.0 629.8 386.6 630.8 387.9 630.8 389.5 630.8 391.1 630.9 392.6 630.9 394.2 630.8 395.7 630.8 397.3 630.8 398.7 630.8 399.4 630.3 400.4 629.7 402.0 629.5 403.5 629.5 404.6 629.3 406.0 628.9 407.2 628.5 408.2 628.0 409.0 627.5 409.8 627.0 410.8 626.5 411.9 625.9 412.8 625.2 413.4 624.6 414.0 623.8 414.5 622.9 415.1 622.0 416.0 621.1 416.5 620.6 417.0 619.2 416.7 617.8 416.4 616.9 416.4 615.5 417.0 614.6 417.6 613.8 418.0 612.8 417.9 611.4 417.6 610.2 417.2 609.1 416.7 608.1 416.0 607.5 M438.9 589.6 437.3 589.2 435.8 589.4 434.7 589.7 433.2 589.8 431.6 589.8 430.1 589.9 428.9 590.1 427.5 590.6 426.6 591.0 425.7 591.5 424.7 592.0 423.8 592.5 422.8 593.2 422.2 593.8 421.2 594.7 420.7 595.4 420.2 596.2 420.0 597.5 420.2 598.4 420.6 599.8 421.0 600.7 421.7 601.4 422.8 601.7 424.3 602.1 425.4 602.6 426.4 602.9 428.0 603.0 429.0 603.1 430.6 603.1 432.1 603.3 433.7 603.4 435.1 603.0 436.3 602.6 437.3 602.3 438.4 602.1 439.7 601.7 440.5 601.1 441.2 600.3 442.0 599.4 442.6 598.9 443.5 598.0 444.1 597.1 444.5 596.1 444.4 594.7 444.0 593.8 443.1 592.9 442.2 592.4 441.4 592.0 440.5 591.1 439.9 590.6 438.9 589.7 438.9 589.6" stroke-width="0.68"/><path d="M406.7 611.3 405.3 611.4 404.1 611.7 403.0 611.9 401.6 612.3 400.4 612.8 399.4 613.2 398.3 613.5 397.3 613.7 395.7 613.9 394.3 614.1 393.1 614.5 392.1 615.0 391.1 615.5 390.0 615.9 389.0 616.4 388.3 616.9 387.4 617.8 386.9 618.7 386.6 619.7 386.3 620.6 385.9 621.8 385.8 622.9 385.8 624.3 385.9 625.4 386.0 626.6 386.4 627.6 386.9 628.5 387.7 629.4 388.9 629.8 390.0 629.9 391.6 630.1 393.1 630.0 394.7 629.9 396.3 630.0 397.7 629.8 398.6 629.4 399.7 628.9 400.9 628.6 402.5 628.6 404.1 628.5 405.1 628.2 406.1 627.8 407.2 627.3 408.2 626.7 409.0 626.1 409.8 625.7 410.8 625.2 411.9 624.5 412.4 623.8 412.9 622.9 413.4 621.8 413.9 620.9 414.6 620.1 415.1 619.2 415.2 617.8 415.0 616.4 414.9 615.5 415.0 614.6 415.5 613.6 415.6 612.3 414.5 611.9 412.9 611.9 411.3 611.9 410.2 611.8 408.7 611.6 407.2 611.4 406.7 611.3 M438.4 590.5 436.8 590.1 435.3 590.5 434.2 590.7 432.7 590.9 431.1 590.8 429.5 590.9 428.5 591.3 427.5 591.8 426.4 592.3 425.4 592.8 424.6 593.3 423.8 594.0 423.1 594.7 422.3 595.6 421.7 596.4 421.6 597.5 421.8 598.4 422.3 599.4 423.0 600.3 423.9 600.7 425.1 601.2 426.4 601.5 427.5 601.8 429.0 602.1 430.1 602.2 431.6 602.4 433.2 602.5 434.7 602.3 435.8 601.8 436.8 601.5 437.9 601.2 439.0 600.7 439.9 600.0 440.5 599.4 441.3 598.4 441.9 597.5 442.4 596.6 442.9 595.7 442.7 594.3 442.0 593.5 441.1 592.9 440.5 592.4 439.5 591.5 438.9 590.9 438.4 590.5" stroke-width="0.7"/><path d="M408.2 612.3 406.7 612.0 405.1 612.2 404.1 612.5 402.9 612.8 401.5 613.2 400.4 613.6 399.4 614.0 398.3 614.2 396.8 614.4 395.2 614.6 394.2 614.7 393.1 615.1 392.1 615.6 391.1 616.1 390.0 616.6 389.0 617.2 388.2 617.8 387.5 618.8 387.2 619.7 386.8 620.6 386.4 621.7 386.1 622.9 386.2 624.3 386.4 625.5 386.6 626.6 387.1 627.5 387.9 628.4 389.0 628.9 390.0 629.1 391.6 629.2 393.1 629.0 394.2 628.9 395.2 629.0 396.8 629.1 397.8 628.9 399.3 628.5 400.4 628.2 402.0 628.0 403.5 628.1 404.6 627.8 405.6 627.3 406.7 626.8 407.6 626.1 408.3 625.7 409.3 625.2 410.3 624.8 411.3 624.1 412.0 623.4 412.5 622.5 412.9 621.1 413.3 620.1 413.9 619.2 414.2 618.3 414.3 616.9 414.1 615.5 413.9 614.6 413.4 613.4 412.4 612.9 411.2 612.8 409.8 612.6 408.3 612.3 408.2 612.3 M437.9 590.9 436.3 590.7 435.1 591.0 433.7 591.3 432.1 591.4 430.6 591.4 429.5 591.6 428.5 592.0 427.5 592.5 426.4 593.0 425.4 593.6 424.6 594.3 423.8 595.1 423.3 595.7 422.6 596.6 422.5 598.0 422.9 598.9 423.7 599.8 424.5 600.3 425.9 600.7 426.9 600.9 428.1 601.2 429.5 601.6 430.6 601.8 432.1 602.0 433.7 602.0 434.8 601.7 435.9 601.2 437.3 600.8 438.4 600.4 439.2 599.8 439.9 599.1 440.5 598.4 441.1 597.5 441.5 596.6 442.0 595.6 442.0 594.7 441.3 593.8 440.5 593.1 439.7 592.4 438.9 591.7 438.1 591.0 437.9 590.9" stroke-width="0.72"/><path d="M406.7 612.7 405.6 612.8 404.1 613.2 403.0 613.5 402.0 613.8 400.9 614.2 399.8 614.6 398.3 614.9 396.8 615.0 395.2 615.0 394.2 615.2 393.1 615.5 392.1 616.1 391.1 616.8 390.0 617.4 389.2 617.8 388.5 618.5 387.9 619.2 387.4 620.3 386.9 621.5 386.6 622.5 386.6 623.8 386.8 625.2 387.0 626.1 387.5 627.1 388.5 627.9 389.5 628.3 391.1 628.4 392.6 628.1 393.7 627.9 394.9 628.0 396.3 628.2 397.8 628.2 399.1 628.0 400.4 627.7 402.0 627.6 403.2 627.5 404.6 627.1 405.5 626.6 406.2 626.1 407.2 625.4 408.2 624.8 409.3 624.4 410.3 624.1 411.2 623.4 411.8 622.5 412.0 621.5 412.3 620.1 412.8 619.2 413.2 618.3 413.5 617.4 413.4 616.3 413.0 615.1 412.4 614.2 411.3 613.7 410.3 613.4 409.3 613.2 407.7 612.8 406.7 612.7 M437.3 591.4 435.8 591.3 434.7 591.6 433.2 591.9 431.6 592.0 430.6 592.0 429.3 592.4 428.5 592.9 427.4 593.3 426.4 593.8 425.4 594.6 424.8 595.2 424.0 596.1 423.4 597.0 423.6 598.4 424.3 599.4 425.4 599.8 426.4 599.9 427.9 600.3 428.8 600.7 430.1 601.2 431.1 601.3 432.7 601.5 434.2 601.4 435.3 600.9 436.3 600.5 437.3 600.2 438.4 599.7 439.4 598.9 439.9 598.2 440.5 597.3 441.0 596.1 441.2 595.2 440.9 594.3 440.0 593.3 439.4 592.9 438.4 592.0 437.7 591.5 437.3 591.4" stroke-width="0.75"/><path d="M407.7 613.6 406.1 613.5 404.8 613.7 403.5 614.0 402.5 614.3 401.5 614.7 400.4 615.2 398.9 615.5 397.8 615.5 396.8 615.5 395.2 615.5 394.2 615.6 393.1 616.0 392.1 616.7 391.3 617.4 390.5 618.0 389.5 618.6 388.7 619.2 388.1 620.1 387.6 621.1 387.2 622.0 387.0 623.4 387.2 624.8 387.5 625.7 388.0 626.6 389.0 627.3 390.0 627.6 391.2 627.5 392.1 627.1 393.1 626.5 394.2 626.8 395.2 627.2 396.8 627.5 397.8 627.5 398.9 627.5 400.4 627.3 401.9 627.1 403.0 627.0 404.2 626.6 405.1 626.0 406.1 625.2 406.7 624.8 407.7 624.1 408.7 623.7 409.8 623.4 410.8 622.6 411.2 621.5 411.3 620.6 411.8 619.2 412.3 618.3 412.6 617.4 412.5 616.0 411.9 615.1 411.0 614.6 409.8 614.1 408.7 613.8 407.7 613.6 M436.8 591.9 435.3 592.0 434.2 592.2 433.0 592.4 431.6 592.6 430.2 592.9 429.2 593.3 428.3 593.8 427.3 594.3 426.4 594.9 425.7 595.7 425.1 596.6 424.8 597.5 425.4 598.2 426.9 598.4 427.7 598.9 428.5 599.6 429.4 600.3 430.6 600.7 431.6 600.9 433.2 601.0 434.3 600.7 435.4 600.3 436.8 599.8 437.9 599.4 438.6 598.9 439.4 598.0 439.8 597.0 440.1 596.1 440.2 594.7 439.5 593.8 438.9 593.2 437.9 592.4 437.1 592.0 436.8 591.9" stroke-width="0.78"/><path d="M408.2 614.5 406.7 614.3 405.1 614.2 403.5 614.6 402.5 615.0 401.5 615.5 400.4 615.9 399.4 616.2 397.8 616.1 396.3 616.0 395.2 616.0 394.2 616.1 393.1 616.6 392.2 617.4 391.6 618.3 391.1 618.9 390.0 619.4 389.0 620.0 388.4 620.6 387.9 621.5 387.4 622.9 387.7 624.3 388.2 625.2 389.0 625.9 390.0 625.7 390.7 624.8 391.5 623.8 392.6 623.5 393.5 624.3 394.1 625.2 394.7 625.8 395.7 626.4 396.8 626.6 398.3 626.9 399.9 626.9 401.3 626.6 402.5 626.5 403.7 626.1 404.6 625.6 405.6 624.8 406.1 624.3 407.2 623.5 408.2 622.9 409.0 622.5 409.8 621.7 410.3 620.6 410.7 619.7 411.2 618.8 411.6 617.8 411.6 616.4 410.8 615.5 409.9 615.1 408.7 614.7 408.2 614.5 M436.8 592.7 435.3 592.6 434.1 592.9 432.7 593.2 431.6 593.3 430.1 593.8 429.1 594.3 428.2 594.7 427.5 595.4 427.3 596.6 428.0 597.5 428.5 598.1 429.1 598.9 430.1 599.7 431.1 600.1 432.7 600.3 434.2 600.0 435.3 599.6 436.3 599.3 437.3 598.9 438.4 598.1 438.9 597.1 439.1 596.1 439.0 594.7 438.4 593.8 437.9 593.3 436.8 592.7" stroke-width="0.8"/><path d="M406.7 615.0 405.1 614.8 403.8 615.1 402.8 615.5 402.0 616.0 400.9 616.5 399.6 616.9 398.6 616.9 397.3 616.7 395.7 616.5 394.2 616.7 393.1 617.4 392.6 618.2 392.4 619.2 392.2 620.6 392.6 622.0 393.1 622.6 393.9 623.4 394.7 624.3 395.2 624.8 396.3 625.3 397.3 625.7 398.3 626.2 399.9 626.3 400.9 626.1 402.5 625.9 403.5 625.5 404.6 624.8 405.1 624.3 406.0 623.4 406.7 622.8 407.6 622.0 408.2 621.4 409.0 620.6 409.6 619.7 410.1 618.8 410.5 617.8 410.3 616.6 409.5 616.0 408.5 615.5 407.2 615.2 406.7 615.0 M390.0 620.8 389.0 621.1 388.3 622.0 388.1 623.4 389.0 624.3 390.0 623.6 390.5 622.9 390.9 621.5 390.0 620.8 M433.2 594.2 432.1 594.3 430.6 594.6 429.5 595.0 428.7 595.7 428.9 597.0 429.5 597.8 430.2 598.4 431.1 598.9 432.5 598.9 433.7 598.6 434.6 598.0 434.4 596.6 434.5 595.2 433.7 594.3 433.2 594.2" stroke-width="0.82"/><path d="M405.6 615.5 404.3 615.5 403.1 616.0 402.4 616.4 401.5 617.3 400.6 617.8 399.4 617.9 398.3 617.8 396.8 617.4 395.7 617.3 394.6 617.4 393.7 618.3 393.5 619.2 393.4 620.6 393.7 621.8 394.2 622.7 394.8 623.4 395.7 623.9 397.3 624.1 398.3 624.7 399.0 625.2 400.4 625.4 402.0 625.2 403.0 625.0 404.1 624.3 404.6 623.8 405.2 622.9 406.0 622.0 406.7 621.4 407.6 620.6 408.2 619.7 408.6 618.8 408.6 617.4 407.7 616.4 406.9 616.0 405.7 615.5 405.6 615.5" stroke-width="0.85"/><path d="M405.6 616.3 404.1 616.3 403.0 616.9 402.5 617.4 402.0 618.3 401.5 619.6 400.9 620.1 399.9 620.1 398.9 619.6 397.8 619.0 396.8 618.6 395.2 618.7 394.7 619.5 394.4 620.6 394.6 622.0 395.2 622.7 396.8 622.8 398.3 622.8 399.0 623.4 399.9 624.1 400.9 624.4 402.2 624.3 403.2 623.8 403.9 622.9 404.4 622.0 405.1 621.4 406.1 620.7 406.8 620.1 407.3 619.2 407.2 618.0 406.7 617.2 405.8 616.4 405.6 616.3" stroke-width="0.88"/><path d="M405.1 617.2 403.8 617.4 403.0 618.3 402.8 619.2 403.1 620.1 404.6 620.5 405.6 620.0 406.2 619.2 406.1 618.3 405.3 617.4 405.1 617.2" stroke-width="0.9"/></g>
<path d="M416.0 586.0 L423.8 573.5 L434.0 570.7 L450.3 570.7 L461.3 578.3 L461.3 592.9 L452.7 610.9 L432.4 606.1 Z" fill="none" stroke="#808080" stroke-width="0.7"/>
<ellipse cx="456.2" cy="590.1" rx="2.5" ry="1.8" fill="none" stroke="#444" stroke-width="0.5"/>
<clipPath id="c10"><rect x="288.90" y="643.50" width="78.40" height="70.00"/></clipPath>
<g clip-path="url(#c10)" fill="none" stroke="#111" stroke-linejoin="round"><path d="M333.1 678.1 331.5 677.9 329.9 678.0 328.4 678.1 326.8 678.0 325.2 677.9 323.7 678.0 322.1 678.3 321.0 678.5 320.0 678.8 318.9 679.2 317.7 679.7 316.3 680.1 315.3 680.5 314.2 680.9 313.2 681.3 312.2 681.7 311.0 682.0 309.5 682.4 308.5 682.9 307.7 683.4 306.9 683.9 305.4 684.3 303.9 683.9 302.8 683.4 301.7 683.1 300.7 682.9 299.4 682.9 298.0 683.2 297.0 683.5 295.4 683.8 294.4 684.0 292.9 684.3 291.8 684.7 290.7 685.2 289.7 685.7 289.1 686.2 289.0 687.6 288.9 689.0 288.8 690.4 288.7 691.8 288.7 693.2 288.7 694.6 288.7 696.0 288.7 697.4 288.7 698.8 288.7 700.2 288.7 701.6 288.7 703.0 288.7 704.4 288.7 705.8 288.7 707.2 288.7 708.6 288.7 710.0 288.7 711.4 288.7 712.8 289.7 713.7 291.3 713.7 292.8 713.7 294.4 713.7 296.0 713.7 297.5 713.7 299.1 713.7 300.7 713.7 302.2 713.6 303.8 713.6 305.4 713.6 306.9 713.6 308.5 713.5 310.1 713.5 311.6 713.4 313.2 713.3 314.0 712.8 314.7 711.9 315.2 710.9 315.4 710.0 315.8 708.8 316.2 707.7 316.3 706.6 316.5 705.3 316.9 704.2 317.4 703.2 317.9 702.4 318.4 701.6 319.2 700.7 320.0 699.8 320.6 699.3 321.6 698.4 322.1 697.9 323.1 696.9 323.7 696.2 324.2 695.4 324.8 694.6 325.7 693.7 326.8 693.2 327.8 692.9 328.9 692.7 330.2 692.3 331.4 691.8 332.3 691.3 333.1 690.8 334.1 690.1 335.2 689.5 336.2 689.0 337.1 688.5 337.8 688.0 338.7 687.1 339.3 686.6 340.3 685.7 340.9 685.1 341.4 684.0 341.4 683.3 340.9 682.2 340.4 681.5 339.6 680.6 338.7 680.1 337.2 679.8 336.2 679.6 335.2 679.2 334.1 678.6 333.1 678.1" stroke-width="0.55"/><path d="M326.3 678.7 324.7 678.6 323.3 678.7 322.1 679.0 321.0 679.3 320.0 679.7 318.5 680.1 317.4 680.5 316.3 680.8 315.3 681.3 314.2 681.7 313.2 682.1 312.2 682.5 311.1 682.9 310.1 683.4 309.0 684.0 308.0 684.8 306.9 685.3 305.9 685.4 304.8 685.3 303.4 684.8 302.3 684.3 301.2 684.0 299.6 684.0 298.0 684.3 297.0 684.6 296.0 684.9 294.4 685.3 293.3 685.5 292.3 685.8 291.1 686.2 290.1 686.7 289.2 687.3 289.0 688.5 288.9 689.9 288.8 691.3 288.7 692.7 288.7 694.1 288.7 695.5 288.7 696.9 288.7 698.3 288.7 699.7 288.7 701.1 288.7 702.5 288.7 703.9 288.7 705.3 288.7 706.7 288.7 708.1 288.7 709.5 288.7 710.9 288.7 712.3 289.2 713.6 290.7 713.7 292.3 713.7 293.9 713.7 295.4 713.7 297.0 713.6 298.6 713.6 300.1 713.6 301.7 713.6 303.3 713.6 304.8 713.6 306.4 713.6 308.0 713.5 309.5 713.4 311.1 713.3 312.2 712.9 312.8 712.3 313.6 711.4 314.1 710.5 314.3 709.5 314.6 708.1 314.8 707.2 315.0 705.8 315.3 704.4 315.7 703.5 316.3 702.5 316.9 701.7 317.4 701.0 318.0 700.2 318.8 699.3 319.5 698.7 320.5 698.0 321.2 697.4 322.1 696.5 322.6 695.9 323.2 695.1 323.9 694.1 324.7 693.4 325.7 692.7 326.8 692.3 327.8 692.1 329.1 691.8 330.4 691.3 331.5 690.9 332.2 690.4 333.1 689.8 334.1 689.1 335.2 688.6 336.1 688.1 336.7 687.5 337.6 686.7 338.3 686.0 339.1 685.3 339.9 684.4 340.1 683.4 339.7 682.5 338.9 681.5 337.9 681.1 336.7 680.8 335.7 680.5 334.6 680.1 333.6 679.5 332.5 679.0 331.0 678.8 329.4 678.9 327.8 678.8 326.7 678.7 326.3 678.7" stroke-width="0.58"/><path d="M329.9 679.6 328.4 679.6 326.8 679.5 325.2 679.3 323.7 679.4 322.6 679.7 321.2 680.1 320.0 680.5 319.0 680.8 317.9 681.1 316.7 681.5 315.6 682.0 314.5 682.5 313.5 682.9 312.5 683.4 311.6 683.9 310.6 684.6 309.6 685.3 308.9 685.7 308.0 686.3 306.4 686.6 304.8 686.3 303.8 686.0 302.8 685.6 301.7 685.2 300.1 684.9 298.6 685.1 297.5 685.4 296.3 685.7 294.9 686.0 293.9 686.3 292.4 686.7 291.3 687.1 290.6 687.6 289.7 688.3 289.1 689.0 288.9 690.4 288.8 691.8 288.8 693.2 288.7 694.6 288.7 696.0 288.7 697.4 288.7 698.8 288.7 700.2 288.7 701.6 288.7 703.0 288.7 704.4 288.7 705.8 288.7 707.2 288.7 708.6 288.7 710.0 288.7 711.4 288.8 712.8 289.7 713.6 291.3 713.7 292.8 713.7 294.4 713.7 296.0 713.6 297.5 713.6 299.1 713.6 300.7 713.6 302.2 713.5 303.8 713.5 305.4 713.5 306.9 713.5 308.5 713.3 309.1 712.8 310.1 712.2 311.1 711.7 312.1 710.9 312.6 710.0 312.8 709.1 313.0 707.7 313.2 706.6 313.4 705.3 313.7 704.0 314.1 703.0 314.7 702.1 315.3 701.4 316.0 700.7 316.9 699.7 317.4 699.0 318.0 698.3 319.0 697.6 320.0 697.0 320.6 696.5 321.5 695.5 322.1 694.6 322.6 693.9 323.4 693.2 324.2 692.7 325.2 692.0 326.3 691.7 327.8 691.4 328.9 691.1 329.9 690.6 331.0 690.1 331.9 689.5 332.6 689.0 333.6 688.5 334.6 687.9 335.7 687.2 336.2 686.7 336.9 685.7 337.5 684.8 337.9 683.9 337.4 682.9 336.7 682.5 335.7 681.9 334.6 681.4 333.6 680.8 332.5 680.2 331.5 679.8 330.2 679.7 329.9 679.6" stroke-width="0.6"/><path d="M325.2 680.1 323.7 680.1 322.6 680.4 321.6 680.7 320.5 681.1 319.2 681.5 318.0 682.0 316.9 682.5 315.8 682.9 314.8 683.4 313.9 683.9 313.2 684.4 312.2 685.2 311.4 685.7 310.6 686.2 309.5 687.0 309.0 687.6 308.0 688.2 306.4 688.1 305.4 687.7 304.3 687.3 303.3 687.0 302.2 686.6 301.1 686.2 299.6 686.0 298.4 686.2 297.0 686.5 296.0 686.7 294.4 686.9 293.3 687.2 292.3 687.6 291.3 688.4 290.6 689.0 289.7 689.6 289.1 690.4 288.9 691.8 288.9 693.2 288.8 694.6 288.7 696.0 288.7 697.4 288.7 698.8 288.7 700.2 288.7 701.6 288.7 703.0 288.7 704.4 288.7 705.8 288.7 707.2 288.7 708.6 288.8 710.0 288.8 711.4 288.9 712.8 289.7 713.6 291.3 713.6 292.8 713.6 294.4 713.6 296.0 713.5 297.5 713.5 299.1 713.5 300.7 713.5 302.2 713.4 303.8 713.4 305.4 713.4 306.9 713.3 307.7 712.8 308.3 711.9 309.0 711.2 310.1 710.6 310.8 710.0 311.4 709.1 311.7 708.1 311.9 706.7 312.0 705.3 312.2 704.4 312.6 703.0 313.1 702.1 313.7 701.3 314.4 700.7 315.3 699.7 315.8 699.1 316.4 698.3 317.2 697.4 317.9 696.9 319.0 696.3 319.9 695.5 320.5 694.7 321.0 693.9 321.6 693.2 322.6 692.3 323.4 691.8 324.5 691.3 325.7 691.0 326.8 690.8 328.4 690.5 329.4 690.0 330.2 689.5 331.0 688.9 332.0 688.3 333.1 687.7 334.0 687.1 334.6 686.7 335.5 685.7 335.8 684.8 335.6 683.9 334.9 682.9 334.1 682.4 333.1 681.7 332.0 681.1 331.0 680.6 329.9 680.3 328.4 680.3 326.8 680.3 325.6 680.1 325.2 680.1" stroke-width="0.62"/><path d="M329.4 681.0 327.8 681.0 326.3 681.0 324.7 680.8 323.1 680.9 322.1 681.3 321.0 681.6 320.0 682.1 319.0 682.6 317.9 683.1 316.9 683.6 315.8 684.1 314.8 684.7 314.2 685.3 313.3 686.2 312.7 686.8 311.6 687.5 310.8 688.1 310.1 688.7 309.0 689.3 308.0 689.6 306.4 689.5 305.4 689.1 304.3 688.6 303.3 688.3 302.1 688.1 300.7 687.8 299.6 687.6 298.0 687.5 296.5 687.5 294.9 687.6 293.9 687.8 292.8 688.3 292.1 689.0 291.3 689.8 290.3 690.4 289.4 690.9 289.1 691.8 289.0 693.2 288.9 694.6 288.8 696.0 288.8 697.4 288.8 698.8 288.8 700.2 288.7 701.6 288.7 703.0 288.7 704.4 288.7 705.8 288.7 707.2 288.8 708.6 288.8 710.0 288.9 711.4 289.0 712.8 289.7 713.5 291.3 713.6 292.8 713.6 294.4 713.5 296.0 713.4 297.5 713.4 299.1 713.4 300.7 713.4 302.2 713.3 303.3 713.3 304.8 713.1 306.0 712.8 306.9 712.0 307.5 711.3 308.3 710.5 309.0 710.0 310.0 709.1 310.5 708.1 310.7 707.2 310.6 706.2 310.6 704.9 310.9 703.9 311.3 703.0 311.8 702.1 312.4 701.1 313.2 700.2 313.7 699.5 314.2 698.8 314.9 697.9 315.7 696.9 316.3 696.4 317.4 695.7 318.3 695.1 319.0 694.3 319.5 693.5 320.0 692.7 320.8 691.8 321.6 691.0 322.5 690.4 323.7 690.2 325.2 690.1 326.8 690.0 327.8 689.8 328.9 689.3 329.9 688.6 330.6 688.1 331.5 687.5 332.5 686.7 333.1 686.2 333.9 685.3 333.9 683.9 333.1 683.0 332.4 682.5 331.5 681.8 330.5 681.3 329.4 681.0" stroke-width="0.65"/><path d="M329.4 681.9 327.8 681.8 326.3 682.0 324.7 681.7 323.1 681.7 322.1 682.0 321.0 682.5 320.0 683.1 319.0 683.8 318.1 684.3 317.2 684.8 316.3 685.3 315.3 686.1 314.8 686.8 314.3 688.1 314.2 689.0 314.6 689.9 313.7 690.5 312.5 690.4 311.1 690.4 310.1 690.5 308.5 690.9 307.5 691.2 305.9 691.0 304.9 690.4 304.0 689.9 302.8 689.5 301.7 689.3 300.1 689.1 298.9 689.0 297.5 688.8 296.0 688.5 294.9 688.5 293.9 688.8 293.0 689.5 292.3 690.3 291.7 690.9 290.7 691.4 289.7 692.1 289.2 692.7 289.0 694.1 288.9 695.5 288.8 696.9 288.8 698.3 288.8 699.7 288.8 701.1 288.8 702.5 288.8 703.9 288.8 705.3 288.8 706.7 288.8 708.1 288.9 709.5 288.9 710.9 289.1 712.3 289.3 713.3 290.7 713.5 292.3 713.5 293.9 713.5 295.4 713.3 296.5 713.1 298.0 713.1 299.6 713.0 300.7 712.7 301.7 712.3 302.9 711.9 304.3 711.7 305.7 711.4 306.4 710.9 307.5 710.0 308.0 709.5 309.0 708.6 309.3 707.7 309.2 706.3 309.2 704.9 309.5 703.9 310.1 702.9 310.6 701.9 311.1 700.9 311.6 700.2 312.2 699.3 312.8 698.3 313.5 697.4 314.1 696.5 314.8 695.7 315.6 695.1 316.3 694.4 316.9 693.5 317.3 692.3 317.9 691.4 318.9 690.9 319.8 690.4 320.6 689.9 321.6 689.4 322.9 689.0 324.2 689.0 325.2 689.0 326.8 689.0 327.8 688.8 328.9 688.2 329.7 687.6 330.5 687.0 331.2 686.2 331.7 685.3 331.8 683.9 331.2 682.9 330.5 682.3 329.4 681.9" stroke-width="0.68"/><path d="M295.4 689.9 294.4 690.1 293.6 690.9 292.8 691.6 292.0 692.3 291.3 692.8 290.2 693.5 289.6 694.1 289.1 695.1 289.0 696.5 289.0 697.9 288.9 699.3 288.9 700.7 288.9 702.1 288.8 703.5 288.8 704.9 288.9 706.3 288.9 707.7 289.0 709.1 289.1 710.5 289.2 711.5 289.7 712.3 290.4 713.3 291.8 713.4 293.3 713.4 294.7 713.3 295.4 712.5 296.4 711.9 297.5 711.6 299.1 711.6 300.2 711.4 301.7 710.9 302.8 710.5 303.8 710.3 305.4 710.1 306.3 709.5 306.9 709.0 307.5 708.1 307.8 706.7 308.0 705.5 308.3 704.4 308.6 703.5 309.0 702.4 309.5 701.1 309.8 700.2 310.2 699.3 310.9 698.3 311.6 697.4 312.2 696.7 312.7 695.6 312.9 694.6 312.2 693.7 311.1 693.3 310.1 693.2 308.9 693.2 307.5 693.4 305.9 693.3 304.8 692.9 304.2 692.3 303.3 691.3 302.4 690.9 301.2 690.5 300.1 690.4 298.6 690.4 298.0 690.4 296.5 690.1 295.4 689.9 M324.2 682.9 322.6 682.8 321.6 683.2 320.6 683.9 320.0 684.5 319.2 685.3 318.4 686.1 317.9 686.7 317.5 688.1 318.4 688.9 319.5 689.0 320.5 688.7 321.6 688.3 322.6 687.9 324.2 687.7 325.2 687.6 326.8 687.3 327.8 687.0 328.9 686.5 329.7 685.7 330.0 684.8 329.8 683.9 328.9 683.1 327.3 683.2 325.7 683.3 324.5 682.9 324.2 682.9" stroke-width="0.7"/><path d="M300.7 691.3 299.1 691.1 297.5 691.3 296.0 691.1 294.6 691.3 293.9 691.8 292.8 692.6 292.0 693.2 291.3 693.7 290.2 694.3 289.3 695.1 289.1 696.0 289.0 697.4 289.0 698.8 289.0 700.2 288.9 701.6 288.9 703.0 288.9 704.4 288.9 705.8 288.9 707.2 289.0 708.6 289.1 710.0 289.4 710.9 289.9 711.9 290.6 712.8 291.3 713.3 292.8 713.4 294.0 713.3 294.9 712.3 295.4 711.8 296.5 711.1 297.5 710.8 299.1 710.8 300.7 710.6 301.7 710.3 302.8 709.8 303.8 709.5 305.4 709.1 306.0 708.6 306.7 707.7 307.0 706.7 307.4 705.3 307.7 704.4 308.0 703.4 308.4 702.1 308.7 701.1 308.8 699.7 308.8 698.3 308.6 696.9 308.5 696.0 308.0 694.9 306.9 694.6 305.4 694.2 304.3 693.8 303.5 693.2 302.8 692.4 302.0 691.8 300.9 691.3 300.7 691.3 M324.2 683.7 322.6 683.5 321.6 684.0 320.7 684.8 320.2 685.7 319.7 686.7 320.0 687.7 321.1 687.6 322.6 687.3 323.7 687.1 324.9 686.7 325.7 686.1 326.1 684.8 325.2 684.2 324.2 683.7" stroke-width="0.72"/><path d="M300.1 692.1 298.6 692.0 297.0 692.1 295.4 692.2 294.4 692.5 293.3 693.1 292.4 693.7 291.6 694.1 290.7 694.6 289.7 695.3 289.2 696.0 289.1 697.4 289.1 698.8 289.1 700.2 289.0 701.6 289.0 703.0 288.9 704.4 289.0 705.8 289.0 707.2 289.1 708.6 289.3 709.5 289.7 710.5 290.2 711.5 290.9 712.3 291.8 713.1 292.8 713.3 293.8 712.8 294.4 712.2 295.1 711.4 296.0 710.7 297.0 710.2 298.6 710.1 300.1 710.2 301.2 709.9 302.2 709.4 303.3 708.9 304.3 708.5 305.4 707.9 306.0 707.2 306.5 706.3 306.9 705.2 307.3 703.9 307.5 703.0 307.8 701.6 307.8 700.2 307.5 698.9 307.0 697.9 306.6 696.9 306.2 696.0 305.4 695.3 304.3 694.7 303.3 694.1 302.5 693.7 301.7 693.1 300.7 692.3 300.1 692.1 M323.1 684.3 322.1 684.6 321.5 685.3 321.6 686.2 323.1 686.4 324.2 685.9 324.2 684.8 323.2 684.3 323.1 684.3" stroke-width="0.75"/><path d="M299.6 693.0 298.0 692.8 296.5 693.0 294.9 693.2 293.9 693.6 292.8 694.1 291.8 694.6 290.8 695.1 290.1 695.5 289.5 696.5 289.4 697.9 289.3 699.3 289.2 700.2 289.1 701.6 289.0 703.0 289.0 704.4 289.0 705.8 289.1 707.2 289.2 708.1 289.7 709.2 290.2 710.5 290.7 711.4 291.3 712.0 292.3 712.7 293.5 712.3 294.4 711.4 294.9 710.7 295.8 710.0 297.0 709.6 298.0 709.5 299.1 709.6 300.3 709.5 301.6 709.1 302.5 708.6 303.3 708.1 304.3 707.6 305.4 706.8 305.9 706.1 306.4 705.2 306.8 703.9 306.9 702.5 307.0 701.6 306.9 700.5 306.6 699.3 306.2 698.3 305.7 697.4 305.1 696.5 304.3 695.6 303.5 695.1 302.6 694.6 301.6 694.1 300.7 693.6 299.6 693.0" stroke-width="0.78"/><path d="M298.6 693.7 297.3 693.7 296.0 693.9 294.4 694.1 293.3 694.5 292.3 694.9 291.3 695.4 290.3 696.0 289.9 696.9 289.8 698.3 289.7 699.5 289.5 700.7 289.2 702.1 289.1 703.0 289.1 704.4 289.1 705.8 289.2 706.9 289.7 708.1 290.1 709.1 290.6 710.0 291.1 710.9 291.8 711.6 292.8 711.9 293.6 711.4 294.2 710.5 294.9 709.7 296.0 709.2 297.0 709.0 298.6 709.0 300.1 709.0 301.3 708.6 302.2 708.1 303.3 707.4 304.3 706.8 305.0 706.3 305.7 705.3 306.1 704.4 306.2 703.0 306.2 701.6 306.1 700.2 305.8 699.3 305.3 698.3 304.8 697.4 304.1 696.5 303.3 695.7 302.2 695.2 301.2 694.8 300.1 694.4 299.1 693.8 298.6 693.7" stroke-width="0.8"/><path d="M298.0 694.5 296.8 694.6 295.4 694.8 293.9 695.0 292.8 695.3 291.8 695.6 290.7 696.3 290.3 697.4 290.2 698.3 290.0 699.7 289.8 701.1 289.5 702.1 289.3 703.5 289.3 704.9 289.4 706.3 289.7 707.2 290.2 708.2 290.8 709.1 291.4 710.0 292.3 710.7 293.3 710.1 293.9 709.5 294.9 708.8 296.0 708.5 297.5 708.4 299.1 708.5 300.7 708.3 301.7 707.7 302.5 707.2 303.3 706.7 304.3 706.0 305.0 705.3 305.5 704.4 305.5 703.0 305.5 701.6 305.4 700.2 305.1 699.3 304.6 698.3 303.9 697.4 303.3 696.6 302.5 696.0 301.2 695.6 300.1 695.3 299.1 694.9 298.0 694.5" stroke-width="0.82"/><path d="M299.1 695.9 297.5 695.6 296.0 695.6 294.4 695.6 292.8 695.8 291.8 696.2 290.9 696.9 290.7 697.9 290.5 699.3 290.3 700.7 290.0 701.6 289.7 703.0 289.6 703.9 289.7 704.9 289.8 706.3 290.2 707.3 290.8 708.1 291.8 709.0 292.3 709.1 293.6 708.6 294.8 708.1 296.0 707.9 297.5 707.8 299.1 707.9 300.4 707.7 301.3 707.2 302.2 706.6 303.3 705.9 304.1 705.3 304.7 704.4 304.7 703.0 304.8 701.6 304.7 700.2 304.3 699.2 303.8 698.3 303.0 697.4 302.2 696.7 301.2 696.3 299.6 696.0 299.1 695.9" stroke-width="0.85"/><path d="M294.4 696.4 292.8 696.4 291.8 696.8 291.3 697.5 291.0 698.8 290.8 700.2 290.6 701.1 290.2 702.4 290.0 703.5 290.1 704.9 290.2 705.9 290.7 707.2 291.3 707.8 292.3 708.2 293.3 708.0 294.4 707.6 296.0 707.2 297.0 707.2 298.0 707.2 299.5 707.2 300.6 706.7 301.3 706.3 302.2 705.5 303.2 704.9 303.7 703.9 303.8 702.7 304.0 701.6 304.0 700.2 303.6 699.3 302.9 698.3 302.2 697.7 301.2 697.1 299.6 697.0 298.0 697.0 297.0 696.8 295.4 696.6 294.4 696.4" stroke-width="0.88"/><path d="M293.9 697.2 292.3 697.2 291.7 697.9 291.4 699.3 291.3 700.3 290.9 701.6 290.6 702.5 290.4 703.9 290.5 705.3 290.8 706.3 291.5 707.2 292.8 707.5 293.9 707.2 294.9 706.7 296.5 706.4 298.0 706.5 299.6 706.3 300.3 705.8 301.1 704.9 301.7 703.9 302.2 703.0 302.8 702.2 303.2 701.1 303.3 700.6 302.8 699.4 302.2 698.8 301.2 698.1 299.6 698.1 298.0 698.3 296.5 698.1 295.2 697.9 294.2 697.4 293.9 697.2" stroke-width="0.9"/><path d="M301.2 699.5 299.6 699.6 298.6 700.0 297.8 700.7 297.5 701.6 297.0 702.8 296.0 703.2 294.9 702.6 294.4 702.1 293.5 701.1 292.8 700.2 292.3 700.2 291.7 701.1 291.2 702.1 290.8 703.5 290.9 704.9 291.3 706.0 292.0 706.7 293.2 706.7 294.2 706.3 295.0 705.8 296.4 705.3 297.0 705.3 298.6 705.4 299.4 704.9 299.9 703.9 300.3 703.0 301.0 702.1 301.7 701.4 301.9 700.2 301.2 699.5" stroke-width="0.93"/><path d="M292.3 702.0 291.7 702.5 291.3 703.9 291.6 705.3 292.3 706.0 293.5 705.8 294.2 704.9 294.0 703.5 293.4 702.5 292.8 702.1 292.3 702.0" stroke-width="0.95"/><path d="M292.8 703.8 292.2 704.4 293.0 704.4 292.8 703.8" stroke-width="0.98"/></g>
<path d="M319.5 668.0 L327.3 655.4 L337.5 652.6 L354.0 652.6 L364.9 660.3 L364.9 675.0 L356.3 693.2 L335.9 688.3 Z" fill="none" stroke="#808080" stroke-width="0.7"/>
<ellipse cx="339.1" cy="700.2" rx="3.5" ry="2.2" fill="none" stroke="#444" stroke-width="0.5"/>
<clipPath id="c11"><rect x="385.60" y="643.50" width="78.00" height="70.00"/></clipPath>
<g clip-path="url(#c11)" fill="none" stroke="#222" stroke-linejoin="round"><path d="M417.1 675.9 415.5 675.8 414.5 676.0 412.9 676.3 411.9 676.4 410.3 676.6 409.3 677.0 408.2 677.6 407.2 678.2 406.4 678.7 405.6 679.4 405.0 680.1 404.2 681.1 403.5 681.8 402.5 682.4 401.5 682.8 400.4 683.2 399.4 683.9 398.9 684.6 398.3 685.5 397.5 686.2 396.4 686.7 395.3 687.1 394.3 687.6 393.2 688.1 392.2 688.5 391.5 689.0 390.5 689.9 389.9 690.4 389.0 691.0 387.9 691.7 387.0 692.3 386.3 692.7 385.8 693.7 385.7 695.1 385.6 696.5 385.5 697.9 385.4 699.3 385.4 700.7 385.4 702.1 385.4 703.5 385.4 704.9 385.4 706.3 385.4 707.7 385.4 709.1 385.4 710.5 385.4 711.9 385.4 713.3 386.9 713.7 388.5 713.7 390.0 713.7 391.6 713.7 393.1 713.7 394.7 713.7 396.3 713.7 397.8 713.7 399.4 713.7 400.9 713.7 402.5 713.7 404.1 713.6 405.6 713.6 407.2 713.6 408.7 713.5 410.3 713.4 411.3 713.2 412.2 712.3 412.9 711.8 413.9 710.9 414.5 710.3 415.0 709.5 415.5 708.6 416.3 707.7 417.1 707.2 418.1 706.7 419.1 706.3 420.2 705.4 420.6 704.4 420.7 703.5 420.9 702.1 421.2 701.1 421.7 700.2 422.4 699.3 423.2 698.3 423.7 697.4 423.9 696.5 423.9 695.1 424.1 693.7 424.3 692.3 424.6 691.3 425.1 690.4 425.6 689.5 426.0 688.5 426.2 687.1 426.2 685.7 426.1 684.3 425.8 683.4 425.4 682.4 424.9 681.4 424.3 680.6 423.8 679.6 423.3 678.7 422.4 677.8 421.7 677.3 420.7 676.8 419.6 676.4 418.1 676.1 417.1 675.9" stroke-width="0.55"/><path d="M417.1 676.9 415.5 676.7 413.9 676.9 412.9 677.0 411.3 677.2 410.3 677.4 409.3 677.8 408.2 678.5 407.3 679.2 406.7 679.7 405.8 680.6 405.1 681.4 404.6 682.0 403.5 682.9 402.7 683.4 401.7 683.9 400.8 684.3 400.0 685.3 399.4 686.1 398.8 686.7 397.8 687.2 396.8 687.7 395.7 688.1 394.7 688.6 393.6 689.0 392.6 689.5 391.6 690.3 390.9 690.9 390.0 691.4 389.0 692.0 387.9 692.7 387.3 693.2 386.5 694.1 385.9 694.8 385.7 696.0 385.6 697.4 385.5 698.8 385.5 700.2 385.4 701.6 385.4 703.0 385.4 704.4 385.4 705.8 385.4 707.2 385.4 708.6 385.4 710.0 385.4 711.4 385.4 712.8 386.4 713.7 387.9 713.7 389.5 713.7 391.1 713.7 392.6 713.7 394.2 713.7 395.7 713.7 397.3 713.7 398.9 713.7 400.4 713.7 402.0 713.6 403.5 713.6 405.1 713.6 406.7 713.6 408.2 713.5 409.8 713.3 410.5 712.8 411.2 711.9 411.9 711.1 412.7 710.5 413.4 709.9 414.1 709.1 414.6 708.1 415.3 707.2 416.0 706.7 417.1 706.2 418.1 705.7 419.1 705.1 419.6 703.9 419.5 702.5 419.7 701.2 420.2 700.3 420.7 699.5 421.2 698.7 421.8 697.9 422.3 696.9 422.4 695.5 422.6 694.1 422.8 693.2 423.1 691.8 423.2 690.4 423.5 689.5 424.0 688.5 424.3 687.6 424.4 686.2 424.3 685.1 424.3 684.3 424.3 683.1 424.0 682.0 423.5 681.1 422.8 680.1 422.3 679.4 421.5 678.7 420.7 678.1 419.7 677.5 418.6 677.1 417.1 676.9 417.1 676.9" stroke-width="0.58"/><path d="M416.0 677.7 414.5 677.7 413.4 677.8 411.9 677.9 410.3 678.2 409.3 678.7 408.7 679.2 407.7 679.9 407.0 680.6 406.1 681.5 405.6 682.2 405.0 682.9 404.1 683.7 403.1 684.3 402.4 684.8 401.5 685.6 400.9 686.2 399.9 687.1 399.1 687.6 398.3 688.1 397.3 688.5 396.2 689.0 395.1 689.5 394.0 689.9 393.1 690.4 392.1 691.1 391.1 691.8 390.3 692.3 389.5 692.8 388.5 693.6 387.9 694.1 387.2 695.1 386.4 695.9 385.9 696.5 385.7 697.9 385.6 699.3 385.5 700.7 385.4 702.1 385.4 703.5 385.4 704.9 385.4 706.3 385.4 707.7 385.4 709.1 385.4 710.5 385.4 711.9 385.4 713.3 386.9 713.7 388.5 713.7 390.0 713.7 391.6 713.7 393.1 713.7 394.7 713.7 396.3 713.7 397.8 713.7 399.4 713.6 400.9 713.6 402.5 713.6 404.1 713.5 405.6 713.5 407.2 713.4 408.7 713.3 409.4 712.8 410.0 711.9 410.5 710.9 411.3 710.0 412.0 709.5 412.9 708.7 413.4 708.0 414.0 707.2 415.0 706.3 415.8 705.8 416.6 705.3 417.6 704.8 418.4 703.9 418.4 702.5 418.4 701.1 418.9 700.2 419.5 699.3 420.0 698.3 420.5 697.4 420.9 696.5 421.0 695.1 421.2 694.1 421.6 692.7 421.8 691.8 421.7 690.9 421.6 689.5 421.9 688.5 422.3 687.6 422.8 686.2 422.9 685.3 423.1 683.9 423.0 682.5 422.5 681.5 421.7 680.8 421.0 680.1 420.2 679.5 419.2 678.7 418.3 678.3 417.1 677.9 416.0 677.7" stroke-width="0.6"/><path d="M415.0 678.7 413.4 678.7 412.4 678.8 410.8 679.0 409.8 679.5 408.9 680.1 408.2 680.7 407.3 681.5 406.7 682.4 406.1 683.1 405.4 683.9 404.6 684.6 403.7 685.3 403.0 685.9 402.3 686.7 401.5 687.4 400.4 688.1 399.6 688.5 398.8 689.0 397.8 689.5 396.5 689.9 395.4 690.4 394.4 690.9 393.5 691.3 392.6 691.9 391.6 692.7 390.7 693.2 390.0 693.7 389.1 694.6 388.5 695.3 387.8 696.0 386.9 696.9 386.4 697.5 385.8 698.3 385.6 699.7 385.5 701.1 385.5 702.5 385.4 703.9 385.4 705.3 385.4 706.7 385.4 708.1 385.4 709.5 385.4 710.9 385.4 712.3 385.9 713.6 387.4 713.7 389.0 713.7 390.5 713.7 392.1 713.7 393.7 713.7 395.2 713.6 396.8 713.6 398.3 713.6 399.9 713.6 401.5 713.5 403.0 713.5 404.6 713.4 406.1 713.4 407.6 713.3 408.2 712.7 408.8 711.9 409.3 710.9 409.8 710.0 410.6 709.1 411.3 708.5 412.1 707.7 412.9 706.8 413.5 706.3 414.5 705.5 415.4 704.9 416.0 704.4 416.9 703.5 417.0 702.1 417.1 701.1 417.6 700.1 418.1 699.2 418.6 698.2 419.1 697.0 419.4 696.0 419.7 694.9 420.0 693.7 420.2 692.5 420.1 691.8 419.8 690.4 420.1 689.0 420.4 688.1 420.8 687.1 421.2 685.7 421.4 684.8 421.5 683.4 421.1 682.5 420.3 681.5 419.7 680.9 418.7 680.1 418.0 679.7 417.0 679.2 415.5 678.8 415.0 678.7" stroke-width="0.62"/><path d="M415.5 680.1 413.9 679.7 412.4 679.7 410.8 680.1 410.1 680.6 409.3 681.2 408.3 682.0 407.7 682.7 407.2 683.4 406.5 684.3 405.6 685.2 405.0 685.7 404.1 686.7 403.5 687.3 402.7 688.1 402.0 688.6 400.9 689.1 399.9 689.7 398.9 690.3 397.8 690.6 396.8 690.9 395.7 691.3 394.7 691.9 393.7 692.5 392.6 693.2 391.9 693.7 391.1 694.3 390.3 695.1 389.5 696.0 389.0 696.5 388.0 697.4 387.4 697.9 386.4 698.8 385.9 699.3 385.7 700.7 385.6 702.1 385.5 703.5 385.5 704.9 385.4 706.3 385.4 707.7 385.4 709.1 385.5 710.5 385.5 711.9 385.5 713.3 386.9 713.6 388.5 713.6 390.0 713.6 391.6 713.6 393.1 713.6 394.7 713.6 396.3 713.6 397.8 713.6 399.4 713.5 400.9 713.5 402.5 713.4 404.1 713.3 405.1 713.0 406.1 712.6 407.1 711.9 407.7 711.0 408.2 710.1 408.7 709.4 409.5 708.6 410.3 707.7 410.8 707.1 411.6 706.3 412.4 705.6 413.4 704.9 414.0 704.4 414.7 703.5 415.0 702.4 415.5 701.1 416.0 700.2 416.5 699.3 416.8 698.3 417.1 697.2 417.3 696.0 417.6 695.1 418.0 693.7 418.1 692.7 418.1 691.3 418.3 689.9 418.6 689.0 419.1 687.6 419.1 686.7 419.1 685.7 419.1 684.4 419.2 683.4 418.9 682.5 418.2 681.5 417.6 681.0 416.5 680.5 415.5 680.1" stroke-width="0.65"/><path d="M414.5 681.0 412.9 680.8 411.7 681.1 410.8 681.6 409.8 682.4 409.2 682.9 408.3 683.9 407.7 684.6 407.2 685.3 406.3 686.2 405.6 686.8 404.8 687.6 404.1 688.3 403.2 689.0 402.5 689.5 401.5 690.0 400.4 690.6 399.4 691.2 398.3 691.7 397.3 692.0 396.3 692.3 395.2 692.8 394.2 693.3 393.1 694.0 392.4 694.6 391.6 695.4 391.1 696.0 390.2 696.9 389.5 697.6 388.5 698.3 387.8 698.8 386.9 699.6 386.2 700.2 385.8 701.1 385.6 702.5 385.6 703.9 385.5 705.3 385.5 706.7 385.5 708.1 385.5 709.5 385.5 710.9 385.5 712.3 385.9 713.5 387.4 713.6 389.0 713.6 390.5 713.6 392.1 713.6 393.7 713.6 395.2 713.5 396.8 713.5 398.3 713.5 399.9 713.4 401.5 713.3 402.4 712.8 403.2 712.3 404.2 711.9 405.1 711.2 405.7 710.5 406.6 709.5 407.2 709.1 408.2 708.2 408.8 707.7 409.5 706.7 410.2 705.8 410.8 705.2 411.7 704.4 412.4 703.7 412.9 702.7 413.3 701.6 413.8 700.7 414.4 699.7 414.8 698.8 415.1 697.9 415.5 696.5 415.7 695.5 416.0 694.4 416.3 693.2 416.5 692.3 416.8 690.9 417.1 689.7 417.4 688.5 417.6 687.1 417.5 685.7 417.6 684.8 417.7 683.4 417.2 682.5 416.5 681.9 415.5 681.4 414.5 681.0" stroke-width="0.68"/><path d="M414.5 682.4 412.9 682.2 411.9 682.7 411.0 683.4 410.3 683.9 409.3 684.8 408.7 685.4 408.2 686.2 407.7 687.1 406.7 687.9 405.6 688.5 404.9 689.0 404.1 689.8 403.2 690.4 402.2 690.9 401.2 691.3 400.3 691.8 399.4 692.4 398.3 693.0 397.3 693.4 396.3 693.7 395.0 694.1 394.1 694.6 393.1 695.3 392.5 696.0 391.7 696.9 391.1 697.6 390.1 698.3 389.5 698.8 388.5 699.5 387.7 700.2 386.9 701.0 386.2 701.6 385.8 702.5 385.7 703.9 385.6 705.3 385.6 706.7 385.5 708.1 385.6 709.5 385.6 710.9 385.7 712.3 385.9 713.4 387.4 713.5 389.0 713.5 390.5 713.5 392.1 713.5 393.7 713.5 395.2 713.4 396.8 713.4 398.3 713.3 399.8 713.3 400.6 712.8 401.5 712.2 402.5 711.4 403.3 710.9 404.1 710.3 404.8 709.5 405.6 708.7 406.3 708.1 407.2 707.5 408.0 706.7 408.7 705.8 409.3 705.2 410.0 704.4 410.8 703.6 411.3 702.9 411.9 701.6 412.2 700.7 412.6 699.7 413.1 698.8 413.5 697.9 413.9 696.5 414.1 695.5 414.1 694.1 413.9 693.1 413.8 691.8 414.0 690.9 414.5 689.9 415.2 689.0 415.8 688.1 416.1 687.1 416.3 685.7 416.4 684.3 416.0 683.2 415.0 682.6 414.5 682.4" stroke-width="0.7"/><path d="M414.5 683.2 412.9 683.1 411.9 683.7 411.1 684.3 410.3 685.0 409.6 685.7 409.2 686.7 408.8 688.1 408.2 688.8 407.2 689.1 405.9 689.5 405.1 690.0 404.1 690.9 403.2 691.3 402.0 691.7 400.9 692.1 400.0 692.7 399.4 693.2 398.3 693.9 397.3 694.3 396.0 694.6 394.7 695.1 394.0 695.5 393.1 696.4 392.6 697.0 391.6 697.9 391.0 698.3 390.0 699.1 389.1 699.7 388.5 700.3 387.7 701.1 386.9 701.9 386.1 702.5 385.8 703.5 385.7 704.9 385.6 706.3 385.6 707.7 385.6 709.1 385.7 710.5 385.7 711.9 385.8 713.3 386.9 713.4 388.5 713.4 390.0 713.5 391.6 713.5 393.1 713.4 394.7 713.4 396.3 713.3 397.5 713.3 398.9 712.8 399.9 712.4 400.7 711.9 401.5 711.4 402.5 710.7 403.4 710.0 404.1 709.4 404.8 708.6 405.6 707.9 406.5 707.2 407.2 706.6 407.9 705.8 408.7 704.9 409.3 704.4 410.2 703.5 410.8 702.6 411.2 701.6 411.5 700.7 411.9 699.7 412.4 698.6 412.8 697.4 413.0 696.5 413.0 695.1 412.6 694.1 412.2 693.2 411.9 691.9 411.9 691.2 412.0 689.9 412.8 689.0 413.6 688.5 414.5 688.0 415.1 687.1 415.5 685.9 415.7 684.8 415.4 683.9 414.5 683.2" stroke-width="0.72"/><path d="M409.8 689.8 408.7 690.0 407.2 690.3 406.1 690.6 405.1 691.3 404.4 691.8 403.2 692.3 402.0 692.4 400.9 692.9 399.9 693.7 399.3 694.1 398.3 694.7 397.3 695.1 395.8 695.5 394.9 696.0 394.2 696.6 393.1 697.4 392.4 697.9 391.6 698.4 390.5 699.2 389.9 699.7 389.0 700.6 388.5 701.3 387.7 702.1 386.9 702.7 386.0 703.5 385.8 704.4 385.7 705.8 385.7 707.2 385.7 708.6 385.7 710.0 385.8 711.4 385.8 712.8 386.4 713.3 387.9 713.4 389.5 713.4 391.1 713.4 392.6 713.4 394.2 713.3 395.2 713.2 396.7 712.8 397.8 712.4 398.9 712.0 399.9 711.5 400.9 710.9 401.7 710.5 402.5 710.0 403.5 709.1 404.1 708.6 405.0 707.7 405.6 707.1 406.6 706.3 407.2 705.6 407.9 704.9 408.7 704.1 409.5 703.5 410.2 702.5 410.6 701.6 410.9 700.7 411.3 699.3 411.7 698.3 411.7 696.9 411.3 695.5 411.2 694.6 410.9 693.2 410.8 692.3 410.7 690.9 410.1 689.9 409.8 689.8 M414.5 684.2 412.9 684.1 411.9 684.8 411.3 685.3 410.7 686.2 410.8 687.6 411.9 687.9 413.2 687.6 413.9 687.1 414.5 686.2 414.7 684.8 414.5 684.2" stroke-width="0.75"/><path d="M407.7 692.1 406.1 692.2 405.1 692.7 404.1 693.2 403.0 693.3 401.5 693.5 400.5 694.1 399.9 694.6 398.9 695.2 397.8 695.6 396.8 696.0 395.7 696.6 394.7 697.3 393.7 697.8 392.6 698.3 391.9 698.8 391.1 699.4 390.2 700.2 389.5 701.1 389.0 701.8 388.4 702.5 387.4 703.2 386.4 703.9 385.9 704.8 385.8 705.8 385.7 707.2 385.7 708.6 385.8 710.0 385.9 711.1 386.4 712.2 386.9 712.8 387.9 713.3 389.5 713.3 391.1 713.3 392.6 713.3 393.7 713.1 394.7 712.7 395.9 712.3 397.3 711.9 398.3 711.4 399.3 710.9 400.3 710.5 401.2 710.0 402.0 709.5 403.0 708.8 403.8 708.1 404.6 707.3 405.1 706.7 406.0 705.8 406.7 705.1 407.4 704.4 408.2 703.8 409.1 703.0 409.8 702.1 410.1 701.1 410.3 700.2 410.6 698.8 410.3 697.7 409.6 696.9 409.2 696.0 409.1 694.6 408.7 693.4 408.2 692.4 407.7 692.1" stroke-width="0.78"/><path d="M407.2 694.1 405.6 693.8 404.1 694.1 403.0 694.2 401.5 694.5 400.4 695.1 399.5 695.5 398.5 696.0 397.4 696.5 396.6 696.9 395.7 697.5 394.7 698.1 393.7 698.5 392.6 698.9 391.6 699.6 391.0 700.2 390.3 701.1 389.7 702.1 389.1 703.0 388.4 703.5 387.4 704.0 386.5 704.9 386.0 705.8 385.8 706.7 385.8 708.1 385.9 709.4 386.4 710.4 386.9 711.3 387.4 711.9 388.5 712.6 389.5 713.0 391.1 713.2 392.6 712.9 393.7 712.4 394.7 712.0 395.7 711.7 396.8 711.3 397.8 710.8 398.9 710.2 399.9 709.7 400.9 709.3 402.0 708.8 403.0 708.1 403.5 707.6 404.2 706.7 404.9 705.8 405.6 705.0 406.3 704.4 407.2 703.7 408.1 703.0 408.7 702.4 409.3 701.5 409.5 700.2 409.5 698.8 409.1 697.9 408.6 696.9 408.2 695.7 407.7 694.6 407.2 694.1" stroke-width="0.8"/><path d="M406.7 694.9 405.1 694.8 403.5 695.0 402.5 695.2 401.3 695.5 400.2 696.0 399.0 696.5 397.9 696.9 397.0 697.4 396.3 697.9 395.2 698.5 394.2 698.9 393.1 699.3 392.1 699.9 391.4 700.7 390.8 701.6 390.4 702.5 389.6 703.5 389.0 703.9 387.9 704.5 387.0 705.3 386.5 706.3 386.1 707.2 386.2 708.6 386.6 709.5 387.4 710.5 387.9 710.9 389.0 711.6 390.0 712.1 391.6 712.3 393.1 711.9 394.2 711.4 395.2 711.0 396.3 710.6 397.3 710.1 398.3 709.5 399.2 709.1 400.4 708.6 401.5 708.3 402.5 707.7 403.0 707.2 403.7 706.3 404.1 705.3 405.0 704.4 405.6 703.9 406.7 703.1 407.4 702.5 408.2 701.6 408.5 700.7 408.5 699.3 408.2 698.3 407.8 696.9 407.5 696.0 406.8 695.1 406.7 694.9" stroke-width="0.82"/><path d="M406.1 695.7 404.6 695.7 403.5 696.0 402.0 696.5 400.9 696.8 399.9 697.0 398.5 697.4 397.4 697.9 396.6 698.3 395.7 698.9 394.7 699.5 393.7 699.8 392.6 700.4 392.0 701.1 391.5 702.1 391.0 703.0 390.2 703.9 389.5 704.4 388.5 705.0 387.5 705.8 386.9 706.7 386.7 707.7 386.9 708.7 387.5 709.5 388.5 710.2 389.5 710.7 390.5 711.1 391.6 711.4 392.6 711.2 393.7 710.7 394.7 710.0 395.7 709.6 396.8 709.1 397.7 708.6 398.5 708.1 399.9 707.8 400.9 707.6 402.0 707.2 402.8 706.3 403.2 705.3 403.8 704.4 404.6 703.6 405.4 703.0 406.1 702.5 407.1 701.6 407.6 700.7 407.5 699.3 407.2 698.0 406.9 696.9 406.5 696.0 406.1 695.7" stroke-width="0.85"/><path d="M405.1 697.5 403.7 697.9 402.5 698.1 400.9 698.0 399.4 697.9 397.8 698.3 396.9 698.8 396.3 699.3 395.2 700.2 394.4 700.7 393.5 701.1 392.6 702.0 392.1 702.9 391.6 703.7 390.9 704.4 390.0 704.9 389.0 705.5 388.1 706.3 387.6 707.2 387.7 708.6 388.5 709.3 389.5 709.8 390.5 710.2 392.1 710.3 393.1 709.6 393.8 709.1 394.7 708.4 395.7 708.0 396.8 707.4 397.7 706.7 398.9 706.6 399.9 706.8 401.1 706.7 402.0 706.1 402.5 705.1 403.0 704.2 403.6 703.5 404.6 702.6 405.4 702.1 406.1 701.4 406.7 700.3 406.6 699.7 406.1 698.6 405.6 697.9 405.1 697.5" stroke-width="0.88"/><path d="M400.4 698.7 398.9 698.6 397.8 698.8 396.8 699.5 396.2 700.2 395.6 701.1 395.1 702.1 394.5 703.0 393.7 703.9 393.1 704.6 392.1 705.3 391.1 705.6 390.0 706.0 389.0 706.7 388.6 707.7 389.2 708.6 390.4 709.1 391.6 709.1 392.3 708.6 393.0 707.7 393.6 706.7 394.7 706.4 395.7 706.1 396.8 705.5 397.8 705.2 398.9 705.4 399.9 705.8 400.9 705.8 401.8 704.9 402.4 703.9 403.0 703.1 403.5 702.5 404.5 701.6 405.1 701.0 405.2 699.7 404.1 699.5 402.7 699.3 401.5 698.9 400.4 698.7" stroke-width="0.9"/><path d="M399.9 699.2 398.3 699.2 397.4 699.7 396.8 700.5 396.3 701.6 396.4 703.0 397.3 703.7 398.3 704.1 399.4 704.6 400.9 704.6 401.5 703.9 402.2 703.0 402.9 702.1 403.2 701.1 402.5 700.2 401.7 699.7 400.4 699.3 399.9 699.2" stroke-width="0.93"/><path d="M400.9 700.2 399.4 699.8 397.8 700.2 397.3 701.0 397.3 701.9 397.8 702.6 398.9 703.2 399.9 703.6 400.9 703.3 401.7 702.5 402.1 701.6 401.7 700.7 400.9 700.2" stroke-width="0.95"/><path d="M399.4 700.7 398.5 701.1 399.4 702.1 400.4 702.1 400.5 701.1 399.4 700.7 399.4 700.7" stroke-width="0.98"/></g>
<path d="M416.0 668.0 L423.8 655.4 L434.0 652.6 L450.3 652.6 L461.3 660.3 L461.3 675.0 L452.7 693.2 L432.4 688.3 Z" fill="none" stroke="#808080" stroke-width="0.7"/>
<ellipse cx="430.6" cy="668.7" rx="3" ry="2.4" fill="none" stroke="#444" stroke-width="0.5"/>
<ellipse cx="430.6" cy="668.7" rx="1" ry="0.8" fill="none" stroke="#444" stroke-width="0.5"/>
<text x="1.60" y="15.80" font-size="20.5" font-weight="bold" fill="#000" stroke="#000" stroke-width="0.25">A</text>
<text transform="translate(1.94,100.80) scale(1.05,1)" font-size="14" fill="#000" stroke="#000" stroke-width="0.25">+ MpDC</text>
<text transform="translate(2.54,210.80) scale(1.05,1)" font-size="14" fill="#000" stroke="#000" stroke-width="0.25">+ McDC</text>
<text transform="translate(82.00,170.30) rotate(-90) scale(1.05,1)" font-size="14" stroke="#000" stroke-width="0.25">ICOS</text>
<line x1="89.60" y1="44.00" x2="89.60" y2="246.50" stroke="#000" stroke-width="2"/>
<path d="M89.5 28.8 L84.2 49 L89.5 45.6 L94.8 49 Z" fill="#000" stroke="none" stroke-width="1"/>
<line x1="95.00" y1="261.20" x2="194.00" y2="261.20" stroke="#000" stroke-width="2"/>
<path d="M209 261.2 L189.6 256.1 L192.8 261.2 L189.6 266.3 Z" fill="#000" stroke="none" stroke-width="1"/>
<text transform="translate(134.90,279.50) scale(1.05,1)" font-size="14" fill="#000" stroke="#000" stroke-width="0.25">CD25</text>
<rect x="108.70" y="31.00" width="99.30" height="96.00" fill="none" stroke="#555" stroke-width="0.9"/>
<text x="104.50" y="136.30" font-size="5" fill="#333">10<tspan dy="-2.25" font-size="3.50">0</tspan></text>
<text x="96.70" y="129.00" font-size="5" fill="#333">10<tspan dy="-2.25" font-size="3.50">0</tspan></text>
<text x="129.33" y="136.30" font-size="5" fill="#333">10<tspan dy="-2.25" font-size="3.50">1</tspan></text>
<text x="96.70" y="105.00" font-size="5" fill="#333">10<tspan dy="-2.25" font-size="3.50">1</tspan></text>
<text x="154.15" y="136.30" font-size="5" fill="#333">10<tspan dy="-2.25" font-size="3.50">2</tspan></text>
<text x="96.70" y="81.00" font-size="5" fill="#333">10<tspan dy="-2.25" font-size="3.50">2</tspan></text>
<text x="178.98" y="136.30" font-size="5" fill="#333">10<tspan dy="-2.25" font-size="3.50">3</tspan></text>
<text x="96.70" y="57.00" font-size="5" fill="#333">10<tspan dy="-2.25" font-size="3.50">3</tspan></text>
<text x="203.80" y="136.30" font-size="5" fill="#333">10<tspan dy="-2.25" font-size="3.50">4</tspan></text>
<text x="96.70" y="33.00" font-size="5" fill="#333">10<tspan dy="-2.25" font-size="3.50">4</tspan></text>
<path d="M108.7 127.0 V128.6 M108.7 127.0 H107.1 M116.2 127.0 V127.9 M108.7 119.8 H107.8 M120.5 127.0 V127.9 M108.7 115.5 H107.8 M123.6 127.0 V127.9 M108.7 112.6 H107.8 M126.1 127.0 V127.9 M108.7 110.2 H107.8 M128.0 127.0 V127.9 M108.7 108.3 H107.8 M129.7 127.0 V127.9 M108.7 106.7 H107.8 M131.1 127.0 V127.9 M108.7 105.3 H107.8 M132.4 127.0 V127.9 M108.7 104.1 H107.8 M133.5 127.0 V128.6 M108.7 103.0 H107.1 M141.0 127.0 V127.9 M108.7 95.8 H107.8 M145.4 127.0 V127.9 M108.7 91.5 H107.8 M148.5 127.0 V127.9 M108.7 88.6 H107.8 M150.9 127.0 V127.9 M108.7 86.2 H107.8 M152.8 127.0 V127.9 M108.7 84.3 H107.8 M154.5 127.0 V127.9 M108.7 82.7 H107.8 M155.9 127.0 V127.9 M108.7 81.3 H107.8 M157.2 127.0 V127.9 M108.7 80.1 H107.8 M158.3 127.0 V128.6 M108.7 79.0 H107.1 M165.8 127.0 V127.9 M108.7 71.8 H107.8 M170.2 127.0 V127.9 M108.7 67.5 H107.8 M173.3 127.0 V127.9 M108.7 64.6 H107.8 M175.7 127.0 V127.9 M108.7 62.2 H107.8 M177.7 127.0 V127.9 M108.7 60.3 H107.8 M179.3 127.0 V127.9 M108.7 58.7 H107.8 M180.8 127.0 V127.9 M108.7 57.3 H107.8 M182.0 127.0 V127.9 M108.7 56.1 H107.8 M183.2 127.0 V128.6 M108.7 55.0 H107.1 M190.6 127.0 V127.9 M108.7 47.8 H107.8 M195.0 127.0 V127.9 M108.7 43.5 H107.8 M198.1 127.0 V127.9 M108.7 40.6 H107.8 M200.5 127.0 V127.9 M108.7 38.2 H107.8 M202.5 127.0 V127.9 M108.7 36.3 H107.8 M204.2 127.0 V127.9 M108.7 34.7 H107.8 M205.6 127.0 V127.9 M108.7 33.3 H107.8 M206.9 127.0 V127.9 M108.7 32.1 H107.8" fill="none" stroke="#333" stroke-width="0.6"/>
<line x1="140.00" y1="31.00" x2="140.00" y2="127.00" stroke="#888" stroke-width="0.7"/>
<line x1="140.00" y1="112.50" x2="208.00" y2="112.50" stroke="#888" stroke-width="0.7"/>
<rect x="108.70" y="147.50" width="99.30" height="96.30" fill="none" stroke="#555" stroke-width="0.9"/>
<text x="104.50" y="253.10" font-size="5" fill="#333">10<tspan dy="-2.25" font-size="3.50">0</tspan></text>
<text x="96.70" y="245.80" font-size="5" fill="#333">10<tspan dy="-2.25" font-size="3.50">0</tspan></text>
<text x="129.33" y="253.10" font-size="5" fill="#333">10<tspan dy="-2.25" font-size="3.50">1</tspan></text>
<text x="96.70" y="221.73" font-size="5" fill="#333">10<tspan dy="-2.25" font-size="3.50">1</tspan></text>
<text x="154.15" y="253.10" font-size="5" fill="#333">10<tspan dy="-2.25" font-size="3.50">2</tspan></text>
<text x="96.70" y="197.65" font-size="5" fill="#333">10<tspan dy="-2.25" font-size="3.50">2</tspan></text>
<text x="178.98" y="253.10" font-size="5" fill="#333">10<tspan dy="-2.25" font-size="3.50">3</tspan></text>
<text x="96.70" y="173.57" font-size="5" fill="#333">10<tspan dy="-2.25" font-size="3.50">3</tspan></text>
<text x="203.80" y="253.10" font-size="5" fill="#333">10<tspan dy="-2.25" font-size="3.50">4</tspan></text>
<text x="96.70" y="149.50" font-size="5" fill="#333">10<tspan dy="-2.25" font-size="3.50">4</tspan></text>
<path d="M108.7 243.8 V245.4 M108.7 243.8 H107.1 M116.2 243.8 V244.7 M108.7 236.6 H107.8 M120.5 243.8 V244.7 M108.7 232.3 H107.8 M123.6 243.8 V244.7 M108.7 229.3 H107.8 M126.1 243.8 V244.7 M108.7 227.0 H107.8 M128.0 243.8 V244.7 M108.7 225.1 H107.8 M129.7 243.8 V244.7 M108.7 223.5 H107.8 M131.1 243.8 V244.7 M108.7 222.1 H107.8 M132.4 243.8 V244.7 M108.7 220.8 H107.8 M133.5 243.8 V245.4 M108.7 219.7 H107.1 M141.0 243.8 V244.7 M108.7 212.5 H107.8 M145.4 243.8 V244.7 M108.7 208.2 H107.8 M148.5 243.8 V244.7 M108.7 205.2 H107.8 M150.9 243.8 V244.7 M108.7 202.9 H107.8 M152.8 243.8 V244.7 M108.7 201.0 H107.8 M154.5 243.8 V244.7 M108.7 199.4 H107.8 M155.9 243.8 V244.7 M108.7 198.0 H107.8 M157.2 243.8 V244.7 M108.7 196.8 H107.8 M158.3 243.8 V245.4 M108.7 195.7 H107.1 M165.8 243.8 V244.7 M108.7 188.4 H107.8 M170.2 243.8 V244.7 M108.7 184.2 H107.8 M173.3 243.8 V244.7 M108.7 181.2 H107.8 M175.7 243.8 V244.7 M108.7 178.8 H107.8 M177.7 243.8 V244.7 M108.7 176.9 H107.8 M179.3 243.8 V244.7 M108.7 175.3 H107.8 M180.8 243.8 V244.7 M108.7 173.9 H107.8 M182.0 243.8 V244.7 M108.7 172.7 H107.8 M183.2 243.8 V245.4 M108.7 171.6 H107.1 M190.6 243.8 V244.7 M108.7 164.3 H107.8 M195.0 243.8 V244.7 M108.7 160.1 H107.8 M198.1 243.8 V244.7 M108.7 157.1 H107.8 M200.5 243.8 V244.7 M108.7 154.7 H107.8 M202.5 243.8 V244.7 M108.7 152.8 H107.8 M204.2 243.8 V244.7 M108.7 151.2 H107.8 M205.6 243.8 V244.7 M108.7 149.8 H107.8 M206.9 243.8 V244.7 M108.7 148.6 H107.8" fill="none" stroke="#333" stroke-width="0.6"/>
<line x1="140.00" y1="147.50" x2="140.00" y2="243.80" stroke="#888" stroke-width="0.7"/>
<line x1="140.00" y1="228.80" x2="208.00" y2="228.80" stroke="#888" stroke-width="0.7"/>
<text x="239.45" y="15.50" font-size="20.5" font-weight="bold" fill="#000" stroke="#000" stroke-width="0.25">D</text>
<text transform="translate(251.6,236) rotate(-90)" font-size="13" stroke="#000" stroke-width="0.12">Relative CD25<tspan dy="-5" font-size="9">+</tspan><tspan dy="5">Foxp3</tspan><tspan dy="-5" font-size="9">+</tspan><tspan dy="5"> recovery (%)</tspan></text>
<line x1="288.20" y1="16.96" x2="288.20" y2="111.80" stroke="#000" stroke-width="1.3"/>
<line x1="287.70" y1="111.30" x2="513.70" y2="111.30" stroke="#000" stroke-width="1.3"/>
<line x1="285.20" y1="111.30" x2="288.20" y2="111.30" stroke="#000" stroke-width="1"/>
<text transform="translate(285.30,115.50) scale(1.05,1)" font-size="11.9" text-anchor="end" fill="#000" stroke="#000" stroke-width="0.12">0</text>
<line x1="285.20" y1="95.66" x2="288.20" y2="95.66" stroke="#000" stroke-width="1"/>
<text transform="translate(285.30,99.86) scale(1.05,1)" font-size="11.9" text-anchor="end" fill="#000" stroke="#000" stroke-width="0.12">20</text>
<line x1="285.20" y1="80.02" x2="288.20" y2="80.02" stroke="#000" stroke-width="1"/>
<text transform="translate(285.30,84.22) scale(1.05,1)" font-size="11.9" text-anchor="end" fill="#000" stroke="#000" stroke-width="0.12">40</text>
<line x1="285.20" y1="64.38" x2="288.20" y2="64.38" stroke="#000" stroke-width="1"/>
<text transform="translate(285.30,68.58) scale(1.05,1)" font-size="11.9" text-anchor="end" fill="#000" stroke="#000" stroke-width="0.12">60</text>
<line x1="285.20" y1="48.74" x2="288.20" y2="48.74" stroke="#000" stroke-width="1"/>
<text transform="translate(285.30,52.94) scale(1.05,1)" font-size="11.9" text-anchor="end" fill="#000" stroke="#000" stroke-width="0.12">80</text>
<line x1="285.20" y1="33.10" x2="288.20" y2="33.10" stroke="#000" stroke-width="1"/>
<text transform="translate(285.30,37.30) scale(1.05,1)" font-size="11.9" text-anchor="end" fill="#000" stroke="#000" stroke-width="0.12">100</text>
<line x1="285.20" y1="17.46" x2="288.20" y2="17.46" stroke="#000" stroke-width="1"/>
<text transform="translate(285.30,21.66) scale(1.05,1)" font-size="11.9" text-anchor="end" fill="#000" stroke="#000" stroke-width="0.12">120</text>
<line x1="325.80" y1="111.30" x2="325.80" y2="114.30" stroke="#000" stroke-width="1"/>
<line x1="363.60" y1="111.30" x2="363.60" y2="114.30" stroke="#000" stroke-width="1"/>
<line x1="401.00" y1="111.30" x2="401.00" y2="114.30" stroke="#000" stroke-width="1"/>
<line x1="438.30" y1="111.30" x2="438.30" y2="114.30" stroke="#000" stroke-width="1"/>
<line x1="475.80" y1="111.30" x2="475.80" y2="114.30" stroke="#000" stroke-width="1"/>
<line x1="513.20" y1="111.30" x2="513.20" y2="114.30" stroke="#000" stroke-width="1"/>
<rect x="299.50" y="32.16" width="15.00" height="79.14" fill="#000" stroke="none" stroke-width="0"/>
<line x1="307.00" y1="28.88" x2="307.00" y2="32.16" stroke="#555" stroke-width="0.9"/>
<line x1="305.10" y1="28.88" x2="308.90" y2="28.88" stroke="#555" stroke-width="0.9"/>
<rect x="337.20" y="32.87" width="15.00" height="78.43" fill="#000" stroke="none" stroke-width="0"/>
<rect x="374.80" y="40.22" width="15.00" height="71.08" fill="#000" stroke="none" stroke-width="0"/>
<line x1="382.30" y1="35.45" x2="382.30" y2="40.22" stroke="#555" stroke-width="0.9"/>
<line x1="380.40" y1="35.45" x2="384.20" y2="35.45" stroke="#555" stroke-width="0.9"/>
<rect x="412.15" y="75.95" width="15.00" height="35.35" fill="#000" stroke="none" stroke-width="0"/>
<line x1="419.65" y1="66.49" x2="419.65" y2="75.95" stroke="#555" stroke-width="0.9"/>
<line x1="417.75" y1="66.49" x2="421.55" y2="66.49" stroke="#555" stroke-width="0.9"/>
<text x="419.95" y="63.99" font-size="15.5" text-anchor="middle" fill="#000" stroke="#000" stroke-width="0.25">*</text>
<rect x="449.55" y="57.97" width="15.00" height="53.33" fill="#000" stroke="none" stroke-width="0"/>
<line x1="457.05" y1="46.94" x2="457.05" y2="57.97" stroke="#555" stroke-width="0.9"/>
<line x1="455.15" y1="46.94" x2="458.95" y2="46.94" stroke="#555" stroke-width="0.9"/>
<rect x="487.00" y="89.25" width="15.00" height="22.05" fill="#000" stroke="none" stroke-width="0"/>
<line x1="494.50" y1="81.98" x2="494.50" y2="89.25" stroke="#555" stroke-width="0.9"/>
<line x1="492.60" y1="81.98" x2="496.40" y2="81.98" stroke="#555" stroke-width="0.9"/>
<text x="494.50" y="79.48" font-size="15.5" text-anchor="middle" fill="#000" stroke="#000" stroke-width="0.25">**</text>
<text transform="translate(432.04,23.20) scale(1.05,1)" font-size="14" fill="#000" stroke="#000" stroke-width="0.25">+ MpDC</text>
<line x1="290.00" y1="136.40" x2="290.00" y2="241.80" stroke="#000" stroke-width="1.3"/>
<line x1="289.50" y1="241.30" x2="514.00" y2="241.30" stroke="#000" stroke-width="1.3"/>
<line x1="287.00" y1="241.30" x2="290.00" y2="241.30" stroke="#000" stroke-width="1"/>
<text transform="translate(286.10,245.50) scale(1.05,1)" font-size="11.9" text-anchor="end" fill="#000" stroke="#000" stroke-width="0.12">0</text>
<line x1="287.00" y1="223.90" x2="290.00" y2="223.90" stroke="#000" stroke-width="1"/>
<text transform="translate(286.10,228.10) scale(1.05,1)" font-size="11.9" text-anchor="end" fill="#000" stroke="#000" stroke-width="0.12">20</text>
<line x1="287.00" y1="206.50" x2="290.00" y2="206.50" stroke="#000" stroke-width="1"/>
<text transform="translate(286.10,210.70) scale(1.05,1)" font-size="11.9" text-anchor="end" fill="#000" stroke="#000" stroke-width="0.12">40</text>
<line x1="287.00" y1="189.10" x2="290.00" y2="189.10" stroke="#000" stroke-width="1"/>
<text transform="translate(286.10,193.30) scale(1.05,1)" font-size="11.9" text-anchor="end" fill="#000" stroke="#000" stroke-width="0.12">60</text>
<line x1="287.00" y1="171.70" x2="290.00" y2="171.70" stroke="#000" stroke-width="1"/>
<text transform="translate(286.10,175.90) scale(1.05,1)" font-size="11.9" text-anchor="end" fill="#000" stroke="#000" stroke-width="0.12">80</text>
<line x1="287.00" y1="154.30" x2="290.00" y2="154.30" stroke="#000" stroke-width="1"/>
<text transform="translate(286.10,158.50) scale(1.05,1)" font-size="11.9" text-anchor="end" fill="#000" stroke="#000" stroke-width="0.12">100</text>
<line x1="287.00" y1="136.90" x2="290.00" y2="136.90" stroke="#000" stroke-width="1"/>
<text transform="translate(286.10,141.10) scale(1.05,1)" font-size="11.9" text-anchor="end" fill="#000" stroke="#000" stroke-width="0.12">120</text>
<line x1="327.40" y1="241.30" x2="327.40" y2="244.30" stroke="#000" stroke-width="1"/>
<line x1="364.70" y1="241.30" x2="364.70" y2="244.30" stroke="#000" stroke-width="1"/>
<line x1="402.00" y1="241.30" x2="402.00" y2="244.30" stroke="#000" stroke-width="1"/>
<line x1="439.30" y1="241.30" x2="439.30" y2="244.30" stroke="#000" stroke-width="1"/>
<line x1="476.50" y1="241.30" x2="476.50" y2="244.30" stroke="#000" stroke-width="1"/>
<line x1="513.50" y1="241.30" x2="513.50" y2="244.30" stroke="#000" stroke-width="1"/>
<rect x="301.20" y="136.99" width="15.00" height="104.31" fill="#000" stroke="none" stroke-width="0"/>
<line x1="308.70" y1="135.68" x2="308.70" y2="136.99" stroke="#555" stroke-width="0.9"/>
<line x1="306.80" y1="135.68" x2="310.60" y2="135.68" stroke="#555" stroke-width="0.9"/>
<rect x="338.55" y="154.47" width="15.00" height="86.83" fill="#000" stroke="none" stroke-width="0"/>
<rect x="375.85" y="169.96" width="15.00" height="71.34" fill="#000" stroke="none" stroke-width="0"/>
<line x1="383.35" y1="156.91" x2="383.35" y2="169.96" stroke="#555" stroke-width="0.9"/>
<line x1="381.45" y1="156.91" x2="385.25" y2="156.91" stroke="#555" stroke-width="0.9"/>
<rect x="413.15" y="202.50" width="15.00" height="38.80" fill="#000" stroke="none" stroke-width="0"/>
<line x1="420.65" y1="188.23" x2="420.65" y2="202.50" stroke="#555" stroke-width="0.9"/>
<line x1="418.75" y1="188.23" x2="422.55" y2="188.23" stroke="#555" stroke-width="0.9"/>
<text x="420.95" y="185.73" font-size="15.5" text-anchor="middle" fill="#000" stroke="#000" stroke-width="0.25">*</text>
<rect x="450.40" y="177.01" width="15.00" height="64.29" fill="#000" stroke="none" stroke-width="0"/>
<line x1="457.90" y1="156.21" x2="457.90" y2="177.01" stroke="#555" stroke-width="0.9"/>
<line x1="456.00" y1="156.21" x2="459.80" y2="156.21" stroke="#555" stroke-width="0.9"/>
<rect x="487.50" y="211.98" width="15.00" height="29.32" fill="#000" stroke="none" stroke-width="0"/>
<line x1="495.00" y1="202.50" x2="495.00" y2="211.98" stroke="#555" stroke-width="0.9"/>
<line x1="493.10" y1="202.50" x2="496.90" y2="202.50" stroke="#555" stroke-width="0.9"/>
<text x="495.00" y="200.00" font-size="15.5" text-anchor="middle" fill="#000" stroke="#000" stroke-width="0.25">**</text>
<text transform="translate(434.14,143.75) scale(1.05,1)" font-size="14" fill="#000" stroke="#000" stroke-width="0.25">+ McDC</text>
<text transform="translate(291.50,259.30) scale(1.05,1)" font-size="10" fill="#000" stroke="#000" stroke-width="0.12">Medium</text>
<text transform="translate(336.20,259.30) scale(1.05,1)" font-size="10" fill="#000" stroke="#000" stroke-width="0.12">CAb</text>
<text transform="translate(363.80,259.30) scale(1.05,1)" font-size="10" fill="#000" stroke="#000" stroke-width="0.12"><tspan font-family="Liberation Serif" font-size="1.1em">&#945;</tspan>ICOSL</text>
<text transform="translate(404.60,259.30) scale(1.05,1)" font-size="10" fill="#000" stroke="#000" stroke-width="0.12"><tspan font-family="Liberation Serif" font-size="1.1em">&#945;</tspan>CD86</text>
<text transform="translate(442.00,259.30) scale(1.05,1)" font-size="10" fill="#000" stroke="#000" stroke-width="0.12"><tspan font-family="Liberation Serif" font-size="1.1em">&#945;</tspan>CD80</text>
<text transform="translate(479.00,259.30) scale(1.05,1)" font-size="10" fill="#000" stroke="#000" stroke-width="0.12"><tspan font-family="Liberation Serif" font-size="1.1em">&#945;</tspan>CD86</text>
<text transform="translate(497.60,266.60) scale(1.05,1)" font-size="9" text-anchor="middle" fill="#000" stroke="#000" stroke-width="0.12">+</text>
<text transform="translate(480.00,274.60) scale(1.05,1)" font-size="10" fill="#000" stroke="#000" stroke-width="0.12"><tspan font-family="Liberation Serif" font-size="1.1em">&#945;</tspan>CD80</text>
<text x="-0.15" y="315.50" font-size="20.5" font-weight="bold" fill="#000" stroke="#000" stroke-width="0.25">B</text>
<text transform="translate(55.00,317.60) scale(1.05,1)" font-size="12.8" fill="#000" stroke="#000" stroke-width="0.12">L-DPCD69<tspan dy="-6" font-size="8.5">hi</tspan></text>
<text transform="translate(157.10,317.60) scale(1.05,1)" font-size="12.4" fill="#000" stroke="#000" stroke-width="0.12">L-DPCD69<tspan dy="-6" font-size="9.5">lo</tspan></text>
<text transform="translate(1.49,375.50) scale(1.05,1)" font-size="14.2" fill="#000" stroke="#000" stroke-width="0.25">ICOS</text>
<text transform="translate(1.51,469.40) scale(1.05,1)" font-size="14" fill="#000" stroke="#000" stroke-width="0.25">CD28</text>
<text transform="translate(64.25,509.80) scale(1.05,1)" font-size="12.6" fill="#000" stroke="#000" stroke-width="0.12">MFI 139</text>
<text transform="translate(167.15,508.50) scale(1.05,1)" font-size="12.6" fill="#000" stroke="#000" stroke-width="0.12">MFI 80.4</text>
<rect x="54.00" y="327.50" width="75.00" height="75.20" fill="none" stroke="#555" stroke-width="0.8"/>
<text transform="translate(51.00,404.00) scale(1.05,1)" font-size="3.6" text-anchor="end" fill="#555">0</text>
<text transform="translate(51.00,388.96) scale(1.05,1)" font-size="3.6" text-anchor="end" fill="#555">20</text>
<text transform="translate(51.00,373.92) scale(1.05,1)" font-size="3.6" text-anchor="end" fill="#555">40</text>
<text transform="translate(51.00,358.88) scale(1.05,1)" font-size="3.6" text-anchor="end" fill="#555">60</text>
<text transform="translate(51.00,343.84) scale(1.05,1)" font-size="3.6" text-anchor="end" fill="#555">80</text>
<text transform="translate(51.00,328.80) scale(1.05,1)" font-size="3.6" text-anchor="end" fill="#555">100</text>
<path d="M54.0 402.7 H52.5 M54.0 387.7 H52.5 M54.0 372.6 H52.5 M54.0 357.6 H52.5 M54.0 342.5 H52.5 M54.0 327.5 H52.5 M54.0 402.7 V404.3 M59.6 402.7 V403.6 M62.9 402.7 V403.6 M65.3 402.7 V403.6 M67.1 402.7 V403.6 M68.6 402.7 V403.6 M69.8 402.7 V403.6 M70.9 402.7 V403.6 M71.9 402.7 V403.6 M72.8 402.7 V404.3 M78.4 402.7 V403.6 M81.7 402.7 V403.6 M84.0 402.7 V403.6 M85.9 402.7 V403.6 M87.3 402.7 V403.6 M88.6 402.7 V403.6 M89.7 402.7 V403.6 M90.6 402.7 V403.6 M91.5 402.7 V404.3 M97.1 402.7 V403.6 M100.4 402.7 V403.6 M102.8 402.7 V403.6 M104.6 402.7 V403.6 M106.1 402.7 V403.6 M107.3 402.7 V403.6 M108.4 402.7 V403.6 M109.4 402.7 V403.6 M110.2 402.7 V404.3 M115.9 402.7 V403.6 M119.2 402.7 V403.6 M121.5 402.7 V403.6 M123.4 402.7 V403.6 M124.8 402.7 V403.6 M126.1 402.7 V403.6 M127.2 402.7 V403.6 M128.1 402.7 V403.6" fill="none" stroke="#555" stroke-width="0.5"/>
<text x="51.00" y="409.00" font-size="4.0" fill="#555">10<tspan dy="-1.80" font-size="2.80">0</tspan></text>
<text x="69.75" y="409.00" font-size="4.0" fill="#555">10<tspan dy="-1.80" font-size="2.80">1</tspan></text>
<text x="88.50" y="409.00" font-size="4.0" fill="#555">10<tspan dy="-1.80" font-size="2.80">2</tspan></text>
<text x="107.25" y="409.00" font-size="4.0" fill="#555">10<tspan dy="-1.80" font-size="2.80">3</tspan></text>
<text x="126.00" y="409.00" font-size="4.0" fill="#555">10<tspan dy="-1.80" font-size="2.80">4</tspan></text>
<rect x="155.00" y="327.50" width="75.50" height="75.00" fill="none" stroke="#555" stroke-width="0.8"/>
<text transform="translate(152.00,403.80) scale(1.05,1)" font-size="3.6" text-anchor="end" fill="#555">0</text>
<text transform="translate(152.00,388.80) scale(1.05,1)" font-size="3.6" text-anchor="end" fill="#555">20</text>
<text transform="translate(152.00,373.80) scale(1.05,1)" font-size="3.6" text-anchor="end" fill="#555">40</text>
<text transform="translate(152.00,358.80) scale(1.05,1)" font-size="3.6" text-anchor="end" fill="#555">60</text>
<text transform="translate(152.00,343.80) scale(1.05,1)" font-size="3.6" text-anchor="end" fill="#555">80</text>
<text transform="translate(152.00,328.80) scale(1.05,1)" font-size="3.6" text-anchor="end" fill="#555">100</text>
<path d="M155.0 402.5 H153.5 M155.0 387.5 H153.5 M155.0 372.5 H153.5 M155.0 357.5 H153.5 M155.0 342.5 H153.5 M155.0 327.5 H153.5 M155.0 402.5 V404.1 M160.7 402.5 V403.4 M164.0 402.5 V403.4 M166.4 402.5 V403.4 M168.2 402.5 V403.4 M169.7 402.5 V403.4 M171.0 402.5 V403.4 M172.0 402.5 V403.4 M173.0 402.5 V403.4 M173.9 402.5 V404.1 M179.6 402.5 V403.4 M182.9 402.5 V403.4 M185.2 402.5 V403.4 M187.1 402.5 V403.4 M188.6 402.5 V403.4 M189.8 402.5 V403.4 M190.9 402.5 V403.4 M191.9 402.5 V403.4 M192.8 402.5 V404.1 M198.4 402.5 V403.4 M201.8 402.5 V403.4 M204.1 402.5 V403.4 M205.9 402.5 V403.4 M207.4 402.5 V403.4 M208.7 402.5 V403.4 M209.8 402.5 V403.4 M210.8 402.5 V403.4 M211.6 402.5 V404.1 M217.3 402.5 V403.4 M220.6 402.5 V403.4 M223.0 402.5 V403.4 M224.8 402.5 V403.4 M226.3 402.5 V403.4 M227.6 402.5 V403.4 M228.7 402.5 V403.4 M229.6 402.5 V403.4" fill="none" stroke="#555" stroke-width="0.5"/>
<text x="152.00" y="408.80" font-size="4.0" fill="#555">10<tspan dy="-1.80" font-size="2.80">0</tspan></text>
<text x="170.88" y="408.80" font-size="4.0" fill="#555">10<tspan dy="-1.80" font-size="2.80">1</tspan></text>
<text x="189.75" y="408.80" font-size="4.0" fill="#555">10<tspan dy="-1.80" font-size="2.80">2</tspan></text>
<text x="208.62" y="408.80" font-size="4.0" fill="#555">10<tspan dy="-1.80" font-size="2.80">3</tspan></text>
<text x="227.50" y="408.80" font-size="4.0" fill="#555">10<tspan dy="-1.80" font-size="2.80">4</tspan></text>
<rect x="54.00" y="414.50" width="73.00" height="75.30" fill="none" stroke="#555" stroke-width="0.8"/>
<text transform="translate(51.00,491.10) scale(1.05,1)" font-size="3.6" text-anchor="end" fill="#555">0</text>
<text transform="translate(51.00,476.04) scale(1.05,1)" font-size="3.6" text-anchor="end" fill="#555">20</text>
<text transform="translate(51.00,460.98) scale(1.05,1)" font-size="3.6" text-anchor="end" fill="#555">40</text>
<text transform="translate(51.00,445.92) scale(1.05,1)" font-size="3.6" text-anchor="end" fill="#555">60</text>
<text transform="translate(51.00,430.86) scale(1.05,1)" font-size="3.6" text-anchor="end" fill="#555">80</text>
<text transform="translate(51.00,415.80) scale(1.05,1)" font-size="3.6" text-anchor="end" fill="#555">100</text>
<path d="M54.0 489.8 H52.5 M54.0 474.7 H52.5 M54.0 459.7 H52.5 M54.0 444.6 H52.5 M54.0 429.6 H52.5 M54.0 414.5 H52.5 M54.0 489.8 V491.4 M59.5 489.8 V490.7 M62.7 489.8 V490.7 M65.0 489.8 V490.7 M66.8 489.8 V490.7 M68.2 489.8 V490.7 M69.4 489.8 V490.7 M70.5 489.8 V490.7 M71.4 489.8 V490.7 M72.2 489.8 V491.4 M77.7 489.8 V490.7 M81.0 489.8 V490.7 M83.2 489.8 V490.7 M85.0 489.8 V490.7 M86.5 489.8 V490.7 M87.7 489.8 V490.7 M88.7 489.8 V490.7 M89.7 489.8 V490.7 M90.5 489.8 V491.4 M96.0 489.8 V490.7 M99.2 489.8 V490.7 M101.5 489.8 V490.7 M103.3 489.8 V490.7 M104.7 489.8 V490.7 M105.9 489.8 V490.7 M107.0 489.8 V490.7 M107.9 489.8 V490.7 M108.8 489.8 V491.4 M114.2 489.8 V490.7 M117.5 489.8 V490.7 M119.7 489.8 V490.7 M121.5 489.8 V490.7 M123.0 489.8 V490.7 M124.2 489.8 V490.7 M125.2 489.8 V490.7 M126.2 489.8 V490.7" fill="none" stroke="#555" stroke-width="0.5"/>
<text x="51.00" y="496.10" font-size="4.0" fill="#555">10<tspan dy="-1.80" font-size="2.80">0</tspan></text>
<text x="69.25" y="496.10" font-size="4.0" fill="#555">10<tspan dy="-1.80" font-size="2.80">1</tspan></text>
<text x="87.50" y="496.10" font-size="4.0" fill="#555">10<tspan dy="-1.80" font-size="2.80">2</tspan></text>
<text x="105.75" y="496.10" font-size="4.0" fill="#555">10<tspan dy="-1.80" font-size="2.80">3</tspan></text>
<text x="124.00" y="496.10" font-size="4.0" fill="#555">10<tspan dy="-1.80" font-size="2.80">4</tspan></text>
<rect x="155.00" y="415.40" width="73.40" height="74.40" fill="none" stroke="#555" stroke-width="0.8"/>
<text transform="translate(152.00,491.10) scale(1.05,1)" font-size="3.6" text-anchor="end" fill="#555">0</text>
<text transform="translate(152.00,476.22) scale(1.05,1)" font-size="3.6" text-anchor="end" fill="#555">20</text>
<text transform="translate(152.00,461.34) scale(1.05,1)" font-size="3.6" text-anchor="end" fill="#555">40</text>
<text transform="translate(152.00,446.46) scale(1.05,1)" font-size="3.6" text-anchor="end" fill="#555">60</text>
<text transform="translate(152.00,431.58) scale(1.05,1)" font-size="3.6" text-anchor="end" fill="#555">80</text>
<text transform="translate(152.00,416.70) scale(1.05,1)" font-size="3.6" text-anchor="end" fill="#555">100</text>
<path d="M155.0 489.8 H153.5 M155.0 474.9 H153.5 M155.0 460.0 H153.5 M155.0 445.2 H153.5 M155.0 430.3 H153.5 M155.0 415.4 H153.5 M155.0 489.8 V491.4 M160.5 489.8 V490.7 M163.8 489.8 V490.7 M166.0 489.8 V490.7 M167.8 489.8 V490.7 M169.3 489.8 V490.7 M170.5 489.8 V490.7 M171.6 489.8 V490.7 M172.5 489.8 V490.7 M173.3 489.8 V491.4 M178.9 489.8 V490.7 M182.1 489.8 V490.7 M184.4 489.8 V490.7 M186.2 489.8 V490.7 M187.6 489.8 V490.7 M188.9 489.8 V490.7 M189.9 489.8 V490.7 M190.9 489.8 V490.7 M191.7 489.8 V491.4 M197.2 489.8 V490.7 M200.5 489.8 V490.7 M202.7 489.8 V490.7 M204.5 489.8 V490.7 M206.0 489.8 V490.7 M207.2 489.8 V490.7 M208.3 489.8 V490.7 M209.2 489.8 V490.7 M210.1 489.8 V491.4 M215.6 489.8 V490.7 M218.8 489.8 V490.7 M221.1 489.8 V490.7 M222.9 489.8 V490.7 M224.3 489.8 V490.7 M225.6 489.8 V490.7 M226.6 489.8 V490.7 M227.6 489.8 V490.7" fill="none" stroke="#555" stroke-width="0.5"/>
<text x="152.00" y="496.10" font-size="4.0" fill="#555">10<tspan dy="-1.80" font-size="2.80">0</tspan></text>
<text x="170.35" y="496.10" font-size="4.0" fill="#555">10<tspan dy="-1.80" font-size="2.80">1</tspan></text>
<text x="188.70" y="496.10" font-size="4.0" fill="#555">10<tspan dy="-1.80" font-size="2.80">2</tspan></text>
<text x="207.05" y="496.10" font-size="4.0" fill="#555">10<tspan dy="-1.80" font-size="2.80">3</tspan></text>
<text x="225.40" y="496.10" font-size="4.0" fill="#555">10<tspan dy="-1.80" font-size="2.80">4</tspan></text>
<text x="98.65" y="337.80" font-size="13" fill="#000" stroke="#000" stroke-width="0.12">58.4</text>
<text x="202.30" y="339.30" font-size="13" fill="#000" stroke="#000" stroke-width="0.12">35.6</text>
<text x="101.58" y="426.50" font-size="13" fill="#000" stroke="#000" stroke-width="0.12">99.8</text>
<text x="202.68" y="426.50" font-size="13" fill="#000" stroke="#000" stroke-width="0.12">99.4</text>
<text x="-0.20" y="545.00" font-size="20.5" font-weight="bold" fill="#000" stroke="#000" stroke-width="0.25">C</text>
<text transform="translate(62.44,542.10) scale(1.05,1)" font-size="14.3" fill="#000" stroke="#000" stroke-width="0.25">ex vivo</text>
<text transform="translate(168.62,542.00) scale(1.05,1)" font-size="14.2" fill="#000" stroke="#000" stroke-width="0.25">Mature</text>
<text transform="translate(1.60,587.00) scale(1.05,1)" font-size="14.3" fill="#000" stroke="#000" stroke-width="0.25">pDC</text>
<text transform="translate(0.89,679.50) scale(1.05,1)" font-size="14.3" fill="#000" stroke="#000" stroke-width="0.25">cDC</text>
<rect x="51.80" y="550.80" width="73.70" height="74.20" fill="none" stroke="#555" stroke-width="0.8"/>
<text transform="translate(48.80,626.30) scale(1.05,1)" font-size="3.6" text-anchor="end" fill="#555">0</text>
<text transform="translate(48.80,611.46) scale(1.05,1)" font-size="3.6" text-anchor="end" fill="#555">20</text>
<text transform="translate(48.80,596.62) scale(1.05,1)" font-size="3.6" text-anchor="end" fill="#555">40</text>
<text transform="translate(48.80,581.78) scale(1.05,1)" font-size="3.6" text-anchor="end" fill="#555">60</text>
<text transform="translate(48.80,566.94) scale(1.05,1)" font-size="3.6" text-anchor="end" fill="#555">80</text>
<text transform="translate(48.80,552.10) scale(1.05,1)" font-size="3.6" text-anchor="end" fill="#555">100</text>
<path d="M51.8 625.0 H50.3 M51.8 610.2 H50.3 M51.8 595.3 H50.3 M51.8 580.5 H50.3 M51.8 565.6 H50.3 M51.8 550.8 H50.3 M51.8 625.0 V626.6 M57.3 625.0 V625.9 M60.6 625.0 V625.9 M62.9 625.0 V625.9 M64.7 625.0 V625.9 M66.1 625.0 V625.9 M67.4 625.0 V625.9 M68.4 625.0 V625.9 M69.4 625.0 V625.9 M70.2 625.0 V626.6 M75.8 625.0 V625.9 M79.0 625.0 V625.9 M81.3 625.0 V625.9 M83.1 625.0 V625.9 M84.6 625.0 V625.9 M85.8 625.0 V625.9 M86.9 625.0 V625.9 M87.8 625.0 V625.9 M88.7 625.0 V626.6 M94.2 625.0 V625.9 M97.4 625.0 V625.9 M99.7 625.0 V625.9 M101.5 625.0 V625.9 M103.0 625.0 V625.9 M104.2 625.0 V625.9 M105.3 625.0 V625.9 M106.2 625.0 V625.9 M107.1 625.0 V626.6 M112.6 625.0 V625.9 M115.9 625.0 V625.9 M118.2 625.0 V625.9 M120.0 625.0 V625.9 M121.4 625.0 V625.9 M122.6 625.0 V625.9 M123.7 625.0 V625.9 M124.7 625.0 V625.9" fill="none" stroke="#555" stroke-width="0.5"/>
<text x="48.80" y="631.30" font-size="4.0" fill="#555">10<tspan dy="-1.80" font-size="2.80">0</tspan></text>
<text x="67.22" y="631.30" font-size="4.0" fill="#555">10<tspan dy="-1.80" font-size="2.80">1</tspan></text>
<text x="85.65" y="631.30" font-size="4.0" fill="#555">10<tspan dy="-1.80" font-size="2.80">2</tspan></text>
<text x="104.08" y="631.30" font-size="4.0" fill="#555">10<tspan dy="-1.80" font-size="2.80">3</tspan></text>
<text x="122.50" y="631.30" font-size="4.0" fill="#555">10<tspan dy="-1.80" font-size="2.80">4</tspan></text>
<rect x="154.30" y="550.20" width="75.70" height="74.80" fill="none" stroke="#555" stroke-width="0.8"/>
<text transform="translate(151.30,626.30) scale(1.05,1)" font-size="3.6" text-anchor="end" fill="#555">0</text>
<text transform="translate(151.30,611.34) scale(1.05,1)" font-size="3.6" text-anchor="end" fill="#555">20</text>
<text transform="translate(151.30,596.38) scale(1.05,1)" font-size="3.6" text-anchor="end" fill="#555">40</text>
<text transform="translate(151.30,581.42) scale(1.05,1)" font-size="3.6" text-anchor="end" fill="#555">60</text>
<text transform="translate(151.30,566.46) scale(1.05,1)" font-size="3.6" text-anchor="end" fill="#555">80</text>
<text transform="translate(151.30,551.50) scale(1.05,1)" font-size="3.6" text-anchor="end" fill="#555">100</text>
<path d="M154.3 625.0 H152.8 M154.3 610.0 H152.8 M154.3 595.1 H152.8 M154.3 580.1 H152.8 M154.3 565.2 H152.8 M154.3 550.2 H152.8 M154.3 625.0 V626.6 M160.0 625.0 V625.9 M163.3 625.0 V625.9 M165.7 625.0 V625.9 M167.5 625.0 V625.9 M169.0 625.0 V625.9 M170.3 625.0 V625.9 M171.4 625.0 V625.9 M172.4 625.0 V625.9 M173.2 625.0 V626.6 M178.9 625.0 V625.9 M182.3 625.0 V625.9 M184.6 625.0 V625.9 M186.5 625.0 V625.9 M188.0 625.0 V625.9 M189.2 625.0 V625.9 M190.3 625.0 V625.9 M191.3 625.0 V625.9 M192.2 625.0 V626.6 M197.8 625.0 V625.9 M201.2 625.0 V625.9 M203.5 625.0 V625.9 M205.4 625.0 V625.9 M206.9 625.0 V625.9 M208.1 625.0 V625.9 M209.2 625.0 V625.9 M210.2 625.0 V625.9 M211.1 625.0 V626.6 M216.8 625.0 V625.9 M220.1 625.0 V625.9 M222.5 625.0 V625.9 M224.3 625.0 V625.9 M225.8 625.0 V625.9 M227.1 625.0 V625.9 M228.2 625.0 V625.9 M229.1 625.0 V625.9" fill="none" stroke="#555" stroke-width="0.5"/>
<text x="151.30" y="631.30" font-size="4.0" fill="#555">10<tspan dy="-1.80" font-size="2.80">0</tspan></text>
<text x="170.23" y="631.30" font-size="4.0" fill="#555">10<tspan dy="-1.80" font-size="2.80">1</tspan></text>
<text x="189.15" y="631.30" font-size="4.0" fill="#555">10<tspan dy="-1.80" font-size="2.80">2</tspan></text>
<text x="208.07" y="631.30" font-size="4.0" fill="#555">10<tspan dy="-1.80" font-size="2.80">3</tspan></text>
<text x="227.00" y="631.30" font-size="4.0" fill="#555">10<tspan dy="-1.80" font-size="2.80">4</tspan></text>
<rect x="52.50" y="638.80" width="75.80" height="75.70" fill="none" stroke="#555" stroke-width="0.8"/>
<text transform="translate(49.50,715.80) scale(1.05,1)" font-size="3.6" text-anchor="end" fill="#555">0</text>
<text transform="translate(49.50,700.66) scale(1.05,1)" font-size="3.6" text-anchor="end" fill="#555">20</text>
<text transform="translate(49.50,685.52) scale(1.05,1)" font-size="3.6" text-anchor="end" fill="#555">40</text>
<text transform="translate(49.50,670.38) scale(1.05,1)" font-size="3.6" text-anchor="end" fill="#555">60</text>
<text transform="translate(49.50,655.24) scale(1.05,1)" font-size="3.6" text-anchor="end" fill="#555">80</text>
<text transform="translate(49.50,640.10) scale(1.05,1)" font-size="3.6" text-anchor="end" fill="#555">100</text>
<path d="M52.5 714.5 H51.0 M52.5 699.4 H51.0 M52.5 684.2 H51.0 M52.5 669.1 H51.0 M52.5 653.9 H51.0 M52.5 638.8 H51.0 M52.5 714.5 V716.1 M58.2 714.5 V715.4 M61.5 714.5 V715.4 M63.9 714.5 V715.4 M65.7 714.5 V715.4 M67.2 714.5 V715.4 M68.5 714.5 V715.4 M69.6 714.5 V715.4 M70.6 714.5 V715.4 M71.5 714.5 V716.1 M77.2 714.5 V715.4 M80.5 714.5 V715.4 M82.9 714.5 V715.4 M84.7 714.5 V715.4 M86.2 714.5 V715.4 M87.5 714.5 V715.4 M88.6 714.5 V715.4 M89.5 714.5 V715.4 M90.4 714.5 V716.1 M96.1 714.5 V715.4 M99.4 714.5 V715.4 M101.8 714.5 V715.4 M103.6 714.5 V715.4 M105.1 714.5 V715.4 M106.4 714.5 V715.4 M107.5 714.5 V715.4 M108.5 714.5 V715.4 M109.4 714.5 V716.1 M115.1 714.5 V715.4 M118.4 714.5 V715.4 M120.8 714.5 V715.4 M122.6 714.5 V715.4 M124.1 714.5 V715.4 M125.4 714.5 V715.4 M126.5 714.5 V715.4 M127.4 714.5 V715.4" fill="none" stroke="#555" stroke-width="0.5"/>
<text x="49.50" y="720.80" font-size="4.0" fill="#555">10<tspan dy="-1.80" font-size="2.80">0</tspan></text>
<text x="68.45" y="720.80" font-size="4.0" fill="#555">10<tspan dy="-1.80" font-size="2.80">1</tspan></text>
<text x="87.40" y="720.80" font-size="4.0" fill="#555">10<tspan dy="-1.80" font-size="2.80">2</tspan></text>
<text x="106.35" y="720.80" font-size="4.0" fill="#555">10<tspan dy="-1.80" font-size="2.80">3</tspan></text>
<text x="125.30" y="720.80" font-size="4.0" fill="#555">10<tspan dy="-1.80" font-size="2.80">4</tspan></text>
<rect x="153.20" y="639.00" width="73.60" height="75.50" fill="none" stroke="#555" stroke-width="0.8"/>
<text transform="translate(150.20,715.80) scale(1.05,1)" font-size="3.6" text-anchor="end" fill="#555">0</text>
<text transform="translate(150.20,700.70) scale(1.05,1)" font-size="3.6" text-anchor="end" fill="#555">20</text>
<text transform="translate(150.20,685.60) scale(1.05,1)" font-size="3.6" text-anchor="end" fill="#555">40</text>
<text transform="translate(150.20,670.50) scale(1.05,1)" font-size="3.6" text-anchor="end" fill="#555">60</text>
<text transform="translate(150.20,655.40) scale(1.05,1)" font-size="3.6" text-anchor="end" fill="#555">80</text>
<text transform="translate(150.20,640.30) scale(1.05,1)" font-size="3.6" text-anchor="end" fill="#555">100</text>
<path d="M153.2 714.5 H151.7 M153.2 699.4 H151.7 M153.2 684.3 H151.7 M153.2 669.2 H151.7 M153.2 654.1 H151.7 M153.2 639.0 H151.7 M153.2 714.5 V716.1 M158.7 714.5 V715.4 M162.0 714.5 V715.4 M164.3 714.5 V715.4 M166.1 714.5 V715.4 M167.5 714.5 V715.4 M168.7 714.5 V715.4 M169.8 714.5 V715.4 M170.8 714.5 V715.4 M171.6 714.5 V716.1 M177.1 714.5 V715.4 M180.4 714.5 V715.4 M182.7 714.5 V715.4 M184.5 714.5 V715.4 M185.9 714.5 V715.4 M187.1 714.5 V715.4 M188.2 714.5 V715.4 M189.2 714.5 V715.4 M190.0 714.5 V716.1 M195.5 714.5 V715.4 M198.8 714.5 V715.4 M201.1 714.5 V715.4 M202.9 714.5 V715.4 M204.3 714.5 V715.4 M205.5 714.5 V715.4 M206.6 714.5 V715.4 M207.6 714.5 V715.4 M208.4 714.5 V716.1 M213.9 714.5 V715.4 M217.2 714.5 V715.4 M219.5 714.5 V715.4 M221.3 714.5 V715.4 M222.7 714.5 V715.4 M223.9 714.5 V715.4 M225.0 714.5 V715.4 M226.0 714.5 V715.4" fill="none" stroke="#555" stroke-width="0.5"/>
<text x="150.20" y="720.80" font-size="4.0" fill="#555">10<tspan dy="-1.80" font-size="2.80">0</tspan></text>
<text x="168.60" y="720.80" font-size="4.0" fill="#555">10<tspan dy="-1.80" font-size="2.80">1</tspan></text>
<text x="187.00" y="720.80" font-size="4.0" fill="#555">10<tspan dy="-1.80" font-size="2.80">2</tspan></text>
<text x="205.40" y="720.80" font-size="4.0" fill="#555">10<tspan dy="-1.80" font-size="2.80">3</tspan></text>
<text x="223.80" y="720.80" font-size="4.0" fill="#555">10<tspan dy="-1.80" font-size="2.80">4</tspan></text>
<text x="99.30" y="568.00" font-size="13" fill="#000" stroke="#000" stroke-width="0.12">14.1</text>
<text x="199.68" y="566.20" font-size="13" fill="#000" stroke="#000" stroke-width="0.12">95.6</text>
<text x="98.55" y="657.00" font-size="13" fill="#000" stroke="#000" stroke-width="0.12">33.6</text>
<text x="198.80" y="659.80" font-size="13" fill="#000" stroke="#000" stroke-width="0.12">87.7</text>
<line x1="51.30" y1="730.00" x2="104.50" y2="730.00" stroke="#000" stroke-width="2.2"/>
<line x1="173.00" y1="730.00" x2="226.30" y2="730.00" stroke="#000" stroke-width="2.2"/>
<text transform="translate(116.79,735.40) scale(1.05,1)" font-size="13.9" fill="#000" stroke="#000" stroke-width="0.25">ICOSL</text>
<text x="240.45" y="314.80" font-size="20.5" font-weight="bold" fill="#000" stroke="#000" stroke-width="0.25">E</text>
<text transform="translate(299.44,311.50) scale(1.05,1)" font-size="13.9" fill="#000" stroke="#000" stroke-width="0.25">+ MpDC</text>
<text transform="translate(397.64,311.50) scale(1.05,1)" font-size="14" fill="#000" stroke="#000" stroke-width="0.25">+ McDC</text>
<line x1="267.20" y1="322.50" x2="267.20" y2="492.40" stroke="#000" stroke-width="2"/>
<line x1="267.20" y1="547.00" x2="267.20" y2="715.60" stroke="#000" stroke-width="2"/>
<text transform="translate(269.30,540.00) rotate(-90) scale(1.05,1)" font-size="14" stroke="#000" stroke-width="0.25">Foxp3</text>
<line x1="291.20" y1="730.20" x2="344.60" y2="730.20" stroke="#000" stroke-width="2.2"/>
<line x1="406.00" y1="729.80" x2="460.00" y2="729.80" stroke="#000" stroke-width="2.2"/>
<text transform="translate(355.61,734.00) scale(1.05,1)" font-size="14.1" fill="#000" stroke="#000" stroke-width="0.25">CD25</text>
<rect x="288.90" y="317.20" width="78.40" height="69.10" fill="none" stroke="#444" stroke-width="0.9"/>
<text x="286.40" y="392.80" font-size="4.5" fill="#333">10<tspan dy="-2.02" font-size="3.15">0</tspan></text>
<text x="280.10" y="387.80" font-size="4.5" fill="#333">10<tspan dy="-2.02" font-size="3.15">0</tspan></text>
<text x="306.00" y="392.80" font-size="4.5" fill="#333">10<tspan dy="-2.02" font-size="3.15">1</tspan></text>
<text x="280.10" y="370.52" font-size="4.5" fill="#333">10<tspan dy="-2.02" font-size="3.15">1</tspan></text>
<text x="325.60" y="392.80" font-size="4.5" fill="#333">10<tspan dy="-2.02" font-size="3.15">2</tspan></text>
<text x="280.10" y="353.25" font-size="4.5" fill="#333">10<tspan dy="-2.02" font-size="3.15">2</tspan></text>
<text x="345.20" y="392.80" font-size="4.5" fill="#333">10<tspan dy="-2.02" font-size="3.15">3</tspan></text>
<text x="280.10" y="335.98" font-size="4.5" fill="#333">10<tspan dy="-2.02" font-size="3.15">3</tspan></text>
<text x="364.80" y="392.80" font-size="4.5" fill="#333">10<tspan dy="-2.02" font-size="3.15">4</tspan></text>
<text x="280.10" y="318.70" font-size="4.5" fill="#333">10<tspan dy="-2.02" font-size="3.15">4</tspan></text>
<path d="M288.9 386.3 V387.9 M288.9 386.3 H287.3 M294.8 386.3 V387.2 M288.9 381.1 H288.0 M298.3 386.3 V387.2 M288.9 378.1 H288.0 M300.7 386.3 V387.2 M288.9 375.9 H288.0 M302.6 386.3 V387.2 M288.9 374.2 H288.0 M304.2 386.3 V387.2 M288.9 372.9 H288.0 M305.5 386.3 V387.2 M288.9 371.7 H288.0 M306.6 386.3 V387.2 M288.9 370.7 H288.0 M307.6 386.3 V387.2 M288.9 369.8 H288.0 M308.5 386.3 V387.9 M288.9 369.0 H287.3 M314.4 386.3 V387.2 M288.9 363.8 H288.0 M317.9 386.3 V387.2 M288.9 360.8 H288.0 M320.3 386.3 V387.2 M288.9 358.6 H288.0 M322.2 386.3 V387.2 M288.9 357.0 H288.0 M323.8 386.3 V387.2 M288.9 355.6 H288.0 M325.1 386.3 V387.2 M288.9 354.4 H288.0 M326.2 386.3 V387.2 M288.9 353.4 H288.0 M327.2 386.3 V387.2 M288.9 352.5 H288.0 M328.1 386.3 V387.9 M288.9 351.8 H287.3 M334.0 386.3 V387.2 M288.9 346.5 H288.0 M337.5 386.3 V387.2 M288.9 343.5 H288.0 M339.9 386.3 V387.2 M288.9 341.3 H288.0 M341.8 386.3 V387.2 M288.9 339.7 H288.0 M343.4 386.3 V387.2 M288.9 338.3 H288.0 M344.7 386.3 V387.2 M288.9 337.2 H288.0 M345.8 386.3 V387.2 M288.9 336.1 H288.0 M346.8 386.3 V387.2 M288.9 335.3 H288.0 M347.7 386.3 V387.9 M288.9 334.5 H287.3 M353.6 386.3 V387.2 M288.9 329.3 H288.0 M357.1 386.3 V387.2 M288.9 326.2 H288.0 M359.5 386.3 V387.2 M288.9 324.1 H288.0 M361.4 386.3 V387.2 M288.9 322.4 H288.0 M363.0 386.3 V387.2 M288.9 321.0 H288.0 M364.3 386.3 V387.2 M288.9 319.9 H288.0 M365.4 386.3 V387.2 M288.9 318.9 H288.0 M366.4 386.3 V387.2 M288.9 318.0 H288.0" fill="none" stroke="#333" stroke-width="0.6"/>
<line x1="309.00" y1="317.20" x2="309.00" y2="386.30" stroke="#888" stroke-width="0.7"/>
<line x1="309.00" y1="367.30" x2="367.30" y2="367.30" stroke="#888" stroke-width="0.7"/>
<rect x="385.60" y="317.20" width="78.00" height="69.10" fill="none" stroke="#444" stroke-width="0.9"/>
<text x="383.10" y="392.80" font-size="4.5" fill="#333">10<tspan dy="-2.02" font-size="3.15">0</tspan></text>
<text x="376.80" y="387.80" font-size="4.5" fill="#333">10<tspan dy="-2.02" font-size="3.15">0</tspan></text>
<text x="402.60" y="392.80" font-size="4.5" fill="#333">10<tspan dy="-2.02" font-size="3.15">1</tspan></text>
<text x="376.80" y="370.52" font-size="4.5" fill="#333">10<tspan dy="-2.02" font-size="3.15">1</tspan></text>
<text x="422.10" y="392.80" font-size="4.5" fill="#333">10<tspan dy="-2.02" font-size="3.15">2</tspan></text>
<text x="376.80" y="353.25" font-size="4.5" fill="#333">10<tspan dy="-2.02" font-size="3.15">2</tspan></text>
<text x="441.60" y="392.80" font-size="4.5" fill="#333">10<tspan dy="-2.02" font-size="3.15">3</tspan></text>
<text x="376.80" y="335.98" font-size="4.5" fill="#333">10<tspan dy="-2.02" font-size="3.15">3</tspan></text>
<text x="461.10" y="392.80" font-size="4.5" fill="#333">10<tspan dy="-2.02" font-size="3.15">4</tspan></text>
<text x="376.80" y="318.70" font-size="4.5" fill="#333">10<tspan dy="-2.02" font-size="3.15">4</tspan></text>
<path d="M385.6 386.3 V387.9 M385.6 386.3 H384.0 M391.5 386.3 V387.2 M385.6 381.1 H384.7 M394.9 386.3 V387.2 M385.6 378.1 H384.7 M397.3 386.3 V387.2 M385.6 375.9 H384.7 M399.2 386.3 V387.2 M385.6 374.2 H384.7 M400.8 386.3 V387.2 M385.6 372.9 H384.7 M402.1 386.3 V387.2 M385.6 371.7 H384.7 M403.2 386.3 V387.2 M385.6 370.7 H384.7 M404.2 386.3 V387.2 M385.6 369.8 H384.7 M405.1 386.3 V387.9 M385.6 369.0 H384.0 M411.0 386.3 V387.2 M385.6 363.8 H384.7 M414.4 386.3 V387.2 M385.6 360.8 H384.7 M416.8 386.3 V387.2 M385.6 358.6 H384.7 M418.7 386.3 V387.2 M385.6 357.0 H384.7 M420.3 386.3 V387.2 M385.6 355.6 H384.7 M421.6 386.3 V387.2 M385.6 354.4 H384.7 M422.7 386.3 V387.2 M385.6 353.4 H384.7 M423.7 386.3 V387.2 M385.6 352.5 H384.7 M424.6 386.3 V387.9 M385.6 351.8 H384.0 M430.5 386.3 V387.2 M385.6 346.5 H384.7 M433.9 386.3 V387.2 M385.6 343.5 H384.7 M436.3 386.3 V387.2 M385.6 341.3 H384.7 M438.2 386.3 V387.2 M385.6 339.7 H384.7 M439.8 386.3 V387.2 M385.6 338.3 H384.7 M441.1 386.3 V387.2 M385.6 337.2 H384.7 M442.2 386.3 V387.2 M385.6 336.1 H384.7 M443.2 386.3 V387.2 M385.6 335.3 H384.7 M444.1 386.3 V387.9 M385.6 334.5 H384.0 M450.0 386.3 V387.2 M385.6 329.3 H384.7 M453.4 386.3 V387.2 M385.6 326.2 H384.7 M455.8 386.3 V387.2 M385.6 324.1 H384.7 M457.7 386.3 V387.2 M385.6 322.4 H384.7 M459.3 386.3 V387.2 M385.6 321.0 H384.7 M460.6 386.3 V387.2 M385.6 319.9 H384.7 M461.7 386.3 V387.2 M385.6 318.9 H384.7 M462.7 386.3 V387.2 M385.6 318.0 H384.7" fill="none" stroke="#333" stroke-width="0.6"/>
<line x1="405.20" y1="317.20" x2="405.20" y2="386.30" stroke="#888" stroke-width="0.7"/>
<line x1="405.20" y1="367.30" x2="463.60" y2="367.30" stroke="#888" stroke-width="0.7"/>
<rect x="288.90" y="398.80" width="78.40" height="69.90" fill="none" stroke="#444" stroke-width="0.9"/>
<text x="286.40" y="475.20" font-size="4.5" fill="#333">10<tspan dy="-2.02" font-size="3.15">0</tspan></text>
<text x="280.10" y="470.20" font-size="4.5" fill="#333">10<tspan dy="-2.02" font-size="3.15">0</tspan></text>
<text x="306.00" y="475.20" font-size="4.5" fill="#333">10<tspan dy="-2.02" font-size="3.15">1</tspan></text>
<text x="280.10" y="452.73" font-size="4.5" fill="#333">10<tspan dy="-2.02" font-size="3.15">1</tspan></text>
<text x="325.60" y="475.20" font-size="4.5" fill="#333">10<tspan dy="-2.02" font-size="3.15">2</tspan></text>
<text x="280.10" y="435.25" font-size="4.5" fill="#333">10<tspan dy="-2.02" font-size="3.15">2</tspan></text>
<text x="345.20" y="475.20" font-size="4.5" fill="#333">10<tspan dy="-2.02" font-size="3.15">3</tspan></text>
<text x="280.10" y="417.77" font-size="4.5" fill="#333">10<tspan dy="-2.02" font-size="3.15">3</tspan></text>
<text x="364.80" y="475.20" font-size="4.5" fill="#333">10<tspan dy="-2.02" font-size="3.15">4</tspan></text>
<text x="280.10" y="400.30" font-size="4.5" fill="#333">10<tspan dy="-2.02" font-size="3.15">4</tspan></text>
<path d="M288.9 468.7 V470.3 M288.9 468.7 H287.3 M294.8 468.7 V469.6 M288.9 463.4 H288.0 M298.3 468.7 V469.6 M288.9 460.4 H288.0 M300.7 468.7 V469.6 M288.9 458.2 H288.0 M302.6 468.7 V469.6 M288.9 456.5 H288.0 M304.2 468.7 V469.6 M288.9 455.1 H288.0 M305.5 468.7 V469.6 M288.9 453.9 H288.0 M306.6 468.7 V469.6 M288.9 452.9 H288.0 M307.6 468.7 V469.6 M288.9 452.0 H288.0 M308.5 468.7 V470.3 M288.9 451.2 H287.3 M314.4 468.7 V469.6 M288.9 446.0 H288.0 M317.9 468.7 V469.6 M288.9 442.9 H288.0 M320.3 468.7 V469.6 M288.9 440.7 H288.0 M322.2 468.7 V469.6 M288.9 439.0 H288.0 M323.8 468.7 V469.6 M288.9 437.6 H288.0 M325.1 468.7 V469.6 M288.9 436.5 H288.0 M326.2 468.7 V469.6 M288.9 435.4 H288.0 M327.2 468.7 V469.6 M288.9 434.5 H288.0 M328.1 468.7 V470.3 M288.9 433.8 H287.3 M334.0 468.7 V469.6 M288.9 428.5 H288.0 M337.5 468.7 V469.6 M288.9 425.4 H288.0 M339.9 468.7 V469.6 M288.9 423.2 H288.0 M341.8 468.7 V469.6 M288.9 421.5 H288.0 M343.4 468.7 V469.6 M288.9 420.2 H288.0 M344.7 468.7 V469.6 M288.9 419.0 H288.0 M345.8 468.7 V469.6 M288.9 418.0 H288.0 M346.8 468.7 V469.6 M288.9 417.1 H288.0 M347.7 468.7 V470.3 M288.9 416.3 H287.3 M353.6 468.7 V469.6 M288.9 411.0 H288.0 M357.1 468.7 V469.6 M288.9 407.9 H288.0 M359.5 468.7 V469.6 M288.9 405.8 H288.0 M361.4 468.7 V469.6 M288.9 404.1 H288.0 M363.0 468.7 V469.6 M288.9 402.7 H288.0 M364.3 468.7 V469.6 M288.9 401.5 H288.0 M365.4 468.7 V469.6 M288.9 400.5 H288.0 M366.4 468.7 V469.6 M288.9 399.6 H288.0" fill="none" stroke="#333" stroke-width="0.6"/>
<line x1="309.00" y1="398.80" x2="309.00" y2="468.70" stroke="#888" stroke-width="0.7"/>
<line x1="309.00" y1="448.80" x2="367.30" y2="448.80" stroke="#888" stroke-width="0.7"/>
<rect x="385.60" y="398.80" width="78.00" height="69.90" fill="none" stroke="#444" stroke-width="0.9"/>
<text x="383.10" y="475.20" font-size="4.5" fill="#333">10<tspan dy="-2.02" font-size="3.15">0</tspan></text>
<text x="376.80" y="470.20" font-size="4.5" fill="#333">10<tspan dy="-2.02" font-size="3.15">0</tspan></text>
<text x="402.60" y="475.20" font-size="4.5" fill="#333">10<tspan dy="-2.02" font-size="3.15">1</tspan></text>
<text x="376.80" y="452.73" font-size="4.5" fill="#333">10<tspan dy="-2.02" font-size="3.15">1</tspan></text>
<text x="422.10" y="475.20" font-size="4.5" fill="#333">10<tspan dy="-2.02" font-size="3.15">2</tspan></text>
<text x="376.80" y="435.25" font-size="4.5" fill="#333">10<tspan dy="-2.02" font-size="3.15">2</tspan></text>
<text x="441.60" y="475.20" font-size="4.5" fill="#333">10<tspan dy="-2.02" font-size="3.15">3</tspan></text>
<text x="376.80" y="417.77" font-size="4.5" fill="#333">10<tspan dy="-2.02" font-size="3.15">3</tspan></text>
<text x="461.10" y="475.20" font-size="4.5" fill="#333">10<tspan dy="-2.02" font-size="3.15">4</tspan></text>
<text x="376.80" y="400.30" font-size="4.5" fill="#333">10<tspan dy="-2.02" font-size="3.15">4</tspan></text>
<path d="M385.6 468.7 V470.3 M385.6 468.7 H384.0 M391.5 468.7 V469.6 M385.6 463.4 H384.7 M394.9 468.7 V469.6 M385.6 460.4 H384.7 M397.3 468.7 V469.6 M385.6 458.2 H384.7 M399.2 468.7 V469.6 M385.6 456.5 H384.7 M400.8 468.7 V469.6 M385.6 455.1 H384.7 M402.1 468.7 V469.6 M385.6 453.9 H384.7 M403.2 468.7 V469.6 M385.6 452.9 H384.7 M404.2 468.7 V469.6 M385.6 452.0 H384.7 M405.1 468.7 V470.3 M385.6 451.2 H384.0 M411.0 468.7 V469.6 M385.6 446.0 H384.7 M414.4 468.7 V469.6 M385.6 442.9 H384.7 M416.8 468.7 V469.6 M385.6 440.7 H384.7 M418.7 468.7 V469.6 M385.6 439.0 H384.7 M420.3 468.7 V469.6 M385.6 437.6 H384.7 M421.6 468.7 V469.6 M385.6 436.5 H384.7 M422.7 468.7 V469.6 M385.6 435.4 H384.7 M423.7 468.7 V469.6 M385.6 434.5 H384.7 M424.6 468.7 V470.3 M385.6 433.8 H384.0 M430.5 468.7 V469.6 M385.6 428.5 H384.7 M433.9 468.7 V469.6 M385.6 425.4 H384.7 M436.3 468.7 V469.6 M385.6 423.2 H384.7 M438.2 468.7 V469.6 M385.6 421.5 H384.7 M439.8 468.7 V469.6 M385.6 420.2 H384.7 M441.1 468.7 V469.6 M385.6 419.0 H384.7 M442.2 468.7 V469.6 M385.6 418.0 H384.7 M443.2 468.7 V469.6 M385.6 417.1 H384.7 M444.1 468.7 V470.3 M385.6 416.3 H384.0 M450.0 468.7 V469.6 M385.6 411.0 H384.7 M453.4 468.7 V469.6 M385.6 407.9 H384.7 M455.8 468.7 V469.6 M385.6 405.8 H384.7 M457.7 468.7 V469.6 M385.6 404.1 H384.7 M459.3 468.7 V469.6 M385.6 402.7 H384.7 M460.6 468.7 V469.6 M385.6 401.5 H384.7 M461.7 468.7 V469.6 M385.6 400.5 H384.7 M462.7 468.7 V469.6 M385.6 399.6 H384.7" fill="none" stroke="#333" stroke-width="0.6"/>
<line x1="405.20" y1="398.80" x2="405.20" y2="468.70" stroke="#888" stroke-width="0.7"/>
<line x1="405.20" y1="448.80" x2="463.60" y2="448.80" stroke="#888" stroke-width="0.7"/>
<rect x="288.90" y="480.60" width="78.40" height="69.20" fill="none" stroke="#444" stroke-width="0.9"/>
<text x="286.40" y="556.30" font-size="4.5" fill="#333">10<tspan dy="-2.02" font-size="3.15">0</tspan></text>
<text x="280.10" y="551.30" font-size="4.5" fill="#333">10<tspan dy="-2.02" font-size="3.15">0</tspan></text>
<text x="306.00" y="556.30" font-size="4.5" fill="#333">10<tspan dy="-2.02" font-size="3.15">1</tspan></text>
<text x="280.10" y="534.00" font-size="4.5" fill="#333">10<tspan dy="-2.02" font-size="3.15">1</tspan></text>
<text x="325.60" y="556.30" font-size="4.5" fill="#333">10<tspan dy="-2.02" font-size="3.15">2</tspan></text>
<text x="280.10" y="516.70" font-size="4.5" fill="#333">10<tspan dy="-2.02" font-size="3.15">2</tspan></text>
<text x="345.20" y="556.30" font-size="4.5" fill="#333">10<tspan dy="-2.02" font-size="3.15">3</tspan></text>
<text x="280.10" y="499.40" font-size="4.5" fill="#333">10<tspan dy="-2.02" font-size="3.15">3</tspan></text>
<text x="364.80" y="556.30" font-size="4.5" fill="#333">10<tspan dy="-2.02" font-size="3.15">4</tspan></text>
<text x="280.10" y="482.10" font-size="4.5" fill="#333">10<tspan dy="-2.02" font-size="3.15">4</tspan></text>
<path d="M288.9 549.8 V551.4 M288.9 549.8 H287.3 M294.8 549.8 V550.7 M288.9 544.6 H288.0 M298.3 549.8 V550.7 M288.9 541.5 H288.0 M300.7 549.8 V550.7 M288.9 539.4 H288.0 M302.6 549.8 V550.7 M288.9 537.7 H288.0 M304.2 549.8 V550.7 M288.9 536.3 H288.0 M305.5 549.8 V550.7 M288.9 535.2 H288.0 M306.6 549.8 V550.7 M288.9 534.2 H288.0 M307.6 549.8 V550.7 M288.9 533.3 H288.0 M308.5 549.8 V551.4 M288.9 532.5 H287.3 M314.4 549.8 V550.7 M288.9 527.3 H288.0 M317.9 549.8 V550.7 M288.9 524.2 H288.0 M320.3 549.8 V550.7 M288.9 522.1 H288.0 M322.2 549.8 V550.7 M288.9 520.4 H288.0 M323.8 549.8 V550.7 M288.9 519.0 H288.0 M325.1 549.8 V550.7 M288.9 517.9 H288.0 M326.2 549.8 V550.7 M288.9 516.9 H288.0 M327.2 549.8 V550.7 M288.9 516.0 H288.0 M328.1 549.8 V551.4 M288.9 515.2 H287.3 M334.0 549.8 V550.7 M288.9 510.0 H288.0 M337.5 549.8 V550.7 M288.9 506.9 H288.0 M339.9 549.8 V550.7 M288.9 504.8 H288.0 M341.8 549.8 V550.7 M288.9 503.1 H288.0 M343.4 549.8 V550.7 M288.9 501.7 H288.0 M344.7 549.8 V550.7 M288.9 500.6 H288.0 M345.8 549.8 V550.7 M288.9 499.6 H288.0 M346.8 549.8 V550.7 M288.9 498.7 H288.0 M347.7 549.8 V551.4 M288.9 497.9 H287.3 M353.6 549.8 V550.7 M288.9 492.7 H288.0 M357.1 549.8 V550.7 M288.9 489.6 H288.0 M359.5 549.8 V550.7 M288.9 487.5 H288.0 M361.4 549.8 V550.7 M288.9 485.8 H288.0 M363.0 549.8 V550.7 M288.9 484.4 H288.0 M364.3 549.8 V550.7 M288.9 483.3 H288.0 M365.4 549.8 V550.7 M288.9 482.3 H288.0 M366.4 549.8 V550.7 M288.9 481.4 H288.0" fill="none" stroke="#333" stroke-width="0.6"/>
<line x1="309.00" y1="480.60" x2="309.00" y2="549.80" stroke="#888" stroke-width="0.7"/>
<line x1="309.00" y1="531.20" x2="367.30" y2="531.20" stroke="#888" stroke-width="0.7"/>
<rect x="385.60" y="480.60" width="78.00" height="69.20" fill="none" stroke="#444" stroke-width="0.9"/>
<text x="383.10" y="556.30" font-size="4.5" fill="#333">10<tspan dy="-2.02" font-size="3.15">0</tspan></text>
<text x="376.80" y="551.30" font-size="4.5" fill="#333">10<tspan dy="-2.02" font-size="3.15">0</tspan></text>
<text x="402.60" y="556.30" font-size="4.5" fill="#333">10<tspan dy="-2.02" font-size="3.15">1</tspan></text>
<text x="376.80" y="534.00" font-size="4.5" fill="#333">10<tspan dy="-2.02" font-size="3.15">1</tspan></text>
<text x="422.10" y="556.30" font-size="4.5" fill="#333">10<tspan dy="-2.02" font-size="3.15">2</tspan></text>
<text x="376.80" y="516.70" font-size="4.5" fill="#333">10<tspan dy="-2.02" font-size="3.15">2</tspan></text>
<text x="441.60" y="556.30" font-size="4.5" fill="#333">10<tspan dy="-2.02" font-size="3.15">3</tspan></text>
<text x="376.80" y="499.40" font-size="4.5" fill="#333">10<tspan dy="-2.02" font-size="3.15">3</tspan></text>
<text x="461.10" y="556.30" font-size="4.5" fill="#333">10<tspan dy="-2.02" font-size="3.15">4</tspan></text>
<text x="376.80" y="482.10" font-size="4.5" fill="#333">10<tspan dy="-2.02" font-size="3.15">4</tspan></text>
<path d="M385.6 549.8 V551.4 M385.6 549.8 H384.0 M391.5 549.8 V550.7 M385.6 544.6 H384.7 M394.9 549.8 V550.7 M385.6 541.5 H384.7 M397.3 549.8 V550.7 M385.6 539.4 H384.7 M399.2 549.8 V550.7 M385.6 537.7 H384.7 M400.8 549.8 V550.7 M385.6 536.3 H384.7 M402.1 549.8 V550.7 M385.6 535.2 H384.7 M403.2 549.8 V550.7 M385.6 534.2 H384.7 M404.2 549.8 V550.7 M385.6 533.3 H384.7 M405.1 549.8 V551.4 M385.6 532.5 H384.0 M411.0 549.8 V550.7 M385.6 527.3 H384.7 M414.4 549.8 V550.7 M385.6 524.2 H384.7 M416.8 549.8 V550.7 M385.6 522.1 H384.7 M418.7 549.8 V550.7 M385.6 520.4 H384.7 M420.3 549.8 V550.7 M385.6 519.0 H384.7 M421.6 549.8 V550.7 M385.6 517.9 H384.7 M422.7 549.8 V550.7 M385.6 516.9 H384.7 M423.7 549.8 V550.7 M385.6 516.0 H384.7 M424.6 549.8 V551.4 M385.6 515.2 H384.0 M430.5 549.8 V550.7 M385.6 510.0 H384.7 M433.9 549.8 V550.7 M385.6 506.9 H384.7 M436.3 549.8 V550.7 M385.6 504.8 H384.7 M438.2 549.8 V550.7 M385.6 503.1 H384.7 M439.8 549.8 V550.7 M385.6 501.7 H384.7 M441.1 549.8 V550.7 M385.6 500.6 H384.7 M442.2 549.8 V550.7 M385.6 499.6 H384.7 M443.2 549.8 V550.7 M385.6 498.7 H384.7 M444.1 549.8 V551.4 M385.6 497.9 H384.0 M450.0 549.8 V550.7 M385.6 492.7 H384.7 M453.4 549.8 V550.7 M385.6 489.6 H384.7 M455.8 549.8 V550.7 M385.6 487.5 H384.7 M457.7 549.8 V550.7 M385.6 485.8 H384.7 M459.3 549.8 V550.7 M385.6 484.4 H384.7 M460.6 549.8 V550.7 M385.6 483.3 H384.7 M461.7 549.8 V550.7 M385.6 482.3 H384.7 M462.7 549.8 V550.7 M385.6 481.4 H384.7" fill="none" stroke="#333" stroke-width="0.6"/>
<line x1="405.20" y1="480.60" x2="405.20" y2="549.80" stroke="#888" stroke-width="0.7"/>
<line x1="405.20" y1="531.20" x2="463.60" y2="531.20" stroke="#888" stroke-width="0.7"/>
<rect x="288.90" y="561.70" width="78.40" height="69.30" fill="none" stroke="#444" stroke-width="0.9"/>
<text x="286.40" y="637.50" font-size="4.5" fill="#333">10<tspan dy="-2.02" font-size="3.15">0</tspan></text>
<text x="280.10" y="632.50" font-size="4.5" fill="#333">10<tspan dy="-2.02" font-size="3.15">0</tspan></text>
<text x="306.00" y="637.50" font-size="4.5" fill="#333">10<tspan dy="-2.02" font-size="3.15">1</tspan></text>
<text x="280.10" y="615.17" font-size="4.5" fill="#333">10<tspan dy="-2.02" font-size="3.15">1</tspan></text>
<text x="325.60" y="637.50" font-size="4.5" fill="#333">10<tspan dy="-2.02" font-size="3.15">2</tspan></text>
<text x="280.10" y="597.85" font-size="4.5" fill="#333">10<tspan dy="-2.02" font-size="3.15">2</tspan></text>
<text x="345.20" y="637.50" font-size="4.5" fill="#333">10<tspan dy="-2.02" font-size="3.15">3</tspan></text>
<text x="280.10" y="580.53" font-size="4.5" fill="#333">10<tspan dy="-2.02" font-size="3.15">3</tspan></text>
<text x="364.80" y="637.50" font-size="4.5" fill="#333">10<tspan dy="-2.02" font-size="3.15">4</tspan></text>
<text x="280.10" y="563.20" font-size="4.5" fill="#333">10<tspan dy="-2.02" font-size="3.15">4</tspan></text>
<path d="M288.9 631.0 V632.6 M288.9 631.0 H287.3 M294.8 631.0 V631.9 M288.9 625.8 H288.0 M298.3 631.0 V631.9 M288.9 622.7 H288.0 M300.7 631.0 V631.9 M288.9 620.6 H288.0 M302.6 631.0 V631.9 M288.9 618.9 H288.0 M304.2 631.0 V631.9 M288.9 617.5 H288.0 M305.5 631.0 V631.9 M288.9 616.4 H288.0 M306.6 631.0 V631.9 M288.9 615.4 H288.0 M307.6 631.0 V631.9 M288.9 614.5 H288.0 M308.5 631.0 V632.6 M288.9 613.7 H287.3 M314.4 631.0 V631.9 M288.9 608.5 H288.0 M317.9 631.0 V631.9 M288.9 605.4 H288.0 M320.3 631.0 V631.9 M288.9 603.2 H288.0 M322.2 631.0 V631.9 M288.9 601.6 H288.0 M323.8 631.0 V631.9 M288.9 600.2 H288.0 M325.1 631.0 V631.9 M288.9 599.0 H288.0 M326.2 631.0 V631.9 M288.9 598.0 H288.0 M327.2 631.0 V631.9 M288.9 597.1 H288.0 M328.1 631.0 V632.6 M288.9 596.4 H287.3 M334.0 631.0 V631.9 M288.9 591.1 H288.0 M337.5 631.0 V631.9 M288.9 588.1 H288.0 M339.9 631.0 V631.9 M288.9 585.9 H288.0 M341.8 631.0 V631.9 M288.9 584.2 H288.0 M343.4 631.0 V631.9 M288.9 582.9 H288.0 M344.7 631.0 V631.9 M288.9 581.7 H288.0 M345.8 631.0 V631.9 M288.9 580.7 H288.0 M346.8 631.0 V631.9 M288.9 579.8 H288.0 M347.7 631.0 V632.6 M288.9 579.0 H287.3 M353.6 631.0 V631.9 M288.9 573.8 H288.0 M357.1 631.0 V631.9 M288.9 570.8 H288.0 M359.5 631.0 V631.9 M288.9 568.6 H288.0 M361.4 631.0 V631.9 M288.9 566.9 H288.0 M363.0 631.0 V631.9 M288.9 565.5 H288.0 M364.3 631.0 V631.9 M288.9 564.4 H288.0 M365.4 631.0 V631.9 M288.9 563.4 H288.0 M366.4 631.0 V631.9 M288.9 562.5 H288.0" fill="none" stroke="#333" stroke-width="0.6"/>
<line x1="309.00" y1="561.70" x2="309.00" y2="631.00" stroke="#888" stroke-width="0.7"/>
<line x1="309.00" y1="612.30" x2="367.30" y2="612.30" stroke="#888" stroke-width="0.7"/>
<rect x="385.60" y="561.70" width="78.00" height="69.30" fill="none" stroke="#444" stroke-width="0.9"/>
<text x="383.10" y="637.50" font-size="4.5" fill="#333">10<tspan dy="-2.02" font-size="3.15">0</tspan></text>
<text x="376.80" y="632.50" font-size="4.5" fill="#333">10<tspan dy="-2.02" font-size="3.15">0</tspan></text>
<text x="402.60" y="637.50" font-size="4.5" fill="#333">10<tspan dy="-2.02" font-size="3.15">1</tspan></text>
<text x="376.80" y="615.17" font-size="4.5" fill="#333">10<tspan dy="-2.02" font-size="3.15">1</tspan></text>
<text x="422.10" y="637.50" font-size="4.5" fill="#333">10<tspan dy="-2.02" font-size="3.15">2</tspan></text>
<text x="376.80" y="597.85" font-size="4.5" fill="#333">10<tspan dy="-2.02" font-size="3.15">2</tspan></text>
<text x="441.60" y="637.50" font-size="4.5" fill="#333">10<tspan dy="-2.02" font-size="3.15">3</tspan></text>
<text x="376.80" y="580.53" font-size="4.5" fill="#333">10<tspan dy="-2.02" font-size="3.15">3</tspan></text>
<text x="461.10" y="637.50" font-size="4.5" fill="#333">10<tspan dy="-2.02" font-size="3.15">4</tspan></text>
<text x="376.80" y="563.20" font-size="4.5" fill="#333">10<tspan dy="-2.02" font-size="3.15">4</tspan></text>
<path d="M385.6 631.0 V632.6 M385.6 631.0 H384.0 M391.5 631.0 V631.9 M385.6 625.8 H384.7 M394.9 631.0 V631.9 M385.6 622.7 H384.7 M397.3 631.0 V631.9 M385.6 620.6 H384.7 M399.2 631.0 V631.9 M385.6 618.9 H384.7 M400.8 631.0 V631.9 M385.6 617.5 H384.7 M402.1 631.0 V631.9 M385.6 616.4 H384.7 M403.2 631.0 V631.9 M385.6 615.4 H384.7 M404.2 631.0 V631.9 M385.6 614.5 H384.7 M405.1 631.0 V632.6 M385.6 613.7 H384.0 M411.0 631.0 V631.9 M385.6 608.5 H384.7 M414.4 631.0 V631.9 M385.6 605.4 H384.7 M416.8 631.0 V631.9 M385.6 603.2 H384.7 M418.7 631.0 V631.9 M385.6 601.6 H384.7 M420.3 631.0 V631.9 M385.6 600.2 H384.7 M421.6 631.0 V631.9 M385.6 599.0 H384.7 M422.7 631.0 V631.9 M385.6 598.0 H384.7 M423.7 631.0 V631.9 M385.6 597.1 H384.7 M424.6 631.0 V632.6 M385.6 596.4 H384.0 M430.5 631.0 V631.9 M385.6 591.1 H384.7 M433.9 631.0 V631.9 M385.6 588.1 H384.7 M436.3 631.0 V631.9 M385.6 585.9 H384.7 M438.2 631.0 V631.9 M385.6 584.2 H384.7 M439.8 631.0 V631.9 M385.6 582.9 H384.7 M441.1 631.0 V631.9 M385.6 581.7 H384.7 M442.2 631.0 V631.9 M385.6 580.7 H384.7 M443.2 631.0 V631.9 M385.6 579.8 H384.7 M444.1 631.0 V632.6 M385.6 579.0 H384.0 M450.0 631.0 V631.9 M385.6 573.8 H384.7 M453.4 631.0 V631.9 M385.6 570.8 H384.7 M455.8 631.0 V631.9 M385.6 568.6 H384.7 M457.7 631.0 V631.9 M385.6 566.9 H384.7 M459.3 631.0 V631.9 M385.6 565.5 H384.7 M460.6 631.0 V631.9 M385.6 564.4 H384.7 M461.7 631.0 V631.9 M385.6 563.4 H384.7 M462.7 631.0 V631.9 M385.6 562.5 H384.7" fill="none" stroke="#333" stroke-width="0.6"/>
<line x1="405.20" y1="561.70" x2="405.20" y2="631.00" stroke="#888" stroke-width="0.7"/>
<line x1="405.20" y1="612.30" x2="463.60" y2="612.30" stroke="#888" stroke-width="0.7"/>
<rect x="288.90" y="643.50" width="78.40" height="70.00" fill="none" stroke="#444" stroke-width="0.9"/>
<text x="286.40" y="720.00" font-size="4.5" fill="#333">10<tspan dy="-2.02" font-size="3.15">0</tspan></text>
<text x="280.10" y="715.00" font-size="4.5" fill="#333">10<tspan dy="-2.02" font-size="3.15">0</tspan></text>
<text x="306.00" y="720.00" font-size="4.5" fill="#333">10<tspan dy="-2.02" font-size="3.15">1</tspan></text>
<text x="280.10" y="697.50" font-size="4.5" fill="#333">10<tspan dy="-2.02" font-size="3.15">1</tspan></text>
<text x="325.60" y="720.00" font-size="4.5" fill="#333">10<tspan dy="-2.02" font-size="3.15">2</tspan></text>
<text x="280.10" y="680.00" font-size="4.5" fill="#333">10<tspan dy="-2.02" font-size="3.15">2</tspan></text>
<text x="345.20" y="720.00" font-size="4.5" fill="#333">10<tspan dy="-2.02" font-size="3.15">3</tspan></text>
<text x="280.10" y="662.50" font-size="4.5" fill="#333">10<tspan dy="-2.02" font-size="3.15">3</tspan></text>
<text x="364.80" y="720.00" font-size="4.5" fill="#333">10<tspan dy="-2.02" font-size="3.15">4</tspan></text>
<text x="280.10" y="645.00" font-size="4.5" fill="#333">10<tspan dy="-2.02" font-size="3.15">4</tspan></text>
<path d="M288.9 713.5 V715.1 M288.9 713.5 H287.3 M294.8 713.5 V714.4 M288.9 708.2 H288.0 M298.3 713.5 V714.4 M288.9 705.2 H288.0 M300.7 713.5 V714.4 M288.9 703.0 H288.0 M302.6 713.5 V714.4 M288.9 701.3 H288.0 M304.2 713.5 V714.4 M288.9 699.9 H288.0 M305.5 713.5 V714.4 M288.9 698.7 H288.0 M306.6 713.5 V714.4 M288.9 697.7 H288.0 M307.6 713.5 V714.4 M288.9 696.8 H288.0 M308.5 713.5 V715.1 M288.9 696.0 H287.3 M314.4 713.5 V714.4 M288.9 690.7 H288.0 M317.9 713.5 V714.4 M288.9 687.7 H288.0 M320.3 713.5 V714.4 M288.9 685.5 H288.0 M322.2 713.5 V714.4 M288.9 683.8 H288.0 M323.8 713.5 V714.4 M288.9 682.4 H288.0 M325.1 713.5 V714.4 M288.9 681.2 H288.0 M326.2 713.5 V714.4 M288.9 680.2 H288.0 M327.2 713.5 V714.4 M288.9 679.3 H288.0 M328.1 713.5 V715.1 M288.9 678.5 H287.3 M334.0 713.5 V714.4 M288.9 673.2 H288.0 M337.5 713.5 V714.4 M288.9 670.2 H288.0 M339.9 713.5 V714.4 M288.9 668.0 H288.0 M341.8 713.5 V714.4 M288.9 666.3 H288.0 M343.4 713.5 V714.4 M288.9 664.9 H288.0 M344.7 713.5 V714.4 M288.9 663.7 H288.0 M345.8 713.5 V714.4 M288.9 662.7 H288.0 M346.8 713.5 V714.4 M288.9 661.8 H288.0 M347.7 713.5 V715.1 M288.9 661.0 H287.3 M353.6 713.5 V714.4 M288.9 655.7 H288.0 M357.1 713.5 V714.4 M288.9 652.7 H288.0 M359.5 713.5 V714.4 M288.9 650.5 H288.0 M361.4 713.5 V714.4 M288.9 648.8 H288.0 M363.0 713.5 V714.4 M288.9 647.4 H288.0 M364.3 713.5 V714.4 M288.9 646.2 H288.0 M365.4 713.5 V714.4 M288.9 645.2 H288.0 M366.4 713.5 V714.4 M288.9 644.3 H288.0" fill="none" stroke="#333" stroke-width="0.6"/>
<line x1="309.00" y1="643.50" x2="309.00" y2="713.50" stroke="#888" stroke-width="0.7"/>
<line x1="309.00" y1="694.50" x2="367.30" y2="694.50" stroke="#888" stroke-width="0.7"/>
<rect x="385.60" y="643.50" width="78.00" height="70.00" fill="none" stroke="#444" stroke-width="0.9"/>
<text x="383.10" y="720.00" font-size="4.5" fill="#333">10<tspan dy="-2.02" font-size="3.15">0</tspan></text>
<text x="376.80" y="715.00" font-size="4.5" fill="#333">10<tspan dy="-2.02" font-size="3.15">0</tspan></text>
<text x="402.60" y="720.00" font-size="4.5" fill="#333">10<tspan dy="-2.02" font-size="3.15">1</tspan></text>
<text x="376.80" y="697.50" font-size="4.5" fill="#333">10<tspan dy="-2.02" font-size="3.15">1</tspan></text>
<text x="422.10" y="720.00" font-size="4.5" fill="#333">10<tspan dy="-2.02" font-size="3.15">2</tspan></text>
<text x="376.80" y="680.00" font-size="4.5" fill="#333">10<tspan dy="-2.02" font-size="3.15">2</tspan></text>
<text x="441.60" y="720.00" font-size="4.5" fill="#333">10<tspan dy="-2.02" font-size="3.15">3</tspan></text>
<text x="376.80" y="662.50" font-size="4.5" fill="#333">10<tspan dy="-2.02" font-size="3.15">3</tspan></text>
<text x="461.10" y="720.00" font-size="4.5" fill="#333">10<tspan dy="-2.02" font-size="3.15">4</tspan></text>
<text x="376.80" y="645.00" font-size="4.5" fill="#333">10<tspan dy="-2.02" font-size="3.15">4</tspan></text>
<path d="M385.6 713.5 V715.1 M385.6 713.5 H384.0 M391.5 713.5 V714.4 M385.6 708.2 H384.7 M394.9 713.5 V714.4 M385.6 705.2 H384.7 M397.3 713.5 V714.4 M385.6 703.0 H384.7 M399.2 713.5 V714.4 M385.6 701.3 H384.7 M400.8 713.5 V714.4 M385.6 699.9 H384.7 M402.1 713.5 V714.4 M385.6 698.7 H384.7 M403.2 713.5 V714.4 M385.6 697.7 H384.7 M404.2 713.5 V714.4 M385.6 696.8 H384.7 M405.1 713.5 V715.1 M385.6 696.0 H384.0 M411.0 713.5 V714.4 M385.6 690.7 H384.7 M414.4 713.5 V714.4 M385.6 687.7 H384.7 M416.8 713.5 V714.4 M385.6 685.5 H384.7 M418.7 713.5 V714.4 M385.6 683.8 H384.7 M420.3 713.5 V714.4 M385.6 682.4 H384.7 M421.6 713.5 V714.4 M385.6 681.2 H384.7 M422.7 713.5 V714.4 M385.6 680.2 H384.7 M423.7 713.5 V714.4 M385.6 679.3 H384.7 M424.6 713.5 V715.1 M385.6 678.5 H384.0 M430.5 713.5 V714.4 M385.6 673.2 H384.7 M433.9 713.5 V714.4 M385.6 670.2 H384.7 M436.3 713.5 V714.4 M385.6 668.0 H384.7 M438.2 713.5 V714.4 M385.6 666.3 H384.7 M439.8 713.5 V714.4 M385.6 664.9 H384.7 M441.1 713.5 V714.4 M385.6 663.7 H384.7 M442.2 713.5 V714.4 M385.6 662.7 H384.7 M443.2 713.5 V714.4 M385.6 661.8 H384.7 M444.1 713.5 V715.1 M385.6 661.0 H384.0 M450.0 713.5 V714.4 M385.6 655.7 H384.7 M453.4 713.5 V714.4 M385.6 652.7 H384.7 M455.8 713.5 V714.4 M385.6 650.5 H384.7 M457.7 713.5 V714.4 M385.6 648.8 H384.7 M459.3 713.5 V714.4 M385.6 647.4 H384.7 M460.6 713.5 V714.4 M385.6 646.2 H384.7 M461.7 713.5 V714.4 M385.6 645.2 H384.7 M462.7 713.5 V714.4 M385.6 644.3 H384.7" fill="none" stroke="#333" stroke-width="0.6"/>
<line x1="405.20" y1="643.50" x2="405.20" y2="713.50" stroke="#888" stroke-width="0.7"/>
<line x1="405.20" y1="694.50" x2="463.60" y2="694.50" stroke="#888" stroke-width="0.7"/>
<text transform="translate(334.80,328.40) scale(1.05,1)" font-size="11" text-anchor="end" fill="#000" stroke="#000" stroke-width="0.12">41.7</text>
<text transform="translate(427.00,328.40) scale(1.05,1)" font-size="11" text-anchor="end" fill="#000" stroke="#000" stroke-width="0.12">30</text>
<text transform="translate(334.80,408.90) scale(1.05,1)" font-size="11" text-anchor="end" fill="#000" stroke="#000" stroke-width="0.12">32,2</text>
<text transform="translate(433.30,408.90) scale(1.05,1)" font-size="11" text-anchor="end" fill="#000" stroke="#000" stroke-width="0.12">31.3</text>
<text transform="translate(334.80,490.90) scale(1.05,1)" font-size="11" text-anchor="end" fill="#000" stroke="#000" stroke-width="0.12">8.5</text>
<text transform="translate(432.70,490.90) scale(1.05,1)" font-size="11" text-anchor="end" fill="#000" stroke="#000" stroke-width="0.12">21.5</text>
<text transform="translate(334.80,572.40) scale(1.05,1)" font-size="11" text-anchor="end" fill="#000" stroke="#000" stroke-width="0.12">17.9</text>
<text transform="translate(432.70,572.40) scale(1.05,1)" font-size="11" text-anchor="end" fill="#000" stroke="#000" stroke-width="0.12">32.4</text>
<text transform="translate(334.80,656.60) scale(1.05,1)" font-size="11" text-anchor="end" fill="#000" stroke="#000" stroke-width="0.12">6.5</text>
<text transform="translate(432.60,656.60) scale(1.05,1)" font-size="11" text-anchor="end" fill="#000" stroke="#000" stroke-width="0.12">10.3</text>
<text transform="translate(480.24,358.75) scale(1.05,1)" font-size="11.8" fill="#000" stroke="#000" stroke-width="0.12">CAb</text>
<text transform="translate(468.20,437.10) scale(1.05,1)" font-size="12" fill="#000" stroke="#000" stroke-width="0.12"><tspan font-family="Liberation Serif" font-size="1.1em">&#945;</tspan>ICOSL</text>
<text transform="translate(473.20,518.60) scale(1.05,1)" font-size="12" fill="#000" stroke="#000" stroke-width="0.12"><tspan font-family="Liberation Serif" font-size="1.1em">&#945;</tspan>CD86</text>
<text transform="translate(473.20,597.90) scale(1.05,1)" font-size="12" fill="#000" stroke="#000" stroke-width="0.12"><tspan font-family="Liberation Serif" font-size="1.1em">&#945;</tspan>CD80</text>
<text transform="translate(473.50,673.30) scale(1.05,1)" font-size="12" fill="#000" stroke="#000" stroke-width="0.12"><tspan font-family="Liberation Serif" font-size="1.1em">&#945;</tspan>CD86</text>
<text transform="translate(494.00,685.50) scale(1.05,1)" font-size="11" text-anchor="middle" fill="#000" stroke="#000" stroke-width="0.12">+</text>
<text transform="translate(473.50,697.00) scale(1.05,1)" font-size="12" fill="#000" stroke="#000" stroke-width="0.12"><tspan font-family="Liberation Serif" font-size="1.1em">&#945;</tspan>CD80</text>
</svg>
</body></html>
